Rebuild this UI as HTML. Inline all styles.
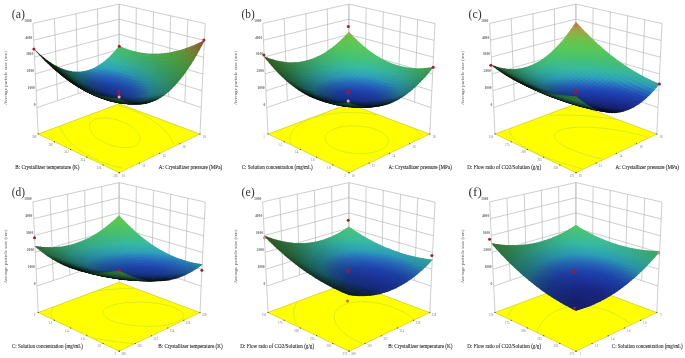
<!DOCTYPE html><html><head><meta charset="utf-8"><title>Response surface plots</title><style>
html,body{margin:0;padding:0;background:#fff;width:685px;height:358px;overflow:hidden}
svg{display:block;filter:blur(.6px)}
</style></head><body><svg width="685" height="358" viewBox="0 0 685 358" font-family="Liberation Serif"><path d="M36.9 107.6 32.9 23.4M57.5 100.6 54.4 18.6M78 93.7 76 13.7M98.6 86.7 97.5 8.9M119.1 79.8 119.1 4.1M119.1 79.8 119.1 4.1M135.6 85.4 136.3 8M152 90.9 153.5 11.9M168.4 96.5 170.7 15.8M184.8 102.1 187.9 19.7M201.2 107.6 205.2 23.6M36.9 107.6 119.1 79.8 201.2 107.6M36.1 90.7 119.1 64.6 202 90.8M35.3 73.9 119.1 49.5 202.8 74M34.5 57 119.1 34.4 203.6 57.2M33.7 40.2 119.1 19.2 204.4 40.4M32.9 23.4 119.1 4.1 205.2 23.6M36.9 107.6 38.2 134M201.2 107.6 200 134.1M119.1 79.8 119.2 103.8" fill="none" stroke="#b8b8b8" stroke-width=".7"/><path d="M119.2 172.7 200 134.1 119.2 103.8 38.2 134Z" fill="#ffff00" stroke="#b0a800" stroke-width=".45"/><path d="M129.7 125.6 129 125.2 128.3 124.8 127.6 124.3 126.9 123.9 126.1 123.5 125.2 123.1 124.3 122.6 123.3 122.2 122.3 121.8 121.2 121.3 120 120.9 118.8 120.4 117.4 120 116 119.6 114.4 119.2 112.8 118.8 111 118.5 109.2 118.2 107.3 118 105.4 117.9 103.5 117.9 101.5 118 99.7 118.2 98 118.5 96.4 118.9 94.9 119.5 93.7 120.1 92.6 120.8 91.7 121.5 91 122.2 90.4 123 90 123.8 89.8 124.5 89.6 125.3 89.5 126 89.5 126.7 89.5 127.4 89.6 128 89.8 128.6 90 129.3 90.2 129.8 90.4 130.4 90.7 130.9 91 131.5 91.3 132 91.6 132.5 92 132.9 92.3 133.4 92.7 133.9 93.1 134.3 93.5 134.8 93.9 135.2 94.3 135.6 94.8 136.1 95.2 136.5 95.7 136.9 96.3 137.4 96.8 137.8 97.4 138.2 98 138.7 98.6 139.1 99.3 139.6 100 140 100.7 140.5 101.5 141 102.4 141.5 103.3 142 104.3 142.5 105.4 143 106.6 143.5 107.8 144 109.2 144.5 110.7 145.1 112.2 145.6 113.9 146 115.8 146.5 117.7 146.9 119.7 147.2 121.8 147.5 124 147.6 126.1 147.6 128.2 147.5 130.3 147.3 132.1 146.9 133.8 146.4 135.3 145.7 136.6 145 137.6 144.2 138.5 143.3 139.1 142.4 139.5 141.6 139.8 140.7 140 139.8 140 139 140 138.2 139.9 137.5 139.7 136.7 139.4 136 139.2 135.4 138.9 134.7 138.5 134.1 138.2 133.6 137.8 133 137.5 132.5 137.1 132 136.7 131.5 136.2 131 135.8 130.6 135.4 130.1 134.9 129.7 134.5 129.2 134 128.8 133.5 128.4 133 128 132.5 127.6 132 127.2 131.4 126.8 130.9 126.4 130.3 126 129.7 125.6M173.7 144.7 173.1 143 172.4 141.3 171.6 139.8 170.7 138.3 169.8 136.9 168.9 135.6 167.9 134.3 166.9 133.1 165.9 132 164.9 130.9 163.8 129.8 162.8 128.8 161.7 127.8 160.6 126.8 159.5 125.9 158.4 124.9 157.2 124 156 123.1 154.8 122.2 153.6 121.4 152.3 120.5 151 119.6 149.6 118.8 148.2 117.9 146.7 117.1 145.1 116.2 143.5 115.3 141.8 114.4 140 113.5 138.1 112.7 136.1 111.7 134 110.8 131.8 109.9 129.3 109 126.8 108.1 124 107.2 121.1 106.3 118 105.5M60.1 125.9 60.4 127.2 60.8 128.4 61.3 129.6 61.8 130.8 62.4 132 63 133.1 63.7 134.2 64.4 135.2 65.1 136.3 65.9 137.3 66.7 138.4 67.6 139.4 68.5 140.4 69.5 141.4 70.5 142.4 71.5 143.5 72.6 144.5 73.8 145.5 75 146.6 76.3 147.6 77.7 148.7 79.2 149.8 80.8 150.9 82.5 152.1 84.4 153.2 86.3 154.4 88.5 155.6 90.8 156.9 93.3 158.2 96 159.5 99 160.8 102.2 162.1 105.7 163.4 109.5 164.7 113.6 166 118 167.1 122.7 168.2" fill="none" stroke="#d0ea24" stroke-width=".9"/><g transform="scale(.1)"><path d="M1191 510l30-39-30-14-29 38z" fill="#4abe69"/><path d="M1166 539l30-36-30-15-29 36z" fill="#45be73"/><path d="M1216 521l30-39-30-14-29 39z" fill="#48bd69"/><path d="M1141 567l30-34-30-16-30 34z" fill="#41bd81"/><path d="M1191 551l30-37-30-14-30 36z" fill="#43bc74"/><path d="M1242 531l29-40-30-12-29 39z" fill="#47bb6a"/><path d="M1116 593l30-32-30-17-30 31z" fill="#3dbc8f"/><path d="M1166 579l30-35-30-15-30 35z" fill="#3fbb83"/><path d="M1216 562l30-38-30-13-29 37z" fill="#42ba75"/><path d="M1090 617l31-30-30-18-31 29z" fill="#39bb9b"/><path d="M1267 540l29-41-30-11-29 40z" fill="#46b969"/><path d="M1141 606l30-33-30-16-30 32z" fill="#3bba91"/><path d="M1191 591l30-36-30-14-30 35z" fill="#3eb985"/><path d="M1242 572l30-39-31-12-29 38z" fill="#41b875"/><path d="M1064 638l31-27-30-19-30 27z" fill="#36b7a5"/><path d="M1115 630l31-31-30-16-31 30z" fill="#37b99e"/><path d="M1293 549l29-42-30-10-29 40z" fill="#45b769"/><path d="M1166 617l30-33-30-15-30 33z" fill="#3ab893"/><path d="M1217 601l30-36-31-13-29 35z" fill="#3db785"/><path d="M1039 658l31-25-30-19-31 24z" fill="#33b0ad"/><path d="M1268 581l29-40-30-11-30 39z" fill="#40b675"/><path d="M1089 652l31-28-30-17-30 27z" fill="#34b3a8"/><path d="M1140 642l31-31-30-15-31 30z" fill="#36b6a0"/><path d="M1319 556l29-42-30-10-30 42z" fill="#44b568"/><path d="M1191 629l30-35-30-13-30 33z" fill="#38b694"/><path d="M1242 611l30-37-30-12-30 36z" fill="#3bb585"/><path d="M1013 676l31-23-30-20-31 22z" fill="#31aab2"/><path d="M1064 673l31-26-30-19-31 26z" fill="#32acb0"/><path d="M1115 665l30-29-30-16-30 28z" fill="#33afaa"/><path d="M1293 589l30-40-30-10-30 39z" fill="#3fb474"/><path d="M1166 654l30-32-30-15-30 32z" fill="#35b3a1"/><path d="M1217 639l30-35-30-13-30 34z" fill="#37b494"/><path d="M1345 563l29-43-31-9-29 43z" fill="#44b366"/><path d="M1268 620l30-38-31-11-29 37z" fill="#3bb385"/><path d="M986 692l32-21-30-21-31 20z" fill="#2ea3b4"/><path d="M1038 691l31-24-30-19-31 23z" fill="#2fa6b6"/><path d="M1089 687l31-27-30-18-31 26z" fill="#30a9b3"/><path d="M1140 678l31-30-31-16-30 30z" fill="#32acac"/><path d="M1319 596l30-40-31-10-29 40z" fill="#3fb273"/><path d="M1191 665l31-33-31-13-30 32z" fill="#34b0a1"/><path d="M1243 648l30-35-31-12-30 35z" fill="#36b294"/><path d="M1371 569l29-44-31-7-29 42z" fill="#44b165"/><path d="M1011 708l32-22-30-20-31 21z" fill="#2d9fb9"/><path d="M1063 706l31-25-30-18-31 24z" fill="#2ea3b9"/><path d="M960 706l32-19-30-21-32 18z" fill="#2c9cb4"/><path d="M1294 628l30-39-31-10-30 38z" fill="#3ab183"/><path d="M1114 700l31-28-30-17-31 27z" fill="#2fa5b5"/><path d="M1166 689l30-30-30-15-31 30z" fill="#31a9ac"/><path d="M1346 603l29-42-31-8-29 41z" fill="#3eb071"/><path d="M1217 675l30-33-30-13-30 33z" fill="#33ada1"/><path d="M1269 657l30-36-31-11-30 35z" fill="#36b093"/><path d="M1397 574l30-44-31-7-30 43z" fill="#43b063"/><path d="M1037 723l31-23-30-19-31 22z" fill="#2c95bb"/><path d="M985 722l32-19-30-21-32 19z" fill="#2b91b7"/><path d="M1088 719l31-25-30-17-31 24z" fill="#2d9cbb"/><path d="M933 718l32-16-29-23-32 16z" fill="#2a91af"/><path d="M1320 635l30-39-31-10-30 39z" fill="#39af81"/><path d="M1140 712l30-29-30-15-31 27z" fill="#2ea2b6"/><path d="M1191 700l31-31-31-14-30 31z" fill="#30a6ac"/><path d="M1372 609l30-43-31-7-30 41z" fill="#3eaf6f"/><path d="M1243 685l30-35-31-12-30 34z" fill="#32aba0"/><path d="M1295 665l30-37-31-10-30 36z" fill="#35ae91"/><path d="M1010 738l32-20-30-20-32 19z" fill="#2a86b9"/><path d="M1062 737l31-23-30-18-31 22z" fill="#2b8bbc"/><path d="M958 735l32-17-30-22-31 16z" fill="#2985b2"/><path d="M1424 578l29-45-31-6-29 45z" fill="#43ae60"/><path d="M1114 732l31-26-31-16-31 25z" fill="#2c94bb"/><path d="M906 728l32-14-29-24-32 14z" fill="#2887a8"/><path d="M1165 723l31-29-30-15-31 29z" fill="#2d9fb6"/><path d="M1347 641l29-40-31-8-29 39z" fill="#39ad7f"/><path d="M1217 710l31-32-31-13-31 32z" fill="#2fa3ab"/><path d="M1269 693l30-35-31-11-30 34z" fill="#31a99e"/><path d="M1399 613l29-42-31-7-29 42z" fill="#3ead6c"/><path d="M1035 753l32-21-30-19-32 20z" fill="#297dbb"/><path d="M983 751l32-18-30-21-31 17z" fill="#287bb5"/><path d="M1087 750l32-24-31-17-31 23z" fill="#2a83bc"/><path d="M1321 672l30-38-31-9-30 37z" fill="#35ac8f"/><path d="M931 745l32-15-29-22-32 14z" fill="#277cab"/><path d="M1139 744l31-27-30-15-31 26z" fill="#2b8dba"/><path d="M1451 581l29-45-31-5-29 45z" fill="#44ad5e"/><path d="M879 735l33-11-30-25-32 12z" fill="#25809e"/><path d="M1191 734l31-30-31-14-30 29z" fill="#2c9db5"/><path d="M1373 647l30-41-31-7-30 40z" fill="#39ac7c"/><path d="M1243 719l31-33-31-11-31 32z" fill="#2ea1aa"/><path d="M1295 701l31-36-31-10-31 35z" fill="#31a79c"/><path d="M1426 617l29-43-31-6-30 43z" fill="#3eac69"/><path d="M1061 767l32-22-31-18-31 21z" fill="#2874bc"/><path d="M1009 766l32-18-30-20-32 18z" fill="#2771b7"/><path d="M1113 763l31-25-30-16-31 24z" fill="#297cbc"/><path d="M957 762l32-16-30-21-32 15z" fill="#2671af"/><path d="M1348 678l30-39-32-8-30 38z" fill="#34aa8c"/><path d="M1165 755l31-28-31-14-31 27z" fill="#2a88b9"/><path d="M904 754l33-13-30-23-32 12z" fill="#2574a2"/><path d="M1217 743l31-30-31-13-31 30z" fill="#2b99b4"/><path d="M1478 584l29-47-31-3-29 45z" fill="#44ab5b"/><path d="M852 741l32-9-29-25-33 8z" fill="#237a94"/><path d="M1400 651l30-41-32-7-29 41z" fill="#39aa79"/><path d="M1270 727l30-33-31-11-30 33z" fill="#2e9fa8"/><path d="M1322 707l30-36-31-9-30 36z" fill="#31a599"/><path d="M1034 781l32-19-30-19-32 18z" fill="#2669b8"/><path d="M1087 780l31-23-30-17-32 22z" fill="#286dbc"/><path d="M982 778l32-16-30-21-32 16z" fill="#2567b2"/><path d="M1453 620l29-44-31-5-30 44z" fill="#3eaa66"/><path d="M1139 775l31-26-31-15-31 25z" fill="#2976bc"/><path d="M929 771l33-13-30-23-32 13z" fill="#246aa6"/><path d="M1191 765l31-28-31-13-31 27z" fill="#2a84b8"/><path d="M1375 683l29-39-31-7-30 38z" fill="#34a888"/><path d="M877 760l32-10-29-24-33 9z" fill="#236f98"/><path d="M1244 752l30-31-31-12-30 31z" fill="#2b97b2"/><path d="M824 745l33-7-29-26-33 6z" fill="#217789"/><path d="M1506 585l29-47-32-3-29 47z" fill="#45aa58"/><path d="M1296 735l31-34-32-10-30 33z" fill="#2d9ea5"/><path d="M1427 655l30-42-32-6-29 42z" fill="#39a875"/><path d="M1060 795l32-20-31-18-31 19z" fill="#2562b7"/><path d="M1007 793l33-17-31-20-32 17z" fill="#2460b1"/><path d="M1113 792l31-23-31-16-31 22z" fill="#2768bb"/><path d="M1349 713l30-37-32-8-30 36z" fill="#30a496"/><path d="M955 787l32-13-30-22-32 13z" fill="#2360a9"/><path d="M1165 785l31-26-31-14-31 25z" fill="#2871bb"/><path d="M1480 623l30-45-32-4-30 44z" fill="#3fa963"/><path d="M902 778l33-11-30-23-33 10z" fill="#22659c"/><path d="M1218 775l30-29-31-13-31 29z" fill="#2981b6"/><path d="M1402 688l29-40-31-7-30 40z" fill="#35a784"/><path d="M849 764l33-8-29-25-33 7z" fill="#216c8d"/><path d="M1270 760l31-32-32-11-30 32z" fill="#2a95af"/><path d="M796 746l33-4-29-27-33 4z" fill="#20707c"/><path d="M1533 586l30-48-32-2-30 47z" fill="#45a955"/><path d="M1323 741l30-35-31-9-31 35z" fill="#2d9da2"/><path d="M1455 658l29-43-32-5-29 43z" fill="#3aa770"/><path d="M1086 807l32-20-31-17-32 20z" fill="#245db6"/><path d="M1033 807l32-17-30-19-32 17z" fill="#235ab1"/><path d="M1139 804l31-24-31-15-31 23z" fill="#2664b9"/><path d="M980 803l33-14-30-21-33 14z" fill="#2259a9"/><path d="M1376 718l30-37-32-8-30 37z" fill="#30a492"/><path d="M1191 796l31-27-31-14-31 26z" fill="#276eb9"/><path d="M927 795l33-12-30-22-32 11z" fill="#215b9f"/><path d="M1244 783l31-29-31-12-31 29z" fill="#2980b4"/><path d="M1508 624l29-46-32-3-29 46z" fill="#3fa75f"/><path d="M874 783l33-9-29-24-33 8z" fill="#206190"/><path d="M1429 691l30-40-32-6-30 40z" fill="#35a580"/><path d="M1297 767l31-32-32-10-31 32z" fill="#2a96ad"/><path d="M821 766l33-5-29-26-33 5z" fill="#1f6a81"/><path d="M1350 747l30-36-32-8-30 35z" fill="#2d9c9e"/><path d="M1561 586l29-49-32-1-29 48z" fill="#46a851"/><path d="M768 746l33-3-28-27-34 1z" fill="#1e6a70"/><path d="M1059 821l32-19-31-17-32 17z" fill="#2254b0"/><path d="M1112 820l32-22-31-16-32 21z" fill="#2359b5"/><path d="M1482 660l30-44-32-3-30 43z" fill="#3aa66b"/><path d="M1006 818l32-15-30-20-32 15z" fill="#2153a9"/><path d="M1165 814l31-24-31-15-31 24z" fill="#2560b7"/><path d="M953 811l33-12-30-22-33 12z" fill="#20549f"/><path d="M1218 805l31-28-31-12-32 27z" fill="#276cb7"/><path d="M1403 723l30-39-32-6-30 38z" fill="#31a38e"/><path d="M900 800l33-9-30-23-33 8z" fill="#1f5894"/><path d="M1271 791l31-30-32-11-31 30z" fill="#287fb1"/><path d="M846 785l34-6-30-25-33 6z" fill="#1e6085"/><path d="M1536 624l29-46-32-2-30 46z" fill="#40a65c"/><path d="M1324 774l30-34-31-9-31 33z" fill="#2a95a9"/><path d="M1456 694l30-42-32-4-30 41z" fill="#35a47b"/><path d="M793 766l33-3-29-27-33 3z" fill="#1d6875"/><path d="M1085 834l32-20-31-16-32 18z" fill="#2150af"/><path d="M1032 832l32-16-30-19-33 16z" fill="#204ea8"/><path d="M1377 752l30-37-32-7-30 36z" fill="#2d9b9a"/><path d="M1138 831l32-22-31-15-32 21z" fill="#2355b3"/><path d="M979 827l32-13-30-21-33 13z" fill="#1f4e9f"/><path d="M1191 824l32-25-32-13-31 24z" fill="#245eb5"/><path d="M1589 585l30-50-33 0-29 49z" fill="#47a74d"/><path d="M1510 661l30-44-33-3-29 44z" fill="#3ba466"/><path d="M739 743l34 0-29-29-34 0z" fill="#1d6564"/><path d="M925 817l33-10-30-22-33 9z" fill="#1e5195"/><path d="M1245 813l31-28-32-12-31 28z" fill="#266bb5"/><path d="M1431 726l30-40-33-5-30 39z" fill="#31a28a"/><path d="M872 804l33-7-30-24-33 6z" fill="#1e5788"/><path d="M1298 798l31-31-32-10-31 31z" fill="#2880ae"/><path d="M818 786l34-4-29-26-34 3z" fill="#1c6079"/><path d="M1564 624l29-47-32-1-30 46z" fill="#41a558"/><path d="M1351 779l31-34-32-8-31 33z" fill="#2a94a5"/><path d="M1484 696l30-43-32-3-30 41z" fill="#36a276"/><path d="M1111 846l32-20-31-16-32 19z" fill="#204cae"/><path d="M1058 846l32-17-31-18-32 16z" fill="#1f49a8"/><path d="M1165 841l31-23-31-14-32 23z" fill="#2253b1"/><path d="M1005 842l32-14-30-20-33 13z" fill="#1e499f"/><path d="M764 764l34-1-29-27-34 0z" fill="#1c6269"/><path d="M1405 756l30-37-32-6-31 36z" fill="#2d9b96"/><path d="M1218 833l31-26-31-12-32 25z" fill="#245db3"/><path d="M951 833l33-10-30-22-33 10z" fill="#1d4b95"/><path d="M1271 821l31-29-31-11-31 29z" fill="#266cb2"/><path d="M1618 583l29-51-33 1-29 50z" fill="#48a649"/><path d="M1538 661l30-45-33-2-29 45z" fill="#3ca362"/><path d="M897 821l34-8-30-23-33 7z" fill="#1d4e8a"/><path d="M710 738l34 2-28-29-34-3z" fill="#1c6058"/><path d="M1458 728l30-40-32-4-30 39z" fill="#31a184"/><path d="M1325 804l31-32-32-8-31 31z" fill="#2882ab"/><path d="M844 805l33-5-29-25-34 4z" fill="#1c577c"/><path d="M1379 784l30-35-32-7-31 34z" fill="#2a94a1"/><path d="M1592 622l30-48-33 1-29 47z" fill="#42a454"/><path d="M790 784l33-1-29-27-34 1z" fill="#1b606e"/><path d="M1084 858l32-17-31-17-32 17z" fill="#1e45a7"/><path d="M1138 857l32-21-32-15-32 20z" fill="#204aad"/><path d="M1512 696l30-43-33-2-29 42z" fill="#37a170"/><path d="M1031 855l32-14-31-19-32 14z" fill="#1d449f"/><path d="M1191 851l32-24-32-13-31 23z" fill="#2151af"/><path d="M977 849l33-12-31-20-32 11z" fill="#1c4595"/><path d="M1245 841l31-26-32-12-31 26z" fill="#245db1"/><path d="M1432 759l30-38-32-5-30 37z" fill="#2e9b91"/><path d="M923 838l33-9-30-22-33 8z" fill="#1c488b"/><path d="M735 759l35 2-29-28-34-2z" fill="#1b5e5d"/><path d="M1299 827l31-29-33-10-30 29z" fill="#266eaf"/><path d="M869 823l34-5-30-24-33 4z" fill="#1b4e7f"/><path d="M1566 660l30-45-33-1-29 45z" fill="#3da25e"/><path d="M1647 579l29-51-33 3-29 50z" fill="#4ba347"/><path d="M1352 809l31-32-32-8-31 32z" fill="#2885a8"/><path d="M1486 730l30-41-32-3-30 40z" fill="#329f7f"/><path d="M681 730l34 5-28-30-35-5z" fill="#1c5c4d"/><path d="M815 804l34-3-29-25-34 1z" fill="#1a5871"/><path d="M1111 870l32-19-31-15-33 17z" fill="#1e42a7"/><path d="M1057 869l32-16-31-17-32 14z" fill="#1d409f"/><path d="M1406 787l31-35-33-6-30 35z" fill="#2a949c"/><path d="M1164 867l32-22-31-14-32 21z" fill="#1f48ab"/><path d="M1003 863l33-12-31-19-33 11z" fill="#1c4096"/><path d="M1218 860l32-25-32-12-32 24z" fill="#2151ae"/><path d="M1621 620l29-49-33 2-29 48z" fill="#44a350"/><path d="M761 780l34 1-29-27-34-2z" fill="#1a5b61"/><path d="M1541 696l29-43-33-2-29 43z" fill="#38a06a"/><path d="M949 854l33-9-30-22-33 9z" fill="#1b438b"/><path d="M1272 849l31-28-32-10-31 27z" fill="#235eaf"/><path d="M1460 761l30-39-32-4-30 38z" fill="#2e9c8c"/><path d="M895 840l34-6-30-23-34 5z" fill="#1b4880"/><path d="M1326 833l31-30-32-9-31 30z" fill="#2670ac"/><path d="M706 753l35 4-29-29-35-5z" fill="#1b5a51"/><path d="M841 822l34-3-30-24-34 2z" fill="#1a5073"/><path d="M1595 659l30-47-34 1-29 45z" fill="#3ea15a"/><path d="M1676 575l29-51-33 3-29 51z" fill="#4da144"/><path d="M1380 814l31-34-33-6-31 32z" fill="#288aa5"/><path d="M1515 730l29-41-32-3-30 41z" fill="#339e79"/><path d="M1137 881l33-19-32-15-32 18z" fill="#1d40a6"/><path d="M1083 881l33-16-31-17-33 15z" fill="#1c3d9f"/><path d="M786 800l34 1-29-27-34-1z" fill="#195966"/><path d="M1191 876l32-22-32-13-31 21z" fill="#1f47aa"/><path d="M651 721l35 7-28-30-35-8z" fill="#1c5642"/><path d="M1029 877l33-13-31-19-33 13z" fill="#1b3c96"/><path d="M1434 790l30-36-32-5-31 35z" fill="#2b9497"/><path d="M1245 868l32-25-32-12-32 25z" fill="#2151ac"/><path d="M975 869l33-10-30-20-33 9z" fill="#1a3e8b"/><path d="M1650 617l29-50-33 2-29 49z" fill="#45a24b"/><path d="M1569 695l30-44-33-1-30 44z" fill="#399f64"/><path d="M1299 855l32-28-33-10-31 28z" fill="#245fad"/><path d="M921 857l33-7-30-22-33 6z" fill="#1a4281"/><path d="M731 774l35 4-28-28-35-5z" fill="#1a5855"/><path d="M1488 762l31-39-33-3-30 38z" fill="#2f9c86"/><path d="M1354 838l30-31-32-8-31 31z" fill="#2674a8"/><path d="M867 840l33-3-29-24-34 3z" fill="#194975"/><path d="M676 743l35 7-28-29-35-8z" fill="#1a5546"/><path d="M1408 817l30-34-32-6-31 34z" fill="#288da1"/><path d="M1624 656l29-47-33 1-29 47z" fill="#3fa055"/><path d="M812 820l34-1-29-25-35-1z" fill="#195368"/><path d="M1705 570l29-52-33 4-29 52z" fill="#509e41"/><path d="M1110 892l33-16-32-16-32 16z" fill="#1c3c9e"/><path d="M1543 730l30-42-33-2-30 42z" fill="#349d72"/><path d="M1164 891l32-20-31-14-32 19z" fill="#1d40a4"/><path d="M1056 890l33-14-32-17-32 13z" fill="#1b3a96"/><path d="M1218 885l32-23-32-12-32 22z" fill="#1f47a8"/><path d="M1002 883l33-10-31-20-33 10z" fill="#193a8c"/><path d="M1273 875l31-26-32-10-32 25z" fill="#2153aa"/><path d="M1462 792l31-37-33-4-31 36z" fill="#2b9591"/><path d="M757 795l35 3-29-28-35-3z" fill="#195559"/><path d="M947 872l34-7-31-21-33 7z" fill="#193d81"/><path d="M620 709l36 10-27-31-36-11z" fill="#1b5138"/><path d="M1327 861l31-29-32-9-32 29z" fill="#2462ab"/><path d="M893 857l33-4-30-23-34 4z" fill="#194377"/><path d="M1598 693l30-45-34 1-29 44z" fill="#3a9e5f"/><path d="M1679 612l30-50-34 3-29 50z" fill="#47a147"/><path d="M1517 762l30-40-33-2-30 40z" fill="#309b80"/><path d="M1381 842l31-32-33-6-30 31z" fill="#2679a5"/><path d="M702 766l35 6-28-29-36-7z" fill="#19544b"/><path d="M838 838l34-1-30-25-34 1z" fill="#184c6a"/><path d="M1137 903l32-18-31-14-33 16z" fill="#1c3b9d"/><path d="M1436 820l30-35-32-5-31 34z" fill="#288d9b"/><path d="M1083 902l32-15-31-16-33 14z" fill="#1b3995"/><path d="M1191 900l32-21-32-13-32 20z" fill="#1d3fa3"/><path d="M1028 897l33-12-31-18-33 11z" fill="#19378c"/><path d="M1653 652l30-48-34 3-29 47z" fill="#419f51"/><path d="M1246 892l31-23-32-11-31 23z" fill="#1f48a6"/><path d="M783 815l34 2-29-26-35-3z" fill="#18535d"/><path d="M1572 729l30-43-34-1-29 43z" fill="#359c6c"/><path d="M646 732l36 9-28-30-36-10z" fill="#1a4e3b"/><path d="M1735 564l29-53-34 5-29 53z" fill="#539b3f"/><path d="M973 887l34-8-31-20-33 7z" fill="#183981"/><path d="M1300 881l32-27-33-9-31 26z" fill="#2155a8"/><path d="M1491 793l30-38-33-3-30 37z" fill="#2c968b"/><path d="M919 874l33-5-30-22-34 4z" fill="#183e77"/><path d="M1355 865l31-29-33-8-31 29z" fill="#2466a8"/><path d="M727 787l35 5-28-28-35-6z" fill="#18504d"/><path d="M864 856l34-2-30-24-34 1z" fill="#17456c"/><path d="M1627 690l30-46-34 2-29 45z" fill="#3b9d5a"/><path d="M590 694l36 13-27-32-36-13z" fill="#1a472c"/><path d="M1709 607l29-51-34 4-29 51z" fill="#4a9e44"/><path d="M1409 845l31-32-33-6-30 32z" fill="#267fa1"/><path d="M1546 762l30-41-34-1-30 40z" fill="#319a79"/><path d="M1109 913l33-15-32-16-32 15z" fill="#1b3894"/><path d="M1164 913l32-19-32-13-32 17z" fill="#1c3b9c"/><path d="M671 755l36 8-28-29-36-9z" fill="#174a3c"/><path d="M809 834l34 1-29-25-35-2z" fill="#174e5f"/><path d="M1055 909l33-12-32-17-33 11z" fill="#19358c"/><path d="M1219 908l32-21-33-12-32 20z" fill="#1d3fa2"/><path d="M1464 821l31-35-33-4-31 35z" fill="#298e95"/><path d="M1000 901l33-9-31-19-33 8z" fill="#183682"/><path d="M1273 899l32-24-33-10-31 23z" fill="#1f4aa5"/><path d="M1683 648l29-49-34 3-29 49z" fill="#429e4c"/><path d="M1601 726l30-43-34 0-30 43z" fill="#369b65"/><path d="M945 889l34-6-31-21-34 5z" fill="#173a77"/><path d="M1328 886l31-27-32-8-32 26z" fill="#2258a6"/><path d="M753 807l35 5-29-27-35-5z" fill="#164b4d"/><path d="M1765 557l29-54-34 6-29 54z" fill="#56983c"/><path d="M615 718l37 12-27-31-37-12z" fill="#17432d"/><path d="M1519 793l31-39-34-2-30 38z" fill="#2d9785"/><path d="M890 873l34-3-30-23-34 2z" fill="#173f6e"/><path d="M1383 869l31-30-33-7-31 30z" fill="#246ca4"/><path d="M697 777l36 8-28-29-36-8z" fill="#15473c"/><path d="M1657 686l29-46-34 2-29 46z" fill="#3d9c55"/><path d="M835 852l34 1-29-25-35-1z" fill="#15455d"/><path d="M1438 848l31-34-34-4-30 32z" fill="#26869d"/><path d="M1739 601l29-52-34 5-29 51z" fill="#4d9b41"/><path d="M1575 760l30-41-34 0-30 40z" fill="#329972"/><path d="M1137 923l32-15-32-15-32 15z" fill="#1a3794"/><path d="M1191 921l33-18-33-13-32 18z" fill="#1c3b9b"/><path d="M1082 921l33-13-32-16-33 12z" fill="#19358b"/><path d="M559 677l37 16-26-32-38-17z" fill="#183d22"/><path d="M1246 915l32-22-32-11-32 22z" fill="#1d41a0"/><path d="M1027 914l33-9-31-18-34 9z" fill="#173382"/><path d="M1301 905l32-25-33-9-32 24z" fill="#1f4ca3"/><path d="M779 827l35 4-29-26-35-5z" fill="#14464c"/><path d="M1493 822l30-36-33-3-30 36z" fill="#2a8f8f"/><path d="M972 904l33-7-31-20-33 6z" fill="#173677"/><path d="M641 741l36 12-27-30-37-12z" fill="#153f2e"/><path d="M1356 891l31-28-33-8-31 28z" fill="#225ca5"/><path d="M1713 642l29-49-34 4-30 49z" fill="#449d47"/><path d="M1630 723l30-44-34 1-29 44z" fill="#389a5e"/><path d="M916 889l34-3-30-22-34 2z" fill="#163a6b"/><path d="M1795 549l29-55-34 8-29 54z" fill="#5a9539"/><path d="M723 798l36 7-29-28-36-8z" fill="#13423c"/><path d="M1548 792l31-39-34-1-30 38z" fill="#2e977e"/><path d="M1411 872l31-31-33-6-31 31z" fill="#2472a0"/><path d="M861 869l34 0-29-23-35-1z" fill="#143d5b"/><path d="M584 702l37 15-26-32-38-15z" fill="#153922"/><path d="M1164 933l32-17-32-13-32 15z" fill="#1a3793"/><path d="M1467 849l30-34-33-4-31 34z" fill="#278898"/><path d="M1109 932l33-13-32-16-33 13z" fill="#19348b"/><path d="M1219 930l32-20-32-12-33 19z" fill="#1c3b9a"/><path d="M1686 682l30-48-34 4-30 47z" fill="#3f9b50"/><path d="M1054 927l33-10-32-18-33 10z" fill="#173282"/><path d="M805 846l35 3-29-25-35-4z" fill="#13424c"/><path d="M667 764l36 11-28-29-36-12z" fill="#133c2e"/><path d="M1274 922l32-23-33-10-32 22z" fill="#1d439f"/><path d="M1604 758l30-43-34 1-30 42z" fill="#33986b"/><path d="M1769 593l29-52-34 6-29 52z" fill="#50983e"/><path d="M998 918l34-8-31-19-34 7z" fill="#163378"/><path d="M1329 910l32-26-33-8-32 25z" fill="#2050a1"/><path d="M1522 822l30-37-33-2-31 36z" fill="#2a9189"/><path d="M943 904l34-4-31-21-34 3z" fill="#153468"/><path d="M527 657l38 19-26-32-38-19z" fill="#16341a"/><path d="M749 818l36 6-29-26-36-7z" fill="#123d3c"/><path d="M1384 894l32-29-34-6-31 28z" fill="#2261a2"/><path d="M610 726l37 14-27-30-37-15z" fill="#133622"/><path d="M887 886l35-1-30-22-35 0z" fill="#133659"/><path d="M1660 719l30-45-34 2-30 45z" fill="#399959"/><path d="M1743 636l29-51-34 6-30 49z" fill="#479b43"/><path d="M1440 874l31-32-34-4-31 31z" fill="#247a9c"/><path d="M1578 790l30-40-34 0-30 40z" fill="#2f9677"/><path d="M1826 540l29-56-35 9-29 55z" fill="#628f37"/><path d="M692 786l37 10-28-29-37-10z" fill="#11382e"/><path d="M831 864l35 2-29-24-35-3z" fill="#113b4a"/><path d="M1136 942l33-14-32-15-33 14z" fill="#19348b"/><path d="M1191 941l33-17-33-13-32 17z" fill="#1a3793"/><path d="M1081 938l33-11-32-16-33 10z" fill="#173182"/><path d="M1247 937l32-21-33-11-32 20z" fill="#1b3c9a"/><path d="M1495 849l31-35-34-2-30 34z" fill="#278a91"/><path d="M1025 930l34-7-32-18-33 7z" fill="#153075"/><path d="M1302 928l32-24-33-9-32 23z" fill="#1e469d"/><path d="M552 683l39 18-26-32-39-18z" fill="#13311a"/><path d="M1717 676l29-49-34 5-30 48z" fill="#419a4b"/><path d="M1634 754l30-43-35 2-29 42z" fill="#359763"/><path d="M970 918l34-4-31-20-34 4z" fill="#133065"/><path d="M775 837l36 6-29-26-36-6z" fill="#10393b"/><path d="M1357 914l32-26-33-7-32 26z" fill="#2054a0"/><path d="M1800 585l29-53-35 7-29 53z" fill="#54963b"/><path d="M635 749l38 13-27-29-38-14z" fill="#113223"/><path d="M1551 820l31-37-34-1-31 37z" fill="#2b9382"/><path d="M914 902l34-1-30-22-35 1z" fill="#123156"/><path d="M1413 897l31-30-33-5-32 29z" fill="#23689e"/><path d="M718 807l37 9-28-28-37-9z" fill="#10352e"/><path d="M1690 714l30-46-35 4-29 45z" fill="#3b9854"/><path d="M858 881l35 2-30-23-35-3z" fill="#103448"/><path d="M494 635l40 22-25-32-40-23z" fill="#132c13"/><path d="M1469 875l31-33-34-3-31 32z" fill="#258298"/><path d="M1773 628l30-51-35 6-30 51z" fill="#4b9840"/><path d="M1607 787l30-41-34 2-30 40z" fill="#31956f"/><path d="M1164 951l32-15-32-13-33 14z" fill="#19348b"/><path d="M578 707l38 17-26-30-38-18z" fill="#112d1a"/><path d="M1219 949l33-18-33-11-33 17z" fill="#1a3893"/><path d="M1108 949l33-12-32-15-33 11z" fill="#173182"/><path d="M1275 943l32-21-33-10-32 20z" fill="#1c3e99"/><path d="M1857 530l29-57-35 10-29 56z" fill="#6b8836"/><path d="M1052 943l34-9-32-17-33 8z" fill="#142d72"/><path d="M801 856l36 5-29-25-36-5z" fill="#0f353a"/><path d="M1330 932l32-24-33-8-32 24z" fill="#1e4a9c"/><path d="M1525 849l30-36-34-1-30 35z" fill="#288b8b"/><path d="M661 771l38 13-28-29-37-13z" fill="#0f2f23"/><path d="M997 932l34-5-32-19-34 4z" fill="#122c62"/><path d="M1386 918l31-28-33-6-32 27z" fill="#21599e"/><path d="M1747 669l30-49-35 6-30 48z" fill="#439a46"/><path d="M1664 749l30-43-35 3-30 43z" fill="#36965c"/><path d="M941 917l34-2-31-21-34 2z" fill="#112d53"/><path d="M1831 575l29-54-35 9-30 53z" fill="#579338"/><path d="M745 827l36 8-28-26-37-9z" fill="#0e312d"/><path d="M520 661l39 21-25-31-39-22z" fill="#112913"/><path d="M1581 818l30-38-34 0-31 38z" fill="#2d937b"/><path d="M1442 898l31-30-34-4-31 30z" fill="#23709a"/><path d="M884 898l35 1-30-23-35-1z" fill="#0f2f46"/><path d="M604 731l38 16-26-29-39-17z" fill="#0f2a19"/><path d="M1191 960l33-16-33-13-32 15z" fill="#19358b"/><path d="M1498 875l31-33-34-3-31 33z" fill="#268592"/><path d="M1136 959l33-13-33-14-33 12z" fill="#173181"/><path d="M1721 707l29-46-35 5-29 46z" fill="#3d984e"/><path d="M1247 956l33-19-34-10-32 18z" fill="#1a3993"/><path d="M687 793l38 12-28-28-37-13z" fill="#0e2c22"/><path d="M828 874l35 4-29-24-36-5z" fill="#0e3239"/><path d="M1080 954l33-9-32-17-33 9z" fill="#142b6f"/><path d="M1804 619l30-52-36 8-29 51z" fill="#4e953d"/><path d="M1637 783l30-41-34 2-30 41z" fill="#329468"/><path d="M1303 948l32-22-33-8-32 21z" fill="#1c4297"/><path d="M1024 945l34-6-32-18-34 5z" fill="#12295f"/><path d="M1359 936l32-25-34-7-32 25z" fill="#1f4f9b"/><path d="M462 610l40 25-24-31-41-27z" fill="#132610"/><path d="M1888 518l29-57-35 11-29 56z" fill="#748135"/><path d="M1554 847l31-36-35-1-30 36z" fill="#298d84"/><path d="M546 686l39 21-25-31-40-21z" fill="#0f2513"/><path d="M968 931l34-3-31-20-34 3z" fill="#102950"/><path d="M771 846l36 8-28-26-37-8z" fill="#0d2d2c"/><path d="M1415 920l31-28-34-5-31 27z" fill="#21609b"/><path d="M630 754l38 16-26-29-39-17z" fill="#0e2719"/><path d="M911 913l35 1-30-22-35-1z" fill="#0f2a43"/><path d="M1694 744l30-45-35 5-30 43z" fill="#389556"/><path d="M1778 661l29-50-35 7-29 49z" fill="#459842"/><path d="M1471 899l31-31-34-3-31 30z" fill="#237996"/><path d="M1611 815l30-39-35 1-30 39z" fill="#2e9273"/><path d="M1862 565l29-55-35 10-30 54z" fill="#5f8d36"/><path d="M714 813l37 12-28-27-37-12z" fill="#0d2922"/><path d="M855 891l35 4-30-23-35-5z" fill="#0d2c37"/><path d="M1163 968l33-13-32-14-33 13z" fill="#16307e"/><path d="M1219 967l33-16-33-12-33 16z" fill="#19358b"/><path d="M487 636l41 25-25-30-40-26z" fill="#10230f"/><path d="M1107 964l34-10-33-15-33 9z" fill="#132a6c"/><path d="M1275 962l33-19-34-10-32 19z" fill="#1a3c92"/><path d="M1527 874l31-34-34-1-31 33z" fill="#27868b"/><path d="M572 710l39 20-25-29-40-21z" fill="#0d2213"/><path d="M1051 956l34-6-32-17-34 6z" fill="#11275c"/><path d="M1332 953l31-23-33-8-32 22z" fill="#1d4696"/><path d="M1751 700l30-48-35 7-30 47z" fill="#3f9749"/><path d="M1668 778l30-42-35 4-30 41z" fill="#349360"/><path d="M798 864l36 7-29-24-37-8z" fill="#0c2a2b"/><path d="M995 944l34-3-31-19-35 3z" fill="#0f264d"/><path d="M1835 609l30-52-36 9-29 52z" fill="#52923a"/><path d="M1388 939l31-26-34-5-31 25z" fill="#1f5499"/><path d="M656 776l38 15-27-28-38-16z" fill="#0c2419"/><path d="M1584 845l30-37-34 0-31 37z" fill="#2b8f7d"/><path d="M938 928l35 0-31-21-35 0z" fill="#0e2641"/><path d="M1920 506l29-58-36 12-29 57z" fill="#7c7934"/><path d="M1444 921l31-29-34-4-31 29z" fill="#226897"/><path d="M740 833l37 11-28-26-37-12z" fill="#0b2621"/><path d="M429 582l41 29-24-31-42-30z" fill="#12200c"/><path d="M513 662l41 24-25-29-41-26z" fill="#0e200e"/><path d="M1725 737l30-45-36 5-30 45z" fill="#3a9551"/><path d="M881 907l36 3-30-22-36-4z" fill="#0c2835"/><path d="M1809 652l29-51-35 8-30 50z" fill="#49953f"/><path d="M1500 899l31-32-34-2-31 31z" fill="#248091"/><path d="M598 734l39 19-26-28-39-21z" fill="#0c1f12"/><path d="M1641 811l30-40-35 2-30 40z" fill="#30916b"/><path d="M1191 976l33-14-33-12-33 13z" fill="#162f7b"/><path d="M1248 974l32-17-33-11-33 16z" fill="#19378b"/><path d="M1135 974l33-11-32-14-33 10z" fill="#132969"/><path d="M1893 553l30-55-36 11-29 55z" fill="#698635"/><path d="M1304 967l32-20-33-9-33 20z" fill="#1b3f91"/><path d="M1079 967l33-7-32-16-33 7z" fill="#102559"/><path d="M824 882l36 6-29-23-36-7z" fill="#0b272a"/><path d="M682 797l38 15-27-27-38-16z" fill="#0b2118"/><path d="M1360 956l32-23-34-7-32 23z" fill="#1d4b95"/><path d="M1557 872l31-35-35 0-31 34z" fill="#288884"/><path d="M1022 957l34-4-31-18-34 3z" fill="#0e244b"/><path d="M1782 692l30-49-36 8-29 47z" fill="#419644"/><path d="M1417 941l31-26-34-5-31 26z" fill="#205b97"/><path d="M1698 773l30-44-35 5-30 42z" fill="#359358"/><path d="M965 942l35-1-31-20-35 1z" fill="#0d233e"/><path d="M454 609l42 29-25-30-41-30z" fill="#0f1d0c"/><path d="M539 687l41 23-25-28-41-25z" fill="#0c1d0e"/><path d="M1867 598l29-53-36 10-29 53z" fill="#569037"/><path d="M767 852l37 10-28-25-38-11z" fill="#0a2320"/><path d="M1614 841l31-38-36 2-30 37z" fill="#2c8f75"/><path d="M1473 922l32-30-35-3-31 29z" fill="#227293"/><path d="M624 756l39 19-26-28-39-19z" fill="#0a1d11"/><path d="M908 922l36 3-30-21-36-3z" fill="#0b2433"/><path d="M1952 493l29-59-36 13-29 58z" fill="#816d33"/><path d="M1220 983l33-15-34-11-33 14z" fill="#152f78"/><path d="M1530 898l31-33-35-1-31 32z" fill="#25828a"/><path d="M1163 982l33-11-32-13-34 11z" fill="#122867"/><path d="M1756 730l29-46-35 6-30 45z" fill="#3c944b"/><path d="M709 818l38 13-27-26-39-14z" fill="#0a1e17"/><path d="M851 899l36 5-29-22-37-7z" fill="#0a2428"/><path d="M1276 979l33-18-34-9-32 17z" fill="#193a8a"/><path d="M1840 641l30-51-36 9-30 51z" fill="#4d923b"/><path d="M1107 978l33-9-32-15-34 8z" fill="#102456"/><path d="M1671 806l31-41-36 4-30 40z" fill="#319062"/><path d="M1333 971l32-21-34-7-32 20z" fill="#1c4490"/><path d="M480 635l42 28-25-28-41-30z" fill="#0d1a0b"/><path d="M1050 968l34-5-32-16-34 4z" fill="#0e2248"/><path d="M396 551l41 33-24-30-42-35z" fill="#12190a"/><path d="M1926 541l29-57-37 12-29 56z" fill="#737e34"/><path d="M1389 959l32-24-34-6-32 23z" fill="#1e5194"/><path d="M565 711l41 23-25-28-41-24z" fill="#0b1a0d"/><path d="M1587 869l31-35-35 1-31 35z" fill="#298a7d"/><path d="M993 955l35-2-32-18-35 1z" fill="#0c203c"/><path d="M793 870l37 10-28-25-37-10z" fill="#09201f"/><path d="M1446 942l32-27-35-4-31 27z" fill="#216393"/><path d="M650 778l40 18-27-26-39-19z" fill="#091a11"/><path d="M1814 682l29-49-36 9-29 48z" fill="#459440"/><path d="M936 937l35 2-31-21-35-2z" fill="#0b2031"/><path d="M1729 766l30-44-36 5-30 44z" fill="#389253"/><path d="M1899 586l29-54-36 11-29 54z" fill="#5f8935"/><path d="M1503 921l31-30-35-2-31 29z" fill="#237b8f"/><path d="M1645 837l30-39-35 3-31 38z" fill="#2e8e6c"/><path d="M735 837l38 13-27-25-39-14z" fill="#091c17"/><path d="M422 578l41 34-24-30-42-34z" fill="#0e1709"/><path d="M878 915l36 5-29-22-37-6z" fill="#092127"/><path d="M506 660l42 28-25-28-41-29z" fill="#0b180a"/><path d="M1191 990l34-12-34-12-33 11z" fill="#122964"/><path d="M1248 989l33-15-34-10-32 14z" fill="#153175"/><path d="M1135 987l33-9-33-14-33 8z" fill="#0f2354"/><path d="M1305 984l32-19-34-8-32 18z" fill="#193d87"/><path d="M591 734l41 23-25-27-41-24z" fill="#09170d"/><path d="M1985 478l29-60-37 15-29 58z" fill="#876132"/><path d="M1560 895l31-33-35 0-31 33z" fill="#268483"/><path d="M1078 979l34-6-33-15-34 5z" fill="#0d2045"/><path d="M1362 974l32-21-34-7-32 21z" fill="#1c498f"/><path d="M1787 721l30-47-36 8-30 46z" fill="#3e9446"/><path d="M1702 799l30-41-35 5-30 41z" fill="#33905a"/><path d="M820 888l37 8-28-23-38-9z" fill="#081d1d"/><path d="M1872 630l30-52-37 11-29 51z" fill="#518f38"/><path d="M1020 967l35-2-31-18-35 2z" fill="#0c1e39"/><path d="M676 799l40 18-26-26-40-18z" fill="#081710"/><path d="M1419 960l31-24-34-5-32 24z" fill="#1f5792"/><path d="M1618 865l30-36-35 2-31 36z" fill="#2a8b75"/><path d="M963 951l35 0-31-19-35-1z" fill="#0a1d2e"/><path d="M1958 527l29-58-36 14-30 56z" fill="#7b7533"/><path d="M1476 942l31-28-35-2-31 27z" fill="#216d8f"/><path d="M448 605l41 33-25-28-41-34z" fill="#0c1408"/><path d="M762 856l38 12-27-24-39-13z" fill="#081915"/><path d="M362 517l42 38-25-30-41-39z" fill="#111208"/><path d="M533 685l41 27-25-27-41-28z" fill="#091509"/><path d="M1760 758l30-45-36 7-30 44z" fill="#3a914d"/><path d="M905 930l37 4-31-21-36-5z" fill="#091d25"/><path d="M1845 672l30-50-36 10-30 49z" fill="#49913c"/><path d="M618 756l40 22-25-25-41-24z" fill="#08150c"/><path d="M1533 919l31-31-35 0-31 30z" fill="#247d88"/><path d="M1675 831l31-39-36 4-30 38z" fill="#2f8d64"/><path d="M1220 997l33-13-33-11-34 12z" fill="#122a61"/><path d="M1931 573l30-55-37 13-29 54z" fill="#698234"/><path d="M1277 995l33-16-34-10-33 16z" fill="#153372"/><path d="M1163 995l33-10-33-13-33 10z" fill="#0f2351"/><path d="M1334 988l32-19-34-8-32 19z" fill="#1a4083"/><path d="M1106 989l34-6-33-15-34 5z" fill="#0d1f43"/><path d="M847 904l37 8-29-22-37-9z" fill="#081b1c"/><path d="M703 819l40 17-27-25-40-17z" fill="#07150f"/><path d="M1591 892l30-34-35 1-31 34z" fill="#27867c"/><path d="M1391 977l32-23-34-5-32 22z" fill="#1d4f8e"/><path d="M1048 978l35-3-32-17-35 3z" fill="#0b1d37"/><path d="M2018 462l29-60-37 15-29 60z" fill="#8a5531"/><path d="M474 631l41 32-25-27-41-33z" fill="#091207"/><path d="M388 545l42 38-25-29-42-38z" fill="#0d1006"/><path d="M1819 711l29-47-36 8-30 47z" fill="#419340"/><path d="M1733 792l31-42-37 6-30 41z" fill="#358f54"/><path d="M1448 961l32-25-35-4-31 25z" fill="#20608e"/><path d="M991 963l35 0-31-18-36-1z" fill="#091b2c"/><path d="M559 708l41 27-25-25-41-29z" fill="#081209"/><path d="M1904 618l30-53-37 12-29 52z" fill="#568b35"/><path d="M789 874l38 12-28-24-38-12z" fill="#071714"/><path d="M1648 861l31-37-36 3-30 36z" fill="#2c8b6d"/><path d="M644 778l41 21-26-24-41-23z" fill="#07120b"/><path d="M1506 941l31-28-35-2-31 28z" fill="#22778b"/><path d="M933 944l36 3-30-20-37-4z" fill="#081b23"/><path d="M1991 512l29-59-37 15-29 57z" fill="#806932"/><path d="M730 839l39 16-26-24-40-17z" fill="#06130e"/><path d="M1792 749l30-46-37 8-29 45z" fill="#3c9147"/><path d="M1249 1003l33-14-34-10-33 13z" fill="#122b5e"/><path d="M1563 917l31-32-35 1-31 31z" fill="#258081"/><path d="M1191 1003l34-11-34-12-33 10z" fill="#0f244f"/><path d="M875 920l37 7-30-21-37-8z" fill="#07181a"/><path d="M1878 660l29-50-37 10-29 50z" fill="#4d8e39"/><path d="M1306 999l33-17-35-8-32 16z" fill="#15356f"/><path d="M1134 998l34-7-33-14-34 6z" fill="#0c1f41"/><path d="M414 573l42 37-25-28-42-38z" fill="#0b0f06"/><path d="M1707 824l30-40-36 6-31 39z" fill="#318c5b"/><path d="M500 656l41 32-25-26-41-33z" fill="#081007"/><path d="M1363 991l33-20-35-7-32 20z" fill="#1a4480"/><path d="M1076 989l35-4-32-16-35 3z" fill="#0b1b34"/><path d="M585 731l41 27-25-25-41-28z" fill="#071008"/><path d="M1964 559l29-56-37 14-29 55z" fill="#737a33"/><path d="M1421 978l32-23-35-5-32 23z" fill="#1e568c"/><path d="M1621 888l31-35-36 3-30 34z" fill="#298874"/><path d="M1019 975l35 0-32-18-35 0z" fill="#09192a"/><path d="M816 891l38 11-28-22-38-12z" fill="#061413"/><path d="M671 798l40 21-25-23-41-23z" fill="#06100a"/><path d="M1478 961l32-26-35-3-32 26z" fill="#206a8a"/><path d="M1851 700l30-48-37 10-30 48z" fill="#45903d"/><path d="M1765 784l30-43-36 7-30 42z" fill="#378e4e"/><path d="M961 957l36 3-31-19-36-4z" fill="#071820"/><path d="M1937 604l30-53-38 13-29 52z" fill="#608434"/><path d="M1680 855l30-38-36 4-31 37z" fill="#2e8a64"/><path d="M1536 939l31-29-35-1-31 29z" fill="#237a84"/><path d="M757 857l39 16-26-23-40-17z" fill="#05110d"/><path d="M441 600l41 36-25-27-42-37z" fill="#0a0f06"/><path d="M526 680l42 32-26-25-41-33z" fill="#081007"/><path d="M902 935l37 6-29-20-38-8z" fill="#061618"/><path d="M1220 1009l34-11-34-11-34 11z" fill="#0f244c"/><path d="M612 753l41 26-26-23-41-27z" fill="#061008"/><path d="M1278 1008l33-14-35-9-32 13z" fill="#122c5c"/><path d="M1163 1006l33-8-33-13-34 7z" fill="#0c1e3e"/><path d="M1335 1002l33-17-35-7-32 17z" fill="#16386c"/><path d="M1594 913l31-32-36 1-31 32z" fill="#268279"/><path d="M1105 998l34-4-33-15-34 4z" fill="#0a1a32"/><path d="M1824 738l30-46-37 9-30 46z" fill="#3e9042"/><path d="M1393 993l32-21-35-5-32 20z" fill="#1a487d"/><path d="M843 907l38 11-28-22-38-11z" fill="#051211"/><path d="M1910 647l30-51-37 12-30 51z" fill="#518b36"/><path d="M1738 817l30-41-36 6-30 40z" fill="#338c54"/><path d="M698 818l40 21-26-23-40-22z" fill="#050f0a"/><path d="M1047 986l35-1-32-17-35 1z" fill="#081828"/><path d="M1451 978l32-24-36-3-31 23z" fill="#1e5f88"/><path d="M1652 883l31-36-36 4-31 34z" fill="#2a876c"/><path d="M989 970l35 2-31-18-36-3z" fill="#07161e"/><path d="M467 625l41 36-25-26-42-37z" fill="#091006"/><path d="M1509 959l31-27-36-1-31 27z" fill="#217486"/><path d="M553 704l41 31-26-24-41-32z" fill="#071007"/><path d="M784 875l39 15-26-22-40-16z" fill="#050f0c"/><path d="M1797 774l30-44-37 9-30 43z" fill="#3a8e48"/><path d="M930 949l37 5-30-19-37-7z" fill="#061417"/><path d="M1883 688l30-49-37 11-30 49z" fill="#498d3a"/><path d="M639 774l41 26-26-22-41-27z" fill="#061009"/><path d="M1567 936l31-30-36 1-31 29z" fill="#247c7d"/><path d="M1711 848l30-39-36 6-31 37z" fill="#30895b"/><path d="M1249 1015l34-12-35-10-33 11z" fill="#0f254a"/><path d="M1191 1013l34-9-34-11-33 8z" fill="#0c1e3c"/><path d="M1307 1012l33-15-35-8-32 14z" fill="#122e59"/><path d="M725 837l40 20-26-21-41-22z" fill="#050f0a"/><path d="M871 922l38 10-29-20-38-11z" fill="#051010"/><path d="M1133 1007l35-5-33-14-35 5z" fill="#0a1a30"/><path d="M1365 1005l32-18-35-6-32 17z" fill="#163b69"/><path d="M1625 909l31-34-36 3-31 33z" fill="#288472"/><path d="M1075 996l35-2-32-15-35 1z" fill="#081626"/><path d="M1423 993l32-21-35-4-32 21z" fill="#1a4e77"/><path d="M494 650l41 35-26-24-41-37z" fill="#091006"/><path d="M1856 727l30-47-37 11-30 46z" fill="#428e3d"/><path d="M580 726l41 31-26-23-41-31z" fill="#071007"/><path d="M1770 808l30-42-37 8-30 41z" fill="#358b4e"/><path d="M1017 981l35 2-31-17-36-3z" fill="#06141c"/><path d="M1481 978l32-25-36-2-32 24z" fill="#1f6884"/><path d="M811 891l40 15-27-21-40-15z" fill="#040f0c"/><path d="M666 795l41 25-27-21-40-27z" fill="#060f09"/><path d="M1684 876l30-36-36 5-31 35z" fill="#2c8663"/><path d="M958 962l37 5-31-19-37-6z" fill="#051215"/><path d="M1539 957l32-28-36 0-32 27z" fill="#22767f"/><path d="M752 855l40 20-26-20-41-21z" fill="#050f0b"/><path d="M1829 764l30-45-37 10-30 43z" fill="#3c8d42"/><path d="M898 937l39 9-29-19-39-10z" fill="#040e0f"/><path d="M1598 932l31-30-37 1-31 30z" fill="#257e76"/><path d="M1279 1019l33-12-35-9-33 12z" fill="#0e2648"/><path d="M520 674l41 35-26-24-41-35z" fill="#081007"/><path d="M1221 1019l33-9-34-11-34 9z" fill="#0c1f3a"/><path d="M1337 1015l32-16-35-6-32 15z" fill="#123057"/><path d="M1162 1015l34-6-33-13-34 5z" fill="#09192e"/><path d="M1743 840l30-40-37 7-30 39z" fill="#318953"/><path d="M607 748l41 30-27-22-41-31z" fill="#071008"/><path d="M1395 1007l32-19-35-5-32 18z" fill="#163f65"/><path d="M1104 1006l35-3-33-15-35 2z" fill="#081523"/><path d="M1453 993l32-22-36-3-31 22z" fill="#1a5472"/><path d="M839 907l39 14-27-19-40-16z" fill="#040f0d"/><path d="M1657 903l30-34-36 4-31 33z" fill="#298469"/><path d="M1045 992l36 1-32-17-36-1z" fill="#06131a"/><path d="M693 814l41 25-27-20-41-26z" fill="#060f09"/><path d="M1512 976l31-25-36-1-31 24z" fill="#1f6e7d"/><path d="M1802 798l30-42-37 8-30 42z" fill="#388b48"/><path d="M986 974l37 4-31-18-37-5z" fill="#051013"/><path d="M779 872l41 19-27-18-41-21z" fill="#050f0b"/><path d="M547 698l41 34-27-23-40-35z" fill="#081007"/><path d="M1716 869l30-37-37 6-30 36z" fill="#2e865a"/><path d="M1570 954l31-29-36 1-31 28z" fill="#237878"/><path d="M926 951l39 8-29-18-39-10z" fill="#040e0f"/><path d="M634 769l41 30-27-21-41-31z" fill="#061008"/><path d="M1250 1024l33-10-34-9-34 9z" fill="#0c1f38"/><path d="M1308 1023l33-13-35-8-33 13z" fill="#0e2745"/><path d="M1191 1021l34-6-34-12-34 6z" fill="#09192c"/><path d="M1367 1017l32-16-35-6-33 16z" fill="#123353"/><path d="M1629 927l31-31-37 3-31 31z" fill="#26816e"/><path d="M1133 1014l34-4-33-13-35 3z" fill="#071521"/><path d="M1425 1007l32-20-35-3-33 19z" fill="#164460"/><path d="M866 922l40 13-27-18-40-14z" fill="#040e0d"/><path d="M720 832l41 25-27-19-41-25z" fill="#050f09"/><path d="M1775 830l30-40-37 8-30 40z" fill="#34884d"/><path d="M1074 1002l35 0-32-15-36-1z" fill="#051118"/><path d="M1484 992l32-23-37-1-31 22z" fill="#1a5b6d"/><path d="M1688 896l31-34-37 5-31 34z" fill="#2b8361"/><path d="M1014 985l37 4-31-17-37-4z" fill="#040e11"/><path d="M574 720l41 34-27-22-41-35z" fill="#0d1c0c"/><path d="M807 888l40 19-27-17-40-21z" fill="#050f0b"/><path d="M1543 973l31-26-36 0-32 26z" fill="#206f75"/><path d="M661 789l41 29-27-19-41-30z" fill="#061008"/><path d="M954 963l39 8-29-17-39-9z" fill="#040e0f"/><path d="M1602 949l31-29-37 3-31 28z" fill="#247b71"/><path d="M1748 861l30-38-37 7-31 37z" fill="#308552"/><path d="M1280 1029l33-11-35-9-33 11z" fill="#0b2035"/><path d="M1221 1027l34-7-35-11-34 7z" fill="#091929"/><path d="M1338 1026l33-14-35-7-33 14z" fill="#0e2a42"/><path d="M748 850l40 24-27-17-40-26z" fill="#050f0a"/><path d="M894 936l40 13-27-17-41-14z" fill="#040e0d"/><path d="M1162 1021l34-4-33-12-35 3z" fill="#07141f"/><path d="M1397 1018l32-17-35-4-33 16z" fill="#12374f"/><path d="M1661 921l31-32-38 4-30 32z" fill="#288066"/><path d="M1103 1011l35-1-33-14-35 0z" fill="#051016"/><path d="M1456 1007l32-21-36-2-32 19z" fill="#16495c"/><path d="M602 742l40 33-27-21-41-34z" fill="#0c1c0c"/><path d="M1043 995l37 3-32-15-37-4z" fill="#040e11"/><path d="M835 903l40 19-27-16-41-20z" fill="#050f0c"/><path d="M1515 990l31-23-36-1-32 23z" fill="#1a5d66"/><path d="M689 808l40 29-28-18-40-30z" fill="#0b1b0f"/><path d="M1720 888l31-35-38 6-30 35z" fill="#2d8258"/><path d="M983 975l38 7-29-16-39-8z" fill="#040e0f"/><path d="M1574 969l31-26-37 1-31 26z" fill="#20706d"/><path d="M776 867l40 24-28-16-40-26z" fill="#091b12"/><path d="M922 949l40 12-28-15-40-14z" fill="#040e0d"/><path d="M1633 944l31-30-37 4-31 29z" fill="#267c69"/><path d="M1310 1032l33-11-36-8-33 11z" fill="#0b2132"/><path d="M1251 1032l33-8-35-9-33 7z" fill="#091927"/><path d="M1369 1028l32-15-36-6-32 14z" fill="#0e2c3f"/><path d="M1191 1028l35-5-35-12-34 5z" fill="#06141d"/><path d="M629 762l40 33-27-20-41-33z" fill="#0c1c0d"/><path d="M1428 1019l32-18-36-4-33 18z" fill="#123b4b"/><path d="M1132 1019l35-2-33-13-35 1z" fill="#050f14"/><path d="M863 917l40 19-28-14-40-20z" fill="#050f0c"/><path d="M1487 1005l32-21-37-1-32 20z" fill="#164d57"/><path d="M716 827l41 28-28-17-40-30z" fill="#0a1b0f"/><path d="M1072 1005l36 2-31-15-37-2z" fill="#040f11"/><path d="M1693 914l31-33-38 5-31 33z" fill="#2a7f5d"/><path d="M1546 987l32-24-38 0-31 24z" fill="#1b5d5f"/><path d="M1011 986l39 6-30-15-39-7z" fill="#040e0f"/><path d="M804 883l40 23-28-15-40-24z" fill="#091a12"/><path d="M1605 965l32-28-38 3-31 27z" fill="#217165"/><path d="M950 961l41 12-28-13-41-15z" fill="#040e0d"/><path d="M656 782l41 32-28-18-41-33z" fill="#0c1c0d"/><path d="M1281 1036l33-9-35-8-34 8z" fill="#081a24"/><path d="M1340 1034l33-12-36-6-33 11z" fill="#0b2330"/><path d="M1221 1033l34-6-35-10-34 5z" fill="#06131b"/><path d="M1399 1028l33-15-37-4-32 14z" fill="#0e2f3b"/><path d="M1665 938l31-31-38 5-30 29z" fill="#277c61"/><path d="M1162 1026l34-3-33-12-35 2z" fill="#040f13"/><path d="M744 844l40 28-28-16-40-29z" fill="#0a1b10"/><path d="M891 931l40 18-28-13-40-20z" fill="#081a15"/><path d="M1458 1018l33-19-37-2-32 18z" fill="#123e47"/><path d="M1101 1014l36 1-32-14-36-2z" fill="#040f11"/><path d="M1518 1003l32-22-37 0-32 21z" fill="#164d51"/><path d="M1040 996l38 6-29-14-39-7z" fill="#040e0f"/><path d="M832 898l40 23-29-14-40-24z" fill="#091a13"/><path d="M1578 983l31-25-37 2-32 24z" fill="#1c5e58"/><path d="M684 801l40 32-28-18-40-32z" fill="#0b1c0e"/><path d="M979 971l40 13-28-12-40-14z" fill="#040e0d"/><path d="M1637 959l32-28-38 3-31 28z" fill="#22705c"/><path d="M772 861l40 27-29-15-39-28z" fill="#0a1b10"/><path d="M1311 1039l33-10-36-7-33 9z" fill="#081a22"/><path d="M1251 1038l34-7-35-9-34 6z" fill="#061319"/><path d="M1370 1036l33-13-36-5-33 12z" fill="#0b242d"/><path d="M920 943l40 19-29-12-40-20z" fill="#081a15"/><path d="M1191 1032l35-3-35-11-34 2z" fill="#051013"/><path d="M1430 1028l32-16-37-3-32 15z" fill="#0e3138"/><path d="M1131 1021l36 1-33-13-36-1z" fill="#040f11"/><path d="M1490 1016l32-19-38-2-31 19z" fill="#123e42"/><path d="M861 912l39 23-29-13-40-24z" fill="#091a13"/><path d="M1069 1005l38 5-29-13-39-6z" fill="#040e0f"/><path d="M1550 999l31-22-37 1-32 21z" fill="#164d4b"/><path d="M712 819l40 31-29-16-40-32z" fill="#0b1c0e"/><path d="M1008 981l40 13-29-10-40-15z" fill="#040e0d"/><path d="M1610 978l31-26-38 3-31 25z" fill="#1c5e51"/><path d="M801 876l39 27-29-14-40-27z" fill="#0a1b10"/><path d="M949 955l39 18-29-10-39-20z" fill="#081a15"/><path d="M1342 1041l32-10-36-6-33 9z" fill="#081b20"/><path d="M1282 1041l33-7-36-8-33 6z" fill="#051316"/><path d="M1401 1036l33-13-37-4-32 13z" fill="#0a252a"/><path d="M1222 1037l34-4-35-10-35 3z" fill="#051013"/><path d="M1461 1027l32-17-37-2-32 16z" fill="#0e3034"/><path d="M1161 1028l35 0-33-12-36-1z" fill="#040f11"/><path d="M889 925l40 23-30-12-39-23z" fill="#091a13"/><path d="M740 836l40 31-29-15-40-32z" fill="#0b1b0f"/><path d="M1521 1013l32-20-38 0-31 19z" fill="#123e3d"/><path d="M1098 1013l39 4-30-10-39-7z" fill="#040e0e"/><path d="M1582 995l31-24-38 2-31 23z" fill="#174d45"/><path d="M1037 990l40 13-30-8-39-15z" fill="#071917"/><path d="M829 891l39 27-29-13-39-27z" fill="#0a1b11"/><path d="M978 965l39 19-30-9-39-19z" fill="#081a15"/><path d="M1312 1044l34-8-37-7-33 7z" fill="#051214"/><path d="M1373 1042l32-11-37-5-32 10z" fill="#071a1d"/><path d="M1252 1041l34-4-36-9-34 3z" fill="#051112"/><path d="M1433 1035l32-14-38-2-32 13z" fill="#0a2426"/><path d="M769 853l39 30-30-14-39-31z" fill="#0b1c0f"/><path d="M1191 1034l35-1-35-11-34 0z" fill="#040f10"/><path d="M918 937l39 23-30-10-39-23z" fill="#091a13"/><path d="M1493 1025l32-18-38-1-32 17z" fill="#0e3030"/><path d="M1128 1020l38 4-29-8-40-8z" fill="#040e0e"/><path d="M1553 1009l32-21-38 2-32 20z" fill="#123d38"/><path d="M1067 997l40 14-31-6-39-15z" fill="#071917"/><path d="M858 905l39 26-30-11-39-27z" fill="#091b11"/><path d="M1008 975l39 18-32-7-38-19z" fill="#081a15"/><path d="M797 868l39 30-30-13-39-31z" fill="#0c1f11"/><path d="M1344 1045l32-8-37-6-33 8z" fill="#051314"/><path d="M948 949l38 22-31-9-38-23z" fill="#091a13"/><path d="M1283 1044l33-5-37-8-33 5z" fill="#051112"/><path d="M1404 1042l32-12-38-3-32 10z" fill="#07191a"/><path d="M1222 1038l34-1-36-10-34 1z" fill="#040f10"/><path d="M1464 1034l32-15-38-2-32 15z" fill="#0a2323"/><path d="M1157 1026l39 4-31-4-39-10z" fill="#040e0e"/><path d="M1525 1021l32-18-39 1-31 17z" fill="#0e2f2c"/><path d="M887 918l39 26-31-11-39-26z" fill="#091b11"/><path d="M1098 1004l38 14-32-4-38-15z" fill="#071917"/><path d="M1038 984l38 18-32-6-38-19z" fill="#081a15"/><path d="M826 883l39 29-31-12-39-30z" fill="#0d2313"/><path d="M977 959l38 22-31-8-38-22z" fill="#091a13"/><path d="M1375 1045l32-8-38-4-32 8z" fill="#051313"/><path d="M1315 1046l32-6-38-6-32 5z" fill="#051111"/><path d="M1436 1040l32-12-39-2-32 12z" fill="#071818"/><path d="M1254 1041l33-1-39-8-31 1z" fill="#051010"/><path d="M1496 1031l32-16-39 0-31 15z" fill="#0a2220"/><path d="M1191 1023l35 11-34 0-36-12z" fill="#071817"/><path d="M916 930l39 25-32-9-38-26z" fill="#0a1e13"/><path d="M1129 1010l37 14-33-3-37-14z" fill="#071916"/><path d="M1068 992l38 17-33-4-38-18z" fill="#081a15"/><path d="M855 896l39 29-31-11-39-29z" fill="#0e2616"/><path d="M1007 969l38 21-32-6-38-22z" fill="#091a13"/><path d="M1346 1046l32-5-39-4-31 4z" fill="#051211"/><path d="M1407 1045l32-10-40-2-31 8z" fill="#061312"/><path d="M1286 1043l32-1-41-5-30 0z" fill="#05100f"/><path d="M1468 1038l31-13-39 0-31 12z" fill="#071715"/><path d="M946 941l38 25-32-8-38-25z" fill="#0c2115"/><path d="M1224 1028l33 10-37 0-34-11z" fill="#071917"/><path d="M1160 1015l36 14-34-1-36-15z" fill="#081916"/><path d="M1099 999l37 17-34-3-37-18z" fill="#081a15"/><path d="M884 909l39 28-32-10-38-29z" fill="#102918"/><path d="M1037 978l38 20-33-5-38-21z" fill="#091c14"/><path d="M976 952l37 24-32-7-38-25z" fill="#0d2417"/><path d="M1379 1046l30-6-40-2-30 4z" fill="#051210"/><path d="M1319 1043l30 0-41-1-30-3z" fill="#05100f"/><path d="M1439 1043l31-10-40-1-30 9z" fill="#061412"/><path d="M1255 1031l33 9-38 2-33-10z" fill="#081916"/><path d="M1191 1020l36 13-36 0-35-14z" fill="#081a15"/><path d="M914 921l38 27-32-9-38-28z" fill="#112c19"/><path d="M1129 1005l37 17-35-2-36-18z" fill="#081a14"/><path d="M1067 986l38 19-34-4-37-20z" fill="#0a1f16"/><path d="M1006 961l37 23-33-6-37-24z" fill="#0e2719"/><path d="M1350 1042l30 0-41 2-30-3z" fill="#081a16"/><path d="M1411 1044l30-6-41 1-30 4z" fill="#061210"/><path d="M1286 1034l33 8-38 2-33-9z" fill="#081a15"/><path d="M1223 1024l35 12-37 1-35-13z" fill="#081a15"/><path d="M944 932l38 27-33-8-38-28z" fill="#122f1b"/><path d="M1160 1011l36 15-35-1-36-16z" fill="#081a14"/><path d="M1098 992l37 20-34-3-37-20z" fill="#0b2218"/><path d="M1036 969l37 23-33-5-38-23z" fill="#0f2a1b"/><path d="M1382 1040l30 1-41 4-31-3z" fill="#081a15"/><path d="M1318 1035l32 7-38 4-33-8z" fill="#081a15"/><path d="M974 942l37 26-33-7-38-27z" fill="#13331d"/><path d="M1254 1027l35 12-37 2-35-13z" fill="#081a14"/><path d="M1191 1015l36 15-36 0-35-16z" fill="#091c15"/><path d="M1129 998l36 19-34-2-37-19z" fill="#0c2519"/><path d="M1066 977l38 22-35-4-37-22z" fill="#102d1c"/><path d="M1004 951l37 25-33-5-38-27z" fill="#14361f"/><path d="M1350 1035l32 7-39 4-33-7z" fill="#081a14"/><path d="M1286 1029l34 11-37 3-35-12z" fill="#081a14"/><path d="M1223 1018l35 15-36 1-36-15z" fill="#0a1f16"/><path d="M1160 1003l36 18-35 0-36-19z" fill="#0e271a"/><path d="M1097 983l37 22-35-3-37-22z" fill="#11301d"/><path d="M1034 959l38 25-34-5-38-25z" fill="#163920"/><path d="M1318 1030l34 10-38 4-34-11z" fill="#091a13"/><path d="M1255 1021l35 14-37 2-35-14z" fill="#0c2217"/><path d="M1191 1007l36 18-36 0-36-18z" fill="#0f2a1b"/><path d="M1128 989l37 21-35-2-37-21z" fill="#13331f"/><path d="M1065 966l37 24-34-3-38-25z" fill="#173c21"/><path d="M1287 1022l34 13-37 4-35-14z" fill="#0d2518"/><path d="M1223 1010l36 17-37 1-36-17z" fill="#102d1c"/><path d="M1160 993l36 21-36-1-36-21z" fill="#143620"/><path d="M1096 972l37 24-35-3-37-24z" fill="#193f22"/><path d="M1255 1012l36 16-37 3-36-17z" fill="#12301d"/><path d="M1191 997l37 19-37 1-36-20z" fill="#163921"/><path d="M1128 977l37 23-36-1-37-24z" fill="#1a4223"/><path d="M1223 999l37 19-37 2-37-19z" fill="#173c21"/><path d="M1159 981l37 22-36 0-37-23z" fill="#1c4624"/><path d="M1191 984l37 21-37 2-36-23z" fill="#1e4925"/></g><text x="11.8" y="17.6" font-size="13.5" fill="#333" textLength="13.2" lengthAdjust="spacingAndGlyphs">(a)</text><text transform="translate(5.6 78) rotate(-90)" x="0" y="1.6" text-anchor="middle" font-size="4.7" fill="#555" textLength="54" lengthAdjust="spacingAndGlyphs">Average particle size (nm)</text><text x="35.6" y="106" text-anchor="end" font-size="3.6" font-weight="bold" fill="#666">0</text><text x="34.8" y="89.1" text-anchor="end" font-size="3.6" font-weight="bold" fill="#666">1000</text><text x="34" y="72.3" text-anchor="end" font-size="3.6" font-weight="bold" fill="#666">2000</text><text x="33.2" y="55.4" text-anchor="end" font-size="3.6" font-weight="bold" fill="#666">3000</text><text x="32.4" y="38.6" text-anchor="end" font-size="3.6" font-weight="bold" fill="#666">4000</text><text x="31.6" y="21.8" text-anchor="end" font-size="3.6" font-weight="bold" fill="#666">5000</text><text x="115.2" y="176.5" text-anchor="middle" font-size="3" fill="#777">318</text><text x="99" y="168.8" text-anchor="middle" font-size="3" fill="#777">316</text><text x="82.8" y="161" text-anchor="middle" font-size="3" fill="#777">314</text><text x="66.6" y="153.3" text-anchor="middle" font-size="3" fill="#777">312</text><text x="50.4" y="145.6" text-anchor="middle" font-size="3" fill="#777">310</text><text x="34.2" y="137.8" text-anchor="middle" font-size="3" fill="#777">308</text><text x="123.5" y="176.5" text-anchor="middle" font-size="3" fill="#777">10</text><text x="143.7" y="166.9" text-anchor="middle" font-size="3" fill="#777">12</text><text x="163.9" y="157.2" text-anchor="middle" font-size="3" fill="#777">14</text><text x="184.1" y="147.5" text-anchor="middle" font-size="3" fill="#777">16</text><text x="204.3" y="137.9" text-anchor="middle" font-size="3" fill="#777">18</text><path d="M118.6 172.7h1.2M102.4 165h1.2M86.2 157.2h1.2M70 149.5h1.2M53.8 141.8h1.2M37.6 134h1.2M118.6 172.7h1.2M138.8 163.1h1.2M159 153.4h1.2M179.2 143.7h1.2M199.4 134.1h1.2" stroke="#553" stroke-width="1"/><text x="47.4" y="169" text-anchor="middle" font-size="5.6" fill="#333" stroke="#333" stroke-width=".12" textLength="64.3" lengthAdjust="spacingAndGlyphs">B: Crystallizer temperature (K)</text><text x="190.5" y="169" text-anchor="middle" font-size="5.6" fill="#333" stroke="#333" stroke-width=".12" textLength="63.4" lengthAdjust="spacingAndGlyphs">A: Crystallizer pressure (MPa)</text><circle cx="33.9" cy="48.9" r="1.5" fill="#a01c2c"/><circle cx="119.3" cy="46.3" r="1.5" fill="#a01c2c"/><circle cx="203.9" cy="40" r="1.5" fill="#a01c2c"/><circle cx="118.9" cy="93.5" r="1.5" fill="#a01c2c"/><circle cx="118.9" cy="91" r="1.5" fill="#a01c2c"/><circle cx="119.1" cy="96.9" r="1.5" fill="#e8b0b8"/><path d="M266.7 107.6 262.7 23.4M287.3 100.6 284.2 18.6M307.8 93.7 305.8 13.7M328.4 86.7 327.3 8.9M348.9 79.8 348.9 4.1M348.9 79.8 348.9 4.1M365.4 85.4 366.1 8M381.8 90.9 383.3 11.9M398.2 96.5 400.5 15.8M414.6 102.1 417.7 19.7M431 107.6 435 23.6M266.7 107.6 348.9 79.8 431 107.6M265.9 90.7 348.9 64.6 431.8 90.8M265.1 73.9 348.9 49.5 432.6 74M264.3 57 348.9 34.4 433.4 57.2M263.5 40.2 348.9 19.2 434.2 40.4M262.7 23.4 348.9 4.1 435 23.6M266.7 107.6 268 134M431 107.6 429.8 134.1M348.9 79.8 349 103.8" fill="none" stroke="#b8b8b8" stroke-width=".7"/><path d="M349 172.7 429.8 134.1 349 103.8 268 134Z" fill="#ffff00" stroke="#b0a800" stroke-width=".45"/><path d="M377.4 130.1 376.2 129.6 375 129.2 373.8 128.8 372.5 128.4 371.2 128.1 369.9 127.7 368.5 127.4 367.1 127.1 365.6 126.8 364.1 126.6 362.6 126.4 361.1 126.2 359.5 126.1 357.9 126 356.3 125.9 354.7 125.9 353.1 125.8 351.5 125.9 349.8 125.9 348.2 126 346.6 126.2 345 126.4 343.4 126.6 341.9 126.9 340.3 127.2 338.9 127.5 337.5 127.9 336.1 128.3 334.8 128.8 333.6 129.3 332.4 129.8 331.3 130.3 330.3 130.9 329.4 131.5 328.5 132.1 327.8 132.8 327.1 133.4 326.6 134.1 326.1 134.8 325.7 135.5 325.4 136.2 325.2 136.9 325 137.6 325 138.3 325.1 139 325.2 139.7 325.4 140.4 325.7 141.1 326 141.8 326.5 142.5 327 143.2 327.6 143.8 328.2 144.5 328.9 145.1 329.7 145.7 330.6 146.3 331.5 146.9 332.5 147.5 333.5 148.1 334.6 148.6 335.8 149.1 337 149.6 338.2 150.1 339.6 150.5 340.9 151 342.4 151.4 343.8 151.7 345.4 152.1 346.9 152.4 348.5 152.7 350.2 152.9 351.9 153.1 353.6 153.3 355.3 153.4 357.1 153.5 358.9 153.6 360.7 153.6 362.5 153.5 364.3 153.5 366 153.3 367.8 153.2 369.5 152.9 371.2 152.7 372.9 152.3 374.5 152 376.1 151.6 377.5 151.1 378.9 150.6 380.3 150.1 381.5 149.5 382.7 148.9 383.7 148.3 384.7 147.7 385.5 147 386.3 146.3 386.9 145.6 387.4 144.9 387.9 144.1 388.2 143.4 388.5 142.7 388.6 141.9 388.7 141.2 388.6 140.5 388.5 139.8 388.3 139 388 138.3 387.7 137.7 387.2 137 386.7 136.3 386.2 135.7 385.5 135 384.8 134.4 384.1 133.8 383.3 133.2 382.4 132.7 381.5 132.1 380.5 131.6 379.5 131.1 378.5 130.6 377.4 130.1M377.6 115 374.7 114.5 371.7 114 368.6 113.6 365.5 113.3 362.4 113 359.2 112.8 356 112.6 352.7 112.6 349.4 112.5 346.2 112.6 342.9 112.7 339.6 112.9 336.4 113.2 333.1 113.6 329.9 114 326.8 114.5 323.7 115.1 320.7 115.8 317.8 116.5 314.9 117.3 312.2 118.2 309.6 119.1 307.2 120.2 304.9 121.3 302.7 122.4 300.7 123.6 298.8 124.8 297.1 126.1 295.6 127.5 294.2 128.8 293.1 130.2 292.1 131.7 291.3 133.1 290.7 134.6 290.2 136 290 137.5 289.9 139 290 140.5 290.2 142 290.7 143.5 291.3 145M345.9 170.5 349.7 170.9M421.7 136.1 420.6 134.7 419.4 133.3 418.1 132 416.6 130.7 415 129.4 413.3 128.2" fill="none" stroke="#d0ea24" stroke-width=".9"/><g transform="scale(.1)"><path d="M3489 382l30-33-30-32-30 32z" fill="#7bbb48"/><path d="M3514 408l30-33-30-31-30 33z" fill="#70c14b"/><path d="M3464 408l30-31-30-33-30 31z" fill="#6fc04a"/><path d="M3489 435l30-32-30-31-30 31z" fill="#69c34f"/><path d="M3540 434l30-34-31-30-30 33z" fill="#6ac34f"/><path d="M3438 433l31-30-30-33-31 30z" fill="#68c14e"/><path d="M3515 460l30-31-31-31-30 32z" fill="#62c553"/><path d="M3464 460l30-30-30-32-30 30z" fill="#61c452"/><path d="M3565 458l30-33-30-29-30 33z" fill="#63c652"/><path d="M3413 457l30-28-30-34-30 29z" fill="#61c251"/><path d="M3489 486l31-31-31-30-30 30z" fill="#5bc756"/><path d="M3540 485l30-32-30-29-30 32z" fill="#5cc856"/><path d="M3438 484l31-29-30-32-31 29z" fill="#5bc555"/><path d="M3591 482l30-34-31-28-30 34z" fill="#5dc856"/><path d="M3387 480l31-27-30-34-31 27z" fill="#5bc353"/><path d="M3515 511l30-31-31-30-30 31z" fill="#56c85c"/><path d="M3566 509l30-33-31-28-30 32z" fill="#57c95b"/><path d="M3464 510l30-29-30-31-31 29z" fill="#55c65b"/><path d="M3617 504l30-34-31-27-30 34z" fill="#58ca5a"/><path d="M3413 507l30-27-30-33-31 27z" fill="#55c559"/><path d="M3361 501l31-26-30-33-31 25z" fill="#55c356"/><path d="M3540 535l31-32-31-28-30 31z" fill="#52c763"/><path d="M3489 535l31-29-31-30-30 29z" fill="#51c563"/><path d="M3592 531l30-32-31-27-30 32z" fill="#53c862"/><path d="M3438 533l31-28-31-31-30 28z" fill="#51c461"/><path d="M3643 525l30-34-31-25-30 34z" fill="#55c860"/><path d="M3387 529l31-26-31-33-30 26z" fill="#51c25e"/><path d="M3335 521l31-24-30-34-31 24z" fill="#52c05a"/><path d="M3515 559l30-30-30-28-31 29z" fill="#4dc46a"/><path d="M3566 557l31-31-31-27-31 31z" fill="#4ec569"/><path d="M3464 558l30-28-30-30-31 28z" fill="#4dc368"/><path d="M3618 553l30-33-31-26-30 33z" fill="#50c668"/><path d="M3412 555l31-26-30-32-31 26z" fill="#4dc166"/><path d="M3669 546l30-35-31-24-30 34z" fill="#51c765"/><path d="M3361 549l31-25-30-33-31 25z" fill="#4dbf63"/><path d="M3309 540l31-23-30-34-31 22z" fill="#4ebd5e"/><path d="M3541 582l30-30-31-27-30 29z" fill="#4ac370"/><path d="M3489 582l31-28-31-29-30 28z" fill="#49c270"/><path d="M3592 579l31-32-32-26-30 32z" fill="#4bc46f"/><path d="M3438 580l31-26-31-31-31 26z" fill="#49c06e"/><path d="M3644 573l30-33-31-25-30 33z" fill="#4cc56d"/><path d="M3386 575l31-25-30-31-31 24z" fill="#49be6b"/><path d="M3695 565l30-35-31-23-30 35z" fill="#4ec669"/><path d="M3334 568l32-23-30-34-32 23z" fill="#4abc66"/><path d="M3283 558l31-22-30-35-31 22z" fill="#4bba61"/><path d="M3515 605l31-28-31-28-31 28z" fill="#46c176"/><path d="M3567 604l30-30-31-27-30 30z" fill="#46c276"/><path d="M3463 604l31-26-30-30-31 27z" fill="#45c075"/><path d="M3618 600l31-32-32-25-30 31z" fill="#48c375"/><path d="M3412 601l31-25-31-31-31 25z" fill="#45be72"/><path d="M3670 593l30-34-31-23-30 33z" fill="#49c472"/><path d="M3360 594l31-23-30-32-31 23z" fill="#46bc6e"/><path d="M3722 583l30-35-32-22-30 35z" fill="#4cc46e"/><path d="M3308 585l31-21-30-34-31 22z" fill="#47b969"/><path d="M3256 574l32-20-30-35-32 20z" fill="#48b763"/><path d="M3541 627l31-28-31-27-31 29z" fill="#43c080"/><path d="M3489 628l31-27-31-29-31 27z" fill="#42bf7f"/><path d="M3593 625l30-31-31-25-30 30z" fill="#43c17e"/><path d="M3437 625l31-25-30-30-31 25z" fill="#42bd7c"/><path d="M3645 619l30-32-31-24-31 32z" fill="#45c27b"/><path d="M3385 620l32-24-31-31-31 24z" fill="#42bb78"/><path d="M3697 611l30-34-32-22-30 34z" fill="#47c376"/><path d="M3334 612l31-22-30-32-32 22z" fill="#43b971"/><path d="M3749 600l30-35-32-21-30 35z" fill="#49c371"/><path d="M3282 602l31-20-30-34-32 20z" fill="#44b66b"/><path d="M3229 589l32-19-30-35-31 18z" fill="#45b364"/><path d="M3515 650l31-28-31-27-31 28z" fill="#3fbd89"/><path d="M3567 648l31-29-31-25-31 29z" fill="#40bf89"/><path d="M3463 649l31-26-31-29-31 26z" fill="#3fbc87"/><path d="M3619 644l31-30-32-24-30 30z" fill="#41c087"/><path d="M3411 645l31-24-30-30-31 24z" fill="#3fba83"/><path d="M3671 638l31-33-32-22-30 32z" fill="#42c182"/><path d="M3359 638l32-22-31-32-31 23z" fill="#3fb87d"/><path d="M3723 628l30-34-31-21-30 34z" fill="#44c17b"/><path d="M3307 629l32-21-31-33-31 21z" fill="#40b575"/><path d="M3776 616l29-35-31-20-30 36z" fill="#47c274"/><path d="M3255 617l32-19-31-34-31 18z" fill="#41b36c"/><path d="M3202 602l32-17-29-36-32 17z" fill="#42b065"/><path d="M3541 671l31-28-31-26-31 28z" fill="#3cbc93"/><path d="M3489 671l31-26-31-27-31 25z" fill="#3cbb92"/><path d="M3594 668l30-29-31-24-31 29z" fill="#3dbe91"/><path d="M3437 668l31-24-31-29-31 24z" fill="#3bb98e"/><path d="M3646 663l30-31-31-23-31 31z" fill="#3ebe8e"/><path d="M3385 663l31-23-30-30-32 22z" fill="#3cb789"/><path d="M3698 655l30-32-32-22-30 33z" fill="#40bf88"/><path d="M3333 655l31-21-30-32-32 21z" fill="#3cb481"/><path d="M3750 645l30-35-32-20-30 35z" fill="#42c081"/><path d="M3280 644l32-19-30-33-32 19z" fill="#3db278"/><path d="M3803 631l30-36-33-18-29 36z" fill="#45c077"/><path d="M3228 631l32-18-30-34-32 17z" fill="#3eaf6d"/><path d="M3515 692l31-26-31-26-31 26z" fill="#39ba9b"/><path d="M3568 691l31-28-32-25-31 28z" fill="#39bb9b"/><path d="M3463 691l31-25-31-27-31 24z" fill="#38b899"/><path d="M3620 687l31-29-32-24-30 30z" fill="#3abc99"/><path d="M3175 615l32-16-29-36-33 15z" fill="#40ac64"/><path d="M3411 687l31-23-31-29-31 22z" fill="#38b694"/><path d="M3673 681l30-32-32-21-30 31z" fill="#3cbd94"/><path d="M3358 680l32-21-31-31-31 21z" fill="#39b48d"/><path d="M3725 672l30-33-32-21-30 33z" fill="#3ebd8e"/><path d="M3306 670l32-19-31-32-32 19z" fill="#3ab184"/><path d="M3778 660l29-35-32-19-30 35z" fill="#40be85"/><path d="M3253 658l32-18-30-33-32 17z" fill="#3bae7a"/><path d="M3830 645l30-36-32-17-30 36z" fill="#43be7a"/><path d="M3200 643l33-16-30-35-32 16z" fill="#3cab6e"/><path d="M3542 712l31-26-32-25-31 26z" fill="#36b7a3"/><path d="M3489 712l31-25-31-26-31 25z" fill="#36b5a2"/><path d="M3594 710l31-28-32-24-30 28z" fill="#37b9a3"/><path d="M3437 709l31-23-31-28-31 23z" fill="#36b49e"/><path d="M3647 705l30-30-31-22-31 30z" fill="#38bba0"/><path d="M3384 704l32-22-31-29-32 21z" fill="#36b398"/><path d="M3699 697l31-31-32-21-31 32z" fill="#3abb9a"/><path d="M3148 625l32-14-30-36-32 14z" fill="#3ea863"/><path d="M3332 695l31-19-30-31-32 19z" fill="#36b090"/><path d="M3752 687l30-33-32-19-30 33z" fill="#3cbc92"/><path d="M3279 684l32-18-30-32-32 18z" fill="#37ad86"/><path d="M3805 674l30-35-33-18-29 35z" fill="#3ebc88"/><path d="M3226 671l32-17-30-33-32 16z" fill="#39aa7a"/><path d="M3858 658l29-36-32-17-30 37z" fill="#41bc7d"/><path d="M3516 733l31-26-32-25-31 25z" fill="#33b0a9"/><path d="M3568 732l31-27-31-24-31 27z" fill="#34b2aa"/><path d="M3463 731l31-24-31-26-31 23z" fill="#33afa6"/><path d="M3621 728l31-28-32-23-31 29z" fill="#35b4a8"/><path d="M3173 654l32-14-29-35-33 14z" fill="#3aa76e"/><path d="M3410 726l32-21-31-28-32 21z" fill="#33aea1"/><path d="M3674 722l30-30-32-21-30 30z" fill="#36b7a5"/><path d="M3357 719l32-20-30-29-32 19z" fill="#33ae9a"/><path d="M3727 713l30-32-32-19-31 31z" fill="#38ba9e"/><path d="M3120 635l33-13-30-36-33 12z" fill="#3ca462"/><path d="M3305 709l32-18-31-31-32 18z" fill="#34ac91"/><path d="M3779 701l31-33-33-18-30 33z" fill="#3aba95"/><path d="M3252 697l32-17-30-32-33 16z" fill="#35a986"/><path d="M3832 687l30-35-32-17-30 35z" fill="#3dba8b"/><path d="M3199 682l32-15-30-34-32 15z" fill="#37a67a"/><path d="M3886 670l29-37-33-15-29 37z" fill="#40ba7e"/><path d="M3542 752l31-25-31-25-31 26z" fill="#31abb0"/><path d="M3595 750l31-27-32-23-31 27z" fill="#32adb0"/><path d="M3489 751l32-23-32-26-31 24z" fill="#31a9ae"/><path d="M3648 745l31-29-32-21-31 29z" fill="#33b0ad"/><path d="M3436 748l32-22-31-27-32 22z" fill="#31a8aa"/><path d="M3701 737l30-30-32-20-30 31z" fill="#34b3a8"/><path d="M3384 742l31-20-31-28-31 20z" fill="#31a8a4"/><path d="M3145 664l33-13-30-36-33 13z" fill="#38a36c"/><path d="M3754 727l30-32-32-18-31 32z" fill="#36b7a1"/><path d="M3331 734l31-19-30-30-32 19z" fill="#31a89b"/><path d="M3807 714l30-33-33-17-30 34z" fill="#39b898"/><path d="M3277 722l33-16-31-32-32 17z" fill="#32a892"/><path d="M3092 643l33-11-30-37-33 11z" fill="#3a9f5f"/><path d="M3860 699l30-36-33-15-30 35z" fill="#3bb88c"/><path d="M3224 708l33-15-31-32-32 14z" fill="#33a585"/><path d="M3569 770l31-25-32-23-31 25z" fill="#2fa6b6"/><path d="M3516 771l31-24-31-24-32 23z" fill="#2fa4b5"/><path d="M3622 767l31-28-32-21-31 27z" fill="#30a8b5"/><path d="M3463 769l31-22-31-26-32 22z" fill="#2ea3b2"/><path d="M3914 680l29-37-33-13-29 37z" fill="#3fb87f"/><path d="M3171 692l33-14-30-34-33 13z" fill="#35a178"/><path d="M3675 761l31-29-33-20-30 29z" fill="#31abb1"/><path d="M3410 764l31-20-31-28-31 21z" fill="#2fa2ac"/><path d="M3728 752l31-31-33-18-30 30z" fill="#33afab"/><path d="M3357 757l32-19-31-29-32 19z" fill="#2fa2a4"/><path d="M3781 741l31-33-33-17-30 32z" fill="#35b3a3"/><path d="M3117 672l33-11-29-36-33 11z" fill="#379e6a"/><path d="M3303 747l33-17-31-31-32 17z" fill="#2fa29b"/><path d="M3835 726l30-34-33-15-30 34z" fill="#37b699"/><path d="M3250 734l32-15-30-32-32 15z" fill="#30a390"/><path d="M3064 650l33-10-30-37-33 10z" fill="#399b5c"/><path d="M3888 710l30-36-33-14-30 35z" fill="#3ab68d"/><path d="M3197 718l32-13-30-33-33 13z" fill="#32a083"/><path d="M3543 789l31-24-32-23-31 24z" fill="#2d9dba"/><path d="M3596 787l31-26-32-21-31 25z" fill="#2da2bb"/><path d="M3489 788l32-22-32-25-31 23z" fill="#2c9db8"/><path d="M3649 783l31-28-32-20-31 27z" fill="#2fa4b9"/><path d="M3436 785l32-21-31-26-32 21z" fill="#2c9db4"/><path d="M3702 775l31-29-33-19-30 30z" fill="#30a7b4"/><path d="M3383 779l32-19-31-28-32 19z" fill="#2c9dad"/><path d="M3942 690l30-37-34-13-29 37z" fill="#3eb67e"/><path d="M3143 700l33-12-30-34-33 12z" fill="#339d75"/><path d="M3756 765l30-31-33-17-30 31z" fill="#32abad"/><path d="M3329 770l33-17-31-29-32 17z" fill="#2d9ca4"/><path d="M3809 753l30-33-33-16-30 33z" fill="#34b0a4"/><path d="M3276 758l32-15-30-31-33 16z" fill="#2e9d99"/><path d="M3089 679l33-10-29-36-34 10z" fill="#359a66"/><path d="M3863 737l30-34-33-14-30 34z" fill="#36b499"/><path d="M3222 744l33-14-30-32-33 14z" fill="#2f9e8d"/><path d="M3569 807l32-25-32-22-31 24z" fill="#2c90bc"/><path d="M3516 807l31-23-31-23-32 22z" fill="#2b8dbb"/><path d="M3623 803l31-26-32-20-31 26z" fill="#2c95bc"/><path d="M3035 655l34-8-30-37-33 8z" fill="#389659"/><path d="M3463 805l31-21-31-25-32 21z" fill="#2b8eb7"/><path d="M3917 719l29-36-33-13-30 36z" fill="#39b48c"/><path d="M3676 798l31-28-32-19-31 27z" fill="#2d9fbb"/><path d="M3169 727l33-12-31-33-32 12z" fill="#309c80"/><path d="M3409 800l32-19-31-27-32 19z" fill="#2b93b3"/><path d="M3730 789l30-29-32-18-31 29z" fill="#2fa4b6"/><path d="M3356 792l32-17-31-28-32 17z" fill="#2b97ac"/><path d="M3971 698l29-37-34-12-29 38z" fill="#3db47d"/><path d="M3783 778l31-31-33-16-30 31z" fill="#30a8ae"/><path d="M3115 707l33-10-30-35-33 10z" fill="#329871"/><path d="M3302 782l32-16-30-29-33 15z" fill="#2b97a2"/><path d="M3837 764l30-33-33-15-30 33z" fill="#33ada4"/><path d="M3248 769l33-14-31-31-32 14z" fill="#2c9896"/><path d="M3061 685l33-9-30-36-33 8z" fill="#349562"/><path d="M3891 747l30-34-33-13-30 34z" fill="#35b299"/><path d="M3195 753l32-12-30-33-33 13z" fill="#2d998a"/><path d="M3543 825l31-23-32-23-31 23z" fill="#2a80bd"/><path d="M3597 823l31-25-32-21-32 25z" fill="#2a83be"/><path d="M3489 824l32-22-32-24-31 22z" fill="#297fba"/><path d="M3650 818l31-26-32-19-31 26z" fill="#2b8bbd"/><path d="M3436 820l32-20-32-25-32 19z" fill="#2982b6"/><path d="M3704 811l31-28-33-18-31 28z" fill="#2c95bb"/><path d="M3945 728l30-37-34-11-29 36z" fill="#39b28a"/><path d="M3382 813l32-17-31-27-32 18z" fill="#2988b0"/><path d="M3006 659l34-6-29-38-34 7z" fill="#369255"/><path d="M3140 734l34-10-30-34-34 11z" fill="#2f977b"/><path d="M3758 802l30-30-33-17-30 30z" fill="#2da1b6"/><path d="M3328 804l33-16-31-28-33 16z" fill="#2991a9"/><path d="M3811 789l31-31-33-15-31 31z" fill="#2fa5ae"/><path d="M3999 705l30-37-34-10-29 37z" fill="#3cb27b"/><path d="M3274 792l33-14-31-30-32 15z" fill="#2a929f"/><path d="M3086 713l34-9-30-35-34 9z" fill="#31946c"/><path d="M3865 774l31-33-34-14-30 33z" fill="#32aaa3"/><path d="M3220 778l33-13-30-31-33 13z" fill="#2b9392"/><path d="M3570 841l31-23-32-21-31 23z" fill="#2974be"/><path d="M3516 841l32-21-32-23-32 21z" fill="#2872bc"/><path d="M3920 756l29-35-33-12-30 35z" fill="#34b097"/><path d="M3624 838l31-25-32-20-32 25z" fill="#2979be"/><path d="M3032 689l34-7-30-37-34 7z" fill="#33905d"/><path d="M3462 839l32-20-31-24-32 19z" fill="#2873b8"/><path d="M3678 832l31-26-33-18-31 26z" fill="#2a82bd"/><path d="M3166 760l34-10-31-33-33 11z" fill="#2c9485"/><path d="M3409 833l32-18-32-25-32 18z" fill="#2878b3"/><path d="M3732 824l30-28-33-17-30 28z" fill="#2b8eba"/><path d="M3355 826l32-17-31-27-32 16z" fill="#2880ad"/><path d="M3974 735l30-36-34-11-30 37z" fill="#38af88"/><path d="M3786 813l30-30-33-15-30 30z" fill="#2c9eb6"/><path d="M3112 740l34-9-30-34-34 9z" fill="#2e9276"/><path d="M2977 662l34-5-29-38-34 5z" fill="#358d51"/><path d="M3301 815l32-15-31-28-32 14z" fill="#288aa5"/><path d="M3840 799l30-32-33-13-31 31z" fill="#2ea2ac"/><path d="M4028 711l30-38-34-8-30 38z" fill="#3caf78"/><path d="M3247 801l32-12-30-30-33 12z" fill="#288d9a"/><path d="M3058 717l33-7-29-35-34 7z" fill="#308f67"/><path d="M3894 783l30-34-34-12-30 33z" fill="#31a8a1"/><path d="M3192 785l34-11-31-31-33 11z" fill="#298e8d"/><path d="M3543 858l32-22-32-21-32 21z" fill="#2767bb"/><path d="M3597 856l32-23-33-20-31 23z" fill="#276abd"/><path d="M3489 856l32-20-32-22-32 19z" fill="#2667b9"/><path d="M3651 852l31-25-32-18-31 25z" fill="#2870be"/><path d="M3435 853l32-19-31-24-32 18z" fill="#2669b6"/><path d="M3948 763l30-35-34-10-29 35z" fill="#34ad94"/><path d="M3705 845l31-27-33-17-30 27z" fill="#297abc"/><path d="M3381 846l33-17-32-26-32 17z" fill="#2670b0"/><path d="M3003 692l34-6-30-37-34 6z" fill="#328c57"/><path d="M3138 766l33-9-30-33-33 10z" fill="#2b907f"/><path d="M3760 836l30-29-33-15-31 28z" fill="#2a88b9"/><path d="M3327 836l33-14-31-28-33 15z" fill="#2679a8"/><path d="M4003 741l30-37-35-9-29 37z" fill="#38ad85"/><path d="M3814 823l30-30-33-14-31 30z" fill="#2c99b4"/><path d="M3273 824l33-13-31-29-33 13z" fill="#2685a0"/><path d="M3083 745l34-8-30-34-34 7z" fill="#2d8d70"/><path d="M3868 808l30-32-33-12-30 32z" fill="#2ea0aa"/><path d="M2948 663l34-4-29-38-34 4z" fill="#35884c"/><path d="M3218 809l34-11-31-30-33 11z" fill="#278995"/><path d="M4058 716l29-38-34-8-30 39z" fill="#3cad74"/><path d="M3923 790l30-33-34-11-30 33z" fill="#30a69e"/><path d="M3571 873l31-22-32-20-32 22z" fill="#255fb9"/><path d="M3516 873l32-20-32-22-32 20z" fill="#245eb7"/><path d="M3625 871l31-24-32-19-32 24z" fill="#2663bb"/><path d="M3029 720l34-6-30-35-34 6z" fill="#2f8a60"/><path d="M3462 870l32-18-31-23-33 18z" fill="#245fb4"/><path d="M3679 865l31-25-33-18-31 26z" fill="#276abc"/><path d="M3164 792l33-10-30-32-33 10z" fill="#288a87"/><path d="M3408 865l32-17-31-25-33 17z" fill="#2563b1"/><path d="M3733 857l31-27-33-16-31 27z" fill="#2875bb"/><path d="M3977 770l30-36-34-9-30 35z" fill="#34ab91"/><path d="M3354 857l32-15-31-26-33 14z" fill="#2569ab"/><path d="M3788 846l30-29-33-14-31 29z" fill="#2a84b7"/><path d="M3109 771l34-8-30-33-34 8z" fill="#2a8c79"/><path d="M2973 693l35-4-30-37-34 4z" fill="#318752"/><path d="M3299 846l33-14-31-27-33 13z" fill="#2574a3"/><path d="M3842 832l31-30-34-13-30 31z" fill="#2b97b2"/><path d="M4032 746l30-37-35-8-29 37z" fill="#37ab81"/><path d="M3245 832l33-12-31-28-33 11z" fill="#25819b"/><path d="M3897 816l30-32-34-11-30 32z" fill="#2d9ea7"/><path d="M3054 748l34-6-29-35-35 6z" fill="#2c8869"/><path d="M2918 663l35-2-29-39-35 2z" fill="#348447"/><path d="M3190 816l34-10-31-31-33 10z" fill="#26858e"/><path d="M3544 889l32-21-33-20-32 20z" fill="#2355b5"/><path d="M3598 888l32-23-33-19-31 22z" fill="#2358b7"/><path d="M4088 720l29-39-35-6-29 39z" fill="#3cab70"/><path d="M3489 887l32-19-32-22-32 19z" fill="#2256b2"/><path d="M3653 884l31-24-33-18-31 24z" fill="#255db8"/><path d="M3952 797l30-34-35-10-29 34z" fill="#30a49b"/><path d="M3435 883l32-17-32-23-32 16z" fill="#2358af"/><path d="M3707 877l31-26-33-16-31 26z" fill="#2665ba"/><path d="M3380 876l33-15-31-25-33 15z" fill="#235dab"/><path d="M2999 722l35-5-30-35-34 4z" fill="#2e855a"/><path d="M3762 867l30-27-33-14-31 27z" fill="#2871b9"/><path d="M3135 796l34-8-30-32-34 8z" fill="#278680"/><path d="M3326 866l33-13-32-27-32 14z" fill="#2365a6"/><path d="M4007 775l29-36-34-8-30 36z" fill="#33a88c"/><path d="M3816 855l31-29-34-13-30 29z" fill="#2982b4"/><path d="M3271 854l33-12-31-28-33 12z" fill="#24719d"/><path d="M3080 774l34-6-30-33-34 6z" fill="#298772"/><path d="M3871 840l30-30-34-12-30 31z" fill="#2a95af"/><path d="M2944 693l34-3-29-37-35 2z" fill="#30824c"/><path d="M4062 750l29-37-34-7-30 37z" fill="#37a87c"/><path d="M3216 839l34-10-31-30-33 10z" fill="#247e94"/><path d="M3926 823l30-33-34-10-30 33z" fill="#2d9ca3"/><path d="M3571 903l32-21-33-19-31 21z" fill="#214fb2"/><path d="M3517 903l32-19-33-21-32 19z" fill="#214eb0"/><path d="M3626 901l31-23-32-17-32 22z" fill="#2252b4"/><path d="M3025 749l34-4-29-35-35 5z" fill="#2b8462"/><path d="M3462 900l32-17-32-23-32 18z" fill="#214fad"/><path d="M3681 896l31-25-33-16-32 24z" fill="#2359b6"/><path d="M3161 820l34-8-30-30-34 8z" fill="#258187"/><path d="M3407 894l33-15-32-24-32 15z" fill="#2153a9"/><path d="M4118 722l29-39-35-4-29 38z" fill="#3ca86b"/><path d="M2888 661l35-1-29-38-35 0z" fill="#337f42"/><path d="M3735 888l31-26-33-15-31 26z" fill="#2562b7"/><path d="M3981 802l30-34-35-8-29 34z" fill="#30a296"/><path d="M3353 886l33-14-32-25-33 13z" fill="#2259a5"/><path d="M3790 877l31-28-34-13-31 28z" fill="#276eb6"/><path d="M2970 722l34-3-29-36-35 2z" fill="#2d8153"/><path d="M3106 800l34-7-30-32-34 6z" fill="#268279"/><path d="M3298 874l33-12-31-26-33 12z" fill="#2262a0"/><path d="M3845 863l30-29-33-12-31 30z" fill="#2881b1"/><path d="M4036 779l30-36-35-7-29 36z" fill="#33a687"/><path d="M3243 860l33-10-31-28-33 10z" fill="#226f97"/><path d="M3900 847l30-31-34-10-30 31z" fill="#2a95ab"/><path d="M3051 776l34-5-30-33-34 4z" fill="#28826a"/><path d="M2914 691l35-1-29-37-36 0z" fill="#307e47"/><path d="M4092 753l29-38-35-5-29 37z" fill="#37a676"/><path d="M3188 844l34-9-31-29-34 8z" fill="#237c8d"/><path d="M3544 918l32-20-32-19-32 19z" fill="#1f47ae"/><path d="M3599 917l32-21-33-18-32 20z" fill="#2049b0"/><path d="M3955 828l30-33-34-8-30 32z" fill="#2d9b9f"/><path d="M3489 916l33-18-33-21-32 18z" fill="#1f47ab"/><path d="M3654 913l31-23-33-16-31 22z" fill="#214eb2"/><path d="M3435 911l32-15-32-23-32 16z" fill="#1f4aa7"/><path d="M3709 906l31-24-33-15-32 24z" fill="#2355b3"/><path d="M2995 749l35-2-30-35-34 2z" fill="#2a7f5b"/><path d="M3380 904l32-14-31-24-33 14z" fill="#204fa3"/><path d="M3764 897l31-26-34-14-31 27z" fill="#2460b4"/><path d="M3133 824l34-7-31-31-34 7z" fill="#247d7f"/><path d="M4148 724l29-40-35-3-30 39z" fill="#3ca665"/><path d="M4011 806l29-34-34-7-30 34z" fill="#30a191"/><path d="M3325 894l33-12-32-26-33 12z" fill="#20569f"/><path d="M3819 885l30-28-33-12-31 28z" fill="#266eb3"/><path d="M2858 657l35 2-29-39-35-2z" fill="#337b3d"/><path d="M3270 881l33-10-31-27-34 10z" fill="#216099"/><path d="M3874 870l30-29-34-11-30 30z" fill="#2881ae"/><path d="M3077 802l34-5-30-33-34 5z" fill="#267f71"/><path d="M2940 720l35-1-30-36-35 1z" fill="#2d7c4c"/><path d="M4066 782l30-37-35-5-30 36z" fill="#33a381"/><path d="M3214 866l34-9-31-28-34 8z" fill="#216e90"/><path d="M3929 853l31-32-35-8-30 31z" fill="#2a93a6"/><path d="M3572 931l32-19-33-19-32 20z" fill="#1e42ab"/><path d="M3517 931l32-18-32-20-33 18z" fill="#1e41a8"/><path d="M3627 929l32-21-33-17-32 21z" fill="#1f45ad"/><path d="M3021 776l35-3-30-34-34 3z" fill="#287d62"/><path d="M3462 927l32-16-32-21-32 16z" fill="#1e42a5"/><path d="M3682 924l31-23-33-15-31 22z" fill="#204baf"/><path d="M4122 754l30-38-36-4-29 38z" fill="#38a370"/><path d="M3159 847l34-7-31-29-34 6z" fill="#227885"/><path d="M3985 832l30-33-35-7-30 33z" fill="#2c9999"/><path d="M2883 688l36 1-29-38-36-1z" fill="#307941"/><path d="M3407 921l33-14-32-23-33 14z" fill="#1e46a1"/><path d="M3737 916l31-25-33-13-31 24z" fill="#2253b0"/><path d="M3352 913l33-13-32-24-33 12z" fill="#1f4d9d"/><path d="M3792 906l31-27-34-12-30 26z" fill="#245fb1"/><path d="M2965 748l35-1-29-35-35 1z" fill="#2a7a53"/><path d="M3103 826l35-5-31-31-34 5z" fill="#237a77"/><path d="M4041 809l29-34-35-6-29 34z" fill="#30a08c"/><path d="M3296 901l34-11-32-26-33 11z" fill="#1f5599"/><path d="M3848 892l30-28-34-11-30 28z" fill="#266eaf"/><path d="M4178 724l30-40-36-2-29 39z" fill="#3ca361"/><path d="M2827 653l36 2-29-39-36-3z" fill="#337737"/><path d="M3241 887l34-9-31-28-34 9z" fill="#206091"/><path d="M3903 876l31-30-35-9-30 30z" fill="#2783a9"/><path d="M3047 802l35-3-30-33-35 3z" fill="#257b69"/><path d="M4097 783l29-36-35-4-30 36z" fill="#34a17b"/><path d="M2909 717l36 1-30-37-35-1z" fill="#2c7746"/><path d="M3185 869l34-7-30-28-34 7z" fill="#206f88"/><path d="M3959 857l30-31-35-8-30 32z" fill="#2a92a0"/><path d="M3600 944l32-20-33-17-32 19z" fill="#1e40a7"/><path d="M3545 944l32-18-33-18-32 18z" fill="#1d3ea4"/><path d="M3655 940l32-22-34-15-31 21z" fill="#1e42aa"/><path d="M3489 942l33-16-33-20-32 16z" fill="#1d3ea2"/><path d="M3711 934l31-24-34-14-31 24z" fill="#2049ac"/><path d="M3434 937l33-14-32-22-33 15z" fill="#1c3f9f"/><path d="M2991 775l35-1-29-34-35 1z" fill="#27785a"/><path d="M3766 925l31-25-34-13-31 25z" fill="#2153ad"/><path d="M3379 930l33-13-32-23-33 13z" fill="#1d449b"/><path d="M4153 754l29-38-36-2-29 37z" fill="#38a16a"/><path d="M3130 849l34-5-30-30-35 5z" fill="#21747c"/><path d="M4015 835l30-33-36-6-29 33z" fill="#2c9993"/><path d="M3821 913l31-27-34-11-31 27z" fill="#245fae"/><path d="M3323 920l34-11-32-25-33 11z" fill="#1e4b96"/><path d="M2853 683l35 2-29-37-35-3z" fill="#2f753c"/><path d="M3877 898l31-28-35-10-30 29z" fill="#2570ab"/><path d="M3268 906l33-9-31-26-34 9z" fill="#1f5492"/><path d="M3074 827l34-4-30-31-34 3z" fill="#23766e"/><path d="M4071 811l29-35-35-4-30 34z" fill="#309e85"/><path d="M2935 745l36 1-30-36-35 0z" fill="#29754b"/><path d="M4209 722l29-39-36-1-29 39z" fill="#3da15c"/><path d="M3933 881l30-30-35-8-30 30z" fill="#2786a5"/><path d="M3212 890l34-7-31-27-34 7z" fill="#1f618a"/><path d="M2796 646l36 4-29-39-36-4z" fill="#327232"/><path d="M3573 957l32-19-33-17-32 18z" fill="#1d3ca1"/><path d="M3628 955l32-20-33-16-32 20z" fill="#1d3ea4"/><path d="M3517 956l33-17-33-18-33 16z" fill="#1c3b9e"/><path d="M3018 801l35-2-30-33-35 2z" fill="#257660"/><path d="M4127 783l30-36-36-3-30 36z" fill="#349e74"/><path d="M3684 950l31-22-33-14-32 22z" fill="#1e40a7"/><path d="M3462 952l32-14-32-21-33 15z" fill="#1c3b9b"/><path d="M3989 860l30-31-35-7-30 32z" fill="#2a919a"/><path d="M3156 872l35-6-31-29-35 6z" fill="#1f7080"/><path d="M2878 712l36 3-29-37-36-2z" fill="#2c7340"/><path d="M3739 942l32-23-34-13-32 24z" fill="#1f48a9"/><path d="M3406 946l33-13-32-22-33 13z" fill="#1b3d98"/><path d="M3795 932l31-25-34-11-31 25z" fill="#2153a9"/><path d="M3350 937l34-11-32-23-33 11z" fill="#1c4394"/><path d="M4045 837l30-33-36-5-29 33z" fill="#2d988d"/><path d="M2961 772l36 0-30-34-35 0z" fill="#277351"/><path d="M4184 753l29-38-36-1-29 38z" fill="#399e63"/><path d="M3100 850l35-4-31-30-34 4z" fill="#217173"/><path d="M3851 919l30-27-34-10-31 27z" fill="#2360aa"/><path d="M3295 925l33-9-31-25-34 9z" fill="#1d4b90"/><path d="M2822 677l36 4-29-38-36-5z" fill="#2f7036"/><path d="M3907 903l30-29-35-8-30 29z" fill="#2573a6"/><path d="M3239 910l34-7-31-26-34 7z" fill="#1e558a"/><path d="M4101 811l30-35-36-3-29 35z" fill="#309b7d"/><path d="M3044 826l35-2-30-32-35 2z" fill="#227366"/><path d="M2904 741l36 2-29-36-36-2z" fill="#297144"/><path d="M4241 720l29-40-37 0-29 40z" fill="#3e9f57"/><path d="M3963 884l30-30-35-7-30 30z" fill="#278aa0"/><path d="M3601 968l32-18-33-16-32 18z" fill="#1c3a9e"/><path d="M3183 893l34-6-31-28-34 6z" fill="#1e6382"/><path d="M3545 969l33-17-34-18-32 17z" fill="#1c389b"/><path d="M3657 965l31-20-33-15-32 20z" fill="#1d3ca1"/><path d="M3489 966l33-15-33-19-32 15z" fill="#1b3898"/><path d="M3712 959l32-22-34-13-32 22z" fill="#1d40a4"/><path d="M3434 961l33-13-33-21-33 14z" fill="#1b3995"/><path d="M4158 782l29-36-36-2-29 37z" fill="#359c6d"/><path d="M3768 950l31-24-34-11-31 23z" fill="#1f49a5"/><path d="M2764 638l37 6-29-39-36-7z" fill="#336d2e"/><path d="M2987 798l36 0-30-33-35 0z" fill="#247157"/><path d="M4019 862l30-32-36-4-29 31z" fill="#2a9093"/><path d="M3378 953l33-11-32-22-33 11z" fill="#1a3c92"/><path d="M3127 872l34-3-30-30-35 4z" fill="#1f6c77"/><path d="M3824 938l31-25-35-10-30 25z" fill="#2154a6"/><path d="M2847 706l37 4-29-37-37-4z" fill="#2c6e3a"/><path d="M3322 943l34-10-32-23-34 9z" fill="#1b438d"/><path d="M3880 924l31-27-35-9-31 27z" fill="#2363a6"/><path d="M4076 838l29-34-36-3-29 33z" fill="#2d9886"/><path d="M4215 751l29-39-36 0-29 39z" fill="#399c5d"/><path d="M3266 929l34-8-32-25-34 8z" fill="#1c4b89"/><path d="M3070 849l35-2-30-30-35 2z" fill="#206e6a"/><path d="M2930 768l36 2-29-35-36-2z" fill="#276f49"/><path d="M3937 906l30-28-35-7-31 28z" fill="#2578a1"/><path d="M3210 913l34-6-31-27-34 6z" fill="#1d5782"/><path d="M2790 669l37 6-29-39-37-6z" fill="#2f6c31"/><path d="M4132 810l30-35-36-1-30 35z" fill="#319976"/><path d="M3573 980l33-17-34-16-32 17z" fill="#1b3797"/><path d="M3629 978l32-18-33-15-32 18z" fill="#1c389a"/><path d="M3014 823l35 0-30-32-35 0z" fill="#226f5d"/><path d="M3517 979l33-15-33-18-33 15z" fill="#1b3694"/><path d="M3685 974l32-21-34-13-32 20z" fill="#1c3b9d"/><path d="M3993 886l30-30-36-5-30 30z" fill="#278999"/><path d="M3461 975l33-13-32-20-33 14z" fill="#1a3691"/><path d="M4272 716l29-40-37 2-28 39z" fill="#3f9c51"/><path d="M2873 735l37 3-29-35-37-4z" fill="#296c3e"/><path d="M3153 894l35-4-31-28-34 4z" fill="#1d667a"/><path d="M3741 966l32-22-35-12-31 23z" fill="#1d40a1"/><path d="M3405 969l34-12-33-21-33 12z" fill="#19378f"/><path d="M3798 956l31-24-35-10-31 24z" fill="#1f4aa2"/><path d="M3349 959l34-10-32-22-34 10z" fill="#1a3c8b"/><path d="M4189 780l30-37-37 0-29 37z" fill="#359965"/><path d="M4050 863l29-32-36-4-29 32z" fill="#2a908c"/><path d="M2957 794l36 2-30-34-36-1z" fill="#246c4e"/><path d="M3854 943l31-26-35-8-31 25z" fill="#2157a3"/><path d="M3097 872l35-3-31-29-35 2z" fill="#1e696d"/><path d="M2732 628l37 8-28-40-37-8z" fill="#34672b"/><path d="M3293 947l34-8-32-24-34 8z" fill="#1b4487"/><path d="M2816 698l37 6-29-37-37-6z" fill="#2c6a34"/><path d="M3910 927l31-27-36-7-30 27z" fill="#2368a1"/><path d="M4107 837l29-34-36-2-30 34z" fill="#2d967e"/><path d="M3237 932l34-6-31-26-35 7z" fill="#1c4d82"/><path d="M4247 747l29-39-37 2-29 38z" fill="#3a9957"/><path d="M3040 847l36-1-31-30-35 0z" fill="#206c61"/><path d="M2899 762l37 4-30-35-36-4z" fill="#266a41"/><path d="M3967 909l30-29-36-6-30 29z" fill="#257d9b"/><path d="M3602 990l32-17-34-15-32 17z" fill="#1b3594"/><path d="M3180 914l35-4-31-27-35 4z" fill="#1c5a7a"/><path d="M3546 991l32-16-33-16-33 15z" fill="#1a3491"/><path d="M3658 987l32-19-34-13-32 19z" fill="#1b3797"/><path d="M3489 988l33-14-33-18-33 14z" fill="#19348e"/><path d="M3714 981l32-20-34-12-32 20z" fill="#1c3b9a"/><path d="M4164 808l29-35-37 0-29 35z" fill="#32966d"/><path d="M3433 983l33-12-32-20-33 12z" fill="#19348b"/><path d="M4023 887l30-31-36-3-29 30z" fill="#278991"/><path d="M2758 659l37 8-28-39-38-7z" fill="#30672c"/><path d="M3771 973l31-23-35-10-31 22z" fill="#1d419d"/><path d="M2983 819l36 1-30-32-36-1z" fill="#226a53"/><path d="M3377 975l33-10-32-22-33 10z" fill="#183688"/><path d="M4305 711l28-41-37 4-29 40z" fill="#409a4c"/><path d="M3124 893l35-2-31-28-35 2z" fill="#1d6570"/><path d="M3827 961l31-24-35-9-31 24z" fill="#1f4c9e"/><path d="M2842 727l37 5-29-36-37-5z" fill="#296838"/><path d="M3320 964l34-9-31-22-34 8z" fill="#193d84"/><path d="M4080 863l30-33-36-2-30 32z" fill="#2a9084"/><path d="M4221 777l29-37-37 1-29 37z" fill="#36975d"/><path d="M3884 947l30-26-35-7-31 26z" fill="#215a9f"/><path d="M3264 950l34-7-31-24-35 7z" fill="#1a4580"/><path d="M3067 870l35-1-30-30-36 1z" fill="#1e6764"/><path d="M2926 788l36 4-29-34-37-3z" fill="#246846"/><path d="M3940 930l31-28-36-6-30 28z" fill="#236d9b"/><path d="M2700 617l38 9-29-39-37-10z" fill="#356227"/><path d="M3207 933l35-5-31-25-35 5z" fill="#1b507a"/><path d="M4138 835l29-34-37 0-29 34z" fill="#2e9375"/><path d="M2784 689l37 7-28-37-38-7z" fill="#2c662f"/><path d="M4279 742l29-39-38 3-28 39z" fill="#3b9751"/><path d="M3574 1001l33-16-34-15-32 16z" fill="#19328d"/><path d="M3631 1000l32-18-34-14-32 18z" fill="#1a3491"/><path d="M3009 843l36 1-30-31-35-1z" fill="#206858"/><path d="M3997 910l30-30-36-4-30 29z" fill="#258295"/><path d="M3518 1000l33-14-34-17-33 14z" fill="#19328a"/><path d="M3687 995l32-19-34-12-32 19z" fill="#1b3794"/><path d="M3461 996l33-12-32-19-34 12z" fill="#183287"/><path d="M2868 755l37 5-29-35-37-5z" fill="#26663b"/><path d="M3744 988l31-21-35-11-31 21z" fill="#1b3b98"/><path d="M3150 914l36-3-31-27-35 3z" fill="#1b5e72"/><path d="M3405 989l33-10-32-20-34 10z" fill="#183385"/><path d="M3800 978l31-23-35-9-31 23z" fill="#1d4499"/><path d="M4195 805l29-36-37 1-29 36z" fill="#329365"/><path d="M4054 887l30-31-36-3-30 31z" fill="#288989"/><path d="M3348 979l34-8-32-22-34 9z" fill="#183781"/><path d="M2952 813l36 4-29-33-37-3z" fill="#22664a"/><path d="M3857 965l31-24-36-8-30 25z" fill="#1f509b"/><path d="M2726 648l37 9-28-38-38-10z" fill="#316229"/><path d="M3093 891l36-1-31-28-35 1z" fill="#1c6267"/><path d="M3291 967l35-7-32-23-34 7z" fill="#193f7d"/><path d="M2810 718l37 7-28-36-38-7z" fill="#296432"/><path d="M3914 949l30-26-35-6-31 26z" fill="#215f9a"/><path d="M4112 861l29-33-36-1-30 33z" fill="#2b907c"/><path d="M4253 772l29-38-37 3-29 37z" fill="#379457"/><path d="M3235 951l34-5-31-24-35 5z" fill="#1a477a"/><path d="M3036 866l36 1-30-30-36-1z" fill="#1e655b"/><path d="M3971 931l30-28-36-4-30 27z" fill="#237495"/><path d="M2894 781l37 5-29-34-37-5z" fill="#24643d"/><path d="M3603 1010l32-16-34-14-32 16z" fill="#19328a"/><path d="M3546 1010l33-14-34-15-32 14z" fill="#183087"/><path d="M3178 933l35-3-31-26-36 3z" fill="#1a5472"/><path d="M3660 1008l32-18-35-13-32 18z" fill="#19348e"/><path d="M4169 832l30-34-37 1-30 34z" fill="#2f906c"/><path d="M3489 1008l34-13-34-17-33 12z" fill="#183084"/><path d="M2667 604l38 11-28-40-38-11z" fill="#365d24"/><path d="M3716 1002l32-20-35-10-31 19z" fill="#1a3791"/><path d="M4028 909l30-29-36-3-30 30z" fill="#25828d"/><path d="M3433 1002l33-11-33-18-33 10z" fill="#173181"/><path d="M2752 678l37 9-28-37-38-10z" fill="#2d612a"/><path d="M3773 993l31-21-34-9-32 21z" fill="#1b3c94"/><path d="M2979 838l36 2-30-31-36-3z" fill="#20634e"/><path d="M3376 994l34-9-33-20-34 8z" fill="#17337e"/><path d="M3120 912l36-2-31-27-35 1z" fill="#1b5e69"/><path d="M3830 982l31-23-35-8-31 23z" fill="#1d4796"/><path d="M2836 745l38 7-29-35-38-7z" fill="#276235"/><path d="M3319 982l34-7-32-21-34 7z" fill="#17397a"/><path d="M4227 800l29-36-37 3-29 36z" fill="#33915c"/><path d="M4086 885l29-31-37-1-29 31z" fill="#288981"/><path d="M3887 968l31-25-36-6-31 25z" fill="#1f5497"/><path d="M3262 968l35-5-32-23-35 5z" fill="#184177"/><path d="M3063 888l36 0-31-28-35-1z" fill="#1c605d"/><path d="M2921 806l37 5-30-32-37-5z" fill="#226141"/><path d="M3944 951l31-27-36-4-31 26z" fill="#216694"/><path d="M2693 635l38 11-28-39-38-11z" fill="#325c25"/><path d="M4143 858l30-33-37 1-30 32z" fill="#2c8d73"/><path d="M3205 951l35-3-31-25-36 3z" fill="#194b71"/><path d="M2778 707l38 9-29-36-38-10z" fill="#29602c"/><path d="M4002 931l30-28-37-3-30 28z" fill="#237b8f"/><path d="M3575 1020l33-15-34-14-33 14z" fill="#182f84"/><path d="M3632 1018l32-16-34-12-32 16z" fill="#183187"/><path d="M3005 860l37 3-30-30-37-3z" fill="#1e6151"/><path d="M3518 1018l33-12-33-16-34 12z" fill="#172f81"/><path d="M3689 1014l32-18-35-11-32 18z" fill="#19348b"/><path d="M3461 1014l33-11-33-17-33 10z" fill="#172f7e"/><path d="M2863 772l37 7-29-34-38-7z" fill="#246037"/><path d="M3746 1007l31-19-35-10-31 20z" fill="#19378e"/><path d="M3147 931l36-1-31-26-36 1z" fill="#19586a"/><path d="M4201 828l29-35-37 2-29 35z" fill="#308e63"/><path d="M3404 1007l34-9-33-19-34 9z" fill="#16307b"/><path d="M3803 997l31-21-35-8-31 21z" fill="#1b4090"/><path d="M4059 908l30-30-37-1-30 29z" fill="#268284"/><path d="M3347 997l34-8-32-20-35 7z" fill="#163478"/><path d="M3860 985l31-23-36-7-31 23z" fill="#1d4b92"/><path d="M2947 830l37 5-29-31-37-5z" fill="#205f45"/><path d="M2719 665l38 11-28-37-38-11z" fill="#2e5c26"/><path d="M3090 908l36 1-31-28-36 0z" fill="#1a5c5f"/><path d="M3290 984l34-6-32-21-34 5z" fill="#173b74"/><path d="M3918 969l30-25-36-4-31 24z" fill="#1f5a92"/><path d="M4117 882l30-31-38 0-29 31z" fill="#298978"/><path d="M2804 735l38 8-29-35-38-9z" fill="#275e2f"/><path d="M3232 968l35-4-31-23-35 4z" fill="#184470"/><path d="M3032 882l36 3-30-29-36-3z" fill="#1c5e54"/><path d="M3975 951l30-27-36-3-30 26z" fill="#216d8e"/><path d="M2889 797l37 7-29-33-37-6z" fill="#225d39"/><path d="M4175 853l29-33-37 2-29 33z" fill="#2d8a6a"/><path d="M3604 1028l32-15-34-13-32 15z" fill="#172e7f"/><path d="M3547 1028l33-13-34-15-33 13z" fill="#162c79"/><path d="M3175 949l35-1-31-25-35 1z" fill="#185069"/><path d="M3661 1025l32-16-34-11-33 16z" fill="#183184"/><path d="M3489 1025l34-11-34-16-33 11z" fill="#152b75"/><path d="M3718 1020l32-18-35-10-32 18z" fill="#183488"/><path d="M4033 929l30-28-37-1-30 28z" fill="#237c87"/><path d="M2745 694l38 11-28-36-38-11z" fill="#2a5c28"/><path d="M3432 1019l34-9-33-18-34 9z" fill="#142b71"/><path d="M3776 1012l31-20-35-9-32 20z" fill="#193a8b"/><path d="M2974 854l37 4-30-30-37-5z" fill="#1e5d48"/><path d="M3375 1010l34-7-33-19-34 7z" fill="#142e6d"/><path d="M3117 928l36 0-31-26-36-1z" fill="#195860"/><path d="M3833 1000l31-21-35-7-32 22z" fill="#1b448d"/><path d="M2830 761l38 9-29-34-38-9z" fill="#245c31"/><path d="M4091 905l29-30-37 0-29 30z" fill="#26827b"/><path d="M3317 998l35-5-32-21-35 6z" fill="#143369"/><path d="M3891 986l30-23-36-5-30 23z" fill="#1e508f"/><path d="M2915 822l38 6-29-31-38-7z" fill="#205b3c"/><path d="M3059 903l36 2-30-27-36-3z" fill="#1a5a55"/><path d="M3260 984l35-4-32-22-35 4z" fill="#153966"/><path d="M3948 969l31-25-37-3-30 25z" fill="#1f618c"/><path d="M4149 878l29-32-37 2-30 31z" fill="#2a876f"/><path d="M2771 722l39 11-29-35-38-11z" fill="#275a29"/><path d="M3202 966l36-2-32-23-35 2z" fill="#164360"/><path d="M4006 949l30-26-37-2-30 27z" fill="#217588"/><path d="M3576 1036l33-13-35-13-32 13z" fill="#14286e"/><path d="M3633 1035l33-15-35-11-32 14z" fill="#152b73"/><path d="M3001 875l37 5-30-29-37-5z" fill="#1c5a4b"/><path d="M3518 1034l34-11-34-15-34 11z" fill="#13276a"/><path d="M3691 1031l32-17-35-10-32 17z" fill="#162e79"/><path d="M2857 787l38 8-29-32-38-9z" fill="#225933"/><path d="M3461 1030l33-10-33-16-34 9z" fill="#122766"/><path d="M3748 1024l32-18-35-9-32 19z" fill="#173380"/><path d="M3144 946l36 0-31-25-36 0z" fill="#164e5a"/><path d="M3403 1022l34-7-33-18-34 7z" fill="#122862"/><path d="M4064 927l30-29-37 0-30 28z" fill="#247c7e"/><path d="M3806 1015l31-21-36-6-31 20z" fill="#193d85"/><path d="M3345 1012l35-6-32-19-35 5z" fill="#122c5e"/><path d="M3864 1002l31-22-37-5-31 22z" fill="#1c4889"/><path d="M2942 845l38 6-30-30-37-6z" fill="#1e593f"/><path d="M3086 923l37 2-31-27-36-2z" fill="#175051"/><path d="M4123 901l29-30-37 1-30 30z" fill="#278373"/><path d="M3288 998l35-3-32-21-35 4z" fill="#12315b"/><path d="M3921 987l31-24-36-4-31 24z" fill="#1e5689"/><path d="M2798 749l38 10-28-34-39-10z" fill="#24582b"/><path d="M3230 982l35-2-31-22-36 2z" fill="#133857"/><path d="M3980 968l30-25-37-2-30 25z" fill="#1f6986"/><path d="M3028 896l37 4-30-27-37-5z" fill="#195348"/><path d="M2883 811l38 9-29-32-38-8z" fill="#205734"/><path d="M3605 1043l33-13-35-12-33 13z" fill="#122564"/><path d="M3547 1043l33-12-34-13-33 11z" fill="#11245f"/><path d="M3663 1041l32-15-35-11-32 15z" fill="#132869"/><path d="M3172 963l36 0-32-24-36 0z" fill="#134251"/><path d="M4038 947l30-27-38 0-30 26z" fill="#22757f"/><path d="M3489 1039l34-9-34-15-33 9z" fill="#10235b"/><path d="M3720 1035l32-16-35-9-32 17z" fill="#142b6f"/><path d="M3432 1033l34-8-33-16-35 7z" fill="#102358"/><path d="M3778 1027l32-18-36-7-31 18z" fill="#163374"/><path d="M2969 867l37 6-29-29-38-6z" fill="#1b523e"/><path d="M3374 1024l34-6-32-18-35 6z" fill="#102654"/><path d="M3836 1016l32-20-37-5-31 20z" fill="#183d7a"/><path d="M3113 941l37 2-31-25-36-2z" fill="#14464a"/><path d="M2824 775l39 10-29-33-39-10z" fill="#22562d"/><path d="M4096 923l30-29-38 1-29 29z" fill="#247c75"/><path d="M3316 1012l35-4-33-20-35 4z" fill="#102a51"/><path d="M3894 1002l31-22-36-3-31 21z" fill="#1b4a80"/><path d="M2910 835l38 8-29-31-38-8z" fill="#1d5235"/><path d="M3055 916l37 4-30-27-38-4z" fill="#154842"/><path d="M3258 997l35-2-32-21-35 2z" fill="#112f4d"/><path d="M3953 985l30-23-37-2-30 23z" fill="#1d5d81"/><path d="M3199 979l36 0-31-23-36 1z" fill="#113749"/><path d="M4011 966l30-26-37 0-30 25z" fill="#20707f"/><path d="M3635 1049l32-13-35-11-32 13z" fill="#10225a"/><path d="M3576 1050l34-12-35-12-33 12z" fill="#0f2055"/><path d="M2996 888l38 6-30-28-38-6z" fill="#17493a"/><path d="M3693 1045l32-15-36-9-32 15z" fill="#11255f"/><path d="M3518 1048l34-10-34-14-34 10z" fill="#0e1f51"/><path d="M2851 799l38 10-28-31-39-10z" fill="#20522e"/><path d="M3751 1039l32-17-36-8-32 17z" fill="#132b64"/><path d="M3460 1043l34-8-33-15-34 7z" fill="#0e1f4e"/><path d="M3141 958l36 2-31-24-36-2z" fill="#113d43"/><path d="M4070 943l29-27-37 1-30 27z" fill="#227676"/><path d="M3809 1029l31-19-36-5-31 18z" fill="#143369"/><path d="M3402 1035l35-6-33-17-35 6z" fill="#0e214a"/><path d="M3867 1017l31-21-36-4-31 21z" fill="#173e6f"/><path d="M3344 1024l35-4-33-18-35 4z" fill="#0e2447"/><path d="M2937 857l38 8-29-29-39-8z" fill="#194932"/><path d="M3082 934l37 4-30-25-37-4z" fill="#123e3c"/><path d="M3926 1001l30-22-37-2-30 22z" fill="#194c72"/><path d="M3286 1011l35-3-32-20-35 3z" fill="#0e2845"/><path d="M3984 983l30-24-37 0-30 23z" fill="#1c6074"/><path d="M3227 994l36-1-31-21-36 1z" fill="#0f2e40"/><path d="M3023 908l38 5-30-26-38-6z" fill="#134036"/><path d="M2877 823l39 10-29-31-39-10z" fill="#1b492b"/><path d="M3606 1056l33-12-35-11-33 12z" fill="#0e1e4c"/><path d="M3664 1054l33-14-35-9-33 13z" fill="#0e2050"/><path d="M4043 962l30-26-38 1-30 26z" fill="#1f6c72"/><path d="M3548 1055l33-10-34-12-34 10z" fill="#0d1c48"/><path d="M3168 974l37 2-31-23-37-1z" fill="#0f343c"/><path d="M3723 1048l32-15-36-7-32 15z" fill="#102555"/><path d="M3489 1051l34-8-34-14-33 8z" fill="#0c1c44"/><path d="M3781 1041l32-18-36-6-32 17z" fill="#112b5a"/><path d="M3431 1045l34-7-33-15-34 6z" fill="#0c1d41"/><path d="M2964 878l38 7-29-27-39-8z" fill="#15402e"/><path d="M3840 1030l31-19-37-5-31 19z" fill="#13335f"/><path d="M3373 1035l34-4-32-17-35 4z" fill="#0c1f3e"/><path d="M3110 952l37 3-31-24-37-3z" fill="#103636"/><path d="M3898 1016l31-21-37-2-31 20z" fill="#153f63"/><path d="M3314 1023l35-3-32-18-35 2z" fill="#0c223c"/><path d="M2904 845l39 10-29-29-39-10z" fill="#174027"/><path d="M3957 999l31-22-38-1-30 22z" fill="#184e65"/><path d="M3050 926l38 6-30-26-38-5z" fill="#103730"/><path d="M3255 1008l36-1-32-20-36 1z" fill="#0c2738"/><path d="M4016 979l30-24-38 1-30 24z" fill="#1a5c66"/><path d="M3196 989l37 2-31-22-37-1z" fill="#0d2c35"/><path d="M3636 1060l33-12-36-9-32 12z" fill="#0c1c43"/><path d="M3577 1061l34-10-35-11-33 10z" fill="#0c1a3f"/><path d="M2991 898l38 7-29-26-39-8z" fill="#12372a"/><path d="M3695 1057l32-14-36-8-32 14z" fill="#0d1f47"/><path d="M3519 1059l34-9-35-12-34 8z" fill="#0b1a3b"/><path d="M3753 1050l32-15-36-6-32 15z" fill="#0f244b"/><path d="M3460 1053l34-6-33-14-35 6z" fill="#0b1a38"/><path d="M3137 968l37 3-30-22-38-4z" fill="#0d2e30"/><path d="M3812 1041l31-17-36-5-32 18z" fill="#102b50"/><path d="M3401 1045l35-4-33-16-35 5z" fill="#0b1b36"/><path d="M3871 1029l31-19-37-3-31 19z" fill="#123354"/><path d="M3343 1034l35-3-33-17-35 3z" fill="#0b1d33"/><path d="M2931 866l39 10-29-28-39-10z" fill="#133724"/><path d="M3078 944l38 5-31-24-37-5z" fill="#0e2f2b"/><path d="M3930 1014l30-21-37-1-31 20z" fill="#144057"/><path d="M3284 1020l36-1-33-18-36 0z" fill="#0b2030"/><path d="M3989 995l30-22-38 1-30 22z" fill="#164e59"/><path d="M3224 1003l37 1-32-20-36-1z" fill="#0b242d"/><path d="M3018 916l39 8-30-26-38-7z" fill="#0f2f26"/><path d="M3607 1066l33-11-35-9-33 10z" fill="#0a1936"/><path d="M3666 1064l33-12-36-8-33 12z" fill="#0b1b3a"/><path d="M3548 1065l34-9-35-11-33 8z" fill="#0a1733"/><path d="M3165 983l37 3-31-21-37-4z" fill="#0b2629"/><path d="M3725 1059l32-14-36-6-32 13z" fill="#0c1e3e"/><path d="M3489 1061l35-7-35-13-34 7z" fill="#091730"/><path d="M3784 1051l32-16-37-4-32 15z" fill="#0d2342"/><path d="M3430 1054l35-5-33-14-35 5z" fill="#09172e"/><path d="M2958 886l39 9-29-26-39-10z" fill="#102f21"/><path d="M3843 1040l31-17-37-3-31 17z" fill="#0f2a47"/><path d="M3371 1044l36-3-33-16-36 3z" fill="#09192b"/><path d="M3105 960l38 5-30-23-38-5z" fill="#0c2725"/><path d="M3903 1027l30-19-38-2-30 19z" fill="#113449"/><path d="M3312 1031l36-1-32-17-36 1z" fill="#091b29"/><path d="M3962 1010l30-21-38 1-30 20z" fill="#12414c"/><path d="M3046 934l38 7-29-24-39-7z" fill="#0c2821"/><path d="M3253 1016l36 1-31-19-37-1z" fill="#091e26"/><path d="M3193 997l37 3-31-20-37-3z" fill="#092023"/><path d="M3638 1069l32-10-35-9-33 11z" fill="#09172e"/><path d="M3578 1070l34-9-35-10-34 9z" fill="#08152b"/><path d="M2986 904l39 10-29-25-40-10z" fill="#0d281d"/><path d="M3697 1066l32-12-36-7-33 12z" fill="#0a1932"/><path d="M3519 1067l34-7-35-11-34 6z" fill="#081429"/><path d="M3756 1060l32-14-37-5-32 14z" fill="#0b1d36"/><path d="M3460 1061l34-5-34-13-34 5z" fill="#081426"/><path d="M3133 975l38 5-30-21-38-6z" fill="#09201f"/><path d="M3815 1050l32-15-38-4-31 16z" fill="#0c223a"/><path d="M3400 1053l36-3-34-15-35 3z" fill="#081524"/><path d="M3875 1038l31-17-38-2-31 18z" fill="#0e2a3c"/><path d="M3341 1041l36-1-33-16-36 1z" fill="#071622"/><path d="M3073 950l39 7-30-22-39-8z" fill="#0a211c"/><path d="M3935 1023l30-19-39 0-30 19z" fill="#0f343f"/><path d="M3281 1027l37 1-32-18-37-1z" fill="#07181f"/><path d="M3221 1009l38 3-31-18-38-3z" fill="#071a1d"/><path d="M3013 922l39 9-29-23-39-10z" fill="#0b2119"/><path d="M3609 1073l33-9-36-8-33 9z" fill="#071324"/><path d="M3668 1071l33-10-37-7-32 11z" fill="#081527"/><path d="M3549 1072l34-7-35-10-34 7z" fill="#071221"/><path d="M3161 989l38 5-30-20-38-5z" fill="#081a1a"/><path d="M3728 1067l32-13-37-5-32 13z" fill="#09182a"/><path d="M3489 1068l35-6-35-11-34 5z" fill="#06111f"/><path d="M3787 1059l32-14-38-3-31 14z" fill="#0a1c2e"/><path d="M3430 1060l35-3-34-13-35 3z" fill="#06111d"/><path d="M3847 1048l31-15-38-2-31 16z" fill="#0b2230"/><path d="M3370 1050l36-1-33-15-36 2z" fill="#06121b"/><path d="M3101 965l39 7-30-21-39-7z" fill="#081b17"/><path d="M3907 1035l30-18-38 0-31 18z" fill="#0c2a33"/><path d="M3310 1037l37 1-33-16-36-1z" fill="#061319"/><path d="M3040 938l40 10-29-22-40-10z" fill="#081a14"/><path d="M3250 1021l37 2-31-17-38-3z" fill="#061417"/><path d="M3189 1001l39 5-31-18-38-5z" fill="#061414"/><path d="M3639 1075l33-9-36-7-33 9z" fill="#06111d"/><path d="M3579 1075l34-7-36-8-33 7z" fill="#060f1b"/><path d="M3699 1072l32-11-37-5-32 11z" fill="#071320"/><path d="M3519 1073l35-6-35-10-35 5z" fill="#050e19"/><path d="M3759 1066l32-12-38-4-32 13z" fill="#081623"/><path d="M3459 1067l35-4-34-12-35 4z" fill="#050e16"/><path d="M3819 1057l31-14-38-2-31 14z" fill="#081b25"/><path d="M3129 979l39 7-30-20-39-7z" fill="#061512"/><path d="M3399 1058l36-2-33-13-36 1z" fill="#050e15"/><path d="M3879 1045l31-16-39 0-31 16z" fill="#092028"/><path d="M3339 1046l37 0-33-14-37-1z" fill="#040f13"/><path d="M3068 953l40 10-29-21-40-10z" fill="#061410"/><path d="M3278 1031l38 2-31-15-38-3z" fill="#040f11"/><path d="M3218 1012l38 6-30-17-39-6z" fill="#040f0f"/><path d="M3610 1078l33-8-36-7-33 7z" fill="#040d15"/><path d="M3671 1076l32-9-38-5-32 9z" fill="#050e16"/><path d="M3550 1076l34-5-36-9-34 5z" fill="#040d14"/><path d="M3731 1072l31-11-38-4-31 11z" fill="#051119"/><path d="M3157 991l40 8-30-18-40-8z" fill="#05100e"/><path d="M3489 1072l35-4-35-10-34 3z" fill="#040d13"/><path d="M3791 1064l31-12-39-2-31 12z" fill="#06141b"/><path d="M3429 1064l36-2-34-11-36 1z" fill="#040d12"/><path d="M3852 1053l30-13-39 0-31 13z" fill="#07191e"/><path d="M3368 1053l37 1-33-13-37-1z" fill="#040e11"/><path d="M3096 967l40 10-28-19-41-10z" fill="#050f0c"/><path d="M3307 1039l38 3-31-14-38-3z" fill="#040f10"/><path d="M3246 1022l39 6-30-16-39-5z" fill="#040f0f"/><path d="M3185 1002l40 8-29-16-41-8z" fill="#040f0e"/><path d="M3642 1078l32-7-38-5-32 7z" fill="#040e14"/><path d="M3581 1078l33-5-37-7-33 5z" fill="#040e13"/><path d="M3702 1075l32-8-39-4-31 9z" fill="#050f14"/><path d="M3520 1075l34-3-35-9-35 3z" fill="#040d12"/><path d="M3763 1069l31-10-39-2-31 11z" fill="#051015"/><path d="M3459 1069l35-2-34-10-35 2z" fill="#040e11"/><path d="M3824 1060l30-12-40 1-30 11z" fill="#051215"/><path d="M3124 978l41 11-29-16-41-11z" fill="#050f0c"/><path d="M3397 1060l37 0-32-12-37 0z" fill="#040e11"/><path d="M3336 1047l38 3-30-13-39-3z" fill="#040e10"/><path d="M3274 1030l40 6-29-12-41-7z" fill="#040e0e"/><path d="M3213 1011l41 9-29-13-41-10z" fill="#040e0d"/><path d="M3613 1079l32-5-39-5-31 5z" fill="#040e12"/><path d="M3674 1077l31-6-39-3-31 6z" fill="#040f13"/><path d="M3552 1078l33-4-38-7-32 3z" fill="#040e11"/><path d="M3735 1073l30-8-40-1-30 8z" fill="#051013"/><path d="M3152 989l42 12-29-14-41-12z" fill="#050f0c"/><path d="M3489 1073l35-2-35-9-35 2z" fill="#040e11"/><path d="M3796 1065l29-9-40 0-30 10z" fill="#051114"/><path d="M3426 1064l38 1-32-10-38-1z" fill="#040e10"/><path d="M3364 1051l40 5-30-9-40-5z" fill="#040e0f"/><path d="M3303 1036l41 8-30-9-41-9z" fill="#040e0e"/><path d="M3242 1018l41 11-29-10-41-11z" fill="#040e0d"/><path d="M3181 997l41 14-28-11-42-14z" fill="#050f0c"/><path d="M3646 1076l30-3-41-1-30 3z" fill="#040f11"/><path d="M3585 1076l30-1-40-3-30 1z" fill="#040e11"/><path d="M3707 1074l29-5-41 0-29 5z" fill="#041012"/><path d="M3525 1071l30 2-40-2-31-3z" fill="#061619"/><path d="M3768 1068l29-6-42 2-29 6z" fill="#051012"/><path d="M3456 1060l38 9-31-1-39-9z" fill="#061719"/><path d="M3394 1051l40 10-31-3-40-10z" fill="#071718"/><path d="M3333 1039l40 11-30-4-40-12z" fill="#071817"/><path d="M3272 1023l40 14-30-7-40-13z" fill="#071916"/><path d="M3211 1004l40 16-29-8-41-15z" fill="#081a15"/><path d="M3677 1071l30 1-41 3-30 0z" fill="#071719"/><path d="M3616 1071l30 3-40 4-30-4z" fill="#071719"/><path d="M3739 1068l29-2-42 4-29 2z" fill="#071718"/><path d="M3553 1067l33 7-38 3-33-7z" fill="#071718"/><path d="M3489 1061l36 10-36 2-35-10z" fill="#071718"/><path d="M3427 1053l37 12-34 0-37-11z" fill="#071818"/><path d="M3365 1042l38 13-32-1-39-13z" fill="#071917"/><path d="M3303 1028l39 15-32-4-39-14z" fill="#081916"/><path d="M3241 1011l40 17-31-6-40-16z" fill="#081a15"/><path d="M3646 1068l32 5-39 6-32-5z" fill="#071818"/><path d="M3708 1066l31 3-41 6-30-2z" fill="#071818"/><path d="M3583 1067l34 7-38 5-33-8z" fill="#071818"/><path d="M3521 1063l35 9-37 3-35-9z" fill="#071818"/><path d="M3458 1056l36 11-34 2-37-12z" fill="#071817"/><path d="M3396 1046l37 13-34 0-37-13z" fill="#071916"/><path d="M3334 1033l38 15-33-2-38-15z" fill="#081a16"/><path d="M3271 1017l39 17-32-4-39-16z" fill="#081a14"/><path d="M3677 1065l32 5-39 7-32-5z" fill="#071917"/><path d="M3614 1065l34 7-38 6-33-7z" fill="#071817"/><path d="M3552 1062l35 10-37 4-35-9z" fill="#071917"/><path d="M3489 1057l36 11-36 3-35-11z" fill="#071916"/><path d="M3427 1048l37 13-35 2-37-13z" fill="#081916"/><path d="M3364 1037l38 15-34 0-37-15z" fill="#081b16"/><path d="M3302 1022l38 17-33-2-38-17z" fill="#091c16"/><path d="M3646 1062l34 7-39 8-33-7z" fill="#081b18"/><path d="M3583 1061l35 9-37 6-35-9z" fill="#091d19"/><path d="M3521 1057l35 11-36 4-36-11z" fill="#091f1a"/><path d="M3458 1049l36 13-35 4-36-14z" fill="#0a211b"/><path d="M3395 1039l37 15-34 2-37-15z" fill="#0b221b"/><path d="M3333 1026l38 17-34 0-38-17z" fill="#0c241b"/><path d="M3615 1058l35 9-38 8-34-9z" fill="#0b241e"/><path d="M3552 1055l36 11-37 6-36-11z" fill="#0c261f"/><path d="M3489 1049l36 13-36 5-36-13z" fill="#0d281f"/><path d="M3426 1040l37 15-35 3-37-15z" fill="#0e2a20"/><path d="M3363 1028l38 17-35 1-37-17z" fill="#0f2c1f"/><path d="M3584 1052l35 11-37 8-35-11z" fill="#0f2e23"/><path d="M3521 1047l36 13-37 6-36-12z" fill="#103023"/><path d="M3458 1040l36 15-35 4-37-15z" fill="#113224"/><path d="M3395 1029l37 17-35 3-38-17z" fill="#123323"/><path d="M3553 1044l36 13-37 8-36-13z" fill="#133827"/><path d="M3489 1038l37 15-37 6-36-15z" fill="#143a27"/><path d="M3426 1029l37 17-36 4-37-17z" fill="#153c26"/><path d="M3521 1035l37 15-37 7-37-14z" fill="#174229"/><path d="M3457 1027l37 17-36 6-37-17z" fill="#194429"/><path d="M3489 1024l37 17-37 7-36-17z" fill="#1d4c2c"/></g><text x="241.6" y="17.6" font-size="13.5" fill="#333" textLength="13.2" lengthAdjust="spacingAndGlyphs">(b)</text><text transform="translate(235.4 78) rotate(-90)" x="0" y="1.6" text-anchor="middle" font-size="4.7" fill="#555" textLength="54" lengthAdjust="spacingAndGlyphs">Average particle size (nm)</text><text x="265.4" y="106" text-anchor="end" font-size="3.6" font-weight="bold" fill="#666">0</text><text x="264.6" y="89.1" text-anchor="end" font-size="3.6" font-weight="bold" fill="#666">1000</text><text x="263.8" y="72.3" text-anchor="end" font-size="3.6" font-weight="bold" fill="#666">2000</text><text x="263" y="55.4" text-anchor="end" font-size="3.6" font-weight="bold" fill="#666">3000</text><text x="262.2" y="38.6" text-anchor="end" font-size="3.6" font-weight="bold" fill="#666">4000</text><text x="261.4" y="21.8" text-anchor="end" font-size="3.6" font-weight="bold" fill="#666">5000</text><text x="345" y="176.5" text-anchor="middle" font-size="3" fill="#777">2</text><text x="328.8" y="168.8" text-anchor="middle" font-size="3" fill="#777">1.8</text><text x="312.6" y="161" text-anchor="middle" font-size="3" fill="#777">1.6</text><text x="296.4" y="153.3" text-anchor="middle" font-size="3" fill="#777">1.4</text><text x="280.2" y="145.6" text-anchor="middle" font-size="3" fill="#777">1.2</text><text x="264" y="137.8" text-anchor="middle" font-size="3" fill="#777">1</text><text x="353.3" y="176.5" text-anchor="middle" font-size="3" fill="#777">10</text><text x="373.5" y="166.9" text-anchor="middle" font-size="3" fill="#777">12</text><text x="393.7" y="157.2" text-anchor="middle" font-size="3" fill="#777">14</text><text x="413.9" y="147.5" text-anchor="middle" font-size="3" fill="#777">16</text><text x="434.1" y="137.9" text-anchor="middle" font-size="3" fill="#777">18</text><path d="M348.4 172.7h1.2M332.2 165h1.2M316 157.2h1.2M299.8 149.5h1.2M283.6 141.8h1.2M267.4 134h1.2M348.4 172.7h1.2M368.6 163.1h1.2M388.8 153.4h1.2M409 143.7h1.2M429.2 134.1h1.2" stroke="#553" stroke-width="1"/><text x="277.2" y="169" text-anchor="middle" font-size="5.6" fill="#333" stroke="#333" stroke-width=".12" textLength="71" lengthAdjust="spacingAndGlyphs">C: Solution concentration (mg/mL)</text><text x="420.3" y="169" text-anchor="middle" font-size="5.6" fill="#333" stroke="#333" stroke-width=".12" textLength="63.4" lengthAdjust="spacingAndGlyphs">A: Crystallizer pressure (MPa)</text><circle cx="263.9" cy="55.1" r="1.5" fill="#a01c2c"/><circle cx="348.3" cy="26.5" r="1.5" fill="#a01c2c"/><circle cx="433.2" cy="67.3" r="1.5" fill="#a01c2c"/><circle cx="348.2" cy="92.8" r="1.5" fill="#a01c2c"/><circle cx="348.2" cy="90.6" r="1.5" fill="#a01c2c"/><circle cx="348.2" cy="101" r="1.5" fill="#e8b0b8"/><path d="M493.7 107.6 489.7 23.4M514.3 100.6 511.2 18.6M534.8 93.7 532.8 13.7M555.4 86.7 554.3 8.9M575.9 79.8 575.9 4.1M575.9 79.8 575.9 4.1M592.4 85.4 593.1 8M608.8 90.9 610.3 11.9M625.2 96.5 627.5 15.8M641.6 102.1 644.7 19.7M658 107.6 662 23.6M493.7 107.6 575.9 79.8 658 107.6M492.9 90.7 575.9 64.6 658.8 90.8M492.1 73.9 575.9 49.5 659.6 74M491.3 57 575.9 34.4 660.4 57.2M490.5 40.2 575.9 19.2 661.2 40.4M489.7 23.4 575.9 4.1 662 23.6M493.7 107.6 495 134M658 107.6 656.8 134.1M575.9 79.8 576 103.8" fill="none" stroke="#b8b8b8" stroke-width=".7"/><path d="M576 172.7 656.8 134.1 576 103.8 495 134Z" fill="#ffff00" stroke="#b0a800" stroke-width=".45"/><path d="M648 137.2 646.2 136.7 644.4 136.2 642.6 135.7 640.9 135.2 639.2 134.8 637.5 134.3 635.9 133.9 634.3 133.6 632.7 133.2 631.1 132.8 629.6 132.5 628 132.2 626.4 131.8 624.8 131.5 623.2 131.2 621.6 130.9 619.9 130.6 618.2 130.3 616.5 130.1 614.7 129.8 612.9 129.5 611 129.2 609 129 606.9 128.7 604.8 128.5 602.5 128.2 600.1 128 597.7 127.8 595 127.6 592.3 127.4 589.4 127.3 586.4 127.2 583.2 127.2 579.9 127.2 576.6 127.4 573.2 127.6 569.8 128 566.5 128.5 563.4 129.2 560.7 130 558.3 131 556.5 132.2 555.2 133.5 554.5 134.9 554.4 136.4 554.9 137.9 555.8 139.4 557 140.8 558.5 142.2 560.3 143.6 562.2 144.8 564.1 146 566.2 147.1 568.2 148.1 570.2 149 572.2 149.9 574.2 150.7 576.2 151.5 578.1 152.2 579.9 152.8 581.8 153.5 583.6 154 585.4 154.6 587.1 155.1 588.8 155.6 590.5 156.1 592.2 156.6 593.9 157 595.5 157.5 597.2 157.9 598.9 158.3 600.6 158.7 602.3 159.1M617.6 119.6 614.6 119.1 611.4 118.7 608.2 118.2 604.8 117.8 601.3 117.4 597.6 117 593.8 116.6 589.8 116.2 585.6 115.9 581.2 115.6 576.5 115.3 571.6 115.1 566.5 115 561.1 114.9 555.6 115 549.8 115.2M509.8 130.2 510.1 132.7 511.3 135.3 513.1 137.8 515.4 140.3 518.1 142.6 521.2 144.8 524.4 146.9 527.7 148.8 531.2 150.7 534.6 152.4 538 153.9 541.4 155.4 544.8 156.8 548.1 158.1 551.4 159.4 554.7 160.5 557.8 161.6 561 162.7 564.1 163.7 567.2 164.6 570.2 165.5 573.3 166.4 576.3 167.3 579.3 168.1 582.3 168.9" fill="none" stroke="#d0ea24" stroke-width=".9"/><g transform="scale(.1)"><path d="M5759 294l30-44-30-32-30 44z" fill="#b38643"/><path d="M5734 331l30-43-30-32-30 43z" fill="#a69d44"/><path d="M5784 321l31-44-31-31-30 44z" fill="#aa9544"/><path d="M5708 366l31-41-31-32-30 41z" fill="#94ad46"/><path d="M5759 357l30-42-30-31-30 42z" fill="#9aa945"/><path d="M5810 348l30-44-30-31-30 44z" fill="#a2a445"/><path d="M5683 399l30-39-30-32-30 40z" fill="#7fb847"/><path d="M5734 392l30-40-30-31-31 40z" fill="#85b547"/><path d="M5785 384l30-42-31-31-30 42z" fill="#8bb146"/><path d="M5836 374l30-44-31-30-30 44z" fill="#93ac46"/><path d="M5657 431l31-38-30-31-31 38z" fill="#70c04a"/><path d="M5708 425l31-39-31-30-30 39z" fill="#72bf49"/><path d="M5759 418l31-40-31-31-30 41z" fill="#76bd48"/><path d="M5810 410l30-42-30-30-30 42z" fill="#7db947"/><path d="M5861 399l31-43-31-30-30 44z" fill="#85b447"/><path d="M5631 461l31-36-30-31-31 36z" fill="#67c34f"/><path d="M5682 457l31-37-30-31-31 37z" fill="#69c24e"/><path d="M5734 451l30-38-30-31-31 39z" fill="#6bc14d"/><path d="M5785 444l30-40-30-30-31 40z" fill="#6ec04b"/><path d="M5836 435l30-42-30-29-31 42z" fill="#71bf49"/><path d="M5887 425l30-44-30-29-31 44z" fill="#77bc48"/><path d="M5605 489l31-33-30-31-31 34z" fill="#5fc654"/><path d="M5656 487l31-36-30-30-31 35z" fill="#61c553"/><path d="M5708 482l30-36-30-31-31 37z" fill="#62c452"/><path d="M5759 476l31-38-31-30-30 39z" fill="#65c451"/><path d="M5811 469l30-40-31-29-30 40z" fill="#67c24f"/><path d="M5862 460l30-41-31-30-30 42z" fill="#6bc14d"/><path d="M5913 449l31-43-31-28-31 43z" fill="#6fbf4a"/><path d="M5579 516l31-32-30-31-31 33z" fill="#58c858"/><path d="M5630 515l31-34-30-30-31 34z" fill="#59c857"/><path d="M5682 512l31-35-31-30-30 35z" fill="#5ac757"/><path d="M5733 507l31-36-30-30-31 37z" fill="#5cc756"/><path d="M5785 501l30-38-30-29-31 38z" fill="#5ec654"/><path d="M5836 494l31-40-31-29-30 40z" fill="#61c452"/><path d="M5888 484l30-41-31-28-30 41z" fill="#64c350"/><path d="M5940 473l30-42-31-29-30 43z" fill="#68c14e"/><path d="M5604 542l31-32-30-31-31 33z" fill="#54c65f"/><path d="M5553 542l31-31-30-30-31 30z" fill="#53c65f"/><path d="M5656 540l31-33-30-30-32 33z" fill="#54c75e"/><path d="M5708 537l30-35-30-30-31 36z" fill="#55c75c"/><path d="M5759 532l31-36-31-30-31 37z" fill="#56c75a"/><path d="M5811 526l30-38-31-29-30 38z" fill="#58c858"/><path d="M5863 518l30-40-31-28-30 40z" fill="#5bc656"/><path d="M5914 508l31-41-32-28-30 41z" fill="#5ec553"/><path d="M5966 497l30-42-31-28-30 43z" fill="#62c351"/><path d="M5630 567l31-32-30-30-32 32z" fill="#4fc566"/><path d="M5578 567l31-30-30-31-31 31z" fill="#4fc466"/><path d="M5682 565l31-33-31-30-31 33z" fill="#50c565"/><path d="M5526 565l32-28-30-31-32 29z" fill="#4fc465"/><path d="M5733 561l31-34-31-30-30 35z" fill="#51c563"/><path d="M5785 556l31-36-31-29-31 37z" fill="#52c661"/><path d="M5837 550l30-38-31-28-30 38z" fill="#54c65e"/><path d="M5889 541l30-39-31-28-30 40z" fill="#56c75a"/><path d="M5941 532l30-41-31-28-31 41z" fill="#59c757"/><path d="M5993 520l30-42-32-27-30 42z" fill="#5dc554"/><path d="M5603 591l32-29-31-30-31 30z" fill="#4bc36d"/><path d="M5655 591l32-31-31-30-31 32z" fill="#4bc36c"/><path d="M5551 590l32-28-30-30-32 28z" fill="#4bc26c"/><path d="M5707 589l31-33-30-29-31 33z" fill="#4cc36b"/><path d="M5499 587l32-26-30-31-32 27z" fill="#4bc26b"/><path d="M5759 585l31-34-31-29-31 35z" fill="#4dc46a"/><path d="M5811 580l31-36-31-28-31 36z" fill="#4ec467"/><path d="M5863 573l31-37-32-28-30 37z" fill="#50c564"/><path d="M5915 565l31-39-32-28-30 39z" fill="#52c560"/><path d="M5967 555l31-41-32-27-30 41z" fill="#54c65c"/><path d="M6019 543l31-42-32-27-30 42z" fill="#57c657"/><path d="M5629 615l31-29-30-29-32 29z" fill="#47c173"/><path d="M5681 615l31-31-30-29-32 31z" fill="#47c273"/><path d="M5577 614l31-28-30-29-31 28z" fill="#47c173"/><path d="M5733 612l31-32-31-29-31 33z" fill="#48c272"/><path d="M5525 612l31-27-30-30-31 27z" fill="#47c072"/><path d="M5785 609l31-35-31-28-31 35z" fill="#49c270"/><path d="M5472 608l33-25-30-31-32 26z" fill="#48c070"/><path d="M5837 603l31-36-31-27-31 36z" fill="#4bc36d"/><path d="M5890 596l30-37-31-28-31 38z" fill="#4cc36a"/><path d="M5942 587l30-38-31-27-31 39z" fill="#4ec466"/><path d="M5994 577l30-40-31-27-31 41z" fill="#51c462"/><path d="M6046 565l30-42-31-26-30 42z" fill="#54c55d"/><path d="M5655 639l31-29-31-29-31 29z" fill="#43c07b"/><path d="M5707 638l31-31-31-28-31 31z" fill="#44c07b"/><path d="M5602 638l32-28-30-29-32 28z" fill="#43bf7b"/><path d="M5759 636l31-33-31-28-31 33z" fill="#45c079"/><path d="M5550 636l32-26-30-30-32 27z" fill="#43bf7a"/><path d="M5812 631l30-33-31-28-31 34z" fill="#46c176"/><path d="M5498 632l32-25-30-30-32 26z" fill="#44be77"/><path d="M5864 626l30-36-31-27-31 36z" fill="#47c173"/><path d="M5445 627l33-24-30-30-33 24z" fill="#44bd74"/><path d="M5916 618l31-37-32-26-30 37z" fill="#49c270"/><path d="M5969 609l30-38-32-26-30 38z" fill="#4bc26c"/><path d="M6021 599l30-40-32-26-30 40z" fill="#4dc367"/><path d="M6074 587l30-42-33-25-30 41z" fill="#50c362"/><path d="M5681 662l31-29-31-28-31 29z" fill="#40be85"/><path d="M5733 661l31-31-31-28-31 31z" fill="#40be84"/><path d="M5628 662l32-28-31-29-31 28z" fill="#40bd85"/><path d="M5785 658l31-32-31-27-31 32z" fill="#41bf82"/><path d="M5576 660l32-26-31-30-32 27z" fill="#40bd84"/><path d="M5838 654l31-34-32-27-30 34z" fill="#42bf7f"/><path d="M5523 656l32-25-30-29-32 25z" fill="#40bc81"/><path d="M5890 648l31-35-32-27-30 35z" fill="#44c07b"/><path d="M5471 651l32-23-30-30-32 23z" fill="#41bb7d"/><path d="M5943 640l30-36-31-27-31 37z" fill="#45c075"/><path d="M5418 644l33-22-30-30-33 22z" fill="#42ba78"/><path d="M5995 631l31-38-32-26-30 38z" fill="#48c171"/><path d="M6048 620l30-39-32-26-30 40z" fill="#4ac16d"/><path d="M6101 608l30-41-32-25-30 41z" fill="#4dc267"/><path d="M5707 685l31-29-31-28-31 29z" fill="#3dbc8f"/><path d="M5654 684l32-27-31-28-32 28z" fill="#3cbb8f"/><path d="M5759 683l31-30-31-27-31 30z" fill="#3dbc8e"/><path d="M5601 683l32-26-30-29-32 26z" fill="#3cbb8e"/><path d="M5812 680l31-32-32-27-31 33z" fill="#3ebd8c"/><path d="M5549 679l32-24-31-29-32 25z" fill="#3dba8b"/><path d="M5864 676l31-34-31-26-31 33z" fill="#3fbd88"/><path d="M5496 674l32-23-30-29-32 23z" fill="#3db987"/><path d="M5917 670l31-35-32-27-31 36z" fill="#41be84"/><path d="M5443 667l33-21-30-29-33 21z" fill="#3eb882"/><path d="M5970 662l30-37-32-26-30 37z" fill="#42bf7e"/><path d="M5390 659l33-19-30-30-32 19z" fill="#3fb77c"/><path d="M6023 652l30-38-32-25-31 38z" fill="#44bf77"/><path d="M6075 641l31-39-33-25-30 40z" fill="#47c072"/><path d="M6128 629l30-41-32-25-30 41z" fill="#4ac16c"/><path d="M5733 707l31-29-31-27-31 29z" fill="#39ba98"/><path d="M5680 707l32-27-31-28-32 27z" fill="#39ba99"/><path d="M5786 705l31-30-32-27-31 31z" fill="#3abb97"/><path d="M5627 705l32-25-31-28-31 25z" fill="#39b997"/><path d="M5838 702l31-32-31-26-31 32z" fill="#3bbb95"/><path d="M5575 702l32-24-31-28-32 24z" fill="#39b895"/><path d="M5891 697l31-33-32-26-31 33z" fill="#3cbc91"/><path d="M5522 697l32-22-30-29-33 23z" fill="#3ab791"/><path d="M5944 691l31-35-32-26-31 35z" fill="#3ebc8c"/><path d="M5469 691l32-21-30-29-32 21z" fill="#3bb68c"/><path d="M5997 683l30-37-32-25-30 37z" fill="#3fbd86"/><path d="M5416 683l32-20-29-29-33 19z" fill="#3bb585"/><path d="M6050 673l30-38-32-25-30 38z" fill="#42be7f"/><path d="M5363 673l33-18-30-30-33 18z" fill="#3cb37e"/><path d="M6103 662l30-39-33-25-30 40z" fill="#44bf77"/><path d="M6156 649l30-41-33-24-30 41z" fill="#47c071"/><path d="M5759 728l32-28-32-27-31 29z" fill="#36b8a1"/><path d="M5706 729l32-27-31-27-32 27z" fill="#36b7a1"/><path d="M5812 727l31-30-31-27-31 30z" fill="#37b9a0"/><path d="M5653 727l32-25-31-28-32 26z" fill="#36b6a0"/><path d="M5865 723l31-31-32-26-31 31z" fill="#38ba9d"/><path d="M5600 724l32-24-30-27-32 24z" fill="#36b69e"/><path d="M5918 718l31-33-32-25-31 33z" fill="#39ba99"/><path d="M5547 720l33-23-31-28-32 23z" fill="#37b59a"/><path d="M5971 711l31-34-32-25-31 34z" fill="#3bbb94"/><path d="M5494 713l33-20-31-29-32 21z" fill="#37b495"/><path d="M6024 703l31-36-33-25-30 37z" fill="#3dbb8e"/><path d="M5441 705l33-19-30-29-33 20z" fill="#38b38e"/><path d="M6077 693l31-37-33-25-30 38z" fill="#3fbc87"/><path d="M5388 696l33-18-30-29-33 18z" fill="#39b186"/><path d="M6131 682l30-39-33-24-30 39z" fill="#41bd7f"/><path d="M5335 685l33-16-30-30-33 17z" fill="#3aaf7e"/><path d="M5733 750l31-27-31-26-32 27z" fill="#34b0a9"/><path d="M5786 749l31-28-31-26-32 29z" fill="#34b1a8"/><path d="M6184 669l30-41-33-24-30 41z" fill="#44be76"/><path d="M5680 749l31-25-31-27-32 25z" fill="#33b0a7"/><path d="M5839 747l31-29-32-26-31 30z" fill="#34b3a7"/><path d="M5626 746l32-24-30-27-32 24z" fill="#34b0a5"/><path d="M5892 744l31-31-32-26-31 32z" fill="#35b5a5"/><path d="M5573 742l33-22-31-28-32 22z" fill="#34b0a2"/><path d="M5945 738l31-32-32-25-31 33z" fill="#36b8a1"/><path d="M5520 736l33-21-31-28-32 21z" fill="#34b19d"/><path d="M5998 732l31-35-32-24-31 34z" fill="#38b99c"/><path d="M5467 728l32-19-30-28-33 19z" fill="#35b197"/><path d="M6052 723l30-36-33-24-30 36z" fill="#3aba96"/><path d="M5413 719l33-18-30-28-33 17z" fill="#36af8f"/><path d="M6105 713l30-37-33-24-30 37z" fill="#3cbb8e"/><path d="M5360 708l33-16-30-29-33 16z" fill="#37ac86"/><path d="M6158 701l30-39-32-23-31 39z" fill="#3fbc86"/><path d="M5759 771l32-27-32-26-31 27z" fill="#31aaaf"/><path d="M5813 770l31-28-32-25-31 28z" fill="#31abaf"/><path d="M5306 695l34-14-30-29-33 14z" fill="#38a97c"/><path d="M5706 770l32-25-32-26-31 25z" fill="#31aaae"/><path d="M6212 688l30-41-33-23-30 41z" fill="#42bd7d"/><path d="M5866 768l31-30-32-25-31 30z" fill="#32adae"/><path d="M5653 767l32-23-31-27-32 24z" fill="#31a9ac"/><path d="M5919 764l31-31-32-25-31 31z" fill="#33afab"/><path d="M5599 763l33-22-31-27-33 22z" fill="#31aaa9"/><path d="M5972 758l31-32-32-25-31 33z" fill="#34b2a8"/><path d="M5546 757l32-20-30-27-33 20z" fill="#32aaa4"/><path d="M6026 751l30-34-32-24-31 34z" fill="#36b5a3"/><path d="M5492 750l33-19-30-28-33 19z" fill="#32ab9e"/><path d="M6079 742l31-35-33-24-30 36z" fill="#37b89d"/><path d="M5439 741l33-17-30-29-33 18z" fill="#33ab97"/><path d="M6133 732l30-37-33-23-30 37z" fill="#3ab995"/><path d="M5385 730l34-15-30-29-34 16z" fill="#34aa8e"/><path d="M6186 720l31-39-34-22-30 38z" fill="#3cba8d"/><path d="M5331 718l34-14-30-29-33 14z" fill="#35a783"/><path d="M5786 791l32-26-32-26-32 27z" fill="#2fa4b6"/><path d="M5840 790l31-27-32-26-31 28z" fill="#2fa5b6"/><path d="M5733 790l31-24-31-26-32 25z" fill="#2ea3b5"/><path d="M5893 788l31-29-32-25-31 29z" fill="#30a7b4"/><path d="M6240 706l30-40-33-22-30 40z" fill="#3fbb83"/><path d="M5679 788l32-23-31-26-32 23z" fill="#2ea3b3"/><path d="M5946 784l31-31-32-25-31 31z" fill="#31aab1"/><path d="M5626 784l32-21-31-27-32 22z" fill="#2fa3af"/><path d="M6000 778l31-32-33-24-31 32z" fill="#32acae"/><path d="M5278 704l33-13-29-29-34 13z" fill="#36a478"/><path d="M5572 778l32-19-30-27-33 20z" fill="#2fa4aa"/><path d="M6054 770l30-33-33-24-30 34z" fill="#33b0a9"/><path d="M5518 771l33-18-31-27-32 18z" fill="#30a4a4"/><path d="M6107 761l31-35-33-23-31 35z" fill="#35b4a3"/><path d="M5465 762l33-16-31-28-33 17z" fill="#30a59d"/><path d="M6161 751l30-37-33-23-30 37z" fill="#37b89c"/><path d="M5411 752l33-15-30-28-33 15z" fill="#31a594"/><path d="M6215 738l30-38-34-22-30 38z" fill="#3ab993"/><path d="M5357 740l34-14-30-28-34 14z" fill="#32a48a"/><path d="M5813 811l31-26-32-25-31 26z" fill="#2d9abb"/><path d="M5867 810l31-28-32-24-32 27z" fill="#2d9dbb"/><path d="M5759 810l32-24-32-25-31 24z" fill="#2c99ba"/><path d="M5920 807l31-29-32-24-31 29z" fill="#2ea2ba"/><path d="M5706 808l32-22-32-26-32 23z" fill="#2c9ab8"/><path d="M6269 724l30-39-34-22-30 40z" fill="#3dba89"/><path d="M5974 803l31-31-33-24-31 31z" fill="#2fa4b7"/><path d="M5652 805l32-22-31-26-32 22z" fill="#2c9db6"/><path d="M5303 726l34-12-30-29-34 12z" fill="#33a17f"/><path d="M6028 797l30-32-32-24-31 32z" fill="#30a7b3"/><path d="M5598 799l33-19-31-27-33 20z" fill="#2d9db1"/><path d="M6081 789l31-33-33-24-31 34z" fill="#31abae"/><path d="M5544 792l33-18-31-27-32 19z" fill="#2d9eaa"/><path d="M5249 710l34-10-29-29-35 11z" fill="#349d73"/><path d="M6135 780l31-35-34-23-30 35z" fill="#33afa8"/><path d="M5491 783l33-16-31-27-33 17z" fill="#2e9ea3"/><path d="M6189 769l30-37-33-22-30 37z" fill="#35b4a2"/><path d="M5437 773l33-15-30-27-34 15z" fill="#2e9f9a"/><path d="M6243 756l30-38-33-22-30 39z" fill="#38b799"/><path d="M5382 761l34-13-30-28-34 14z" fill="#2f9f90"/><path d="M5840 830l32-25-33-25-31 26z" fill="#2b89bd"/><path d="M5786 830l32-24-32-25-32 24z" fill="#2b88bc"/><path d="M5894 829l31-27-32-24-31 27z" fill="#2b8dbd"/><path d="M5732 828l32-22-31-26-32 23z" fill="#2a89ba"/><path d="M5948 826l31-29-33-23-31 28z" fill="#2c93bc"/><path d="M6297 742l30-40-34-21-29 40z" fill="#3bb98f"/><path d="M5679 824l32-20-32-26-32 21z" fill="#2a8cb7"/><path d="M5328 748l34-12-30-28-33 12z" fill="#309e85"/><path d="M6002 821l30-30-32-23-31 30z" fill="#2d9bbb"/><path d="M5625 819l32-19-31-26-33 20z" fill="#2a91b4"/><path d="M6056 815l30-32-33-23-31 32z" fill="#2ea2b9"/><path d="M5571 813l32-18-31-27-32 18z" fill="#2b97b0"/><path d="M6109 807l31-33-33-23-31 34z" fill="#2fa6b4"/><path d="M5274 732l34-10-29-28-35 10z" fill="#319a79"/><path d="M5517 804l33-16-31-27-33 17z" fill="#2b98a8"/><path d="M6164 798l30-35-34-22-30 35z" fill="#31abad"/><path d="M5462 794l34-15-31-27-33 15z" fill="#2c989f"/><path d="M5219 715l35-8-29-29-35 9z" fill="#32966c"/><path d="M6218 786l30-36-34-22-30 37z" fill="#33b0a6"/><path d="M5408 782l34-13-30-27-34 13z" fill="#2c9895"/><path d="M6272 774l30-38-34-22-30 39z" fill="#36b69f"/><path d="M5867 849l32-25-33-24-31 25z" fill="#297abe"/><path d="M5813 849l32-24-32-24-32 24z" fill="#2978bd"/><path d="M5921 847l32-26-33-24-31 27z" fill="#2a7ebf"/><path d="M5759 847l32-22-32-25-32 23z" fill="#2979bc"/><path d="M5975 844l31-28-32-23-31 28z" fill="#2a84be"/><path d="M5354 769l34-11-30-28-34 11z" fill="#2d998a"/><path d="M5705 844l32-21-31-25-32 21z" fill="#297bb9"/><path d="M6326 759l30-39-34-21-30 39z" fill="#39b795"/><path d="M6029 839l31-30-33-22-31 30z" fill="#2b8cbd"/><path d="M5651 839l33-19-32-25-32 19z" fill="#2980b5"/><path d="M6084 833l30-32-33-22-31 32z" fill="#2c97bb"/><path d="M5597 832l33-17-31-26-33 18z" fill="#2986b1"/><path d="M5299 754l35-10-30-28-34 10z" fill="#2e977e"/><path d="M6138 825l30-33-33-22-31 33z" fill="#2ea2b8"/><path d="M5543 824l33-16-31-26-33 16z" fill="#298eab"/><path d="M6192 815l30-35-33-21-31 35z" fill="#30a6b2"/><path d="M5245 737l34-8-29-28-35 8z" fill="#2f9371"/><path d="M5489 814l33-14-31-27-33 15z" fill="#2992a4"/><path d="M6246 803l30-36-33-21-30 37z" fill="#32acab"/><path d="M5434 803l34-13-31-27-33 13z" fill="#2a9299"/><path d="M6301 790l30-37-34-21-30 38z" fill="#34b2a3"/><path d="M5190 719l35-7-29-29-35 7z" fill="#308e64"/><path d="M5895 867l31-25-32-23-32 25z" fill="#286cbf"/><path d="M5841 867l31-23-32-24-32 24z" fill="#276abd"/><path d="M5949 865l31-26-33-23-31 27z" fill="#286fc0"/><path d="M5380 790l34-11-31-28-33 12z" fill="#2b928e"/><path d="M5786 866l32-22-32-24-32 22z" fill="#276abc"/><path d="M6003 862l31-28-33-23-31 29z" fill="#2976c0"/><path d="M5732 863l32-20-32-25-32 21z" fill="#276cba"/><path d="M6355 776l30-39-34-21-30 40z" fill="#37b699"/><path d="M6058 857l30-30-33-22-31 30z" fill="#2a7fbe"/><path d="M5678 858l32-19-31-25-33 20z" fill="#2770b6"/><path d="M6112 850l30-31-33-22-31 32z" fill="#2b8abd"/><path d="M5325 775l34-10-30-27-34 10z" fill="#2b9283"/><path d="M5624 852l32-17-31-26-33 18z" fill="#2776b2"/><path d="M6166 842l31-33-34-21-30 33z" fill="#2c97bb"/><path d="M5569 844l33-16-31-25-33 15z" fill="#277eac"/><path d="M6221 832l30-35-34-21-30 35z" fill="#2ea2b6"/><path d="M5270 758l35-8-30-28-34 9z" fill="#2c8f76"/><path d="M5515 834l33-14-31-26-33 14z" fill="#2786a6"/><path d="M6275 820l30-36-34-20-30 36z" fill="#30a8af"/><path d="M5460 823l34-13-31-26-33 13z" fill="#288c9d"/><path d="M5215 740l35-6-29-28-35 6z" fill="#2d8b69"/><path d="M6330 807l30-38-34-20-30 38z" fill="#33aea7"/><path d="M5406 810l33-11-30-27-34 11z" fill="#288c92"/><path d="M5868 885l32-23-33-23-31 23z" fill="#255fba"/><path d="M5923 885l31-25-33-23-31 25z" fill="#2561bc"/><path d="M5814 884l32-21-33-24-32 22z" fill="#255fb9"/><path d="M5977 883l31-26-33-23-31 27z" fill="#2664bd"/><path d="M5759 881l32-20-32-24-32 21z" fill="#2560b7"/><path d="M6031 879l31-28-33-22-31 28z" fill="#276abf"/><path d="M5705 877l32-19-32-24-32 19z" fill="#2563b5"/><path d="M6086 874l31-29-34-22-31 30z" fill="#2972c0"/><path d="M6385 792l30-39-35-20-30 39z" fill="#36b49e"/><path d="M5160 720l35-5-29-28-35 5z" fill="#2e865b"/><path d="M5351 795l34-9-30-27-34 9z" fill="#298c86"/><path d="M5650 871l33-17-32-25-32 17z" fill="#2667b2"/><path d="M6140 867l31-31-34-21-30 31z" fill="#2a7dbe"/><path d="M5596 863l33-15-32-26-32 16z" fill="#266ead"/><path d="M6195 858l30-32-34-21-30 33z" fill="#2b8bbc"/><path d="M5296 779l34-8-29-27-35 8z" fill="#298b7a"/><path d="M5541 853l33-13-31-26-33 14z" fill="#2677a6"/><path d="M6250 848l30-34-34-20-30 34z" fill="#2d9bb9"/><path d="M5486 842l34-12-31-26-33 13z" fill="#26819f"/><path d="M6305 836l30-35-35-21-30 36z" fill="#2fa4b3"/><path d="M5241 761l35-6-30-28-35 6z" fill="#2a876d"/><path d="M5432 830l33-11-30-26-34 11z" fill="#268695"/><path d="M6359 822l30-37-34-19-30 37z" fill="#31aaaa"/><path d="M5896 903l31-23-32-23-32 23z" fill="#2354b8"/><path d="M5950 902l32-24-33-23-32 25z" fill="#2356b9"/><path d="M5841 902l32-21-32-24-32 22z" fill="#2354b6"/><path d="M6005 900l31-26-33-22-31 26z" fill="#245abb"/><path d="M5787 899l32-20-33-23-32 20z" fill="#2355b4"/><path d="M6060 896l31-28-34-21-31 28z" fill="#2560bc"/><path d="M5185 741l36-4-29-28-36 4z" fill="#2b825f"/><path d="M5732 895l32-18-32-24-32 18z" fill="#2358b1"/><path d="M6114 890l31-29-34-21-30 30z" fill="#2768be"/><path d="M5377 815l34-9-30-26-35 9z" fill="#268589"/><path d="M6414 807l30-38-35-20-29 39z" fill="#34b1a1"/><path d="M5677 889l33-17-32-24-32 17z" fill="#235caf"/><path d="M6169 883l31-30-34-21-31 31z" fill="#2972bf"/><path d="M5623 881l32-15-31-24-33 15z" fill="#2461ac"/><path d="M6224 874l30-32-34-20-30 32z" fill="#2a80bd"/><path d="M5321 799l35-7-30-27-34 7z" fill="#27857c"/><path d="M5130 720l36-3-29-28-36 3z" fill="#2c7e52"/><path d="M5568 872l33-13-31-25-33 14z" fill="#2469a6"/><path d="M6279 864l30-34-34-20-31 34z" fill="#2b91ba"/><path d="M5513 861l33-12-31-25-33 12z" fill="#24729e"/><path d="M5266 781l35-6-29-27-35 6z" fill="#288470"/><path d="M6334 852l30-36-35-19-30 35z" fill="#2da0b6"/><path d="M5458 849l34-11-31-25-34 10z" fill="#247c96"/><path d="M6389 838l30-37-35-19-30 37z" fill="#30a7ad"/><path d="M5924 920l31-23-33-22-31 23z" fill="#214bb5"/><path d="M5979 919l31-24-33-22-32 24z" fill="#214db7"/><path d="M5869 919l32-21-33-23-32 22z" fill="#214ab3"/><path d="M5211 761l35-3-29-28-36 4z" fill="#297f62"/><path d="M6033 916l31-25-33-22-31 26z" fill="#2251b8"/><path d="M5814 917l32-20-32-23-32 20z" fill="#204bb1"/><path d="M6088 912l31-27-34-21-31 28z" fill="#2457ba"/><path d="M5759 913l33-18-33-24-32 19z" fill="#214dae"/><path d="M5403 834l34-8-30-26-35 9z" fill="#247f8b"/><path d="M6143 906l31-28-34-21-31 29z" fill="#255fbc"/><path d="M6444 822l30-38-35-19-30 39z" fill="#33aea4"/><path d="M5705 907l32-16-32-24-32 17z" fill="#2151ab"/><path d="M6198 899l31-30-35-21-30 31z" fill="#2769be"/><path d="M5650 899l32-14-31-24-33 15z" fill="#2156a8"/><path d="M5155 740l36-2-29-28-36 3z" fill="#297a55"/><path d="M5347 818l35-7-30-26-35 8z" fill="#257f7f"/><path d="M6253 890l30-32-34-20-30 32z" fill="#2976be"/><path d="M5595 890l33-13-32-24-33 13z" fill="#225ca4"/><path d="M6308 879l30-34-34-19-30 34z" fill="#2a87bb"/><path d="M5539 880l34-12-31-25-34 12z" fill="#22659e"/><path d="M5292 801l35-6-30-26-35 6z" fill="#257e72"/><path d="M5099 717l36 0-28-28-36 1z" fill="#2a7648"/><path d="M6364 866l29-35-34-19-30 36z" fill="#2c9ab8"/><path d="M5484 867l34-10-31-25-34 11z" fill="#226f95"/><path d="M5236 781l36-3-30-27-35 4z" fill="#267b65"/><path d="M5952 936l31-22-33-22-31 23z" fill="#2044b1"/><path d="M6419 852l30-36-35-19-30 37z" fill="#2fa4b0"/><path d="M6007 935l31-24-33-21-32 24z" fill="#2045b4"/><path d="M5897 936l32-21-33-22-32 21z" fill="#1f43af"/><path d="M6062 932l31-25-34-21-31 26z" fill="#2149b6"/><path d="M5842 934l32-20-33-22-32 19z" fill="#1f43ad"/><path d="M5429 853l34-8-30-25-35 8z" fill="#22798d"/><path d="M6117 928l31-27-34-21-31 28z" fill="#224fb8"/><path d="M5787 930l32-18-32-23-33 18z" fill="#1f44ab"/><path d="M6172 922l31-29-35-20-30 29z" fill="#2457ba"/><path d="M5732 924l32-16-32-23-32 16z" fill="#1f47a7"/><path d="M6475 836l29-38-35-18-30 39z" fill="#32aba7"/><path d="M5180 760l36-2-29-27-36 3z" fill="#277758"/><path d="M6227 914l31-30-35-20-30 31z" fill="#2662bc"/><path d="M5677 917l33-14-32-24-33 15z" fill="#1f4ca4"/><path d="M5373 838l35-7-30-26-35 7z" fill="#237980"/><path d="M6283 905l30-32-35-19-30 32z" fill="#286ebe"/><path d="M5622 908l33-13-32-24-33 14z" fill="#2052a0"/><path d="M5318 820l35-5-30-26-35 5z" fill="#237873"/><path d="M6338 894l30-34-35-18-30 33z" fill="#2a7fbc"/><path d="M5566 898l34-12-32-24-33 12z" fill="#21599c"/><path d="M5124 737l37 0-29-27-36 0z" fill="#28724b"/><path d="M6393 881l30-35-35-18-30 35z" fill="#2b92b8"/><path d="M5511 885l34-9-31-25-34 10z" fill="#216294"/><path d="M5262 801l35-3-29-27-36 4z" fill="#247867"/><path d="M5980 952l32-22-34-21-31 22z" fill="#1f3fac"/><path d="M5925 952l32-21-34-21-31 21z" fill="#1e3eaa"/><path d="M6035 951l32-24-34-21-31 24z" fill="#1f41af"/><path d="M6449 866l30-36-36-18-29 37z" fill="#2ea1b2"/><path d="M5068 713l37 1-28-27-37-1z" fill="#296e40"/><path d="M5870 950l32-19-33-22-32 19z" fill="#1e3ea8"/><path d="M5455 872l35-8-31-25-34 8z" fill="#206c8b"/><path d="M6091 948l31-25-34-21-31 26z" fill="#2044b2"/><path d="M5815 946l32-17-33-22-32 17z" fill="#1e3ea6"/><path d="M6146 943l31-27-35-20-30 27z" fill="#2048b6"/><path d="M5759 941l33-16-33-22-32 16z" fill="#1d3fa4"/><path d="M6201 937l31-29-35-19-30 29z" fill="#2250b8"/><path d="M5206 780l36-2-29-26-36 2z" fill="#25735a"/><path d="M6505 850l29-38-35-17-30 38z" fill="#31a8a9"/><path d="M5400 856l34-6-30-26-35 7z" fill="#217381"/><path d="M5704 934l33-14-32-23-33 14z" fill="#1d43a0"/><path d="M6257 929l30-30-35-19-30 30z" fill="#245bba"/><path d="M5649 925l33-12-32-24-33 13z" fill="#1e499c"/><path d="M6312 919l30-31-35-19-30 32z" fill="#2767bc"/><path d="M5344 839l35-5-30-25-35 5z" fill="#217374"/><path d="M5150 757l36 0-29-26-36 0z" fill="#256e4d"/><path d="M5593 915l34-11-32-24-33 12z" fill="#1e4f98"/><path d="M6368 908l30-33-35-18-30 33z" fill="#2977bc"/><path d="M5538 903l33-9-31-24-34 9z" fill="#1f5793"/><path d="M6424 895l29-35-35-18-30 35z" fill="#2b8bb9"/><path d="M5288 820l35-3-29-26-36 3z" fill="#227268"/><path d="M5093 733l37 2-28-27-37-2z" fill="#266a41"/><path d="M6009 967l31-21-34-21-31 22z" fill="#1e3ca8"/><path d="M5953 967l32-20-34-21-31 21z" fill="#1e3aa5"/><path d="M5482 889l34-7-31-25-34 8z" fill="#1f618a"/><path d="M6064 966l31-24-34-20-31 24z" fill="#1f3dab"/><path d="M5898 966l32-19-33-21-32 19z" fill="#1d3aa3"/><path d="M6480 880l29-36-36-17-29 36z" fill="#2d9eb4"/><path d="M6120 963l31-25-35-20-31 25z" fill="#1f40ae"/><path d="M5843 962l32-17-33-21-32 17z" fill="#1d3aa0"/><path d="M6175 958l31-27-35-19-30 27z" fill="#2044b2"/><path d="M5232 799l36-1-30-26-36 1z" fill="#226f5b"/><path d="M5787 957l33-15-33-22-33 15z" fill="#1c3b9e"/><path d="M6231 951l30-28-35-19-30 28z" fill="#214ab6"/><path d="M5426 874l35-6-31-25-34 7z" fill="#1f6b81"/><path d="M6536 864l29-38-36-17-29 38z" fill="#30a6ab"/><path d="M5732 950l32-13-32-23-33 14z" fill="#1c3c9c"/><path d="M6286 943l31-30-35-18-31 30z" fill="#2355b8"/><path d="M5036 707l38 3-28-27-37-3z" fill="#276639"/><path d="M5676 942l33-12-32-23-33 13z" fill="#1c4098"/><path d="M6342 933l30-31-35-18-30 31z" fill="#2561ba"/><path d="M5370 857l35-4-30-25-35 4z" fill="#1f6d75"/><path d="M5175 777l37 0-29-26-37 0z" fill="#236b4f"/><path d="M5620 932l34-11-32-23-33 11z" fill="#1c4793"/><path d="M6398 921l30-32-36-18-29 33z" fill="#2870bc"/><path d="M5565 920l33-9-31-23-34 9z" fill="#1d4d8e"/><path d="M5314 838l35-3-29-25-36 3z" fill="#206c69"/><path d="M6454 908l30-34-36-17-30 34z" fill="#2a85b9"/><path d="M5118 752l38 2-29-26-37-2z" fill="#246743"/><path d="M5509 907l34-8-31-23-34 7z" fill="#1d5688"/><path d="M6038 982l31-21-34-20-31 22z" fill="#1e38a4"/><path d="M5982 982l32-20-34-20-32 20z" fill="#1d37a1"/><path d="M6093 980l31-23-34-19-31 23z" fill="#1e3aa7"/><path d="M5926 981l32-18-33-21-32 18z" fill="#1d369e"/><path d="M6510 893l30-36-36-17-30 36z" fill="#2c9bb5"/><path d="M6149 977l31-25-35-19-31 25z" fill="#1f3dab"/><path d="M5871 978l32-17-33-21-32 17z" fill="#1c369b"/><path d="M5257 818l37-1-30-26-36 1z" fill="#206c5d"/><path d="M6205 972l30-26-35-19-30 26z" fill="#1f41af"/><path d="M5815 973l32-15-32-22-33 16z" fill="#1b3799"/><path d="M5453 891l34-5-31-24-34 6z" fill="#1d607f"/><path d="M6261 965l30-28-35-18-31 28z" fill="#2045b3"/><path d="M5061 726l38 4-28-26-37-4z" fill="#256239"/><path d="M5759 966l33-13-33-22-32 14z" fill="#1b3896"/><path d="M6567 876l29-37-36-16-30 37z" fill="#2fa3ac"/><path d="M6316 956l31-29-36-18-30 30z" fill="#2250b6"/><path d="M5704 958l33-12-33-22-33 12z" fill="#1a3993"/><path d="M5201 795l36 1-28-26-37 0z" fill="#216750"/><path d="M5397 875l35-4-31-25-35 5z" fill="#1d6875"/><path d="M6372 946l30-31-35-17-30 31z" fill="#245cb9"/><path d="M5648 948l33-10-32-23-33 11z" fill="#1b3f8f"/><path d="M6429 934l29-32-36-17-29 33z" fill="#276bbb"/><path d="M5004 698l39 6-28-27-38-5z" fill="#265e31"/><path d="M5592 937l34-9-32-23-34 9z" fill="#1b458a"/><path d="M5340 856l36-2-30-25-36 3z" fill="#1e6769"/><path d="M5144 771l37 3-28-26-37-2z" fill="#226344"/><path d="M6485 921l29-34-36-17-29 34z" fill="#297fb9"/><path d="M5536 923l34-7-32-23-34 8z" fill="#1c4c85"/><path d="M6067 996l31-21-34-19-32 21z" fill="#1d359f"/><path d="M6011 997l31-20-34-20-31 20z" fill="#1d339c"/><path d="M6123 994l31-22-35-19-31 23z" fill="#1e37a3"/><path d="M5955 996l32-18-34-21-32 19z" fill="#1c3399"/><path d="M5284 836l36-1-30-25-36 1z" fill="#1e675d"/><path d="M6178 991l31-25-35-18-30 24z" fill="#1e3aa7"/><path d="M5899 993l32-17-33-20-32 16z" fill="#1b3397"/><path d="M6541 905l30-35-37-16-29 35z" fill="#2b96b5"/><path d="M6234 985l31-26-35-18-31 26z" fill="#1f3eac"/><path d="M5843 988l33-15-34-21-32 15z" fill="#1b3394"/><path d="M5480 908l34-5-31-24-34 6z" fill="#1c567c"/><path d="M5087 745l38 5-28-26-38-4z" fill="#225f39"/><path d="M6290 978l31-27-36-18-30 28z" fill="#1f43b0"/><path d="M5787 982l33-14-33-21-33 14z" fill="#1a3491"/><path d="M5227 813l36 2-29-26-36 0z" fill="#1f6451"/><path d="M6347 969l30-29-36-17-30 29z" fill="#214bb4"/><path d="M5731 974l33-12-32-22-33 12z" fill="#19358e"/><path d="M5423 892l35-4-30-24-35 4z" fill="#1c6074"/><path d="M6403 959l30-31-36-17-30 31z" fill="#2358b7"/><path d="M5675 964l34-10-33-22-33 10z" fill="#19388b"/><path d="M5029 717l39 7-27-26-39-6z" fill="#22562f"/><path d="M5367 873l35-2-30-24-36 2z" fill="#1c6268"/><path d="M6459 947l30-32-36-17-30 33z" fill="#2667ba"/><path d="M5619 953l34-9-32-22-34 9z" fill="#1a3e86"/><path d="M5170 789l37 3-29-25-37-2z" fill="#1f5d43"/><path d="M6516 933l29-34-36-16-30 34z" fill="#297bb9"/><path d="M5563 940l34-7-32-23-34 7z" fill="#1a4581"/><path d="M5310 853l36 0-30-25-36 1z" fill="#1c615d"/><path d="M6040 1011l31-20-34-19-31 20z" fill="#1c3096"/><path d="M6096 1010l31-21-35-19-31 22z" fill="#1d329a"/><path d="M4972 688l39 8-27-26-39-8z" fill="#214e26"/><path d="M5984 1010l32-18-35-20-31 18z" fill="#1b3093"/><path d="M6152 1008l31-23-35-18-31 23z" fill="#1d359f"/><path d="M5928 1007l32-16-34-20-32 16z" fill="#1b2f91"/><path d="M6208 1004l31-24-35-18-31 24z" fill="#1e38a4"/><path d="M5112 764l38 5-28-26-38-4z" fill="#1e5435"/><path d="M5507 925l34-5-31-23-35 5z" fill="#1a4d7a"/><path d="M5872 1003l32-15-34-20-32 15z" fill="#1a308f"/><path d="M6264 998l31-25-36-18-30 26z" fill="#1e3ca9"/><path d="M5816 997l32-13-33-21-33 13z" fill="#19308c"/><path d="M6321 991l30-27-36-18-30 28z" fill="#1f41ae"/><path d="M5253 831l36 2-29-25-36-1z" fill="#1c5c4d"/><path d="M5759 989l33-12-33-21-32 12z" fill="#193288"/><path d="M5450 908l35-3-31-23-35 3z" fill="#1a5771"/><path d="M6377 982l30-29-36-17-30 29z" fill="#2047b3"/><path d="M5055 736l38 7-27-26-39-6z" fill="#1d4c2b"/><path d="M5703 979l33-9-32-22-33 10z" fill="#183385"/><path d="M6434 971l29-30-36-17-30 31z" fill="#2355b5"/><path d="M5393 890l36-2-31-23-35 2z" fill="#1a5d67"/><path d="M5196 807l37 4-29-25-37-3z" fill="#1b533e"/><path d="M5647 968l33-8-32-22-33 9z" fill="#183881"/><path d="M6490 959l30-32-37-16-29 32z" fill="#2664b8"/><path d="M5590 955l34-6-31-22-35 6z" fill="#183e7c"/><path d="M4997 707l39 8-26-25-40-8z" fill="#1c4423"/><path d="M5336 870l36 0-30-24-36 1z" fill="#195756"/><path d="M6069 1024l32-19-35-18-31 19z" fill="#1b2e91"/><path d="M6126 1023l31-20-35-19-31 21z" fill="#1c3095"/><path d="M5138 782l38 5-28-25-38-5z" fill="#1a4a31"/><path d="M6013 1023l32-17-35-19-31 18z" fill="#1b2d8e"/><path d="M6182 1021l31-22-36-18-30 22z" fill="#1d329b"/><path d="M5957 1021l32-16-35-19-31 16z" fill="#1a2c8b"/><path d="M5534 941l34-5-31-23-35 6z" fill="#194577"/><path d="M6238 1016l31-23-36-18-30 24z" fill="#1d36a1"/><path d="M5900 1017l33-15-34-19-32 14z" fill="#192d89"/><path d="M6295 1011l30-26-36-17-30 26z" fill="#1e3aa6"/><path d="M5844 1011l33-13-34-20-32 13z" fill="#182d87"/><path d="M5279 848l37 2-30-24-36-1z" fill="#185147"/><path d="M6351 1003l30-27-36-17-30 28z" fill="#1f3fab"/><path d="M5477 924l35-3-31-23-35 4z" fill="#194e6d"/><path d="M5788 1003l32-11-33-20-33 11z" fill="#182e83"/><path d="M4939 675l40 11-26-25-40-11z" fill="#1b3d1b"/><path d="M6408 994l30-29-36-16-30 29z" fill="#1f45b1"/><path d="M5080 754l39 7-27-25-39-6z" fill="#194327"/><path d="M5731 994l33-9-32-21-34 9z" fill="#173080"/><path d="M6465 983l29-30-36-16-30 30z" fill="#2252b4"/><path d="M5420 906l35-1-30-23-36 2z" fill="#17525f"/><path d="M5222 825l37 3-29-24-37-3z" fill="#17493a"/><path d="M5675 983l33-8-32-21-34 8z" fill="#16327d"/><path d="M5618 970l34-6-32-21-34 6z" fill="#173878"/><path d="M5022 725l40 9-27-25-40-9z" fill="#183c1f"/><path d="M5363 886l36 1-30-24-36 0z" fill="#164c4f"/><path d="M5164 799l38 6-28-25-38-5z" fill="#16412d"/><path d="M6099 1037l31-19-35-18-31 19z" fill="#1b2c8c"/><path d="M6155 1036l31-20-35-18-31 21z" fill="#1b2e91"/><path d="M6042 1036l32-17-35-18-31 17z" fill="#1a2a89"/><path d="M5561 956l35-5-32-21-35 4z" fill="#173e70"/><path d="M6212 1033l31-22-36-17-31 22z" fill="#1c3097"/><path d="M5986 1034l32-15-35-19-32 16z" fill="#192a85"/><path d="M6269 1029l30-24-36-17-30 24z" fill="#1d349d"/><path d="M5929 1030l32-14-34-19-32 14z" fill="#182a83"/><path d="M5305 865l37 2-29-24-37-1z" fill="#154741"/><path d="M6325 1022l30-25-36-16-30 25z" fill="#1e38a3"/><path d="M5873 1025l32-13-34-19-32 12z" fill="#182a81"/><path d="M4964 693l40 12-26-25-40-11z" fill="#173519"/><path d="M5504 940l35-3-31-22-35 3z" fill="#164163"/><path d="M6382 1015l30-27-36-16-30 27z" fill="#1e3da9"/><path d="M5816 1017l33-11-34-19-32 11z" fill="#172b7e"/><path d="M5106 772l39 7-28-24-39-7z" fill="#153a23"/><path d="M6439 1005l30-28-37-16-30 29z" fill="#1f43af"/><path d="M5759 1008l34-9-34-20-33 9z" fill="#162d7b"/><path d="M5248 841l37 4-29-23-37-4z" fill="#144034"/><path d="M5447 922l35-1-30-23-36 2z" fill="#144555"/><path d="M5703 997l33-7-33-21-33 8z" fill="#152e78"/><path d="M5047 742l40 10-26-24-40-9z" fill="#14331c"/><path d="M5646 985l34-6-33-21-34 6z" fill="#153270"/><path d="M5390 902l36 1-31-23-36 0z" fill="#134347"/><path d="M5190 816l38 6-28-24-38-5z" fill="#133929"/><path d="M5589 971l34-4-32-22-34 5z" fill="#143464"/><path d="M6129 1049l31-18-36-18-31 19z" fill="#1a2a88"/><path d="M6072 1049l31-17-35-18-31 17z" fill="#192884"/><path d="M6185 1048l31-20-35-17-31 20z" fill="#1b2c8d"/><path d="M6015 1047l32-15-35-19-32 16z" fill="#192880"/><path d="M6242 1045l31-22-36-16-31 21z" fill="#1c2f93"/><path d="M5958 1043l32-14-34-18-32 14z" fill="#18287e"/><path d="M5332 881l37 2-30-23-37-2z" fill="#123d3b"/><path d="M6299 1040l30-23-36-16-30 23z" fill="#1c329a"/><path d="M4989 711l41 12-26-23-41-12z" fill="#132d16"/><path d="M5902 1038l32-12-34-19-32 12z" fill="#17287b"/><path d="M6356 1034l30-25-36-16-30 25z" fill="#1d37a1"/><path d="M5532 955l34-3-31-21-35 2z" fill="#133759"/><path d="M5132 789l39 8-28-24-39-8z" fill="#123220"/><path d="M5845 1031l32-11-33-19-33 11z" fill="#162979"/><path d="M6413 1025l30-26-37-15-30 26z" fill="#1e3ca7"/><path d="M5788 1022l33-9-33-20-34 9z" fill="#152a76"/><path d="M5274 857l38 5-29-23-38-4z" fill="#11382f"/><path d="M5474 937l36-1-31-22-36 1z" fill="#123a4c"/><path d="M5731 1011l33-7-33-20-33 7z" fill="#142a6f"/><path d="M5073 759l40 11-27-24-40-9z" fill="#112c19"/><path d="M5417 917l36 2-31-23-36 0z" fill="#103a40"/><path d="M5674 999l34-6-33-20-34 6z" fill="#122a65"/><path d="M5216 832l38 7-28-23-38-6z" fill="#103125"/><path d="M5617 985l34-4-32-21-35 4z" fill="#122d5a"/><path d="M6159 1061l31-18-36-17-31 18z" fill="#1a2884"/><path d="M6102 1061l31-17-35-17-32 17z" fill="#192780"/><path d="M6216 1059l31-19-36-17-31 20z" fill="#1a2a8a"/><path d="M6045 1059l31-15-35-18-31 16z" fill="#18267c"/><path d="M5359 896l37 3-30-22-37-3z" fill="#0f3534"/><path d="M6273 1056l30-21-36-16-30 21z" fill="#1b2e90"/><path d="M5014 728l41 13-26-23-41-12z" fill="#102613"/><path d="M5988 1055l32-13-35-18-32 14z" fill="#172679"/><path d="M6330 1051l30-23-36-16-31 24z" fill="#1c3197"/><path d="M5157 805l40 9-28-23-39-8z" fill="#0f2b1c"/><path d="M5931 1050l32-11-34-19-33 12z" fill="#162676"/><path d="M5559 969l35-2-32-21-35 2z" fill="#112e50"/><path d="M6387 1044l30-24-37-15-30 24z" fill="#1d369f"/><path d="M5874 1043l32-10-34-18-32 10z" fill="#152674"/><path d="M5301 873l37 5-29-23-37-4z" fill="#0e302a"/><path d="M5817 1035l33-9-34-19-33 9z" fill="#14266e"/><path d="M5502 951l35 0-31-21-36 1z" fill="#0f3144"/><path d="M5759 1024l34-6-34-20-33 7z" fill="#122564"/><path d="M5099 776l40 11-27-23-40-10z" fill="#0e2515"/><path d="M5444 932l36 2-31-22-36-1z" fill="#0e3239"/><path d="M5242 848l39 7-28-23-39-6z" fill="#0d2a20"/><path d="M5702 1012l34-5-33-20-34 6z" fill="#10245a"/><path d="M5645 998l34-3-33-20-34 4z" fill="#0f2650"/><path d="M5040 744l41 14-26-22-41-13z" fill="#0d1f10"/><path d="M5386 911l37 3-30-21-37-3z" fill="#0d2d2e"/><path d="M6189 1072l31-18-36-16-31 18z" fill="#192781"/><path d="M6132 1072l31-16-36-17-31 17z" fill="#18257c"/><path d="M6246 1070l31-19-36-16-31 20z" fill="#1a2987"/><path d="M6075 1071l31-15-35-17-32 15z" fill="#172478"/><path d="M6304 1067l30-21-36-16-31 21z" fill="#1b2d8d"/><path d="M5184 821l39 9-27-22-40-9z" fill="#0c2418"/><path d="M6017 1067l32-13-35-17-32 13z" fill="#162474"/><path d="M6361 1061l30-22-37-15-30 23z" fill="#1c3195"/><path d="M5587 983l35-2-32-20-35 2z" fill="#0f2746"/><path d="M5960 1062l32-11-34-18-33 12z" fill="#152472"/><path d="M5903 1056l32-10-34-18-32 10z" fill="#14236d"/><path d="M5327 888l38 5-29-21-38-5z" fill="#0c2924"/><path d="M5529 965l36 1-32-21-35 0z" fill="#0d293c"/><path d="M5846 1047l32-8-34-18-32 8z" fill="#122263"/><path d="M5125 792l40 11-26-21-41-12z" fill="#0b1e12"/><path d="M5788 1037l33-6-33-19-33 6z" fill="#102059"/><path d="M5269 863l38 7-28-21-39-7z" fill="#0b231c"/><path d="M5471 946l36 2-30-21-37-1z" fill="#0c2a32"/><path d="M5731 1025l33-5-33-19-34 5z" fill="#0e1f50"/><path d="M5065 760l42 15-26-21-41-14z" fill="#0a190d"/><path d="M5673 1011l34-3-33-19-34 3z" fill="#0d2046"/><path d="M5413 925l37 4-30-21-37-3z" fill="#0b2628"/><path d="M5210 836l40 10-28-22-40-9z" fill="#0a1d15"/><path d="M6220 1082l31-17-37-16-31 18z" fill="#18267e"/><path d="M6162 1083l31-16-36-16-31 16z" fill="#172479"/><path d="M6277 1080l31-19-37-15-30 19z" fill="#192984"/><path d="M6105 1081l31-14-36-16-31 14z" fill="#172374"/><path d="M6335 1077l30-21-37-15-30 21z" fill="#1a2c8b"/><path d="M6047 1078l32-12-35-17-32 13z" fill="#162271"/><path d="M5615 996l35-1-32-20-35 2z" fill="#0d213d"/><path d="M5990 1074l32-11-35-18-32 12z" fill="#14226b"/><path d="M5354 902l38 6-29-21-38-5z" fill="#0a221f"/><path d="M5932 1067l33-9-35-18-32 10z" fill="#122062"/><path d="M5557 979l35 0-31-20-36 0z" fill="#0b2234"/><path d="M5875 1059l33-8-35-18-33 8z" fill="#101e59"/><path d="M5151 807l41 12-27-20-41-12z" fill="#09180f"/><path d="M5817 1049l33-6-34-18-33 6z" fill="#0e1c4f"/><path d="M5295 877l39 8-28-20-39-8z" fill="#091d18"/><path d="M5499 960l36 2-31-20-36-2z" fill="#0a232b"/><path d="M5759 1037l34-4-34-19-33 5z" fill="#0d1b46"/><path d="M5091 775l42 16-26-20-41-15z" fill="#08130b"/><path d="M5702 1024l34-3-33-19-35 3z" fill="#0c1b3d"/><path d="M5440 939l37 4-30-20-37-4z" fill="#092022"/><path d="M5236 850l40 11-27-20-40-11z" fill="#081811"/><path d="M6193 1093l31-16-37-15-31 16z" fill="#172376"/><path d="M6251 1092l30-17-36-15-31 18z" fill="#18257b"/><path d="M6135 1092l31-14-36-16-31 14z" fill="#162271"/><path d="M6308 1090l31-19-37-14-31 19z" fill="#192882"/><path d="M5643 1009l35-1-32-20-35 2z" fill="#0b1c35"/><path d="M6078 1089l31-12-36-16-31 12z" fill="#15216c"/><path d="M6020 1085l32-11-36-17-32 11z" fill="#121e61"/><path d="M5381 916l38 6-29-20-38-6z" fill="#081c1a"/><path d="M5962 1078l32-9-35-17-32 10z" fill="#101c58"/><path d="M5585 992l36 1-32-20-36 0z" fill="#0a1c2d"/><path d="M5177 821l41 14-26-20-42-13z" fill="#07130c"/><path d="M5904 1070l33-7-35-17-32 7z" fill="#0e1b4f"/><path d="M5846 1061l33-6-34-18-33 6z" fill="#0d1946"/><path d="M5322 891l39 9-28-20-39-8z" fill="#071713"/><path d="M5527 973l36 3-31-20-37-2z" fill="#091d24"/><path d="M5788 1049l34-4-34-18-33 4z" fill="#0b173e"/><path d="M5118 790l41 17-25-19-42-16z" fill="#061009"/><path d="M5730 1036l34-3-33-18-34 3z" fill="#0a1735"/><path d="M5468 952l37 5-30-20-38-4z" fill="#071a1c"/><path d="M5263 864l40 12-27-20-40-11z" fill="#06120d"/><path d="M6224 1103l31-16-37-14-31 15z" fill="#162373"/><path d="M6282 1102l30-17-37-14-30 17z" fill="#172579"/><path d="M5672 1021l35-1-33-19-35 1z" fill="#09182d"/><path d="M6166 1102l31-14-36-15-32 14z" fill="#15216e"/><path d="M6108 1099l31-12-36-15-31 12z" fill="#131e63"/><path d="M5408 929l39 7-29-19-39-7z" fill="#061615"/><path d="M6050 1095l32-10-36-16-32 10z" fill="#111c58"/><path d="M5992 1089l32-9-35-16-32 9z" fill="#0f194f"/><path d="M5203 835l42 15-27-19-41-14z" fill="#050f0a"/><path d="M5614 1004l35 1-32-19-36-1z" fill="#081726"/><path d="M5934 1081l33-7-36-17-32 8z" fill="#0d1846"/><path d="M5349 904l40 10-28-19-40-9z" fill="#05120f"/><path d="M5876 1071l33-5-35-17-33 6z" fill="#0b163e"/><path d="M5555 985l36 3-32-19-36-2z" fill="#07171e"/><path d="M5818 1060l33-3-34-18-34 4z" fill="#0a1436"/><path d="M5144 803l42 19-26-18-42-17z" fill="#060f09"/><path d="M5495 965l38 5-31-19-37-5z" fill="#061517"/><path d="M5289 877l41 13-27-18-41-12z" fill="#050f0c"/><path d="M5759 1047l34-2-34-18-33 3z" fill="#08142e"/><path d="M5701 1032l34 0-33-18-34 1z" fill="#081426"/><path d="M6255 1111l31-14-37-14-31 15z" fill="#162371"/><path d="M6197 1111l31-13-37-15-31 14z" fill="#141f66"/><path d="M5436 942l39 7-30-18-38-7z" fill="#051111"/><path d="M6139 1108l31-11-37-15-31 12z" fill="#111c5a"/><path d="M6081 1104l31-9-36-16-32 10z" fill="#0f1950"/><path d="M5230 847l42 17-27-17-41-15z" fill="#050f0a"/><path d="M6022 1099l32-9-36-15-32 8z" fill="#0d1747"/><path d="M5642 1016l35 1-32-18-35-1z" fill="#07131f"/><path d="M5964 1091l32-7-35-16-32 7z" fill="#0b153e"/><path d="M5376 916l40 11-28-18-40-10z" fill="#050f0d"/><path d="M5906 1082l32-5-35-17-32 6z" fill="#0a1336"/><path d="M5583 997l36 4-32-19-36-3z" fill="#061218"/><path d="M5171 817l42 19-27-16-41-18z" fill="#060f09"/><path d="M5847 1071l33-4-34-16-33 3z" fill="#08122e"/><path d="M5316 889l41 14-26-16-42-14z" fill="#050f0b"/><path d="M5523 977l38 5-31-18-37-5z" fill="#051012"/><path d="M5789 1058l33-2-34-17-33 2z" fill="#071127"/><path d="M5730 1043l34 0-33-17-35 0z" fill="#061020"/><path d="M5463 954l39 8-29-18-39-8z" fill="#040f0f"/><path d="M6228 1119l31-12-37-14-31 13z" fill="#121d5d"/><path d="M6170 1117l31-11-37-14-31 11z" fill="#101a52"/><path d="M5257 860l42 17-27-15-42-17z" fill="#050f0a"/><path d="M6112 1113l31-9-37-15-31 10z" fill="#0d1748"/><path d="M5671 1027l35 2-33-18-35-2z" fill="#050f1a"/><path d="M6053 1108l32-8-37-15-31 8z" fill="#0c153f"/><path d="M5995 1100l32-6-36-15-33 6z" fill="#0a1337"/><path d="M5403 928l41 12-28-17-40-11z" fill="#040f0d"/><path d="M5611 1008l37 4-32-18-36-3z" fill="#040e13"/><path d="M5936 1091l32-4-35-16-33 5z" fill="#08112f"/><path d="M5198 829l41 21-26-14-42-20z" fill="#060f09"/><path d="M5877 1080l33-2-35-17-33 4z" fill="#070f28"/><path d="M5344 900l41 16-27-15-41-15z" fill="#050f0b"/><path d="M5551 988l38 6-30-18-38-5z" fill="#040e10"/><path d="M5818 1068l34-1-35-17-33 2z" fill="#060e21"/><path d="M5759 1053l34 1-34-17-34 0z" fill="#050d1a"/><path d="M5491 964l39 10-28-17-40-8z" fill="#040e0e"/><path d="M5285 871l41 19-27-13-41-18z" fill="#050f0a"/><path d="M6201 1125l31-10-37-14-31 11z" fill="#0e184a"/><path d="M6143 1122l31-9-37-14-32 9z" fill="#0c1541"/><path d="M5700 1037l35 3-33-18-35-2z" fill="#040c14"/><path d="M6084 1116l31-7-36-14-32 7z" fill="#0a1238"/><path d="M5431 938l41 14-28-14-41-13z" fill="#040e0d"/><path d="M6025 1109l32-5-36-15-32 6z" fill="#091030"/><path d="M5640 1019l36 4-32-17-36-4z" fill="#040c11"/><path d="M5226 841l41 22-28-13-41-21z" fill="#0a1b10"/><path d="M5966 1100l33-4-37-15-32 5z" fill="#070f28"/><path d="M5908 1090l32-3-36-15-32 3z" fill="#060d21"/><path d="M5372 911l41 17-28-12-41-17z" fill="#050f0c"/><path d="M5579 998l39 7-31-17-38-6z" fill="#040d0f"/><path d="M5848 1077l34 0-36-16-33 1z" fill="#050c1b"/><path d="M5789 1063l34 1-35-16-33-1z" fill="#040b15"/><path d="M5519 974l40 11-28-14-41-11z" fill="#040e0e"/><path d="M5313 883l40 20-27-12-41-20z" fill="#091a12"/><path d="M5730 1047l34 3-33-17-35-2z" fill="#040a11"/><path d="M6174 1130l31-9-38-13-31 9z" fill="#0b133a"/><path d="M6115 1124l31-7-37-13-31 7z" fill="#091131"/><path d="M5459 948l41 16-28-13-41-15z" fill="#040e0d"/><path d="M6056 1117l32-5-37-14-32 6z" fill="#070e29"/><path d="M5253 853l41 23-28-12-41-22z" fill="#0a1b10"/><path d="M5669 1029l36 5-32-17-36-4z" fill="#040c10"/><path d="M5997 1109l32-4-37-14-32 4z" fill="#060c22"/><path d="M5400 921l40 19-28-11-40-18z" fill="#081a14"/><path d="M5938 1098l32-2-36-14-32 2z" fill="#050b1b"/><path d="M5607 1007l39 9-29-16-39-7z" fill="#040d0f"/><path d="M5879 1086l33 0-36-15-33 0z" fill="#040915"/><path d="M5547 982l40 14-28-12-40-13z" fill="#040e0e"/><path d="M5341 893l40 22-28-11-41-21z" fill="#091a12"/><path d="M5819 1072l34 2-36-16-33-1z" fill="#040912"/><path d="M5759 1056l35 3-35-16-34-2z" fill="#040a11"/><path d="M5488 957l40 18-29-11-40-16z" fill="#071916"/><path d="M6147 1132l31-7-38-13-31 7z" fill="#080f2b"/><path d="M5281 864l40 24-28-11-41-23z" fill="#0a1b10"/><path d="M6088 1125l31-5-38-13-31 5z" fill="#060d23"/><path d="M5698 1038l37 6-33-16-36-5z" fill="#040b0f"/><path d="M6028 1117l32-4-38-13-31 3z" fill="#050b1c"/><path d="M5429 931l40 20-30-9-39-20z" fill="#081a14"/><path d="M5969 1106l32-1-37-14-32 2z" fill="#040916"/><path d="M5636 1013l40 13-29-13-40-10z" fill="#040d0e"/><path d="M5910 1094l32 1-37-15-32 0z" fill="#030812"/><path d="M5369 904l40 22-29-9-40-22z" fill="#091a12"/><path d="M5577 990l39 16-29-9-40-15z" fill="#071818"/><path d="M5850 1080l33 2-36-14-33-2z" fill="#030911"/><path d="M5790 1065l34 4-36-16-33-3z" fill="#030a10"/><path d="M5518 966l39 19-30-8-39-19z" fill="#071916"/><path d="M5309 875l40 24-29-10-40-23z" fill="#0a1b10"/><path d="M6119 1132l31-4-38-13-31 5z" fill="#050b1e"/><path d="M5725 1045l39 8-32-15-37-6z" fill="#030b0f"/><path d="M6060 1124l31-3-38-13-31 3z" fill="#040917"/><path d="M5458 941l39 21-30-9-39-20z" fill="#081a14"/><path d="M6000 1113l32 0-38-14-31 2z" fill="#030812"/><path d="M5667 1019l38 16-30-7-39-15z" fill="#061619"/><path d="M5941 1102l31 1-37-14-32 0z" fill="#030811"/><path d="M5398 914l39 23-30-9-39-22z" fill="#091a12"/><path d="M5608 998l37 18-31-7-38-18z" fill="#071818"/><path d="M5882 1088l31 3-37-14-32-2z" fill="#030910"/><path d="M5823 1071l31 6-38-14-32-4z" fill="#030a0f"/><path d="M5548 975l38 20-32-7-38-20z" fill="#071916"/><path d="M5338 885l39 25-30-9-39-24z" fill="#0c2215"/><path d="M5759 1046l35 15-34-5-35-15z" fill="#06141a"/><path d="M5487 950l39 22-31-8-39-21z" fill="#081a14"/><path d="M6092 1130l30-2-39-12-30 2z" fill="#030712"/><path d="M5698 1027l36 17-32-6-37-16z" fill="#061719"/><path d="M6032 1120l31 0-39-12-31 0z" fill="#030811"/><path d="M5973 1108l30 2-39-12-30-2z" fill="#030810"/><path d="M5427 923l38 24-30-8-39-23z" fill="#0b2117"/><path d="M5638 1006l37 19-33-6-37-19z" fill="#071818"/><path d="M5914 1093l30 5-40-12-30-4z" fill="#030910"/><path d="M5854 1073l30 12-40-9-30-9z" fill="#06121a"/><path d="M5577 983l38 21-32-6-38-21z" fill="#081916"/><path d="M5366 894l39 26-30-8-39-25z" fill="#0f2919"/><path d="M5790 1053l34 16-36-4-33-16z" fill="#06151a"/><path d="M5517 958l37 23-31-7-38-22z" fill="#0a2019"/><path d="M5729 1034l35 18-34-4-35-18z" fill="#061719"/><path d="M6065 1125l29 1-40-11-30 0z" fill="#030811"/><path d="M6005 1113l29 4-40-11-29-3z" fill="#030810"/><path d="M5456 932l38 24-31-7-39-23z" fill="#0e281c"/><path d="M5668 1014l36 19-33-5-36-19z" fill="#071817"/><path d="M5946 1097l28 8-40-9-29-6z" fill="#06101a"/><path d="M5607 991l37 21-33-5-37-21z" fill="#091f1a"/><path d="M5883 1078l31 14-39-5-30-13z" fill="#06121a"/><path d="M5395 903l39 27-31-7-39-26z" fill="#12301d"/><path d="M5821 1060l33 17-36-4-33-16z" fill="#061619"/><path d="M5546 966l38 24-33-6-37-23z" fill="#0c271e"/><path d="M5759 1041l35 19-35-4-34-18z" fill="#071718"/><path d="M5485 940l38 25-32-6-38-24z" fill="#102f20"/><path d="M6037 1116l29 7-42-8-28-5z" fill="#050e1a"/><path d="M5698 1021l36 20-34-4-36-20z" fill="#081d1b"/><path d="M5976 1101l30 11-41-6-29-10z" fill="#06111a"/><path d="M5424 912l38 27-31-7-39-26z" fill="#143721"/><path d="M5637 998l37 22-34-4-36-22z" fill="#0b2520"/><path d="M5914 1084l31 14-38-3-32-14z" fill="#06131a"/><path d="M5852 1067l33 16-37-3-33-16z" fill="#061619"/><path d="M5576 974l37 24-33-5-37-24z" fill="#0f2d23"/><path d="M5790 1048l35 19-36-4-34-18z" fill="#081b1c"/><path d="M5515 948l37 25-32-5-38-25z" fill="#123624"/><path d="M5729 1027l35 21-34-4-36-20z" fill="#0a2321"/><path d="M6007 1105l30 12-40-3-30-12z" fill="#06121a"/><path d="M5453 920l38 27-32-6-38-27z" fill="#173f25"/><path d="M5667 1005l36 22-34-4-36-21z" fill="#0d2c25"/><path d="M5945 1089l32 15-39-2-32-15z" fill="#06141a"/><path d="M5883 1072l33 18-37-3-33-17z" fill="#07191c"/><path d="M5606 981l37 24-34-4-37-24z" fill="#113427"/><path d="M5821 1054l34 19-36-3-34-19z" fill="#0a2121"/><path d="M5544 955l38 26-33-5-38-25z" fill="#153d28"/><path d="M5759 1033l36 21-36-3-35-20z" fill="#0c2a26"/><path d="M5482 927l38 28-32-5-38-28z" fill="#1a4629"/><path d="M5698 1011l36 23-35-3-36-23z" fill="#103229"/><path d="M5976 1094l32 16-38-2-32-16z" fill="#07171b"/><path d="M5914 1077l33 18-37-2-33-17z" fill="#091f21"/><path d="M5636 987l37 25-34-4-37-24z" fill="#133b2b"/><path d="M5852 1059l34 19-36-2-34-19z" fill="#0b2726"/><path d="M5574 961l37 27-33-4-37-26z" fill="#18442c"/><path d="M5790 1039l35 21-35-2-35-21z" fill="#0e312b"/><path d="M5512 933l38 29-33-5-38-28z" fill="#1d4d2d"/><path d="M5728 1016l36 24-35-3-36-23z" fill="#12392e"/><path d="M5946 1081l33 19-38-2-33-17z" fill="#0b2526"/><path d="M5666 993l37 25-35-3-36-25z" fill="#16422f"/><path d="M5884 1063l34 20-37-1-34-20z" fill="#0d2e2b"/><path d="M5604 967l37 27-34-3-37-27z" fill="#1b4b30"/><path d="M5822 1043l34 22-36-1-35-22z" fill="#11372f"/><path d="M5542 939l37 29-33-3-38-29z" fill="#205430"/><path d="M5759 1021l36 24-36-2-35-23z" fill="#144032"/><path d="M5697 997l36 26-35-2-36-25z" fill="#194933"/><path d="M5915 1067l34 21-37-1-34-20z" fill="#103530"/><path d="M5635 972l36 27-34-2-37-27z" fill="#1e5233"/><path d="M5853 1047l35 23-37-1-35-22z" fill="#133e33"/><path d="M5572 944l37 30-33-3-38-29z" fill="#235c34"/><path d="M5791 1025l35 25-36-2-35-23z" fill="#174735"/><path d="M5728 1002l36 26-35-2-36-25z" fill="#1c5036"/><path d="M5665 976l37 28-35-2-36-27z" fill="#215a36"/><path d="M5885 1050l34 23-37 0-34-23z" fill="#164537"/><path d="M5603 948l37 31-35-2-37-30z" fill="#276437"/><path d="M5822 1029l35 25-36-1-35-24z" fill="#1a4e39"/><path d="M5759 1005l36 27-36-1-35-26z" fill="#1f5739"/><path d="M5696 980l37 28-35-1-37-28z" fill="#246139"/><path d="M5633 952l37 31-34-1-38-31z" fill="#2a6b39"/><path d="M5854 1031l35 26-37 0-35-25z" fill="#1d553b"/><path d="M5791 1008l36 27-37 0-35-27z" fill="#225f3b"/><path d="M5728 982l36 30-36 0-36-29z" fill="#28693c"/><path d="M5664 955l37 32-35-1-37-31z" fill="#2c6e39"/><path d="M5823 1010l35 28-36 1-36-28z" fill="#25663e"/><path d="M5759 985l36 30-36 0-36-29z" fill="#2a6d3d"/><path d="M5696 957l36 32-35 1-37-32z" fill="#2d6f38"/><path d="M5791 986l36 31-36 1-36-30z" fill="#2b6e3b"/><path d="M5727 959l37 33-36 0-37-31z" fill="#2e6f36"/><path d="M5759 960l37 33-37 2-36-33z" fill="#307034"/></g><text x="468.6" y="17.6" font-size="13.5" fill="#333" textLength="13.2" lengthAdjust="spacingAndGlyphs">(c)</text><text transform="translate(462.4 78) rotate(-90)" x="0" y="1.6" text-anchor="middle" font-size="4.7" fill="#555" textLength="54" lengthAdjust="spacingAndGlyphs">Average particle size (nm)</text><text x="492.4" y="106" text-anchor="end" font-size="3.6" font-weight="bold" fill="#666">0</text><text x="491.6" y="89.1" text-anchor="end" font-size="3.6" font-weight="bold" fill="#666">1000</text><text x="490.8" y="72.3" text-anchor="end" font-size="3.6" font-weight="bold" fill="#666">2000</text><text x="490" y="55.4" text-anchor="end" font-size="3.6" font-weight="bold" fill="#666">3000</text><text x="489.2" y="38.6" text-anchor="end" font-size="3.6" font-weight="bold" fill="#666">4000</text><text x="488.4" y="21.8" text-anchor="end" font-size="3.6" font-weight="bold" fill="#666">5000</text><text x="572" y="176.5" text-anchor="middle" font-size="3" fill="#777">275</text><text x="555.8" y="168.8" text-anchor="middle" font-size="3" fill="#777">250</text><text x="539.6" y="161" text-anchor="middle" font-size="3" fill="#777">225</text><text x="523.4" y="153.3" text-anchor="middle" font-size="3" fill="#777">200</text><text x="507.2" y="145.6" text-anchor="middle" font-size="3" fill="#777">175</text><text x="491" y="137.8" text-anchor="middle" font-size="3" fill="#777">150</text><text x="580.3" y="176.5" text-anchor="middle" font-size="3" fill="#777">10</text><text x="600.5" y="166.9" text-anchor="middle" font-size="3" fill="#777">12</text><text x="620.7" y="157.2" text-anchor="middle" font-size="3" fill="#777">14</text><text x="640.9" y="147.5" text-anchor="middle" font-size="3" fill="#777">16</text><text x="661.1" y="137.9" text-anchor="middle" font-size="3" fill="#777">18</text><path d="M575.4 172.7h1.2M559.2 165h1.2M543 157.2h1.2M526.8 149.5h1.2M510.6 141.8h1.2M494.4 134h1.2M575.4 172.7h1.2M595.6 163.1h1.2M615.8 153.4h1.2M636 143.7h1.2M656.2 134.1h1.2" stroke="#553" stroke-width="1"/><text x="504.2" y="169" text-anchor="middle" font-size="5.6" fill="#333" stroke="#333" stroke-width=".12" textLength="73.8" lengthAdjust="spacingAndGlyphs">D: Flow ratio of CO2/Solution (g/g)</text><text x="647.3" y="169" text-anchor="middle" font-size="5.6" fill="#333" stroke="#333" stroke-width=".12" textLength="63.4" lengthAdjust="spacingAndGlyphs">A: Crystallizer pressure (MPa)</text><circle cx="490.8" cy="65.2" r="1.5" fill="#a01c2c"/><circle cx="659.4" cy="84.1" r="1.5" fill="#a01c2c"/><circle cx="575.9" cy="92.4" r="1.5" fill="#a01c2c"/><circle cx="575.9" cy="90.4" r="1.5" fill="#a01c2c"/><path d="M36.9 286.1 32.9 201.9M53.4 280.5 50.1 198M69.8 274.9 67.4 194.2M86.3 269.4 84.6 190.3M102.7 263.8 101.8 186.5M119.1 258.3 119.1 182.6M119.1 258.3 119.1 182.6M135.6 263.9 136.3 186.5M152 269.4 153.5 190.4M168.4 275 170.7 194.3M184.8 280.6 187.9 198.2M201.2 286.1 205.2 202.1M36.9 286.1 119.1 258.3 201.2 286.1M36.1 269.2 119.1 243.1 202 269.3M35.3 252.4 119.1 228 202.8 252.5M34.5 235.5 119.1 212.9 203.6 235.7M33.7 218.7 119.1 197.7 204.4 218.9M32.9 201.9 119.1 182.6 205.2 202.1M36.9 286.1 38.2 312.5M201.2 286.1 200 312.6M119.1 258.3 119.2 282.3" fill="none" stroke="#b8b8b8" stroke-width=".7"/><path d="M119.2 351.2 200 312.6 119.2 282.3 38.2 312.5Z" fill="#ffff00" stroke="#b0a800" stroke-width=".45"/><path d="M163.9 304.6 162.3 304.3 160.8 304 159.3 303.7 157.8 303.5 156.4 303.3 154.9 303.1 153.5 302.9 152 302.8 150.6 302.6 149.2 302.5 147.7 302.4 146.3 302.3 144.9 302.3 143.5 302.2 142 302.1 140.6 302.1 139.2 302.1 137.7 302.1 136.2 302.1 134.7 302.2 133.2 302.2 131.7 302.3 130.1 302.4 128.6 302.5 127 302.6 125.4 302.8 123.7 303 122.1 303.2 120.4 303.5 118.8 303.8 117.1 304.1 115.4 304.5 113.8 304.9 112.2 305.4 110.6 305.9 109.2 306.5 107.8 307.2 106.5 307.8 105.4 308.6 104.5 309.3 103.7 310.2 103.2 311 102.8 311.9 102.7 312.8 102.8 313.7 103.1 314.5 103.7 315.4 104.4 316.3 105.2 317.1 106.3 317.9 107.4 318.6 108.7 319.3 110.1 320 111.5 320.6 113 321.1 114.5 321.7 116 322.2 117.6 322.6 119.2 323 120.7 323.4 122.3 323.8 123.9 324.1 125.5 324.4 127.1 324.7 128.6 324.9 130.2 325.1 131.7 325.3 133.3 325.5 134.8 325.7 136.4 325.8 137.9 325.9 139.4 326 141 326.1 142.5 326.2 144.1 326.2 145.7 326.3 147.2 326.3 148.8 326.3 150.4 326.3 152.1 326.2 153.7 326.1 155.4 326.1 157 326 158.7 325.8 160.4 325.6 162.2 325.5 163.9 325.2 165.6 325 167.4 324.7 169.1 324.3 170.8 323.9 172.5 323.5 174.2 323 175.8 322.4 177.3 321.9 178.7 321.2 179.9 320.5 181.1 319.8 182 319 182.7 318.1 183.3 317.3 183.6 316.4 183.7 315.5 183.6 314.6 183.2 313.7 182.6 312.8 181.9 312 181 311.1 179.9 310.4 178.7 309.6 177.4 308.9 176 308.3 174.6 307.7 173.1 307.1 171.6 306.6 170 306.1 168.5 305.7 166.9 305.3 165.4 304.9 163.9 304.6M134.6 288.6 131.5 288.6 128.3 288.6 125 288.7 121.7 288.8 118.4 288.9 115 289.1 111.6 289.4 108.1 289.7 104.6 290 101 290.4 97.4 290.9M53 307.7 51.9 309.6 51.2 311.6 51.1 313.6 51.5 315.7 52.3 317.7 53.6 319.7M89.7 337 93.4 337.9 97.1 338.7 100.9 339.4 104.6 340.1 108.3 340.7 112 341.3 115.8 341.8 119.5 342.2 123.2 342.6 126.9 343 130.6 343.3 134.4 343.6" fill="none" stroke="#d0ea24" stroke-width=".9"/><g transform="scale(.1)"><path d="M1191 2213l30-29-30-32-30 28z" fill="#65c250"/><path d="M1216 2240l30-29-30-32-30 29z" fill="#5ec554"/><path d="M1166 2236l30-28-30-32-30 28z" fill="#5ec353"/><path d="M1242 2265l30-28-31-31-30 28z" fill="#57c758"/><path d="M1191 2262l30-27-30-32-30 28z" fill="#57c657"/><path d="M1141 2258l30-26-30-33-30 27z" fill="#58c556"/><path d="M1267 2290l30-28-30-30-30 28z" fill="#53c55f"/><path d="M1217 2288l30-27-31-31-30 27z" fill="#53c55e"/><path d="M1166 2284l30-26-30-32-30 27z" fill="#53c45c"/><path d="M1115 2279l31-25-30-33-31 26z" fill="#54c45a"/><path d="M1293 2315l30-29-31-29-30 28z" fill="#4fc466"/><path d="M1242 2313l30-27-30-31-31 28z" fill="#4fc465"/><path d="M1191 2310l30-27-30-31-30 27z" fill="#4fc364"/><path d="M1140 2305l31-25-30-32-31 26z" fill="#50c262"/><path d="M1089 2300l31-25-30-32-31 25z" fill="#51c25f"/><path d="M1319 2338l29-28-30-29-30 29z" fill="#4bc36d"/><path d="M1268 2337l30-27-31-30-30 28z" fill="#4bc26c"/><path d="M1217 2334l30-26-31-30-30 26z" fill="#4bc26b"/><path d="M1166 2331l30-26-30-31-31 26z" fill="#4cc169"/><path d="M1115 2325l30-24-30-32-30 25z" fill="#4cc066"/><path d="M1064 2319l30-24-29-32-31 24z" fill="#4dc063"/><path d="M1344 2361l30-28-31-28-30 28z" fill="#47c274"/><path d="M1293 2360l30-27-30-28-30 27z" fill="#47c173"/><path d="M1242 2358l31-26-31-29-30 26z" fill="#47c072"/><path d="M1191 2355l31-25-31-30-30 25z" fill="#48c070"/><path d="M1140 2350l31-24-31-31-30 25z" fill="#48bf6e"/><path d="M1089 2345l31-24-30-31-31 23z" fill="#49be6b"/><path d="M1038 2337l31-22-30-32-31 23z" fill="#4abe67"/><path d="M1371 2383l29-28-31-27-30 28z" fill="#44c07c"/><path d="M1319 2383l30-27-31-28-30 27z" fill="#43c07b"/><path d="M1268 2381l30-26-30-28-31 26z" fill="#43bf7a"/><path d="M1217 2379l30-25-30-30-31 26z" fill="#44be78"/><path d="M1166 2375l30-25-30-29-31 24z" fill="#44be75"/><path d="M1114 2369l31-23-30-31-31 24z" fill="#45bd72"/><path d="M1063 2363l31-23-30-31-31 23z" fill="#46bc6f"/><path d="M1011 2355l32-22-30-32-31 22z" fill="#47bc6b"/><path d="M1397 2404l30-27-32-27-30 28z" fill="#41bf85"/><path d="M1345 2405l30-27-31-27-30 27z" fill="#40be85"/><path d="M1294 2404l30-26-31-28-30 26z" fill="#40be84"/><path d="M1243 2402l30-25-31-29-30 25z" fill="#40bd82"/><path d="M1191 2398l31-24-31-29-30 24z" fill="#41bc7f"/><path d="M1140 2394l31-24-31-30-31 24z" fill="#41bc7c"/><path d="M1088 2388l31-23-30-30-31 22z" fill="#42bb77"/><path d="M1037 2380l31-21-30-32-31 22z" fill="#43ba72"/><path d="M985 2372l32-21-30-32-32 21z" fill="#45b96e"/><path d="M1372 2426l30-27-32-26-30 27z" fill="#3dbd8f"/><path d="M1423 2425l30-28-31-25-30 27z" fill="#3ebe8e"/><path d="M1320 2425l30-25-31-27-30 26z" fill="#3dbc8e"/><path d="M1269 2424l30-25-31-28-30 25z" fill="#3dbb8c"/><path d="M1217 2421l31-24-31-28-31 24z" fill="#3dbb8a"/><path d="M1165 2417l31-23-30-29-31 23z" fill="#3eba86"/><path d="M1114 2411l31-22-31-30-31 23z" fill="#3fb982"/><path d="M1062 2405l31-22-30-30-31 21z" fill="#40b97d"/><path d="M1010 2397l32-21-30-31-32 21z" fill="#41b876"/><path d="M959 2387l31-19-30-32-31 20z" fill="#42b770"/><path d="M1398 2446l30-26-31-26-30 27z" fill="#3abb97"/><path d="M1346 2446l31-25-32-26-30 25z" fill="#3abb97"/><path d="M1450 2444l30-27-32-25-30 28z" fill="#3bbc97"/><path d="M1295 2445l30-24-31-27-30 25z" fill="#3aba96"/><path d="M1243 2443l31-24-31-27-31 24z" fill="#3ab994"/><path d="M1191 2439l31-23-31-28-31 23z" fill="#3bb890"/><path d="M1139 2435l31-23-30-28-31 22z" fill="#3bb88c"/><path d="M1088 2428l31-21-31-29-31 21z" fill="#3cb787"/><path d="M1036 2421l31-21-30-30-31 21z" fill="#3db681"/><path d="M984 2412l31-20-30-30-31 19z" fill="#3eb67b"/><path d="M932 2402l32-19-30-31-32 19z" fill="#40b573"/><path d="M1373 2467l30-26-32-25-30 25z" fill="#37b9a0"/><path d="M1425 2466l30-27-32-24-30 26z" fill="#38baa0"/><path d="M1321 2466l30-25-31-26-30 25z" fill="#37b99f"/><path d="M1477 2463l29-27-32-24-29 28z" fill="#38bb9e"/><path d="M1269 2464l31-23-32-27-30 24z" fill="#37b89d"/><path d="M1217 2461l31-23-31-27-31 23z" fill="#37b79a"/><path d="M1165 2457l31-22-31-28-30 22z" fill="#38b696"/><path d="M1113 2451l31-21-30-29-31 22z" fill="#39b591"/><path d="M1061 2444l32-20-31-29-31 20z" fill="#3ab58c"/><path d="M1009 2436l32-19-30-30-32 19z" fill="#3bb485"/><path d="M957 2427l32-19-30-31-32 19z" fill="#3cb37e"/><path d="M1400 2486l30-25-32-25-30 26z" fill="#35b4a7"/><path d="M1452 2484l30-26-32-24-30 27z" fill="#35b5a6"/><path d="M1348 2486l30-24-32-26-30 25z" fill="#35b3a6"/><path d="M905 2416l32-18-30-31-32 17z" fill="#3eb276"/><path d="M1504 2482l29-27-32-23-29 27z" fill="#36b7a5"/><path d="M1295 2485l31-24-31-26-31 24z" fill="#35b3a5"/><path d="M1243 2482l31-22-31-27-31 23z" fill="#35b3a2"/><path d="M1191 2479l31-22-31-28-31 23z" fill="#35b39f"/><path d="M1139 2474l31-21-30-28-32 21z" fill="#36b49b"/><path d="M1087 2467l31-20-30-29-32 21z" fill="#37b396"/><path d="M1035 2459l31-19-30-29-32 19z" fill="#38b28f"/><path d="M982 2450l32-18-30-30-32 19z" fill="#39b188"/><path d="M930 2440l32-17-30-31-32 18z" fill="#3ab080"/><path d="M1426 2504l30-25-32-23-30 25z" fill="#33afad"/><path d="M1374 2505l30-24-31-24-31 24z" fill="#32aead"/><path d="M1479 2502l30-26-33-23-30 27z" fill="#33b0ac"/><path d="M1322 2505l30-24-31-25-31 24z" fill="#32adab"/><path d="M1531 2499l30-27-33-22-29 27z" fill="#34b2aa"/><path d="M1270 2503l30-23-31-26-31 23z" fill="#32ada9"/><path d="M878 2428l32-16-30-32-32 17z" fill="#3cb078"/><path d="M1217 2500l31-22-31-27-31 22z" fill="#33ada7"/><path d="M1165 2495l31-21-31-27-31 21z" fill="#33aea3"/><path d="M1113 2489l31-20-31-28-31 21z" fill="#34af9e"/><path d="M1060 2482l32-19-30-29-32 20z" fill="#34b199"/><path d="M1008 2474l32-19-30-29-32 19z" fill="#36b092"/><path d="M955 2464l33-18-31-29-32 17z" fill="#37af8a"/><path d="M1401 2524l30-25-32-23-30 24z" fill="#30a8b3"/><path d="M1453 2522l30-25-32-23-30 26z" fill="#31aab2"/><path d="M1349 2524l30-24-32-24-30 24z" fill="#30a8b2"/><path d="M903 2453l32-17-30-30-32 16z" fill="#39ae82"/><path d="M1506 2520l30-26-33-22-30 26z" fill="#31acb1"/><path d="M1296 2522l31-22-32-25-30 23z" fill="#30a7b0"/><path d="M1558 2516l30-27-33-21-29 27z" fill="#32aeaf"/><path d="M1244 2520l31-22-32-26-31 22z" fill="#30a7ad"/><path d="M1191 2516l31-21-31-26-31 21z" fill="#30a8aa"/><path d="M850 2440l33-15-30-32-33 16z" fill="#3aad79"/><path d="M1139 2510l31-19-31-27-31 20z" fill="#31a9a6"/><path d="M1086 2504l32-19-31-28-31 19z" fill="#32aaa0"/><path d="M1034 2496l31-18-30-29-32 19z" fill="#33ac9a"/><path d="M981 2487l32-18-30-29-32 18z" fill="#34ad94"/><path d="M928 2476l33-16-30-30-33 17z" fill="#35ac8b"/><path d="M1428 2541l30-24-32-22-30 24z" fill="#2ea4b8"/><path d="M1375 2542l31-23-32-24-31 24z" fill="#2ea2b8"/><path d="M1481 2539l30-25-33-22-30 26z" fill="#2fa5b7"/><path d="M1323 2541l30-22-31-24-31 22z" fill="#2ea2b6"/><path d="M1533 2536l30-26-33-21-29 26z" fill="#30a7b6"/><path d="M1270 2539l31-21-31-25-31 21z" fill="#2ea2b4"/><path d="M1586 2532l30-27-33-20-30 26z" fill="#31aab3"/><path d="M875 2464l33-15-30-31-32 16z" fill="#37ab82"/><path d="M1218 2536l31-21-32-25-31 20z" fill="#2ea2b1"/><path d="M1165 2531l31-20-31-26-31 20z" fill="#2fa3ac"/><path d="M1112 2525l32-19-31-27-32 19z" fill="#2fa4a7"/><path d="M823 2451l32-15-29-31-33 15z" fill="#39aa79"/><path d="M1060 2518l31-18-30-28-32 18z" fill="#30a5a2"/><path d="M1007 2509l32-17-31-28-32 17z" fill="#31a79b"/><path d="M954 2499l32-16-30-29-32 16z" fill="#32aa94"/><path d="M1402 2559l31-23-32-22-31 23z" fill="#2c98bb"/><path d="M1455 2558l30-24-32-22-30 24z" fill="#2d9abb"/><path d="M1350 2559l30-22-32-23-30 22z" fill="#2c97ba"/><path d="M1508 2556l30-25-33-21-30 25z" fill="#2d9fbb"/><path d="M901 2488l32-16-30-29-32 15z" fill="#34a98b"/><path d="M1297 2558l31-22-32-24-31 22z" fill="#2c98b8"/><path d="M1561 2552l30-26-33-20-30 26z" fill="#2ea3ba"/><path d="M1244 2555l31-21-31-24-31 20z" fill="#2c9bb6"/><path d="M1614 2547l29-27-33-19-29 26z" fill="#2fa6b7"/><path d="M1191 2551l32-20-32-25-31 19z" fill="#2c9db3"/><path d="M848 2475l33-15-30-30-33 15z" fill="#36a882"/><path d="M1138 2545l32-19-31-26-32 19z" fill="#2d9eae"/><path d="M1086 2538l31-17-31-27-31 18z" fill="#2e9fa8"/><path d="M795 2461l33-14-30-31-33 14z" fill="#38a778"/><path d="M1033 2530l32-17-31-27-32 17z" fill="#2fa1a2"/><path d="M980 2521l32-16-31-28-32 16z" fill="#30a39b"/><path d="M926 2510l33-15-30-29-33 16z" fill="#31a593"/><path d="M1430 2576l30-23-32-22-31 23z" fill="#2b8abc"/><path d="M1377 2576l30-22-32-22-30 22z" fill="#2b89bb"/><path d="M1483 2574l30-24-33-21-30 24z" fill="#2b8ebc"/><path d="M1324 2575l31-21-32-23-31 21z" fill="#2b89ba"/><path d="M1536 2571l30-24-33-21-30 25z" fill="#2c93bc"/><path d="M1271 2573l31-20-32-24-31 20z" fill="#2a8bb8"/><path d="M1589 2567l29-26-33-19-29 25z" fill="#2d9abc"/><path d="M873 2498l33-14-30-30-33 15z" fill="#33a68b"/><path d="M1218 2570l31-20-31-24-32 19z" fill="#2b8fb6"/><path d="M1642 2561l29-26-33-19-30 26z" fill="#2ea2ba"/><path d="M1165 2565l31-19-31-25-31 19z" fill="#2b95b3"/><path d="M1112 2558l31-17-31-26-31 18z" fill="#2b9aaf"/><path d="M820 2484l33-13-30-30-33 14z" fill="#34a581"/><path d="M1059 2551l32-17-31-26-32 17z" fill="#2c9ba8"/><path d="M766 2470l34-13-30-31-33 13z" fill="#36a376"/><path d="M1005 2542l33-16-31-27-32 16z" fill="#2d9da2"/><path d="M952 2532l33-15-31-28-32 15z" fill="#2e9f9a"/><path d="M1404 2593l30-22-32-22-30 22z" fill="#297cbc"/><path d="M1457 2592l30-23-32-21-31 23z" fill="#2a7ebd"/><path d="M1351 2592l31-21-33-22-30 21z" fill="#297cbb"/><path d="M1510 2589l30-23-33-20-30 23z" fill="#2a83bd"/><path d="M899 2520l33-14-31-28-32 14z" fill="#30a292"/><path d="M1298 2591l31-20-32-23-31 20z" fill="#297db9"/><path d="M1564 2586l29-25-33-19-30 25z" fill="#2b89bd"/><path d="M1245 2588l31-20-32-23-31 19z" fill="#2980b7"/><path d="M1617 2581l29-25-33-19-30 25z" fill="#2c91bc"/><path d="M1191 2583l32-18-32-24-31 18z" fill="#2985b4"/><path d="M1670 2575l30-27-34-18-30 27z" fill="#2d9bbb"/><path d="M845 2507l33-13-29-29-34 13z" fill="#31a389"/><path d="M1138 2578l32-18-31-25-32 18z" fill="#2a8cb1"/><path d="M1085 2571l32-17-31-26-32 17z" fill="#2a94ae"/><path d="M792 2493l33-12-30-30-33 12z" fill="#33a17f"/><path d="M1031 2562l33-15-31-27-32 16z" fill="#2b97a7"/><path d="M978 2553l33-15-31-27-32 15z" fill="#2c99a0"/><path d="M738 2478l34-12-30-30-33 11z" fill="#35a074"/><path d="M925 2542l32-14-30-28-33 14z" fill="#2d9b98"/><path d="M1431 2608l31-21-33-21-30 22z" fill="#2871bd"/><path d="M1378 2609l31-21-33-22-30 21z" fill="#286fbc"/><path d="M1485 2607l30-23-33-20-30 23z" fill="#2974be"/><path d="M1325 2608l31-20-32-23-31 21z" fill="#2870ba"/><path d="M1538 2604l30-24-33-19-30 24z" fill="#2979be"/><path d="M1271 2605l32-19-32-23-32 19z" fill="#2872b8"/><path d="M1592 2600l29-25-33-18-30 24z" fill="#2a80bd"/><path d="M871 2529l33-13-30-28-33 13z" fill="#2f9e90"/><path d="M1218 2601l31-18-31-23-32 18z" fill="#2877b6"/><path d="M1645 2594l30-25-34-18-30 25z" fill="#2b89bc"/><path d="M1165 2596l31-17-31-24-32 17z" fill="#287db3"/><path d="M1699 2587l29-26-34-17-29 26z" fill="#2c93ba"/><path d="M1111 2590l32-17-31-25-32 17z" fill="#2884af"/><path d="M817 2516l34-12-30-29-34 12z" fill="#309f86"/><path d="M1058 2582l32-15-31-26-32 16z" fill="#298dab"/><path d="M763 2501l34-11-30-30-33 11z" fill="#329e7c"/><path d="M1004 2573l33-15-31-26-33 15z" fill="#2a93a5"/><path d="M950 2563l33-14-30-27-33 14z" fill="#2b959e"/><path d="M709 2484l34-10-29-30-34 10z" fill="#349c71"/><path d="M1459 2623l31-21-33-20-31 22z" fill="#2768bb"/><path d="M1406 2624l30-21-32-20-31 21z" fill="#2666ba"/><path d="M1513 2621l30-22-33-20-30 23z" fill="#276bbd"/><path d="M1352 2624l31-20-33-22-30 20z" fill="#2666b9"/><path d="M897 2551l33-13-31-28-33 13z" fill="#2c9795"/><path d="M1566 2618l30-24-33-18-30 23z" fill="#2870bd"/><path d="M1299 2622l31-19-33-22-31 19z" fill="#2667b8"/><path d="M1620 2613l30-24-34-18-30 24z" fill="#2978bd"/><path d="M1245 2619l31-19-32-22-31 18z" fill="#2669b7"/><path d="M1674 2607l29-25-34-17-29 25z" fill="#2a81bb"/><path d="M1191 2614l32-17-32-24-31 18z" fill="#276fb4"/><path d="M843 2538l33-12-30-29-33 13z" fill="#2d9a8c"/><path d="M1727 2599l30-26-35-16-29 26z" fill="#2b8dba"/><path d="M1138 2608l32-16-32-24-32 16z" fill="#2775b0"/><path d="M1084 2601l32-15-31-25-32 15z" fill="#277eac"/><path d="M789 2523l33-11-29-29-34 11z" fill="#2f9b83"/><path d="M1030 2592l33-14-31-26-33 15z" fill="#2887a8"/><path d="M976 2583l33-14-30-26-33 14z" fill="#288fa3"/><path d="M735 2507l34-10-30-29-34 10z" fill="#319a78"/><path d="M923 2571l33-12-31-27-33 13z" fill="#2a919a"/><path d="M1433 2639l31-21-33-20-31 21z" fill="#255eb7"/><path d="M1487 2637l30-21-33-19-30 21z" fill="#2560b9"/><path d="M1380 2639l30-20-32-20-31 19z" fill="#245db6"/><path d="M1541 2635l30-23-34-18-30 22z" fill="#2664ba"/><path d="M1326 2637l31-18-33-21-31 19z" fill="#245eb5"/><path d="M680 2490l35-9-30-30-34 9z" fill="#33996d"/><path d="M1595 2630l29-23-33-17-30 23z" fill="#276abc"/><path d="M1272 2635l31-18-32-22-31 18z" fill="#2460b4"/><path d="M1649 2625l29-24-34-17-29 24z" fill="#2871bc"/><path d="M869 2559l33-12-30-27-34 12z" fill="#2b9491"/><path d="M1218 2631l32-17-32-23-32 18z" fill="#2563b2"/><path d="M1703 2618l29-25-34-16-30 25z" fill="#297cba"/><path d="M1164 2626l32-16-31-24-32 17z" fill="#2568b1"/><path d="M1757 2610l29-25-35-16-29 26z" fill="#2a88b8"/><path d="M1111 2619l32-15-32-24-32 15z" fill="#2670ad"/><path d="M814 2545l34-11-30-28-34 11z" fill="#2c9788"/><path d="M1057 2611l32-14-31-25-32 15z" fill="#2679a9"/><path d="M760 2530l34-10-30-29-34 10z" fill="#2e977e"/><path d="M1003 2602l32-14-30-25-33 14z" fill="#2783a4"/><path d="M949 2591l33-12-31-26-33 12z" fill="#278c9f"/><path d="M706 2513l34-9-29-30-35 10z" fill="#309673"/><path d="M1461 2652l31-20-34-19-30 21z" fill="#2357b5"/><path d="M1407 2653l31-19-33-20-31 20z" fill="#2356b3"/><path d="M1515 2650l30-21-33-18-30 22z" fill="#245ab6"/><path d="M1353 2652l31-18-32-20-31 18z" fill="#2256b2"/><path d="M894 2579l34-11-31-27-33 12z" fill="#298e96"/><path d="M1569 2647l30-22-34-17-30 22z" fill="#255fb7"/><path d="M1299 2650l32-17-33-21-31 18z" fill="#2357b1"/><path d="M1623 2642l30-22-34-17-30 23z" fill="#2665b9"/><path d="M1245 2647l32-17-32-21-32 17z" fill="#235aaf"/><path d="M651 2495l35-8-29-30-35 8z" fill="#329568"/><path d="M1677 2636l30-23-34-16-30 24z" fill="#276cbb"/><path d="M1191 2642l32-16-32-22-32 16z" fill="#235eae"/><path d="M840 2566l34-11-30-27-34 11z" fill="#2a908d"/><path d="M1732 2629l29-25-35-15-29 25z" fill="#2877b9"/><path d="M1137 2636l32-15-31-23-32 15z" fill="#2463ad"/><path d="M1786 2620l29-25-35-15-29 26z" fill="#2984b7"/><path d="M1083 2629l33-14-32-24-32 14z" fill="#256ba9"/><path d="M786 2551l34-10-30-28-34 10z" fill="#2c9384"/><path d="M1029 2620l33-13-31-25-33 14z" fill="#2575a5"/><path d="M731 2535l34-9-29-29-34 9z" fill="#2d9379"/><path d="M975 2610l33-12-31-25-33 12z" fill="#2680a0"/><path d="M920 2599l34-12-31-26-33 12z" fill="#27889a"/><path d="M1435 2667l31-20-33-18-31 19z" fill="#214fb0"/><path d="M1489 2665l31-20-34-18-30 21z" fill="#2251b2"/><path d="M1381 2667l31-19-33-19-31 18z" fill="#214faf"/><path d="M1544 2663l30-21-34-17-30 21z" fill="#2255b3"/><path d="M677 2517l34-8-29-29-35 8z" fill="#2f926e"/><path d="M1327 2665l31-17-33-21-31 18z" fill="#214fad"/><path d="M1598 2659l30-22-34-17-30 23z" fill="#245ab5"/><path d="M1273 2662l31-16-32-21-32 17z" fill="#2152ac"/><path d="M1652 2654l30-23-35-16-29 23z" fill="#2561b6"/><path d="M866 2586l34-11-31-26-33 11z" fill="#288a91"/><path d="M1218 2658l32-15-32-22-32 16z" fill="#2255ab"/><path d="M1706 2647l30-24-35-15-29 24z" fill="#2669b8"/><path d="M1164 2653l32-15-31-22-33 15z" fill="#225aa9"/><path d="M1761 2639l29-24-35-15-29 25z" fill="#2874b7"/><path d="M622 2498l35-6-29-30-35 7z" fill="#319063"/><path d="M812 2572l33-10-30-27-34 10z" fill="#298d88"/><path d="M1110 2646l32-14-31-23-33 14z" fill="#235fa8"/><path d="M1815 2630l29-26-35-13-29 25z" fill="#2981b5"/><path d="M1056 2638l32-13-31-24-33 13z" fill="#2468a5"/><path d="M757 2556l34-9-30-27-34 8z" fill="#2b907e"/><path d="M1001 2628l33-12-31-24-33 12z" fill="#2472a0"/><path d="M947 2617l33-11-31-25-33 12z" fill="#257d9b"/><path d="M702 2539l35-8-30-28-35 8z" fill="#2d8f73"/><path d="M1463 2680l31-20-34-17-30 19z" fill="#204aad"/><path d="M1409 2680l31-18-33-19-31 19z" fill="#2049ac"/><path d="M1518 2678l30-20-34-17-30 20z" fill="#214daf"/><path d="M1355 2679l31-17-33-20-31 18z" fill="#1f49aa"/><path d="M1572 2674l30-20-34-17-30 21z" fill="#2151b0"/><path d="M892 2605l34-10-31-26-33 11z" fill="#268594"/><path d="M1300 2677l32-17-33-20-31 17z" fill="#1f4aa9"/><path d="M1627 2670l29-22-34-15-30 21z" fill="#2356b2"/><path d="M1246 2673l32-15-33-21-32 16z" fill="#204da7"/><path d="M1681 2664l30-23-35-14-29 22z" fill="#245eb3"/><path d="M647 2521l35-7-29-29-35 7z" fill="#2f8e68"/><path d="M1191 2669l32-15-32-22-32 15z" fill="#2051a6"/><path d="M1736 2657l29-24-35-14-29 24z" fill="#2666b5"/><path d="M837 2592l34-10-30-26-34 9z" fill="#27878b"/><path d="M1137 2662l32-14-32-22-32 14z" fill="#2156a5"/><path d="M1790 2648l30-24-36-14-29 25z" fill="#2772b4"/><path d="M1082 2655l33-13-31-23-33 13z" fill="#225da3"/><path d="M592 2501l35-6-29-30-35 6z" fill="#318c5d"/><path d="M783 2577l34-9-30-27-34 9z" fill="#288a82"/><path d="M1845 2638l29-25-35-13-29 26z" fill="#2880b2"/><path d="M1028 2646l33-12-31-24-33 12z" fill="#2366a0"/><path d="M728 2560l34-7-29-28-35 8z" fill="#2a8c78"/><path d="M973 2635l33-11-31-24-33 11z" fill="#23709b"/><path d="M918 2624l34-10-31-25-33 10z" fill="#247c96"/><path d="M1437 2693l31-19-34-17-30 18z" fill="#1e44a8"/><path d="M1492 2691l30-18-34-17-30 19z" fill="#1f45aa"/><path d="M1383 2692l31-17-34-18-31 17z" fill="#1e43a7"/><path d="M1546 2689l31-20-34-16-31 20z" fill="#2049ac"/><path d="M672 2542l35-6-29-29-35 7z" fill="#2c8b6d"/><path d="M1328 2691l31-17-33-19-31 17z" fill="#1e44a5"/><path d="M1601 2685l30-20-34-16-30 21z" fill="#214ead"/><path d="M1273 2688l32-16-33-20-31 16z" fill="#1e46a4"/><path d="M1656 2680l29-21-34-15-30 21z" fill="#2254af"/><path d="M863 2611l34-10-30-25-34 9z" fill="#25818e"/><path d="M1219 2683l32-14-33-21-32 15z" fill="#1f4aa2"/><path d="M1711 2674l29-23-35-14-29 23z" fill="#235bb1"/><path d="M1164 2678l32-14-32-21-32 14z" fill="#1f4ea1"/><path d="M1765 2666l30-24-36-13-29 24z" fill="#2564b2"/><path d="M617 2523l35-5-29-29-35 5z" fill="#2e8962"/><path d="M808 2596l35-8-30-26-35 8z" fill="#268485"/><path d="M1109 2671l33-13-32-22-32 13z" fill="#2054a0"/><path d="M1820 2656l29-24-35-12-29 24z" fill="#2671b1"/><path d="M1055 2662l32-11-31-23-33 12z" fill="#215b9e"/><path d="M1875 2646l29-25-36-12-29 25z" fill="#2880af"/><path d="M753 2580l35-7-30-27-35 8z" fill="#28877b"/><path d="M562 2502l35-4-28-30-36 5z" fill="#308857"/><path d="M1000 2653l33-11-31-24-33 11z" fill="#22659a"/><path d="M945 2641l33-10-31-24-33 11z" fill="#227095"/><path d="M698 2563l35-6-30-28-35 7z" fill="#298871"/><path d="M1466 2704l30-18-33-16-31 18z" fill="#1d40a5"/><path d="M1411 2705l31-17-34-18-31 17z" fill="#1d3fa3"/><path d="M1520 2703l31-19-34-16-31 19z" fill="#1e42a7"/><path d="M1356 2704l31-17-33-18-31 17z" fill="#1d3fa2"/><path d="M1575 2700l30-20-34-15-30 19z" fill="#1f46a8"/><path d="M890 2629l34-9-31-25-34 10z" fill="#237c90"/><path d="M1301 2701l32-15-33-19-32 15z" fill="#1d40a0"/><path d="M1630 2695l30-20-35-15-30 21z" fill="#204baa"/><path d="M1246 2697l32-14-32-20-32 15z" fill="#1d439f"/><path d="M1685 2689l30-21-35-14-30 22z" fill="#2152ac"/><path d="M643 2544l35-5-29-28-36 6z" fill="#2b8666"/><path d="M1191 2692l33-13-33-20-32 13z" fill="#1e479d"/><path d="M1740 2682l29-22-35-13-29 22z" fill="#235aad"/><path d="M835 2615l34-8-30-25-35 8z" fill="#247e87"/><path d="M1136 2686l33-13-32-21-33 13z" fill="#1e4c9c"/><path d="M1795 2674l29-23-35-13-29 24z" fill="#2564af"/><path d="M1082 2678l32-12-31-21-33 12z" fill="#1f539a"/><path d="M587 2524l36-4-29-29-36 5z" fill="#2d855b"/><path d="M1850 2664l29-24-36-12-28 24z" fill="#2671ae"/><path d="M779 2600l35-7-30-26-35 7z" fill="#25817e"/><path d="M1026 2669l34-11-32-22-33 11z" fill="#205a99"/><path d="M1906 2653l28-25-36-11-28 25z" fill="#2780ab"/><path d="M724 2583l35-6-30-27-35 7z" fill="#278374"/><path d="M971 2658l34-9-31-24-34 10z" fill="#216494"/><path d="M531 2503l36-4-28-29-37 4z" fill="#2f8350"/><path d="M916 2646l34-8-31-24-34 9z" fill="#21708f"/><path d="M1439 2716l31-17-34-16-31 17z" fill="#1c3d9f"/><path d="M1494 2715l31-18-34-16-31 18z" fill="#1d3ea1"/><path d="M1384 2716l31-16-33-18-31 17z" fill="#1c3c9d"/><path d="M1549 2713l31-19-35-15-30 19z" fill="#1d40a3"/><path d="M668 2565l36-5-30-28-35 6z" fill="#29836a"/><path d="M1329 2714l32-15-34-18-31 15z" fill="#1c3c9c"/><path d="M1604 2709l30-19-34-15-30 20z" fill="#1e44a5"/><path d="M1274 2711l32-14-33-19-32 14z" fill="#1c3e9b"/><path d="M1660 2704l29-20-35-14-30 21z" fill="#1f4aa7"/><path d="M861 2633l34-8-30-24-35 8z" fill="#227988"/><path d="M1219 2706l32-13-32-20-33 14z" fill="#1c4199"/><path d="M1715 2698l29-21-35-13-30 21z" fill="#2151a8"/><path d="M1164 2700l32-12-32-20-32 12z" fill="#1d4698"/><path d="M1770 2690l29-22-35-12-30 22z" fill="#225aaa"/><path d="M612 2545l36-4-29-28-36 5z" fill="#2b815f"/><path d="M805 2618l35-7-30-25-35 7z" fill="#237b7f"/><path d="M1109 2693l33-11-32-21-33 11z" fill="#1e4b96"/><path d="M1825 2681l29-23-36-11-29 23z" fill="#2464ac"/><path d="M1053 2684l34-10-32-22-33 11z" fill="#1f5295"/><path d="M1881 2670l29-23-37-11-28 24z" fill="#2672aa"/><path d="M557 2525l36-4-29-28-36 3z" fill="#2d8054"/><path d="M750 2602l35-6-30-26-35 7z" fill="#257e76"/><path d="M998 2674l34-9-32-22-33 9z" fill="#1f5a92"/><path d="M1937 2658l28-24-37-10-28 25z" fill="#2782a7"/><path d="M943 2663l34-9-31-23-34 9z" fill="#20658d"/><path d="M694 2585l35-5-29-27-36 6z" fill="#26806d"/><path d="M500 2502l37-2-29-29-36 2z" fill="#2f7f4b"/><path d="M1468 2727l31-17-34-16-31 17z" fill="#1c3b9b"/><path d="M1523 2725l31-17-35-15-30 17z" fill="#1c3c9d"/><path d="M1413 2727l31-16-34-16-31 16z" fill="#1b3a99"/><path d="M1578 2722l31-18-35-14-30 18z" fill="#1c3ea0"/><path d="M1357 2726l32-15-34-17-31 15z" fill="#1b3a98"/><path d="M887 2650l34-7-30-24-35 8z" fill="#207188"/><path d="M1634 2718l30-19-35-14-30 20z" fill="#1d43a1"/><path d="M1302 2723l32-14-33-18-32 14z" fill="#1b3a97"/><path d="M1689 2712l30-20-36-13-29 21z" fill="#1f49a3"/><path d="M1247 2719l32-13-33-19-32 14z" fill="#1b3c95"/><path d="M638 2566l36-4-29-27-36 4z" fill="#287e62"/><path d="M1745 2705l29-21-36-12-29 22z" fill="#2051a5"/><path d="M1191 2714l33-12-33-20-32 13z" fill="#1b4094"/><path d="M832 2636l34-7-30-24-35 7z" fill="#227680"/><path d="M1800 2697l29-22-36-11-29 22z" fill="#225aa7"/><path d="M1136 2707l33-11-32-20-33 11z" fill="#1c4592"/><path d="M1856 2687l29-22-37-11-28 23z" fill="#2465a8"/><path d="M582 2545l36-3-29-27-36 3z" fill="#2a7d58"/><path d="M1081 2699l33-10-32-21-33 11z" fill="#1d4b91"/><path d="M776 2621l35-6-30-25-35 6z" fill="#237878"/><path d="M1912 2676l28-23-36-10-29 24z" fill="#2574a5"/><path d="M1025 2690l34-10-32-21-33 10z" fill="#1e528f"/><path d="M720 2604l35-5-29-26-36 5z" fill="#247b6f"/><path d="M1968 2663l28-24-37-9-28 25z" fill="#2784a3"/><path d="M526 2524l36-2-28-29-37 2z" fill="#2c7c4d"/><path d="M969 2679l34-9-31-22-34 9z" fill="#1f5b8b"/><path d="M914 2667l34-8-31-23-34 8z" fill="#1f6686"/><path d="M1497 2736l31-16-35-15-31 17z" fill="#1b3997"/><path d="M1441 2737l31-15-34-16-31 16z" fill="#1b3895"/><path d="M1552 2734l31-17-35-14-30 17z" fill="#1b3b99"/><path d="M1386 2737l31-15-34-16-31 15z" fill="#1a3793"/><path d="M664 2585l36-4-30-26-36 4z" fill="#267b65"/><path d="M1608 2731l30-18-35-14-30 19z" fill="#1c3d9c"/><path d="M1330 2735l32-14-33-17-32 14z" fill="#1a3892"/><path d="M1663 2726l30-19-35-13-30 20z" fill="#1d439e"/><path d="M469 2500l37-1-28-29-37 2z" fill="#2e7a46"/><path d="M1275 2731l32-13-33-17-32 13z" fill="#1a3891"/><path d="M858 2653l35-6-31-24-35 7z" fill="#207181"/><path d="M1719 2720l30-20-36-12-30 20z" fill="#1e4a9f"/><path d="M1219 2727l33-12-33-19-33 12z" fill="#1a3b90"/><path d="M1775 2712l29-21-36-11-29 21z" fill="#2052a1"/><path d="M1164 2721l32-11-32-20-33 12z" fill="#1b408e"/><path d="M608 2565l36-2-29-27-37 3z" fill="#28795a"/><path d="M1831 2703l29-22-37-10-29 22z" fill="#225ba3"/><path d="M802 2638l35-5-30-25-35 6z" fill="#217378"/><path d="M1108 2713l33-10-32-20-33 10z" fill="#1b458c"/><path d="M1887 2693l28-23-36-9-29 22z" fill="#2368a3"/><path d="M1052 2704l34-9-32-21-34 10z" fill="#1c4b8b"/><path d="M551 2544l37-2-29-27-37 2z" fill="#2a7850"/><path d="M746 2622l35-5-30-25-35 5z" fill="#22756f"/><path d="M1943 2681l28-23-37-9-28 23z" fill="#2576a0"/><path d="M996 2694l34-8-31-22-34 9z" fill="#1d5389"/><path d="M1999 2668l28-24-37-8-29 24z" fill="#26879e"/><path d="M941 2682l34-7-31-22-35 8z" fill="#1e5d84"/><path d="M690 2604l36-4-30-25-36 4z" fill="#247767"/><path d="M494 2521l38 0-29-29-37 2z" fill="#2c7747"/><path d="M1470 2747l31-16-34-14-31 15z" fill="#1a3691"/><path d="M1526 2745l31-16-35-14-31 17z" fill="#1a3893"/><path d="M1414 2747l32-15-34-15-32 15z" fill="#1a368f"/><path d="M1582 2743l30-17-35-14-30 18z" fill="#1b3a96"/><path d="M1359 2745l31-13-33-16-32 14z" fill="#19358d"/><path d="M885 2669l34-6-31-23-34 7z" fill="#1e687f"/><path d="M1638 2738l30-17-36-13-30 18z" fill="#1b3d98"/><path d="M1303 2743l32-13-33-17-32 13z" fill="#19368c"/><path d="M1693 2733l30-19-36-12-29 20z" fill="#1d439a"/><path d="M1247 2739l33-12-34-18-32 12z" fill="#19378b"/><path d="M633 2585l37-3-30-26-36 3z" fill="#25765d"/><path d="M1749 2726l30-20-36-10-30 19z" fill="#1e4a9c"/><path d="M1191 2733l33-11-33-18-32 11z" fill="#193b8a"/><path d="M828 2655l35-6-30-23-35 6z" fill="#1f6d78"/><path d="M438 2497l37 0-28-28-38 0z" fill="#2e7640"/><path d="M1805 2718l30-21-37-10-29 21z" fill="#20539e"/><path d="M1136 2726l33-10-33-19-33 10z" fill="#1a4088"/><path d="M1862 2708l28-21-36-10-29 22z" fill="#225da0"/><path d="M577 2564l36-2-29-26-36 2z" fill="#277553"/><path d="M1080 2718l33-9-32-20-33 9z" fill="#1b4687"/><path d="M772 2639l36-4-30-24-36 4z" fill="#207070"/><path d="M1918 2697l28-22-37-9-28 23z" fill="#236b9e"/><path d="M1024 2708l33-8-31-20-34 8z" fill="#1c4c85"/><path d="M1974 2685l28-23-37-8-28 23z" fill="#247a9b"/><path d="M716 2622l36-4-30-24-36 3z" fill="#227267"/><path d="M520 2542l37-1-29-27-37 1z" fill="#297449"/><path d="M968 2697l34-7-32-21-34 7z" fill="#1c5581"/><path d="M911 2685l35-6-31-22-35 6z" fill="#1d5f7c"/><path d="M1499 2755l31-15-35-13-30 15z" fill="#19358d"/><path d="M1443 2756l32-14-35-15-31 15z" fill="#19348b"/><path d="M1555 2753l31-16-35-13-31 17z" fill="#1a378f"/><path d="M659 2603l36-2-29-26-36 3z" fill="#23725e"/><path d="M1387 2755l32-13-34-15-32 13z" fill="#183489"/><path d="M1611 2750l31-17-36-12-30 17z" fill="#1a3992"/><path d="M1331 2753l32-12-33-16-32 12z" fill="#183488"/><path d="M1668 2745l29-17-35-12-30 18z" fill="#1b3e94"/><path d="M463 2518l38 1-29-28-37 0z" fill="#2b7241"/><path d="M1275 2750l33-12-34-17-32 12z" fill="#183487"/><path d="M1724 2739l29-18-36-11-29 19z" fill="#1c4496"/><path d="M855 2671l35-5-31-23-35 6z" fill="#1e6977"/><path d="M1219 2745l33-11-33-17-33 11z" fill="#183885"/><path d="M1780 2732l29-20-36-10-30 20z" fill="#1e4c98"/><path d="M602 2583l37-2-29-25-37 1z" fill="#257154"/><path d="M1163 2738l33-9-32-18-33 10z" fill="#193c84"/><path d="M1836 2723l29-21-37-9-29 21z" fill="#20559a"/><path d="M799 2655l35-4-30-23-36 5z" fill="#1f6b6f"/><path d="M1107 2731l34-9-33-19-33 9z" fill="#1a4182"/><path d="M406 2493l38 2-28-29-38-1z" fill="#2e713b"/><path d="M1893 2712l28-21-37-8-29 21z" fill="#21609a"/><path d="M1051 2722l34-8-32-20-34 8z" fill="#1a4781"/><path d="M545 2561l38 0-29-26-37 0z" fill="#27704b"/><path d="M742 2639l36-3-30-24-36 3z" fill="#206d67"/><path d="M1949 2701l29-22-38-8-28 22z" fill="#236e98"/><path d="M995 2711l34-7-32-20-34 7z" fill="#1b4e7e"/><path d="M938 2699l35-6-31-21-35 7z" fill="#1c587a"/><path d="M685 2621l37-3-30-24-36 3z" fill="#216f5f"/><path d="M488 2538l38 1-28-27-38-1z" fill="#296f42"/><path d="M1473 2764l31-14-35-13-31 14z" fill="#183387"/><path d="M1529 2763l31-15-36-13-30 16z" fill="#183489"/><path d="M1416 2764l32-13-35-14-31 13z" fill="#183285"/><path d="M1585 2761l31-16-36-12-30 16z" fill="#19368c"/><path d="M1360 2763l32-13-34-15-32 13z" fill="#173283"/><path d="M1642 2757l30-17-36-11-30 17z" fill="#1a3a8e"/><path d="M882 2686l35-5-31-22-35 6z" fill="#1c6275"/><path d="M1304 2760l32-12-34-15-32 11z" fill="#173281"/><path d="M1698 2751l30-17-37-11-29 18z" fill="#1b3f90"/><path d="M628 2601l37-1-29-25-37 1z" fill="#236d55"/><path d="M1248 2755l32-10-33-16-33 10z" fill="#17347e"/><path d="M1754 2744l30-18-37-10-29 19z" fill="#1c4692"/><path d="M1191 2750l33-10-33-17-33 10z" fill="#17377b"/><path d="M431 2514l38 1-28-27-38-2z" fill="#2b6e3c"/><path d="M825 2671l36-4-31-22-35 4z" fill="#1d666e"/><path d="M1811 2736l29-19-37-9-29 20z" fill="#1e4e94"/><path d="M1135 2743l33-9-32-18-34 9z" fill="#183b79"/><path d="M1867 2727l29-20-37-9-29 21z" fill="#205796"/><path d="M571 2580l37 0-28-26-38 1z" fill="#256c4c"/><path d="M1079 2734l33-8-32-18-34 8z" fill="#183f77"/><path d="M768 2655l36-3-30-23-36 3z" fill="#1e6866"/><path d="M1924 2716l29-21-38-8-29 22z" fill="#216494"/><path d="M373 2488l39 2-28-28-38-2z" fill="#2d6c35"/><path d="M1022 2724l34-7-32-19-34 7z" fill="#194575"/><path d="M711 2637l37-2-30-23-36 2z" fill="#1f6a5f"/><path d="M514 2557l38 1-29-26-38 0z" fill="#266b43"/><path d="M965 2713l35-6-31-20-35 6z" fill="#194d71"/><path d="M909 2700l35-5-31-20-35 5z" fill="#1a566d"/><path d="M1502 2772l31-14-35-13-31 15z" fill="#16307d"/><path d="M1446 2772l31-13-35-13-31 13z" fill="#162e79"/><path d="M1559 2770l30-15-35-11-31 14z" fill="#173281"/><path d="M654 2618l37-1-29-24-37 2z" fill="#216a56"/><path d="M1389 2771l32-12-35-14-31 13z" fill="#152d76"/><path d="M1615 2767l30-16-35-11-31 16z" fill="#183685"/><path d="M1333 2769l32-11-34-15-32 12z" fill="#142d73"/><path d="M456 2533l39 2-29-26-38-2z" fill="#286a3c"/><path d="M1672 2762l30-16-37-11-29 17z" fill="#193b8a"/><path d="M1276 2765l33-10-34-15-32 10z" fill="#142e70"/><path d="M1729 2756l29-17-37-10-29 18z" fill="#1b418c"/><path d="M852 2686l35-4-30-21-36 4z" fill="#1a5c67"/><path d="M1220 2760l33-9-34-16-33 9z" fill="#14306e"/><path d="M1785 2749l29-18-37-9-29 18z" fill="#1c488e"/><path d="M597 2598l37 0-29-25-37 0z" fill="#22694d"/><path d="M1163 2754l33-9-32-17-34 9z" fill="#15336c"/><path d="M1842 2740l29-19-38-8-28 19z" fill="#1e5190"/><path d="M795 2670l36-2-30-22-36 3z" fill="#1b5e61"/><path d="M399 2508l38 3-28-27-38-3z" fill="#2b6936"/><path d="M1106 2746l34-8-32-17-34 7z" fill="#15376a"/><path d="M1899 2730l29-20-38-7-29 20z" fill="#1f5c90"/><path d="M1050 2736l34-6-32-18-34 6z" fill="#163b68"/><path d="M540 2576l37 1-28-25-38-1z" fill="#246844"/><path d="M738 2653l36-1-30-23-36 2z" fill="#1c615a"/><path d="M993 2726l34-6-31-19-35 6z" fill="#164264"/><path d="M681 2635l36-1-29-23-37 1z" fill="#1e6253"/><path d="M936 2713l35-4-31-20-35 5z" fill="#164961"/><path d="M482 2552l38 3-28-26-38-2z" fill="#26673d"/><path d="M1475 2780l31-13-35-13-31 13z" fill="#132a6c"/><path d="M1532 2778l31-13-36-12-31 14z" fill="#142c70"/><path d="M1419 2779l31-12-35-13-31 12z" fill="#132969"/><path d="M1589 2776l30-14-36-11-30 14z" fill="#152f74"/><path d="M1362 2777l32-10-35-14-32 11z" fill="#122866"/><path d="M1646 2772l30-15-37-10-30 15z" fill="#163478"/><path d="M879 2700l35-4-30-20-36 4z" fill="#17515d"/><path d="M1305 2774l32-10-34-14-32 10z" fill="#122964"/><path d="M1703 2767l29-16-37-10-29 17z" fill="#18397c"/><path d="M623 2615l38 0-30-24-37 0z" fill="#20624b"/><path d="M1248 2770l33-9-34-16-32 10z" fill="#122b61"/><path d="M1760 2760l29-17-37-8-30 17z" fill="#194081"/><path d="M424 2527l39 4-28-27-39-3z" fill="#286637"/><path d="M1191 2764l34-8-34-16-33 8z" fill="#122d5f"/><path d="M1817 2752l28-18-37-7-29 18z" fill="#1b4986"/><path d="M822 2685l36-3-31-21-36 3z" fill="#185257"/><path d="M1135 2757l33-8-33-16-33 7z" fill="#13305d"/><path d="M1874 2743l28-19-38-7-28 19z" fill="#1e548b"/><path d="M565 2593l38 2-28-24-38-2z" fill="#216243"/><path d="M1078 2748l34-6-33-18-34 7z" fill="#13335b"/><path d="M764 2668l37-1-30-22-37 2z" fill="#195451"/><path d="M1020 2738l35-6-32-18-34 6z" fill="#133858"/><path d="M508 2571l38 2-28-25-39-2z" fill="#23623c"/><path d="M707 2650l37 0-30-22-37 0z" fill="#1a564b"/><path d="M963 2726l35-4-31-19-35 5z" fill="#133e55"/><path d="M906 2713l36-3-31-20-36 4z" fill="#144552"/><path d="M1505 2786l31-13-36-11-31 13z" fill="#112760"/><path d="M1448 2786l31-11-35-13-31 12z" fill="#11255d"/><path d="M1562 2784l31-13-36-11-31 14z" fill="#122964"/><path d="M649 2631l38 1-29-23-38-1z" fill="#1b5644"/><path d="M1391 2785l32-11-35-13-32 11z" fill="#10255a"/><path d="M1619 2781l30-14-36-10-30 14z" fill="#132d67"/><path d="M449 2546l39 4-28-26-38-3z" fill="#266237"/><path d="M1334 2783l32-10-34-14-32 10z" fill="#102558"/><path d="M1676 2777l30-15-37-10-30 16z" fill="#14316b"/><path d="M1277 2779l33-9-34-15-33 9z" fill="#102655"/><path d="M1734 2771l29-16-37-8-30 16z" fill="#163770"/><path d="M849 2699l36-3-31-20-36 3z" fill="#14474d"/><path d="M1220 2773l33-8-33-15-34 8z" fill="#102753"/><path d="M1791 2763l29-16-38-8-29 17z" fill="#183e74"/><path d="M591 2610l38 2-28-24-38-1z" fill="#1d563d"/><path d="M1163 2766l33-6-33-16-33 7z" fill="#102951"/><path d="M1848 2755l29-18-38-7-29 18z" fill="#1a4779"/><path d="M791 2683l37-2-31-20-36 1z" fill="#154948"/><path d="M1106 2758l34-6-33-16-34 6z" fill="#102c4f"/><path d="M1048 2749l35-5-32-18-35 6z" fill="#11304d"/><path d="M533 2588l39 3-28-24-39-3z" fill="#1e5637"/><path d="M733 2665l38 0-30-21-37 0z" fill="#164a43"/><path d="M991 2738l35-4-32-18-35 4z" fill="#11354a"/><path d="M676 2646l37 1-29-22-38 0z" fill="#174b3d"/><path d="M933 2725l36-3-31-18-36 3z" fill="#113a47"/><path d="M475 2564l39 4-28-25-39-3z" fill="#205632"/><path d="M1535 2791l31-12-36-10-31 12z" fill="#102455"/><path d="M1478 2792l31-11-35-11-32 11z" fill="#0f2352"/><path d="M1593 2789l30-13-37-10-30 14z" fill="#102758"/><path d="M1421 2792l31-11-35-12-32 11z" fill="#0f224f"/><path d="M1650 2785l30-14-37-9-30 15z" fill="#122b5c"/><path d="M1363 2790l32-10-34-12-32 9z" fill="#0e214c"/><path d="M876 2711l36-2-31-19-36 2z" fill="#113d43"/><path d="M1707 2780l30-15-37-8-30 15z" fill="#132f5f"/><path d="M1306 2786l33-8-35-14-32 9z" fill="#0e224a"/><path d="M618 2626l38 2-29-22-38-2z" fill="#184b37"/><path d="M1765 2773l29-15-38-7-29 16z" fill="#143564"/><path d="M1249 2782l33-8-34-14-33 8z" fill="#0e2348"/><path d="M1822 2765l29-16-38-6-29 16z" fill="#163c68"/><path d="M1191 2776l34-7-34-15-33 7z" fill="#0e2446"/><path d="M818 2696l37-1-31-20-36 1z" fill="#123e3f"/><path d="M1134 2768l34-6-33-15-34 6z" fill="#0e2644"/><path d="M559 2604l39 3-28-23-39-3z" fill="#1a4a31"/><path d="M1076 2759l35-5-33-16-34 5z" fill="#0e2942"/><path d="M760 2679l37 0-30-20-37 0z" fill="#13403a"/><path d="M1019 2749l35-4-32-17-35 4z" fill="#0e2d40"/><path d="M501 2581l39 4-28-23-39-4z" fill="#1b4b2c"/><path d="M702 2661l38 1-30-21-37-1z" fill="#144036"/><path d="M961 2737l36-3-32-18-35 3z" fill="#0e313d"/><path d="M903 2723l36-1-31-19-36 2z" fill="#0f343a"/><path d="M1508 2797l31-11-36-10-31 11z" fill="#0d2047"/><path d="M1566 2796l30-12-36-10-31 13z" fill="#0e224a"/><path d="M1451 2797l31-10-36-11-31 11z" fill="#0d1f44"/><path d="M644 2641l38 2-29-21-38-2z" fill="#154031"/><path d="M1623 2793l31-13-38-9-30 13z" fill="#0f254d"/><path d="M1393 2796l32-9-35-12-32 10z" fill="#0c1e42"/><path d="M1681 2788l30-13-38-8-29 14z" fill="#102950"/><path d="M1336 2793l32-8-35-12-32 8z" fill="#0c1e40"/><path d="M1739 2782l29-14-38-7-29 15z" fill="#112d54"/><path d="M1278 2789l33-7-35-13-32 7z" fill="#0c1e3e"/><path d="M845 2708l37 0-31-19-36 1z" fill="#0f3536"/><path d="M1797 2775l28-15-38-6-29 15z" fill="#133358"/><path d="M1220 2784l34-7-34-14-34 7z" fill="#0c1f3c"/><path d="M585 2620l39 3-28-22-39-3z" fill="#16402c"/><path d="M1163 2777l33-6-33-15-34 6z" fill="#0c213a"/><path d="M787 2692l37 1-30-20-37 0z" fill="#103632"/><path d="M1105 2768l34-4-33-16-34 5z" fill="#0c2338"/><path d="M1047 2758l35-3-32-16-35 4z" fill="#0c2636"/><path d="M527 2597l39 5-28-23-39-4z" fill="#174027"/><path d="M729 2674l38 2-30-20-38-1z" fill="#10372f"/><path d="M989 2747l35-2-31-17-36 3z" fill="#0c2934"/><path d="M670 2655l39 3-29-21-39-2z" fill="#11362a"/><path d="M931 2734l36-1-31-18-36 2z" fill="#0c2c31"/><path d="M1539 2801l30-10-36-9-31 11z" fill="#0c1e3d"/><path d="M1481 2802l31-10-36-10-31 11z" fill="#0b1c3a"/><path d="M1597 2799l30-11-37-9-31 12z" fill="#0d2040"/><path d="M1423 2801l32-8-36-11-32 9z" fill="#0b1b38"/><path d="M1655 2796l29-13-37-7-30 12z" fill="#0d2343"/><path d="M1365 2799l32-8-35-11-32 8z" fill="#0b1b36"/><path d="M873 2720l36 0-30-18-37 0z" fill="#0d2c2e"/><path d="M1713 2790l29-13-38-6-30 13z" fill="#0e2646"/><path d="M1307 2796l33-7-35-13-32 8z" fill="#0a1b34"/><path d="M612 2634l39 4-29-21-39-3z" fill="#123626"/><path d="M1771 2784l29-14-39-6-29 15z" fill="#102b4a"/><path d="M1249 2791l34-6-35-13-33 6z" fill="#0a1b32"/><path d="M1191 2785l34-6-34-13-33 5z" fill="#0a1c31"/><path d="M814 2704l38 1-31-18-37-1z" fill="#0d2d2b"/><path d="M1133 2777l35-5-34-14-34 5z" fill="#0a1e2f"/><path d="M553 2612l40 5-28-21-40-5z" fill="#133622"/><path d="M1075 2767l35-3-33-15-34 4z" fill="#0a202d"/><path d="M756 2687l38 2-30-19-38-2z" fill="#0e2e28"/><path d="M1017 2757l35-3-32-15-35 2z" fill="#0a222b"/><path d="M697 2668l39 3-29-19-39-3z" fill="#0e2d24"/><path d="M959 2744l36-1-32-16-36 1z" fill="#0a2429"/><path d="M900 2731l37 0-31-17-37 0z" fill="#0a2426"/><path d="M1512 2806l30-9-37-9-30 9z" fill="#0a1931"/><path d="M1570 2805l30-11-37-8-31 11z" fill="#0a1b34"/><path d="M1454 2806l31-9-37-9-31 9z" fill="#09182f"/><path d="M638 2648l39 4-28-20-39-3z" fill="#0f2d21"/><path d="M1628 2802l30-11-38-8-30 12z" fill="#0b1d36"/><path d="M1395 2804l32-7-36-11-32 8z" fill="#09172d"/><path d="M1686 2797l30-11-39-7-29 12z" fill="#0c2039"/><path d="M1337 2802l32-7-35-12-32 8z" fill="#09172b"/><path d="M1744 2792l29-13-38-6-29 13z" fill="#0d243c"/><path d="M1279 2797l33-6-35-12-33 7z" fill="#091729"/><path d="M841 2716l38 1-30-18-38-1z" fill="#0b2523"/><path d="M1221 2792l33-5-34-13-34 5z" fill="#081828"/><path d="M579 2626l40 6-28-21-40-5z" fill="#102d1d"/><path d="M1162 2784l34-4-33-13-34 4z" fill="#081926"/><path d="M783 2699l38 2-30-18-38-2z" fill="#0b2521"/><path d="M1104 2776l35-3-33-15-35 4z" fill="#081a24"/><path d="M1045 2765l36-2-33-14-35 2z" fill="#081c22"/><path d="M724 2681l39 3-29-18-39-3z" fill="#0c251e"/><path d="M987 2754l36-1-32-16-36 2z" fill="#081d21"/><path d="M665 2661l39 5-28-19-40-5z" fill="#0c251b"/><path d="M928 2741l37 0-31-16-37 0z" fill="#081d1e"/><path d="M1543 2809l30-9-38-8-30 9z" fill="#081629"/><path d="M1484 2809l31-8-37-8-31 8z" fill="#081526"/><path d="M1601 2807l30-10-38-7-30 10z" fill="#09182b"/><path d="M1426 2809l31-8-36-9-32 8z" fill="#081425"/><path d="M1660 2803l29-10-39-6-29 10z" fill="#0a1b2d"/><path d="M1367 2806l32-6-36-10-32 6z" fill="#071423"/><path d="M1718 2798l29-11-39-5-29 11z" fill="#0a1e30"/><path d="M869 2726l38 1-31-16-37-1z" fill="#091d1c"/><path d="M1309 2803l32-6-35-11-33 6z" fill="#071421"/><path d="M605 2640l41 6-28-20-40-5z" fill="#0d2518"/><path d="M1250 2798l33-5-34-12-34 5z" fill="#07141f"/><path d="M1191 2791l34-4-34-12-34 4z" fill="#07141e"/><path d="M810 2710l38 2-29-17-39-2z" fill="#091e1a"/><path d="M1133 2783l34-3-33-13-35 3z" fill="#07151c"/><path d="M751 2692l39 4-29-17-39-4z" fill="#091d18"/><path d="M1074 2773l35-1-32-14-36 2z" fill="#06161b"/><path d="M1015 2762l36 0-32-15-36 1z" fill="#061719"/><path d="M691 2673l40 5-28-18-40-4z" fill="#0a1d16"/><path d="M956 2750l37 0-31-15-37 0z" fill="#061717"/><path d="M1515 2812l31-8-38-7-31 8z" fill="#06121f"/><path d="M1574 2810l30-8-38-6-30 8z" fill="#071420"/><path d="M896 2735l38 2-30-15-38-2z" fill="#071716"/><path d="M632 2652l40 7-27-18-41-7z" fill="#0a1d13"/><path d="M1457 2812l30-7-37-8-31 7z" fill="#06111d"/><path d="M1633 2808l29-9-39-6-29 9z" fill="#071622"/><path d="M1398 2810l31-6-36-9-32 6z" fill="#06101b"/><path d="M1692 2804l28-10-39-5-29 10z" fill="#081824"/><path d="M1339 2807l32-5-36-10-32 5z" fill="#061019"/><path d="M1280 2803l33-5-35-11-33 5z" fill="#051018"/><path d="M837 2720l39 3-30-16-38-3z" fill="#071714"/><path d="M1221 2797l34-4-35-11-34 3z" fill="#051016"/><path d="M1162 2789l34-2-33-13-35 3z" fill="#051115"/><path d="M778 2702l39 5-29-16-39-4z" fill="#071612"/><path d="M1103 2780l35-1-33-13-35 2z" fill="#051114"/><path d="M1043 2770l37-1-32-13-37 0z" fill="#051112"/><path d="M718 2684l40 6-28-17-40-5z" fill="#071611"/><path d="M984 2757l37 1-31-14-37 0z" fill="#051111"/><path d="M658 2663l41 8-27-17-41-7z" fill="#08160f"/><path d="M924 2744l38 2-30-14-38-2z" fill="#051110"/><path d="M1547 2813l30-7-39-6-30 7z" fill="#050f17"/><path d="M1488 2814l30-7-38-7-30 7z" fill="#050e15"/><path d="M1606 2811l29-8-39-5-29 8z" fill="#051119"/><path d="M1429 2813l31-6-38-8-31 6z" fill="#050e15"/><path d="M1665 2808l29-9-40-4-29 9z" fill="#06131a"/><path d="M1370 2810l31-4-37-9-31 5z" fill="#050e14"/><path d="M864 2728l40 4-30-14-39-4z" fill="#05110f"/><path d="M1310 2807l33-4-36-10-33 4z" fill="#040e14"/><path d="M1251 2801l33-3-35-10-33 3z" fill="#040f13"/><path d="M1191 2795l35-3-35-11-34 3z" fill="#040f13"/><path d="M805 2712l40 5-29-15-40-5z" fill="#05110e"/><path d="M1132 2786l35-1-33-12-35 1z" fill="#041012"/><path d="M745 2693l41 7-28-15-41-6z" fill="#06110d"/><path d="M1072 2776l36 0-32-12-36 0z" fill="#051011"/><path d="M1012 2764l38 2-31-13-38-1z" fill="#051010"/><path d="M685 2674l42 8-28-15-41-8z" fill="#06110c"/><path d="M952 2751l39 3-30-13-39-2z" fill="#05100f"/><path d="M1520 2814l29-5-39-5-30 5z" fill="#050f14"/><path d="M1579 2813l29-6-40-4-29 6z" fill="#050f14"/><path d="M892 2736l40 5-29-13-40-4z" fill="#05110e"/><path d="M1461 2814l29-5-38-6-30 5z" fill="#040e14"/><path d="M1638 2810l29-6-41-4-28 7z" fill="#051015"/><path d="M1401 2812l31-3-39-8-30 5z" fill="#040e13"/><path d="M1342 2809l31-3-37-8-32 3z" fill="#040f13"/><path d="M1282 2805l32-3-36-9-33 3z" fill="#040f12"/><path d="M832 2720l41 6-29-13-40-6z" fill="#05100d"/><path d="M1222 2799l33-2-35-10-34 2z" fill="#040f12"/><path d="M1161 2791l35-1-33-11-35 1z" fill="#040f11"/><path d="M772 2702l42 8-28-13-41-8z" fill="#05100c"/><path d="M1100 2781l37 1-31-11-37 0z" fill="#040f10"/><path d="M1040 2770l38 2-30-11-38-2z" fill="#05100f"/><path d="M712 2683l42 9-27-13-42-9z" fill="#06100b"/><path d="M979 2756l40 5-29-11-40-4z" fill="#05100e"/><path d="M919 2742l41 7-28-11-41-6z" fill="#05100e"/><path d="M1552 2813l28-3-40-4-29 5z" fill="#040f13"/><path d="M1611 2812l28-5-40-2-29 5z" fill="#051013"/><path d="M1493 2814l28-3-40-4-29 3z" fill="#040f12"/><path d="M1433 2813l29-3-39-5-30 3z" fill="#040f12"/><path d="M1374 2810l29-1-39-7-30 3z" fill="#040f12"/><path d="M860 2726l41 8-28-10-41-8z" fill="#05100d"/><path d="M1314 2806l30-1-38-7-31 2z" fill="#040f11"/><path d="M1254 2801l31 0-37-9-32 1z" fill="#040f11"/><path d="M1191 2795l35 0-35-10-34 1z" fill="#040f10"/><path d="M800 2709l41 10-27-11-42-9z" fill="#05100c"/><path d="M1127 2784l40 3-31-9-38-2z" fill="#040f0f"/><path d="M740 2690l42 12-28-11-42-11z" fill="#050f0a"/><path d="M1067 2772l40 6-29-8-40-5z" fill="#040f0e"/><path d="M1008 2759l40 8-29-7-40-7z" fill="#040f0e"/><path d="M948 2746l41 9-29-7-41-9z" fill="#050f0d"/><path d="M1584 2811l28-2-42 0-27 2z" fill="#041012"/><path d="M1525 2812l28-1-42-1-28 1z" fill="#040f11"/><path d="M888 2731l41 11-28-8-41-10z" fill="#050f0c"/><path d="M1465 2811l28 0-41-2-28 1z" fill="#040f11"/><path d="M1405 2808l29 2-41-2-28-1z" fill="#040f10"/><path d="M1346 2804l29 4-41-3-29-2z" fill="#061719"/><path d="M1285 2797l30 7-40-3-29-4z" fill="#071718"/><path d="M828 2715l41 12-28-8-41-12z" fill="#091a13"/><path d="M1223 2789l33 9-38 0-32-8z" fill="#071718"/><path d="M1160 2781l36 10-32 0-37-10z" fill="#071817"/><path d="M768 2697l42 13-28-8-42-13z" fill="#091a12"/><path d="M1099 2772l38 10-31-1-39-10z" fill="#071917"/><path d="M1038 2761l39 12-30-4-39-10z" fill="#071916"/><path d="M978 2749l40 12-30-4-40-11z" fill="#081a15"/><path d="M918 2735l40 13-30-5-40-12z" fill="#081a14"/><path d="M1556 2809l28 1-41 2-28-1z" fill="#071718"/><path d="M1496 2808l29 3-42 2-28-2z" fill="#071718"/><path d="M1436 2806l29 5-41 1-29-4z" fill="#071718"/><path d="M1375 2802l30 7-40 1-29-5z" fill="#071718"/><path d="M857 2720l41 14-29-6-41-13z" fill="#091a13"/><path d="M1314 2797l32 8-39 2-31-8z" fill="#071818"/><path d="M1253 2791l33 9-37 2-33-9z" fill="#071817"/><path d="M1191 2783l35 11-35 1-34-10z" fill="#071817"/><path d="M797 2703l41 15-29-6-41-15z" fill="#091b12"/><path d="M1130 2774l36 12-33 0-36-11z" fill="#071916"/><path d="M1069 2764l38 13-32-1-38-12z" fill="#081a16"/><path d="M1008 2753l39 13-32-2-38-13z" fill="#081a15"/><path d="M947 2740l40 14-31-3-39-14z" fill="#081a14"/><path d="M1527 2806l29 4-41 4-29-4z" fill="#071818"/><path d="M887 2725l39 15-30-4-40-14z" fill="#091a13"/><path d="M1466 2804l30 6-40 4-30-5z" fill="#071818"/><path d="M1405 2802l31 7-39 3-31-6z" fill="#071817"/><path d="M1344 2797l32 9-38 3-32-8z" fill="#071817"/><path d="M1283 2792l33 10-36 3-34-10z" fill="#071917"/><path d="M826 2709l40 15-30-4-40-15z" fill="#091b11"/><path d="M1222 2785l34 11-35 2-35-11z" fill="#071916"/><path d="M1161 2777l35 12-34 1-36-12z" fill="#081916"/><path d="M1100 2767l36 13-33 1-37-13z" fill="#081a15"/><path d="M1038 2756l38 14-33 0-37-14z" fill="#081a14"/><path d="M977 2743l39 15-32-1-39-14z" fill="#091a13"/><path d="M916 2729l39 16-31-2-39-15z" fill="#091a12"/><path d="M1498 2802l30 7-40 5-30-6z" fill="#071917"/><path d="M1436 2800l32 8-39 5-31-8z" fill="#071917"/><path d="M1375 2797l32 9-38 4-32-8z" fill="#071916"/><path d="M855 2713l40 17-31-3-40-16z" fill="#091b11"/><path d="M1314 2792l33 10-37 4-33-10z" fill="#081916"/><path d="M1253 2786l34 11-36 3-34-11z" fill="#081b17"/><path d="M1191 2778l36 12-36 3-35-12z" fill="#091c17"/><path d="M1130 2769l36 13-34 2-36-13z" fill="#091d17"/><path d="M1069 2758l37 15-34 1-37-14z" fill="#0a1f17"/><path d="M1007 2746l38 16-33 0-37-15z" fill="#0b2017"/><path d="M946 2732l38 17-32-1-38-16z" fill="#0c2116"/><path d="M1468 2798l32 8-40 6-31-8z" fill="#091f1a"/><path d="M884 2717l39 18-31-2-39-17z" fill="#0c2315"/><path d="M1407 2795l32 10-38 5-33-9z" fill="#0a201b"/><path d="M1345 2791l33 11-37 5-33-11z" fill="#0a211c"/><path d="M1284 2785l34 12-37 4-34-11z" fill="#0b231c"/><path d="M1222 2778l35 13-36 4-35-13z" fill="#0b241d"/><path d="M1161 2770l35 14-35 3-35-14z" fill="#0c261c"/><path d="M1099 2760l37 15-35 2-36-15z" fill="#0d271c"/><path d="M1037 2748l38 16-34 1-37-15z" fill="#0e281c"/><path d="M976 2735l38 17-33 0-38-16z" fill="#0f2a1b"/><path d="M914 2721l39 17-33 0-38-17z" fill="#102b1a"/><path d="M1438 2792l33 10-39 7-32-9z" fill="#0c2820"/><path d="M1377 2789l33 11-38 6-33-11z" fill="#0d2921"/><path d="M1315 2784l34 12-37 6-34-12z" fill="#0e2b21"/><path d="M1253 2777l35 14-36 4-35-12z" fill="#0e2c21"/><path d="M1191 2770l36 14-36 4-35-14z" fill="#0f2e21"/><path d="M1130 2760l36 15-35 4-36-15z" fill="#102f21"/><path d="M1068 2749l37 17-34 2-37-16z" fill="#113120"/><path d="M1006 2737l37 17-33 2-38-17z" fill="#12321f"/><path d="M944 2723l38 18-33 1-38-18z" fill="#13341e"/><path d="M1408 2786l34 11-39 8-33-12z" fill="#103225"/><path d="M1346 2782l34 12-37 7-34-13z" fill="#113325"/><path d="M1284 2776l35 13-37 6-34-13z" fill="#123525"/><path d="M1222 2768l36 15-36 5-36-14z" fill="#133625"/><path d="M1160 2760l36 15-35 5-36-16z" fill="#133824"/><path d="M1098 2749l37 17-35 4-37-17z" fill="#153924"/><path d="M1036 2737l37 18-34 3-37-17z" fill="#163b23"/><path d="M974 2724l38 19-34 2-38-19z" fill="#173d22"/><path d="M1378 2778l34 13-38 8-33-13z" fill="#143c28"/><path d="M1316 2773l35 14-38 7-34-14z" fill="#153d28"/><path d="M1254 2766l35 15-37 6-35-14z" fill="#163f28"/><path d="M1191 2758l36 16-36 6-35-16z" fill="#174028"/><path d="M1129 2748l36 17-35 5-36-17z" fill="#184227"/><path d="M1066 2737l38 18-35 4-37-18z" fill="#1a4427"/><path d="M1004 2724l38 19-34 4-38-19z" fill="#1b4626"/><path d="M1348 2769l34 14-37 8-35-14z" fill="#19462b"/><path d="M1285 2763l35 15-37 8-35-15z" fill="#1a482b"/><path d="M1223 2755l35 17-36 6-36-16z" fill="#1b492b"/><path d="M1160 2746l36 18-35 6-37-18z" fill="#1d4b2b"/><path d="M1097 2735l37 19-35 5-37-18z" fill="#1e4d2a"/><path d="M1034 2723l38 20-35 4-37-19z" fill="#1f4f29"/><path d="M1317 2759l35 15-37 9-35-16z" fill="#1f512e"/><path d="M1254 2752l36 17-37 7-35-16z" fill="#20532e"/><path d="M1191 2743l37 18-37 7-36-18z" fill="#21542e"/><path d="M1128 2733l37 19-36 6-36-18z" fill="#23562d"/><path d="M1065 2721l37 20-35 6-37-20z" fill="#24582c"/><path d="M1286 2747l36 17-37 9-36-17z" fill="#255c31"/><path d="M1223 2739l36 18-37 8-36-18z" fill="#265e30"/><path d="M1160 2729l36 20-36 7-36-19z" fill="#286030"/><path d="M1096 2718l37 21-35 6-37-20z" fill="#29622f"/><path d="M1255 2733l36 19-37 10-36-19z" fill="#2b6832"/><path d="M1191 2725l37 20-37 8-36-19z" fill="#2d6a32"/><path d="M1128 2714l37 21-36 8-37-20z" fill="#2f6c31"/><path d="M1223 2719l37 20-37 10-37-20z" fill="#327131"/><path d="M1159 2709l37 21-36 9-37-21z" fill="#337031"/><path d="M1191 2703l37 22-37 10-37-22z" fill="#36702f"/></g><text x="11.8" y="196.1" font-size="13.5" fill="#333" textLength="13.2" lengthAdjust="spacingAndGlyphs">(d)</text><text transform="translate(5.6 256.5) rotate(-90)" x="0" y="1.6" text-anchor="middle" font-size="4.7" fill="#555" textLength="54" lengthAdjust="spacingAndGlyphs">Average particle size (nm)</text><text x="35.6" y="284.5" text-anchor="end" font-size="3.6" font-weight="bold" fill="#666">0</text><text x="34.8" y="267.6" text-anchor="end" font-size="3.6" font-weight="bold" fill="#666">1000</text><text x="34" y="250.8" text-anchor="end" font-size="3.6" font-weight="bold" fill="#666">2000</text><text x="33.2" y="233.9" text-anchor="end" font-size="3.6" font-weight="bold" fill="#666">3000</text><text x="32.4" y="217.1" text-anchor="end" font-size="3.6" font-weight="bold" fill="#666">4000</text><text x="31.6" y="200.3" text-anchor="end" font-size="3.6" font-weight="bold" fill="#666">5000</text><text x="115.2" y="355" text-anchor="middle" font-size="3" fill="#777">2</text><text x="99" y="347.3" text-anchor="middle" font-size="3" fill="#777">1.8</text><text x="82.8" y="339.5" text-anchor="middle" font-size="3" fill="#777">1.6</text><text x="66.6" y="331.8" text-anchor="middle" font-size="3" fill="#777">1.4</text><text x="50.4" y="324.1" text-anchor="middle" font-size="3" fill="#777">1.2</text><text x="34.2" y="316.3" text-anchor="middle" font-size="3" fill="#777">1</text><text x="123.5" y="355" text-anchor="middle" font-size="3" fill="#777">308</text><text x="139.6" y="347.3" text-anchor="middle" font-size="3" fill="#777">310</text><text x="155.8" y="339.6" text-anchor="middle" font-size="3" fill="#777">312</text><text x="172" y="331.8" text-anchor="middle" font-size="3" fill="#777">314</text><text x="188.1" y="324.1" text-anchor="middle" font-size="3" fill="#777">316</text><text x="204.3" y="316.4" text-anchor="middle" font-size="3" fill="#777">318</text><path d="M118.6 351.2h1.2M102.4 343.5h1.2M86.2 335.7h1.2M70 328h1.2M53.8 320.3h1.2M37.6 312.5h1.2M118.6 351.2h1.2M134.7 343.5h1.2M150.9 335.8h1.2M167.1 328h1.2M183.2 320.3h1.2M199.4 312.6h1.2" stroke="#553" stroke-width="1"/><text x="47.4" y="347.5" text-anchor="middle" font-size="5.6" fill="#333" stroke="#333" stroke-width=".12" textLength="71" lengthAdjust="spacingAndGlyphs">C: Solution concentration (mg/mL)</text><text x="190.5" y="347.5" text-anchor="middle" font-size="5.6" fill="#333" stroke="#333" stroke-width=".12" textLength="64.3" lengthAdjust="spacingAndGlyphs">B: Crystallizer temperature (K)</text><circle cx="34.5" cy="237.8" r="1.5" fill="#a01c2c"/><circle cx="201.9" cy="270.2" r="1.5" fill="#a01c2c"/><circle cx="119.1" cy="269.9" r="1.5" fill="#a01c2c"/><path d="M266.7 286.1 262.7 201.9M283.2 280.5 279.9 198M299.6 274.9 297.2 194.2M316.1 269.4 314.4 190.3M332.5 263.8 331.6 186.5M348.9 258.3 348.9 182.6M348.9 258.3 348.9 182.6M365.4 263.9 366.1 186.5M381.8 269.4 383.3 190.4M398.2 275 400.5 194.3M414.6 280.6 417.7 198.2M431 286.1 435 202.1M266.7 286.1 348.9 258.3 431 286.1M265.9 269.2 348.9 243.1 431.8 269.3M265.1 252.4 348.9 228 432.6 252.5M264.3 235.5 348.9 212.9 433.4 235.7M263.5 218.7 348.9 197.7 434.2 218.9M262.7 201.9 348.9 182.6 435 202.1M266.7 286.1 268 312.5M431 286.1 429.8 312.6M348.9 258.3 349 282.3" fill="none" stroke="#b8b8b8" stroke-width=".7"/><path d="M349 351.2 429.8 312.6 349 282.3 268 312.5Z" fill="#ffff00" stroke="#b0a800" stroke-width=".45"/><path d="M414.4 319.6 413.5 318.8 412.5 318 411.5 317.2 410.4 316.4 409.4 315.7 408.2 315 407.1 314.2 405.9 313.5 404.7 312.8 403.4 312.1 402.1 311.4 400.7 310.7 399.2 310 397.7 309.4 396.1 308.7 394.5 308 392.7 307.4 390.9 306.7 389 306.1 387 305.4 384.9 304.8 382.7 304.3 380.4 303.7 377.9 303.2 375.4 302.8 372.8 302.4 370.1 302.1 367.3 301.8 364.5 301.7 361.7 301.7 358.8 301.8 356 302 353.3 302.3 350.7 302.8 348.3 303.3 346 304 343.9 304.8 342 305.7 340.4 306.7 338.9 307.8 337.7 308.9 336.7 310 335.9 311.1 335.3 312.3 334.8 313.4 334.5 314.5 334.3 315.7 334.2 316.8 334.3 317.9 334.4 318.9 334.6 320 334.9 321 335.3 322 335.7 323 336.2 323.9 336.7 324.9 337.3 325.8 338 326.7 338.6 327.6 339.4 328.4 340.1 329.3 341 330.2 341.8 331 342.7 331.8 343.7 332.7 344.7 333.5 345.7 334.3 346.9 335.2 348 336 349.3 336.8 350.6 337.6 352 338.5 353.4 339.3 355 340.1 356.6 341 358.4 341.8 360.3 342.6 362.2 343.5M297.2 301.7 296 303.9 295.1 306 294.4 308.1 294 310.1 293.8 312.2 293.8 314.2 293.9 316.2 294.2 318.2 294.6 320.1 295.2 322 295.9 323.9 296.7 325.8" fill="none" stroke="#d0ea24" stroke-width=".9"/><g transform="scale(.1)"><path d="M3489 2309l30-22-30-23-30 22z" fill="#48c575"/><path d="M3514 2327l30-23-30-22-30 22z" fill="#46c47a"/><path d="M3464 2326l30-22-30-22-30 21z" fill="#45c278"/><path d="M3540 2343l29-23-30-21-30 23z" fill="#44c380"/><path d="M3489 2343l30-21-30-23-30 22z" fill="#43c17f"/><path d="M3439 2341l30-20-30-23-30 20z" fill="#43bf7d"/><path d="M3565 2360l30-24-31-21-30 24z" fill="#42c186"/><path d="M3514 2361l30-23-30-21-30 21z" fill="#41c086"/><path d="M3464 2359l30-20-30-23-30 20z" fill="#41be84"/><path d="M3413 2356l31-19-30-24-30 19z" fill="#40bc81"/><path d="M3540 2377l30-22-31-22-30 23z" fill="#3fbf8d"/><path d="M3591 2376l29-24-30-20-30 23z" fill="#40c08c"/><path d="M3489 2377l30-21-30-23-30 21z" fill="#3ebd8b"/><path d="M3439 2374l30-19-30-24-30 20z" fill="#3ebc88"/><path d="M3388 2370l31-18-30-24-31 18z" fill="#3eb984"/><path d="M3565 2394l30-23-30-21-30 22z" fill="#3dbe93"/><path d="M3515 2394l30-22-31-21-30 21z" fill="#3cbc92"/><path d="M3616 2392l30-25-31-20-30 24z" fill="#3ebf92"/><path d="M3464 2392l30-20-30-23-30 20z" fill="#3cbb8f"/><path d="M3413 2388l31-18-30-24-31 19z" fill="#3cb88b"/><path d="M3362 2383l31-17-30-25-31 17z" fill="#3cb685"/><path d="M3540 2410l30-21-30-22-30 22z" fill="#3abb98"/><path d="M3591 2410l30-24-31-20-30 23z" fill="#3bbd98"/><path d="M3489 2409l31-20-31-22-30 20z" fill="#3aba96"/><path d="M3642 2407l30-25-31-19-30 24z" fill="#3cbe97"/><path d="M3438 2406l31-19-30-23-31 19z" fill="#3ab892"/><path d="M3387 2402l31-18-30-24-31 17z" fill="#3ab58d"/><path d="M3336 2395l31-16-30-25-31 16z" fill="#3ab286"/><path d="M3566 2427l30-22-31-21-30 22z" fill="#38ba9e"/><path d="M3617 2425l30-23-31-20-30 23z" fill="#39bc9d"/><path d="M3515 2426l30-20-30-22-31 20z" fill="#38b99c"/><path d="M3668 2422l30-25-31-19-30 24z" fill="#3abd9b"/><path d="M3464 2424l30-19-30-23-31 19z" fill="#38b799"/><path d="M3412 2420l31-18-30-24-31 18z" fill="#38b594"/><path d="M3361 2414l31-17-30-24-31 16z" fill="#38b28e"/><path d="M3310 2406l31-15-29-26-32 15z" fill="#38af86"/><path d="M3592 2442l30-22-31-20-30 22z" fill="#37b8a3"/><path d="M3541 2443l30-21-31-22-30 21z" fill="#36b6a2"/><path d="M3643 2440l30-24-31-19-30 23z" fill="#37baa2"/><path d="M3489 2441l31-19-31-23-30 20z" fill="#36b59f"/><path d="M3695 2436l29-25-31-19-30 25z" fill="#38bc9f"/><path d="M3438 2438l31-19-31-23-30 19z" fill="#35b49b"/><path d="M3387 2432l31-16-31-24-31 16z" fill="#36b195"/><path d="M3335 2425l31-15-30-25-31 15z" fill="#36ae8e"/><path d="M3284 2416l31-14-30-26-31 14z" fill="#37ab85"/><path d="M3567 2459l30-22-31-20-30 21z" fill="#34b2a7"/><path d="M3618 2458l30-23-31-20-30 23z" fill="#35b4a7"/><path d="M3515 2458l31-20-31-22-31 20z" fill="#34b1a5"/><path d="M3670 2455l29-24-31-19-30 24z" fill="#36b7a6"/><path d="M3464 2455l30-18-30-23-31 19z" fill="#34b0a1"/><path d="M3721 2450l30-26-32-18-30 26z" fill="#37b9a3"/><path d="M3412 2451l31-18-30-23-31 17z" fill="#34af9c"/><path d="M3360 2444l32-16-30-24-32 15z" fill="#34ae95"/><path d="M3309 2436l31-15-30-25-31 14z" fill="#34aa8c"/><path d="M3257 2425l32-13-30-26-32 13z" fill="#35a783"/><path d="M3593 2475l30-22-31-21-31 22z" fill="#33afab"/><path d="M3541 2474l30-20-31-21-30 20z" fill="#32adaa"/><path d="M3644 2473l30-23-31-20-30 23z" fill="#34b1ab"/><path d="M3489 2472l31-19-31-22-30 19z" fill="#32aca6"/><path d="M3696 2469l30-25-32-18-30 24z" fill="#34b3a9"/><path d="M3438 2468l31-17-31-23-31 17z" fill="#32aba2"/><path d="M3748 2463l29-26-32-17-29 26z" fill="#36b6a5"/><path d="M3386 2463l31-17-30-24-31 16z" fill="#32aa9b"/><path d="M3334 2455l31-15-30-25-31 15z" fill="#32a994"/><path d="M3282 2445l32-13-30-26-32 13z" fill="#33a68a"/><path d="M3230 2433l32-12-29-26-32 12z" fill="#34a380"/><path d="M3619 2490l30-22-31-20-30 22z" fill="#31abaf"/><path d="M3567 2490l31-20-32-21-30 20z" fill="#31a9ae"/><path d="M3671 2487l30-23-32-19-30 23z" fill="#32adae"/><path d="M3515 2489l31-19-31-22-31 19z" fill="#30a8ab"/><path d="M3723 2483l29-25-31-18-30 25z" fill="#33b0ac"/><path d="M3463 2486l31-18-30-23-31 18z" fill="#30a7a7"/><path d="M3775 2476l29-26-32-17-29 26z" fill="#35b3a8"/><path d="M3411 2481l32-17-31-23-31 16z" fill="#30a6a1"/><path d="M3359 2474l32-16-30-24-32 15z" fill="#30a59a"/><path d="M3307 2464l32-13-30-25-32 13z" fill="#31a591"/><path d="M3255 2453l32-12-29-26-32 12z" fill="#31a287"/><path d="M3203 2440l32-10-29-27-32 10z" fill="#329e7c"/><path d="M3593 2506l31-21-32-20-30 20z" fill="#2fa6b2"/><path d="M3645 2505l31-23-32-19-30 22z" fill="#30a8b3"/><path d="M3541 2505l31-19-31-22-31 20z" fill="#2fa4b0"/><path d="M3697 2501l30-24-31-18-30 24z" fill="#31aab1"/><path d="M3489 2503l31-19-31-22-31 18z" fill="#2fa3ac"/><path d="M3750 2496l29-25-32-18-30 25z" fill="#32adae"/><path d="M3437 2498l31-17-30-23-31 17z" fill="#2fa2a7"/><path d="M3802 2489l29-27-32-16-30 26z" fill="#33b0aa"/><path d="M3385 2492l31-16-30-23-31 15z" fill="#2fa1a0"/><path d="M3333 2484l32-15-31-24-31 14z" fill="#2fa098"/><path d="M3281 2473l32-13-30-25-32 12z" fill="#2fa08e"/><path d="M3228 2461l32-11-29-27-32 11z" fill="#309e83"/><path d="M3620 2521l30-22-31-19-31 21z" fill="#2ea2b6"/><path d="M3568 2521l30-20-31-21-31 20z" fill="#2da0b5"/><path d="M3672 2519l30-23-32-19-30 23z" fill="#2fa4b6"/><path d="M3515 2519l31-18-31-22-31 19z" fill="#2d9fb1"/><path d="M3176 2447l32-10-29-27-33 9z" fill="#319a78"/><path d="M3724 2515l30-24-32-18-30 24z" fill="#30a7b4"/><path d="M3463 2516l31-18-31-22-31 17z" fill="#2d9eac"/><path d="M3777 2509l29-26-32-16-30 25z" fill="#31aab0"/><path d="M3411 2510l31-16-30-23-32 15z" fill="#2d9da6"/><path d="M3829 2501l29-27-32-16-30 27z" fill="#32aeab"/><path d="M3359 2502l31-14-30-24-32 14z" fill="#2d9c9e"/><path d="M3306 2493l32-14-30-25-32 13z" fill="#2e9c95"/><path d="M3254 2481l32-12-30-26-32 12z" fill="#2e9c8a"/><path d="M3201 2467l32-10-29-26-33 9z" fill="#2f9a7f"/><path d="M3594 2536l31-20-32-20-30 20z" fill="#2c9ab8"/><path d="M3647 2536l30-22-32-19-30 21z" fill="#2d9db9"/><path d="M3542 2535l31-19-32-21-31 19z" fill="#2c9ab5"/><path d="M3699 2533l30-23-32-19-30 23z" fill="#2da1b9"/><path d="M3489 2532l31-17-31-22-31 17z" fill="#2b9ab1"/><path d="M3751 2528l30-24-32-18-30 25z" fill="#2fa4b6"/><path d="M3437 2527l31-16-31-23-31 16z" fill="#2b99ab"/><path d="M3804 2522l30-26-33-17-30 26z" fill="#30a7b2"/><path d="M3148 2452l33-9-29-27-33 8z" fill="#309673"/><path d="M3384 2520l32-14-31-24-31 14z" fill="#2c99a3"/><path d="M3856 2513l30-27-33-16-29 27z" fill="#32abac"/><path d="M3332 2511l32-13-31-24-32 13z" fill="#2c989a"/><path d="M3279 2501l32-12-30-26-32 12z" fill="#2c9891"/><path d="M3226 2488l33-11-30-26-32 10z" fill="#2d9886"/><path d="M3621 2551l30-20-31-20-31 21z" fill="#2b90b9"/><path d="M3673 2550l31-22-32-19-31 22z" fill="#2c94ba"/><path d="M3568 2551l31-19-32-21-30 19z" fill="#2b8fb7"/><path d="M3726 2546l30-23-32-18-30 23z" fill="#2d9bba"/><path d="M3516 2549l31-18-32-22-31 18z" fill="#2a90b3"/><path d="M3173 2473l33-9-29-27-33 9z" fill="#2e957a"/><path d="M3779 2541l30-25-33-17-30 25z" fill="#2ea1b8"/><path d="M3463 2544l31-16-31-22-31 16z" fill="#2a93af"/><path d="M3831 2534l30-27-33-16-29 26z" fill="#2fa5b3"/><path d="M3410 2538l32-15-31-23-31 15z" fill="#2a95a9"/><path d="M3884 2524l30-28-33-15-30 28z" fill="#31a9ad"/><path d="M3120 2456l33-7-29-28-33 7z" fill="#2f916d"/><path d="M3358 2530l31-14-30-24-32 14z" fill="#2a94a0"/><path d="M3305 2520l32-13-30-24-32 12z" fill="#2b9497"/><path d="M3252 2508l32-11-30-26-32 11z" fill="#2b948c"/><path d="M3648 2566l30-21-32-19-30 21z" fill="#2a87ba"/><path d="M3595 2566l31-20-32-19-31 19z" fill="#2a85b8"/><path d="M3199 2494l33-10-30-27-33 10z" fill="#2c9481"/><path d="M3700 2564l31-23-33-18-30 22z" fill="#2b8cba"/><path d="M3542 2565l31-19-31-21-31 18z" fill="#2985b5"/><path d="M3753 2559l30-24-32-17-30 24z" fill="#2c94ba"/><path d="M3489 2561l32-17-32-22-31 17z" fill="#2987b1"/><path d="M3806 2553l30-25-33-16-30 25z" fill="#2d9eb9"/><path d="M3436 2556l32-16-31-23-32 16z" fill="#298cac"/><path d="M3146 2477l33-8-30-27-33 8z" fill="#2d9174"/><path d="M3859 2545l30-27-33-15-30 26z" fill="#2ea3b4"/><path d="M3384 2548l31-14-30-24-32 14z" fill="#2991a6"/><path d="M3912 2535l30-28-34-15-29 28z" fill="#30a7ad"/><path d="M3331 2539l32-13-31-25-32 13z" fill="#29909c"/><path d="M3092 2459l34-6-30-28-33 6z" fill="#2f8d67"/><path d="M3278 2527l32-11-30-25-33 11z" fill="#2a9092"/><path d="M3224 2514l33-10-30-26-33 9z" fill="#2a9087"/><path d="M3622 2581l30-20-32-20-30 20z" fill="#297cb9"/><path d="M3675 2580l30-22-32-18-31 21z" fill="#297fbb"/><path d="M3569 2580l31-19-32-20-31 18z" fill="#287bb7"/><path d="M3728 2577l30-23-33-18-30 23z" fill="#2a85bb"/><path d="M3516 2577l31-17-31-21-32 17z" fill="#287cb3"/><path d="M3781 2572l30-24-33-17-30 24z" fill="#2b8dba"/><path d="M3171 2498l33-8-30-27-33 8z" fill="#2b907b"/><path d="M3463 2572l31-15-31-23-31 16z" fill="#2880ae"/><path d="M3834 2565l30-26-33-15-30 25z" fill="#2c98b8"/><path d="M3410 2566l32-15-31-23-32 14z" fill="#2886a8"/><path d="M3887 2556l30-27-34-15-29 27z" fill="#2da1b4"/><path d="M3357 2557l32-13-31-24-32 13z" fill="#288da2"/><path d="M3118 2481l33-7-29-28-34 7z" fill="#2d8c6e"/><path d="M3940 2545l30-28-34-14-29 28z" fill="#2fa5ad"/><path d="M3303 2546l33-11-31-25-32 11z" fill="#288c97"/><path d="M3064 2462l34-6-29-29-34 6z" fill="#2e8961"/><path d="M3250 2534l33-11-30-25-33 10z" fill="#298d8d"/><path d="M3649 2595l31-20-33-19-30 20z" fill="#2873ba"/><path d="M3596 2595l31-19-32-20-31 19z" fill="#2771b8"/><path d="M3702 2594l30-22-32-18-30 21z" fill="#2977bb"/><path d="M3543 2593l31-18-32-20-31 17z" fill="#2772b4"/><path d="M3197 2519l33-9-30-26-33 8z" fill="#2a8d81"/><path d="M3755 2590l30-23-32-18-31 23z" fill="#297ebb"/><path d="M3489 2589l32-16-32-22-31 16z" fill="#2775b0"/><path d="M3808 2584l30-25-33-16-30 25z" fill="#2a87ba"/><path d="M3436 2583l32-15-31-22-32 14z" fill="#277baa"/><path d="M3862 2576l30-26-34-15-29 26z" fill="#2b93b8"/><path d="M3143 2502l33-7-29-27-34 6z" fill="#2b8c75"/><path d="M3383 2575l32-13-31-24-32 13z" fill="#2782a4"/><path d="M3915 2567l30-28-34-14-29 27z" fill="#2d9fb4"/><path d="M3329 2565l33-12-31-24-32 11z" fill="#27899d"/><path d="M3969 2555l29-29-34-13-29 28z" fill="#2fa3ad"/><path d="M3089 2483l34-5-29-29-34 6z" fill="#2c8868"/><path d="M3276 2553l33-11-31-25-32 10z" fill="#278992"/><path d="M3035 2463l34-5-29-29-34 4z" fill="#2d855b"/><path d="M3222 2539l33-9-30-26-33 9z" fill="#288987"/><path d="M3676 2609l31-21-33-18-30 21z" fill="#276bbb"/><path d="M3623 2610l31-20-33-19-30 19z" fill="#2769b8"/><path d="M3730 2607l30-22-33-18-30 22z" fill="#2870bc"/><path d="M3569 2608l32-18-32-20-32 18z" fill="#2669b6"/><path d="M3783 2602l30-23-33-17-30 23z" fill="#2978bb"/><path d="M3516 2605l31-17-31-21-32 17z" fill="#266bb2"/><path d="M3836 2596l30-25-33-16-30 25z" fill="#2a82ba"/><path d="M3463 2600l31-15-31-23-32 15z" fill="#2670ac"/><path d="M3169 2523l33-8-30-27-33 8z" fill="#298a7b"/><path d="M3890 2587l30-26-34-15-30 26z" fill="#2b8fb7"/><path d="M3409 2592l32-13-31-23-32 13z" fill="#2676a6"/><path d="M3944 2577l29-28-34-14-29 28z" fill="#2c9db4"/><path d="M3356 2583l32-12-31-24-32 12z" fill="#257ea0"/><path d="M3115 2505l33-6-29-28-34 6z" fill="#2a886e"/><path d="M3997 2565l30-30-34-12-30 28z" fill="#2ea2ac"/><path d="M3302 2572l33-11-31-25-33 11z" fill="#268597"/><path d="M3061 2485l34-5-30-28-33 4z" fill="#2b8461"/><path d="M3248 2559l33-10-30-25-33 9z" fill="#26868c"/><path d="M3650 2624l31-20-33-19-30 20z" fill="#2563b7"/><path d="M3704 2623l30-21-33-18-30 21z" fill="#2666b9"/><path d="M3597 2623l31-18-33-20-31 18z" fill="#2562b4"/><path d="M3757 2620l31-23-33-17-31 22z" fill="#276bbb"/><path d="M3543 2621l31-17-32-21-31 17z" fill="#2563b1"/><path d="M3811 2614l30-24-33-16-30 24z" fill="#2873bb"/><path d="M3194 2543l34-8-30-26-34 7z" fill="#278680"/><path d="M3489 2616l32-15-32-22-31 15z" fill="#2565ae"/><path d="M3007 2463l34-3-29-30-34 3z" fill="#2d8154"/><path d="M3865 2607l29-25-33-16-30 26z" fill="#297eb9"/><path d="M3436 2610l32-15-32-22-32 14z" fill="#256ba8"/><path d="M3918 2598l30-27-34-14-29 26z" fill="#2a8cb7"/><path d="M3140 2526l34-7-30-27-33 6z" fill="#288775"/><path d="M3382 2601l32-13-31-23-32 12z" fill="#2473a2"/><path d="M3972 2587l30-29-34-13-30 28z" fill="#2c9cb3"/><path d="M3328 2590l33-11-31-24-33 11z" fill="#257c9a"/><path d="M4026 2573l29-29-34-12-29 29z" fill="#2ea1ab"/><path d="M3086 2507l34-5-29-29-34 5z" fill="#2a8367"/><path d="M3274 2578l33-10-30-25-33 9z" fill="#258291"/><path d="M3678 2638l30-20-32-19-31 20z" fill="#245db5"/><path d="M3624 2638l31-19-33-19-31 18z" fill="#245bb3"/><path d="M3731 2636l31-22-33-17-31 21z" fill="#2561b7"/><path d="M3220 2563l33-8-30-26-33 8z" fill="#268286"/><path d="M3032 2485l34-3-29-29-34 3z" fill="#2b805a"/><path d="M3570 2636l31-17-32-21-31 18z" fill="#235cb0"/><path d="M3785 2632l30-23-33-17-30 23z" fill="#2666b9"/><path d="M3516 2632l32-16-32-21-32 16z" fill="#235ead"/><path d="M3839 2626l30-25-33-15-30 24z" fill="#286fbb"/><path d="M3462 2626l32-14-31-22-32 14z" fill="#2461aa"/><path d="M3893 2618l30-26-34-15-30 26z" fill="#297bb9"/><path d="M3166 2547l34-7-30-27-34 6z" fill="#27837a"/><path d="M3409 2618l32-13-32-23-32 13z" fill="#2468a4"/><path d="M2977 2462l35-2-29-30-35 2z" fill="#2d7d4d"/><path d="M3947 2608l30-27-34-14-30 27z" fill="#2a8ab6"/><path d="M3355 2608l32-11-31-24-32 11z" fill="#24719d"/><path d="M4001 2596l30-29-35-12-29 28z" fill="#2b9ab2"/><path d="M3112 2528l34-5-30-28-34 5z" fill="#28836e"/><path d="M3301 2597l32-11-30-24-33 10z" fill="#247b95"/><path d="M4055 2582l30-30-35-12-29 30z" fill="#2ea0a9"/><path d="M3057 2507l35-4-30-28-34 3z" fill="#297f60"/><path d="M3246 2583l34-9-31-25-33 8z" fill="#247f8b"/><path d="M3651 2652l31-19-32-19-31 19z" fill="#2256b1"/><path d="M3705 2651l31-20-33-18-31 20z" fill="#2358b4"/><path d="M3597 2651l32-18-33-20-31 18z" fill="#2255af"/><path d="M3759 2648l31-22-33-16-31 21z" fill="#245cb6"/><path d="M3543 2648l32-17-32-20-32 16z" fill="#2257ac"/><path d="M3813 2644l31-24-34-16-30 23z" fill="#2563b8"/><path d="M3192 2567l34-7-31-27-33 7z" fill="#25807f"/><path d="M3489 2642l32-14-32-22-31 15z" fill="#225aa8"/><path d="M3867 2637l30-25-33-15-30 25z" fill="#276bba"/><path d="M3003 2484l34-2-29-29-34 2z" fill="#2b7c53"/><path d="M3435 2635l32-13-31-22-32 13z" fill="#235ea5"/><path d="M3922 2628l29-26-34-14-29 26z" fill="#2878b8"/><path d="M3381 2626l33-12-32-23-32 12z" fill="#23669f"/><path d="M3138 2549l33-6-29-27-34 5z" fill="#268173"/><path d="M3976 2617l29-27-34-13-29 27z" fill="#2a88b5"/><path d="M3327 2615l33-10-31-25-33 10z" fill="#237097"/><path d="M2948 2460l35-1-29-30-35 0z" fill="#2d7948"/><path d="M4030 2605l30-29-35-12-29 28z" fill="#2b99b1"/><path d="M3083 2529l34-4-29-28-35 3z" fill="#277e66"/><path d="M3273 2602l33-9-31-25-33 8z" fill="#237b8f"/><path d="M4085 2590l29-31-35-11-29 30z" fill="#2e9fa7"/><path d="M3679 2666l31-20-33-18-31 19z" fill="#2150b0"/><path d="M3733 2664l31-21-33-17-31 20z" fill="#2253b2"/><path d="M3625 2665l31-18-33-19-31 18z" fill="#214fad"/><path d="M3787 2660l31-22-34-16-30 22z" fill="#2359b4"/><path d="M3571 2663l31-17-32-20-32 16z" fill="#2150aa"/><path d="M3218 2587l34-8-31-26-33 7z" fill="#247c84"/><path d="M3028 2507l35-3-29-29-35 3z" fill="#297b59"/><path d="M3842 2655l30-24-34-15-30 23z" fill="#2560b6"/><path d="M3516 2658l32-15-32-21-32 15z" fill="#2153a7"/><path d="M3896 2647l30-25-34-14-30 25z" fill="#2669b8"/><path d="M3462 2652l32-14-31-22-33 14z" fill="#2157a4"/><path d="M3164 2569l33-6-30-26-33 5z" fill="#257d78"/><path d="M3950 2638l30-27-34-13-30 26z" fill="#2877b6"/><path d="M3408 2643l32-12-31-23-33 12z" fill="#225da0"/><path d="M2973 2483l35-1-29-30-35 1z" fill="#2b784c"/><path d="M4005 2626l29-28-34-12-30 27z" fill="#2987b3"/><path d="M3354 2633l32-11-31-24-33 11z" fill="#226699"/><path d="M3109 2550l34-4-30-28-34 4z" fill="#267e6c"/><path d="M4060 2613l29-29-35-12-29 29z" fill="#2b99af"/><path d="M3299 2620l33-9-31-24-33 9z" fill="#227091"/><path d="M2918 2456l35 1-28-31-36 0z" fill="#2d7543"/><path d="M4114 2597l30-30-36-11-29 30z" fill="#2e9fa5"/><path d="M3054 2529l34-3-29-29-35 3z" fill="#277a5f"/><path d="M3245 2606l33-8-31-25-33 7z" fill="#227989"/><path d="M3707 2679l31-20-33-18-31 20z" fill="#204caf"/><path d="M3653 2679l31-18-33-19-31 18z" fill="#204aac"/><path d="M3761 2676l31-21-33-17-31 21z" fill="#2150b1"/><path d="M3598 2677l32-17-33-19-31 16z" fill="#204aa9"/><path d="M3816 2672l30-23-34-15-30 22z" fill="#2355b3"/><path d="M3544 2674l32-16-33-20-32 15z" fill="#204ca6"/><path d="M3870 2666l30-24-34-15-30 24z" fill="#245db5"/><path d="M3489 2668l32-14-32-22-32 14z" fill="#2050a3"/><path d="M3190 2589l33-6-30-26-34 6z" fill="#237a7d"/><path d="M3925 2658l30-26-35-14-29 25z" fill="#2667b7"/><path d="M2999 2505l35-1-29-29-35 1z" fill="#297752"/><path d="M3435 2660l32-12-32-23-32 13z" fill="#20559f"/><path d="M3980 2647l29-27-34-13-30 27z" fill="#2876b5"/><path d="M3380 2650l33-11-31-23-33 11z" fill="#215c9b"/><path d="M3135 2571l34-5-30-27-34 4z" fill="#247b71"/><path d="M4034 2635l30-28-35-12-29 28z" fill="#2987b2"/><path d="M3326 2639l33-10-31-24-33 9z" fill="#216693"/><path d="M2943 2480l36 0-29-30-35-1z" fill="#2b7546"/><path d="M4089 2621l30-30-36-11-29 29z" fill="#2b98ad"/><path d="M3080 2550l34-3-29-28-35 3z" fill="#257a64"/><path d="M3271 2625l33-8-31-25-33 8z" fill="#21718c"/><path d="M3681 2692l31-18-34-18-31 18z" fill="#1f45ab"/><path d="M3735 2691l31-20-33-17-31 20z" fill="#2048ad"/><path d="M4144 2604l29-31-35-10-29 31z" fill="#2e9ea3"/><path d="M3626 2691l31-17-33-19-31 17z" fill="#1e45a8"/><path d="M3790 2688l30-21-33-17-31 22z" fill="#214cb0"/><path d="M3571 2688l32-15-33-20-31 15z" fill="#1e46a5"/><path d="M3844 2683l31-23-34-15-31 23z" fill="#2253b2"/><path d="M3216 2609l34-7-31-25-34 6z" fill="#227681"/><path d="M2888 2452l36 2-29-31-36-2z" fill="#2d723d"/><path d="M3517 2683l32-14-33-21-32 14z" fill="#1f49a1"/><path d="M3025 2527l34-1-29-29-35 1z" fill="#277757"/><path d="M3899 2676l30-24-34-15-30 25z" fill="#245cb4"/><path d="M3462 2677l32-13-32-22-32 12z" fill="#1f4e9e"/><path d="M3954 2667l30-26-35-13-30 25z" fill="#2666b6"/><path d="M3161 2591l34-5-30-27-34 5z" fill="#237775"/><path d="M3407 2668l33-12-32-23-32 12z" fill="#20549a"/><path d="M4009 2656l30-27-35-13-30 27z" fill="#2775b4"/><path d="M2969 2503l35-1-29-29-35 0z" fill="#29744b"/><path d="M3352 2656l33-10-31-23-33 10z" fill="#205c95"/><path d="M4064 2643l29-29-35-11-29 28z" fill="#2988b0"/><path d="M3106 2571l34-3-30-28-34 3z" fill="#24796a"/><path d="M3298 2643l33-8-31-25-34 9z" fill="#20678d"/><path d="M4119 2628l29-30-35-11-29 30z" fill="#2b98aa"/><path d="M2913 2476l36 1-29-30-35-2z" fill="#2b7141"/><path d="M3709 2705l31-19-34-17-31 18z" fill="#1e42a9"/><path d="M3654 2705l31-18-33-18-31 17z" fill="#1e40a7"/><path d="M3763 2704l31-21-33-17-31 21z" fill="#1f44ac"/><path d="M3243 2628l33-7-31-25-33 7z" fill="#207386"/><path d="M3050 2549l35-2-29-28-35 2z" fill="#25765d"/><path d="M3599 2703l32-16-33-20-32 16z" fill="#1d41a4"/><path d="M3818 2700l31-22-34-16-31 22z" fill="#204aae"/><path d="M4175 2611l29-32-36-9-29 31z" fill="#2e9ea0"/><path d="M3544 2699l32-15-32-20-32 14z" fill="#1d43a0"/><path d="M3873 2694l31-23-35-15-30 23z" fill="#2151b0"/><path d="M3489 2692l33-13-33-21-32 13z" fill="#1e489d"/><path d="M3928 2686l30-25-34-13-30 24z" fill="#235ab2"/><path d="M3187 2611l34-5-30-27-34 6z" fill="#21747a"/><path d="M3434 2684l33-12-32-22-32 12z" fill="#1e4d99"/><path d="M3983 2676l30-26-35-13-30 26z" fill="#2666b4"/><path d="M2857 2447l36 3-28-32-36-3z" fill="#2d6e38"/><path d="M2995 2525l35 0-29-30-36 1z" fill="#277350"/><path d="M3379 2674l33-11-31-23-33 10z" fill="#1f5496"/><path d="M4039 2664l29-27-35-12-30 27z" fill="#2776b2"/><path d="M3132 2592l34-4-30-27-34 4z" fill="#22756e"/><path d="M3324 2662l34-9-32-24-33 8z" fill="#1f5d8f"/><path d="M4094 2650l29-29-35-10-30 28z" fill="#2989ae"/><path d="M2939 2499l36 1-29-30-36-1z" fill="#297044"/><path d="M3076 2571l35-3-30-28-34 2z" fill="#247562"/><path d="M3269 2647l34-7-31-25-34 7z" fill="#206987"/><path d="M4149 2635l30-31-36-10-29 30z" fill="#2b98a8"/><path d="M3737 2718l31-20-34-17-31 20z" fill="#1e40a7"/><path d="M3682 2718l31-18-33-18-31 18z" fill="#1d3ea4"/><path d="M3792 2715l31-21-34-16-31 21z" fill="#1e42ab"/><path d="M3627 2717l32-17-33-19-32 17z" fill="#1d3ea2"/><path d="M3847 2711l31-23-35-15-30 22z" fill="#2048ad"/><path d="M3572 2713l32-15-33-20-32 15z" fill="#1c3e9f"/><path d="M3902 2704l31-24-35-14-30 24z" fill="#2150af"/><path d="M3517 2708l32-14-32-21-33 14z" fill="#1d429c"/><path d="M3214 2631l34-6-31-26-34 6z" fill="#20717e"/><path d="M4205 2616l29-31-36-9-29 31z" fill="#2e9e9d"/><path d="M2883 2471l36 2-29-31-36-2z" fill="#2b6d3c"/><path d="M3021 2547l35-1-30-28-35 0z" fill="#257255"/><path d="M3958 2696l30-26-35-13-30 25z" fill="#235ab1"/><path d="M3462 2700l32-12-32-21-32 11z" fill="#1d4798"/><path d="M4013 2685l30-27-35-12-30 26z" fill="#2566b3"/><path d="M3407 2691l32-11-31-22-33 10z" fill="#1e4d94"/><path d="M3158 2612l35-4-31-27-34 4z" fill="#217272"/><path d="M4068 2672l30-28-35-11-30 28z" fill="#2777b0"/><path d="M2965 2522l35 0-29-29-35-1z" fill="#276f49"/><path d="M3351 2679l34-9-32-24-33 9z" fill="#1f5491"/><path d="M2826 2440l37 4-28-31-37-5z" fill="#2d6b33"/><path d="M3103 2592l34-3-30-28-34 3z" fill="#227466"/><path d="M4124 2658l29-30-35-10-30 29z" fill="#298bac"/><path d="M3296 2665l34-7-32-25-33 8z" fill="#1f6089"/><path d="M3710 2731l32-18-34-18-31 18z" fill="#1d3da2"/><path d="M3766 2730l31-20-34-16-31 19z" fill="#1e3ea5"/><path d="M3655 2730l32-16-34-19-31 17z" fill="#1d3c9f"/><path d="M4180 2641l29-31-36-9-29 30z" fill="#2b98a4"/><path d="M3821 2727l31-22-35-15-30 21z" fill="#1e41a9"/><path d="M2909 2494l36 2-29-30-36-3z" fill="#296d3f"/><path d="M3600 2728l32-16-33-19-32 15z" fill="#1c3b9d"/><path d="M3241 2650l33-6-31-26-33 6z" fill="#1f6c81"/><path d="M3876 2721l31-22-35-15-30 22z" fill="#1f46ac"/><path d="M3047 2569l35-1-30-29-35 1z" fill="#24715a"/><path d="M3545 2723l32-14-33-20-32 13z" fill="#1b3c9b"/><path d="M3932 2714l30-24-35-14-30 24z" fill="#214fae"/><path d="M3489 2716l33-12-33-22-32 13z" fill="#1c4197"/><path d="M4236 2622l29-32-37-9-29 32z" fill="#2e9f9a"/><path d="M3987 2705l30-26-35-13-30 26z" fill="#235ab0"/><path d="M3185 2632l34-5-31-26-34 5z" fill="#206f76"/><path d="M3434 2707l33-11-32-22-33 11z" fill="#1c4693"/><path d="M2852 2464l37 4-29-31-36-4z" fill="#2b6a37"/><path d="M2991 2544l35 0-29-29-36 0z" fill="#256f4d"/><path d="M4043 2693l30-27-36-11-30 26z" fill="#2567b2"/><path d="M3379 2696l33-9-32-23-33 9z" fill="#1d4d90"/><path d="M3129 2612l35-3-31-27-34 3z" fill="#21706b"/><path d="M4099 2680l29-29-36-10-29 28z" fill="#2779ae"/><path d="M3323 2683l33-8-31-23-33 7z" fill="#1e578a"/><path d="M2934 2517l36 2-29-30-36-2z" fill="#276c42"/><path d="M4155 2664l29-30-36-9-30 29z" fill="#298eaa"/><path d="M2795 2432l37 6-28-32-37-6z" fill="#2d682f"/><path d="M3073 2590l35-2-30-27-35 1z" fill="#22715f"/><path d="M3267 2668l34-6-31-25-34 6z" fill="#1e6283"/><path d="M3739 2744l31-19-34-17-31 18z" fill="#1d3ba0"/><path d="M3684 2744l31-18-34-18-31 17z" fill="#1c3a9d"/><path d="M3795 2742l30-21-34-16-31 20z" fill="#1d3da4"/><path d="M3628 2742l32-16-33-19-32 15z" fill="#1c399b"/><path d="M3850 2737l31-21-35-15-30 21z" fill="#1e40a7"/><path d="M3573 2738l32-15-33-20-32 15z" fill="#1b3a98"/><path d="M4211 2646l29-31-37-8-29 30z" fill="#2b98a1"/><path d="M3906 2731l30-23-35-14-30 23z" fill="#1f45ab"/><path d="M3517 2731l33-12-33-21-33 13z" fill="#1b3b96"/><path d="M3212 2651l34-5-31-25-34 4z" fill="#1f6c7a"/><path d="M3961 2723l30-24-35-13-30 24z" fill="#214fad"/><path d="M2878 2488l36 4-28-31-37-4z" fill="#296939"/><path d="M3017 2566l35 0-29-29-36 0z" fill="#246e52"/><path d="M3462 2723l32-11-32-22-33 11z" fill="#1b4192"/><path d="M4017 2713l30-26-35-12-30 26z" fill="#235baf"/><path d="M4267 2627l29-33-37-7-29 32z" fill="#2f9f96"/><path d="M3406 2713l33-10-32-22-33 9z" fill="#1c478f"/><path d="M3156 2632l34-3-30-27-35 3z" fill="#206d6e"/><path d="M4073 2701l30-28-36-11-30 27z" fill="#2569b0"/><path d="M3350 2701l34-8-32-24-34 8z" fill="#1d4f8b"/><path d="M2960 2540l36 1-29-29-36-2z" fill="#256b46"/><path d="M4129 2686l29-28-36-10-29 28z" fill="#277cac"/><path d="M2821 2457l37 5-28-31-38-6z" fill="#2b6732"/><path d="M3099 2611l35-2-30-27-35 1z" fill="#216f63"/><path d="M3294 2687l34-7-31-24-34 6z" fill="#1d5a84"/><path d="M4185 2670l29-30-36-9-29 30z" fill="#2992a8"/><path d="M3712 2756l32-17-34-18-32 18z" fill="#1c389c"/><path d="M3768 2755l31-19-34-16-31 19z" fill="#1d3a9f"/><path d="M3657 2755l31-16-33-18-32 15z" fill="#1b3799"/><path d="M3824 2753l31-21-35-15-31 20z" fill="#1d3ca2"/><path d="M3601 2752l32-15-33-19-32 14z" fill="#1b3796"/><path d="M3879 2748l31-22-35-15-30 22z" fill="#1e3fa6"/><path d="M2904 2511l36 4-29-31-36-3z" fill="#27693c"/><path d="M3238 2670l35-5-32-25-34 5z" fill="#1e667c"/><path d="M3545 2746l33-13-33-20-33 13z" fill="#1a3894"/><path d="M3935 2741l31-24-36-13-30 23z" fill="#1f45a9"/><path d="M3043 2588l35-1-29-28-36 0z" fill="#226d57"/><path d="M4242 2652l29-32-37-8-29 31z" fill="#2c989e"/><path d="M2764 2423l37 7-28-32-37-7z" fill="#2e642b"/><path d="M3489 2739l33-12-33-21-32 12z" fill="#1a3b91"/><path d="M3991 2732l30-25-35-12-30 24z" fill="#2150ac"/><path d="M3182 2652l35-4-31-26-34 4z" fill="#1e6a72"/><path d="M3434 2729l33-10-33-22-33 10z" fill="#1b418e"/><path d="M4047 2721l30-26-36-12-30 26z" fill="#235cae"/><path d="M4298 2631l29-33-37-7-29 33z" fill="#2fa092"/><path d="M2986 2562l36 1-29-29-36-1z" fill="#246a4b"/><path d="M2847 2481l36 5-28-31-37-5z" fill="#2a6634"/><path d="M3378 2718l33-9-32-23-33 9z" fill="#1c488a"/><path d="M4103 2708l30-28-36-10-30 27z" fill="#256bae"/><path d="M3126 2631l35-2-30-27-35 2z" fill="#206c67"/><path d="M3322 2704l33-7-31-24-34 7z" fill="#1d5185"/><path d="M4160 2693l29-29-36-10-30 29z" fill="#277faa"/><path d="M2930 2534l36 3-29-30-37-3z" fill="#26683f"/><path d="M3741 2768l31-18-34-16-31 17z" fill="#1c379a"/><path d="M3797 2767l31-20-34-15-32 19z" fill="#1c399d"/><path d="M3685 2768l32-17-34-17-32 16z" fill="#1b3697"/><path d="M2789 2448l38 7-28-32-38-7z" fill="#2c642d"/><path d="M3265 2689l35-6-32-25-34 6z" fill="#1d5d7e"/><path d="M3853 2763l31-21-35-14-31 20z" fill="#1d3ba1"/><path d="M3069 2609l36-1-30-28-36 1z" fill="#216c5b"/><path d="M4216 2676l29-31-36-8-29 30z" fill="#2992a5"/><path d="M3629 2765l32-15-33-18-32 14z" fill="#1b3694"/><path d="M3909 2758l31-23-36-14-30 22z" fill="#1d3fa5"/><path d="M3573 2761l33-14-34-19-32 13z" fill="#1a3692"/><path d="M3965 2750l30-24-35-13-30 24z" fill="#1f46a8"/><path d="M3517 2754l33-12-33-21-33 12z" fill="#1a3790"/><path d="M3209 2671l35-4-31-26-35 4z" fill="#1d6876"/><path d="M4273 2656l29-31-37-8-29 31z" fill="#2c999a"/><path d="M4021 2740l30-25-35-12-30 25z" fill="#2151aa"/><path d="M3461 2745l33-10-32-22-33 11z" fill="#1a3c8d"/><path d="M2872 2504l37 5-28-31-37-4z" fill="#286537"/><path d="M3013 2584l36 1-30-29-36-1z" fill="#226a4f"/><path d="M4078 2728l29-26-36-11-29 26z" fill="#235ead"/><path d="M2732 2413l38 8-28-32-38-9z" fill="#305f28"/><path d="M3405 2735l34-10-33-22-33 9z" fill="#1b4389"/><path d="M3153 2651l35-2-31-27-35 3z" fill="#1e696a"/><path d="M4134 2715l30-28-37-10-29 27z" fill="#256eac"/><path d="M3349 2722l34-8-32-23-34 7z" fill="#1c4a85"/><path d="M2956 2557l36 2-29-29-37-3z" fill="#246743"/><path d="M2815 2472l37 7-28-32-37-6z" fill="#2a632f"/><path d="M4191 2699l29-30-37-9-29 29z" fill="#2783a8"/><path d="M3096 2629l35-1-30-27-35 1z" fill="#1f6a5f"/><path d="M3293 2707l34-6-32-24-34 5z" fill="#1c557f"/><path d="M3770 2780l32-18-35-17-31 19z" fill="#1c3699"/><path d="M3714 2780l32-17-35-17-31 17z" fill="#1b3495"/><path d="M3826 2778l31-20-34-15-31 19z" fill="#1c389c"/><path d="M3658 2779l32-16-34-18-32 15z" fill="#1a3493"/><path d="M3883 2773l30-21-35-14-31 21z" fill="#1d3ba0"/><path d="M3602 2775l32-14-34-19-32 13z" fill="#1a3490"/><path d="M4248 2681l29-31-37-8-29 30z" fill="#2a92a1"/><path d="M3939 2767l30-23-35-13-31 22z" fill="#1d3fa4"/><path d="M3546 2769l32-13-33-20-33 12z" fill="#19358e"/><path d="M3236 2690l35-5-32-25-34 5z" fill="#1c6178"/><path d="M2898 2528l37 4-29-30-37-5z" fill="#26653a"/><path d="M3995 2759l31-25-36-12-30 24z" fill="#1f47a7"/><path d="M3039 2605l36 1-30-28-36-1z" fill="#216953"/><path d="M3489 2761l33-11-33-21-32 11z" fill="#19378c"/><path d="M2757 2438l38 8-28-32-38-8z" fill="#2d6029"/><path d="M4052 2748l30-26-36-11-30 25z" fill="#2152a9"/><path d="M3433 2751l33-10-32-22-33 10z" fill="#1a3d88"/><path d="M3180 2671l34-3-30-26-35 3z" fill="#1d666d"/><path d="M4108 2735l30-27-36-10-30 27z" fill="#2460ac"/><path d="M2982 2579l36 2-29-29-37-2z" fill="#236647"/><path d="M3377 2739l33-8-32-23-34 8z" fill="#1b4584"/><path d="M2841 2496l37 6-28-31-38-6z" fill="#286232"/><path d="M4165 2721l30-29-37-9-30 28z" fill="#2672aa"/><path d="M3123 2649l35-1-30-27-36 2z" fill="#1e6862"/><path d="M2699 2402l39 9-28-33-38-9z" fill="#315b25"/><path d="M3320 2724l34-6-32-24-34 7z" fill="#1b4d80"/><path d="M4222 2704l29-30-37-8-29 29z" fill="#2788a6"/><path d="M3743 2792l32-17-35-17-31 17z" fill="#1b3394"/><path d="M3800 2791l31-18-35-16-31 18z" fill="#1b3597"/><path d="M3687 2791l32-16-34-17-32 15z" fill="#1a3291"/><path d="M3856 2788l31-20-35-15-31 20z" fill="#1c379b"/><path d="M2925 2550l36 4-29-29-37-4z" fill="#24643c"/><path d="M3630 2788l33-14-34-19-32 14z" fill="#1a328e"/><path d="M3913 2783l30-22-35-13-31 21z" fill="#1d3b9f"/><path d="M3264 2708l34-5-32-24-34 4z" fill="#1c5979"/><path d="M3066 2626l36 0-31-27-35-1z" fill="#206857"/><path d="M2783 2463l38 7-28-31-38-8z" fill="#2a612b"/><path d="M3574 2783l33-13-34-19-32 12z" fill="#19338c"/><path d="M3969 2776l30-23-35-13-31 23z" fill="#1d3fa4"/><path d="M3518 2776l32-12-33-20-33 11z" fill="#19348a"/><path d="M4026 2767l30-25-36-12-30 24z" fill="#1f48a6"/><path d="M3207 2690l35-4-32-25-34 3z" fill="#1c6471"/><path d="M3461 2767l33-10-33-22-33 10z" fill="#193887"/><path d="M4082 2755l30-26-36-10-30 25z" fill="#2155a9"/><path d="M2867 2520l37 5-28-30-38-6z" fill="#266235"/><path d="M3009 2601l36 1-30-28-36-2z" fill="#21654b"/><path d="M3405 2755l33-8-32-22-34 8z" fill="#193f83"/><path d="M2725 2427l38 9-27-32-39-10z" fill="#2e5c26"/><path d="M4139 2742l30-27-37-10-29 27z" fill="#2463ab"/><path d="M3150 2669l35-1-31-27-35 2z" fill="#1d6566"/><path d="M3348 2742l34-7-32-23-34 6z" fill="#1a4780"/><path d="M4196 2726l30-28-37-9-30 28z" fill="#2677a7"/><path d="M2951 2573l37 3-30-29-36-4z" fill="#236340"/><path d="M2809 2487l38 7-28-31-38-7z" fill="#29602d"/><path d="M3093 2647l35-1-30-27-36 0z" fill="#1e665b"/><path d="M3773 2804l31-18-35-16-31 17z" fill="#1b3293"/><path d="M3291 2726l34-5-31-24-35 5z" fill="#1b527a"/><path d="M3716 2804l32-17-35-17-31 16z" fill="#1a3190"/><path d="M3829 2802l31-19-35-15-31 19z" fill="#1b3496"/><path d="M3659 2801l33-14-35-18-32 14z" fill="#19318d"/><path d="M3886 2798l31-20-36-15-31 21z" fill="#1c379a"/><path d="M3603 2797l32-13-34-19-32 13z" fill="#19318a"/><path d="M3943 2792l30-22-35-13-31 22z" fill="#1c3b9e"/><path d="M2666 2389l39 11-27-33-39-11z" fill="#325722"/><path d="M3546 2790l33-11-34-20-32 11z" fill="#183288"/><path d="M3999 2784l31-23-36-12-31 23z" fill="#1d3fa3"/><path d="M3234 2708l35-3-32-25-34 3z" fill="#1b5e73"/><path d="M2893 2543l37 5-28-30-38-5z" fill="#256137"/><path d="M3035 2622l36 1-30-28-36-1z" fill="#20654f"/><path d="M3489 2782l34-10-34-21-33 10z" fill="#183486"/><path d="M4056 2774l31-25-37-11-30 25z" fill="#1f4aa5"/><path d="M2751 2452l38 9-28-32-38-9z" fill="#2c5c27"/><path d="M3433 2771l33-9-33-21-33 8z" fill="#193b82"/><path d="M4114 2762l29-26-36-10-30 25z" fill="#2257a8"/><path d="M3177 2689l35-2-31-26-35 2z" fill="#1c6269"/><path d="M3376 2758l34-7-33-22-34 7z" fill="#19427f"/><path d="M4171 2748l29-28-37-9-29 27z" fill="#2467a9"/><path d="M2978 2595l36 3-29-29-37-3z" fill="#226244"/><path d="M2835 2511l38 7-29-31-37-7z" fill="#275f30"/><path d="M3120 2667l35-1-30-26-36 0z" fill="#1d645e"/><path d="M3319 2744l34-6-32-23-34 5z" fill="#1a4b7b"/><path d="M2692 2414l39 11-27-32-39-11z" fill="#305823"/><path d="M3802 2815l32-18-35-16-32 18z" fill="#1a3292"/><path d="M3745 2815l32-16-35-17-31 17z" fill="#1a308e"/><path d="M3859 2812l31-19-35-15-31 19z" fill="#1b3496"/><path d="M3689 2814l32-15-35-18-32 15z" fill="#19308b"/><path d="M3916 2808l31-21-36-14-31 21z" fill="#1c379a"/><path d="M3632 2810l32-13-34-19-32 13z" fill="#193089"/><path d="M2920 2566l37 4-29-29-38-5z" fill="#236039"/><path d="M3262 2727l34-4-31-25-35 4z" fill="#1b5774"/><path d="M3973 2801l31-22-36-13-31 22z" fill="#1c3b9e"/><path d="M3575 2804l33-12-34-19-33 12z" fill="#183186"/><path d="M3062 2643l36 1-30-28-36-1z" fill="#1f6453"/><path d="M2777 2476l38 9-28-31-38-9z" fill="#295d29"/><path d="M4030 2792l30-24-36-11-30 23z" fill="#1d41a2"/><path d="M3518 2797l33-11-33-20-34 10z" fill="#183284"/><path d="M4087 2781l30-25-36-11-30 25z" fill="#204da5"/><path d="M3204 2708l35-3-31-25-35 2z" fill="#1b606b"/><path d="M3461 2787l33-9-33-21-33 8z" fill="#183682"/><path d="M2861 2534l38 7-29-31-37-6z" fill="#255e32"/><path d="M3004 2616l37 3-30-28-37-3z" fill="#206147"/><path d="M4145 2768l30-26-38-10-29 26z" fill="#225ba7"/><path d="M3404 2775l34-8-33-22-34 7z" fill="#193d7e"/><path d="M2718 2440l39 10-28-32-39-11z" fill="#2d5824"/><path d="M3147 2686l35-1-31-26-35 1z" fill="#1c6161"/><path d="M3347 2761l34-6-33-23-34 5z" fill="#19457b"/><path d="M2946 2588l37 4-29-29-37-4z" fill="#225f3c"/><path d="M3775 2827l32-17-35-16-32 16z" fill="#1a308d"/><path d="M3832 2825l31-18-35-15-31 18z" fill="#1a3291"/><path d="M3718 2826l32-16-35-16-32 15z" fill="#192f8a"/><path d="M2803 2501l38 8-28-31-39-9z" fill="#275c2b"/><path d="M3889 2822l31-20-35-14-31 20z" fill="#1b3495"/><path d="M3089 2663l36 1-30-27-36-1z" fill="#1d6356"/><path d="M3289 2744l35-4-32-24-35 4z" fill="#1a5074"/><path d="M3661 2823l32-14-34-18-33 14z" fill="#182f87"/><path d="M3946 2817l31-22-36-13-31 21z" fill="#1b3899"/><path d="M3604 2818l32-12-34-19-32 12z" fill="#182f85"/><path d="M4004 2809l30-23-36-12-31 23z" fill="#1c3c9e"/><path d="M3547 2811l33-11-34-20-33 11z" fill="#173083"/><path d="M4061 2799l30-24-36-11-31 24z" fill="#1e44a1"/><path d="M3232 2726l35-3-32-24-35 2z" fill="#1a5c6d"/><path d="M2888 2557l38 6-29-29-38-7z" fill="#245d34"/><path d="M3489 2802l34-10-34-20-33 9z" fill="#173281"/><path d="M3031 2637l37 3-30-28-37-3z" fill="#1f614b"/><path d="M4119 2788l30-26-37-10-30 25z" fill="#2050a4"/><path d="M2744 2465l39 9-28-31-39-10z" fill="#2b5825"/><path d="M3432 2791l34-8-33-22-34 8z" fill="#18397d"/><path d="M3174 2706l36-2-32-25-35 1z" fill="#1b5f63"/><path d="M3375 2777l34-6-33-23-34 6z" fill="#19407a"/><path d="M2973 2610l37 4-30-29-37-4z" fill="#215f40"/><path d="M2829 2524l39 8-29-30-38-9z" fill="#265b2d"/><path d="M3116 2683l36 0-31-26-36-1z" fill="#1c6059"/><path d="M3317 2762l35-5-32-23-35 4z" fill="#194975"/><path d="M3805 2837l32-17-36-15-31 17z" fill="#1a2f8d"/><path d="M3748 2837l32-15-36-17-31 16z" fill="#192e89"/><path d="M3862 2835l32-18-36-15-31 19z" fill="#1a3190"/><path d="M3690 2835l33-14-35-17-32 14z" fill="#182e86"/><path d="M3920 2831l31-20-36-13-31 20z" fill="#1b3494"/><path d="M3633 2831l33-13-35-18-32 13z" fill="#182e83"/><path d="M3977 2825l31-22-37-12-30 21z" fill="#1b3899"/><path d="M2914 2580l38 5-29-29-38-6z" fill="#225c36"/><path d="M3576 2825l33-11-35-20-32 11z" fill="#172f81"/><path d="M3260 2744l35-3-32-24-35 3z" fill="#1a556e"/><path d="M4035 2817l30-23-37-12-30 23z" fill="#1c3d9e"/><path d="M3058 2658l37 2-31-27-36-2z" fill="#1e604e"/><path d="M2770 2489l39 10-28-32-39-10z" fill="#285927"/><path d="M3518 2816l33-9-33-20-34 9z" fill="#17307f"/><path d="M4092 2806l31-24-37-11-31 24z" fill="#1e47a0"/><path d="M3461 2806l33-8-33-21-34 8z" fill="#17357c"/><path d="M3202 2724l35-1-31-25-36 1z" fill="#1a5c66"/><path d="M3000 2631l37 4-30-28-37-4z" fill="#1f5e43"/><path d="M2856 2547l38 8-29-30-38-8z" fill="#245a2f"/><path d="M3403 2793l34-6-33-22-34 6z" fill="#183c79"/><path d="M3144 2702l36 0-31-25-36-1z" fill="#1b5e5b"/><path d="M3345 2779l35-6-33-22-34 4z" fill="#194476"/><path d="M3835 2848l32-18-36-15-32 18z" fill="#192f8c"/><path d="M3778 2849l31-17-35-15-32 15z" fill="#192e88"/><path d="M3893 2845l31-19-36-14-31 19z" fill="#1a3290"/><path d="M3720 2847l32-14-35-17-32 14z" fill="#182d85"/><path d="M2941 2602l38 5-30-29-37-5z" fill="#215c38"/><path d="M3950 2840l31-20-36-13-31 20z" fill="#1b3594"/><path d="M3662 2844l33-13-35-18-32 13z" fill="#182d82"/><path d="M2797 2513l38 9-28-31-39-9z" fill="#265928"/><path d="M3288 2762l34-4-32-24-35 4z" fill="#194f6f"/><path d="M3085 2678l37 2-31-27-36-2z" fill="#1c5f51"/><path d="M4008 2833l31-22-37-12-31 22z" fill="#1b3999"/><path d="M3605 2838l33-11-35-19-33 11z" fill="#172e80"/><path d="M4066 2824l30-24-37-10-30 23z" fill="#1c3f9d"/><path d="M3547 2831l33-10-34-20-33 10z" fill="#162f7e"/><path d="M3229 2743l36-2-32-25-35 2z" fill="#195a68"/><path d="M3489 2821l34-9-34-20-33 8z" fill="#16317c"/><path d="M2882 2570l38 7-29-29-38-8z" fill="#235a31"/><path d="M3027 2652l37 3-30-27-37-4z" fill="#1e5b45"/><path d="M3432 2809l34-7-34-21-34 6z" fill="#173878"/><path d="M3171 2721l36 0-31-25-36 0z" fill="#1a5a5c"/><path d="M3374 2795l34-5-33-23-34 5z" fill="#183f75"/><path d="M2968 2623l38 5-30-28-38-5z" fill="#1f593a"/><path d="M2823 2536l39 9-29-30-39-9z" fill="#25582a"/><path d="M3113 2698l36 1-31-26-36-2z" fill="#1b5a51"/><path d="M3808 2859l31-16-35-15-32 16z" fill="#192e88"/><path d="M3866 2858l31-18-36-14-32 17z" fill="#192f8b"/><path d="M3750 2859l32-15-35-17-33 15z" fill="#182d84"/><path d="M3316 2779l35-4-33-23-35 3z" fill="#18486e"/><path d="M3923 2854l32-19-37-14-31 19z" fill="#1a3290"/><path d="M3692 2856l32-13-35-18-32 13z" fill="#172c81"/><path d="M3981 2848l31-21-37-12-30 21z" fill="#1b3694"/><path d="M3634 2851l33-12-35-18-32 12z" fill="#172d7f"/><path d="M4040 2840l30-22-37-11-31 22z" fill="#1b3a99"/><path d="M3576 2844l34-10-35-19-33 10z" fill="#162e7c"/><path d="M3257 2761l36-3-32-24-36 2z" fill="#185265"/><path d="M2909 2593l38 6-29-29-38-7z" fill="#215632"/><path d="M3054 2672l37 3-30-27-37-3z" fill="#1c5846"/><path d="M3518 2835l34-9-34-20-33 9z" fill="#162f7a"/><path d="M3460 2824l34-7-33-21-34 7z" fill="#163477"/><path d="M3199 2740l36-1-32-25-36 1z" fill="#18555b"/><path d="M3402 2811l35-6-33-22-35 6z" fill="#173a72"/><path d="M2995 2645l38 4-30-28-38-5z" fill="#1d553b"/><path d="M2850 2560l39 8-29-30-39-9z" fill="#22542b"/><path d="M3140 2717l37 1-31-25-37-2z" fill="#195551"/><path d="M3344 2796l35-5-33-22-35 3z" fill="#17416c"/><path d="M3838 2869l32-16-36-15-32 16z" fill="#192e87"/><path d="M3780 2870l32-16-36-15-32 15z" fill="#182c84"/><path d="M3896 2867l32-18-37-14-31 18z" fill="#19308b"/><path d="M3722 2868l32-14-35-17-32 14z" fill="#172c80"/><path d="M3954 2863l32-20-37-13-31 20z" fill="#1a338f"/><path d="M3664 2864l33-13-35-17-33 12z" fill="#172c7e"/><path d="M2936 2615l38 6-29-29-38-6z" fill="#1e5332"/><path d="M4013 2856l31-21-38-12-30 21z" fill="#1b3794"/><path d="M3286 2778l35-3-32-23-36 2z" fill="#174a63"/><path d="M3606 2858l33-11-35-19-33 11z" fill="#162c7b"/><path d="M3082 2693l37 2-31-26-37-3z" fill="#1a5446"/><path d="M3548 2849l33-9-34-19-34 9z" fill="#162e79"/><path d="M3227 2758l36-1-32-24-36 0z" fill="#17515b"/><path d="M3489 2839l34-8-34-20-33 7z" fill="#153074"/><path d="M2877 2582l38 8-29-29-39-8z" fill="#20502b"/><path d="M3023 2665l37 5-30-28-38-4z" fill="#1b513c"/><path d="M3431 2826l34-6-33-21-34 6z" fill="#15356e"/><path d="M3168 2736l37 1-32-25-36-1z" fill="#175150"/><path d="M3373 2812l34-5-33-22-34 4z" fill="#163b69"/><path d="M2963 2636l38 6-29-28-39-6z" fill="#1c4f32"/><path d="M3811 2880l31-16-36-15-32 16z" fill="#182c83"/><path d="M3869 2879l32-17-37-14-32 17z" fill="#182e87"/><path d="M3752 2879l32-14-35-16-32 13z" fill="#172b80"/><path d="M3927 2876l32-19-37-13-31 18z" fill="#19308b"/><path d="M3109 2712l37 2-31-26-37-2z" fill="#185146"/><path d="M3314 2795l35-3-32-23-36 3z" fill="#164361"/><path d="M3694 2876l33-13-36-17-32 12z" fill="#172b7d"/><path d="M3986 2871l31-21-37-12-31 20z" fill="#1a348f"/><path d="M3636 2870l33-11-35-18-33 11z" fill="#162c7a"/><path d="M3577 2863l34-10-35-19-33 10z" fill="#152c76"/><path d="M3255 2776l36-1-32-24-36 1z" fill="#164c59"/><path d="M2904 2604l38 8-29-29-39-8z" fill="#1d4d2b"/><path d="M3519 2853l33-8-34-20-33 8z" fill="#142d71"/><path d="M3050 2686l37 4-30-27-37-4z" fill="#194e3c"/><path d="M3460 2841l34-6-33-21-35 6z" fill="#14316b"/><path d="M3196 2755l37 0-32-25-36 0z" fill="#164c4f"/><path d="M3402 2827l34-4-33-22-35 5z" fill="#153665"/><path d="M2991 2657l38 6-30-28-39-6z" fill="#1a4b33"/><path d="M3137 2731l37 2-31-25-37-3z" fill="#164c46"/><path d="M3343 2811l35-3-33-22-35 3z" fill="#153d5f"/><path d="M3841 2890l32-16-36-15-32 16z" fill="#182c83"/><path d="M3900 2888l31-17-36-14-32 17z" fill="#182e87"/><path d="M3783 2890l32-15-36-15-32 14z" fill="#172b7f"/><path d="M3959 2884l31-19-37-12-32 18z" fill="#19318b"/><path d="M3724 2887l33-13-36-16-33 12z" fill="#162b7c"/><path d="M3666 2882l32-11-35-17-33 11z" fill="#162b78"/><path d="M2931 2626l38 8-29-29-39-7z" fill="#1b492b"/><path d="M3607 2876l33-10-35-18-33 9z" fill="#142a72"/><path d="M3284 2793l35-2-32-23-36 1z" fill="#144557"/><path d="M3078 2706l37 3-31-26-37-4z" fill="#174b3c"/><path d="M3548 2867l34-8-35-20-33 8z" fill="#132a6d"/><path d="M3489 2856l35-7-35-20-34 6z" fill="#132e67"/><path d="M3225 2773l36 0-32-25-36 0z" fill="#15484e"/><path d="M3018 2678l38 5-30-27-38-6z" fill="#184833"/><path d="M3431 2843l34-5-34-22-34 5z" fill="#133262"/><path d="M3165 2750l37 2-32-26-36-1z" fill="#154845"/><path d="M3372 2827l35-3-34-22-35 3z" fill="#14375c"/><path d="M3872 2899l32-16-37-14-31 16z" fill="#182d83"/><path d="M3813 2900l33-15-37-15-32 15z" fill="#172b7f"/><path d="M3931 2897l32-18-37-13-32 17z" fill="#182f87"/><path d="M3755 2898l32-13-36-16-32 13z" fill="#162b7c"/><path d="M2958 2648l39 7-30-28-39-8z" fill="#19462b"/><path d="M3696 2894l33-12-36-16-33 11z" fill="#152975"/><path d="M3312 2810l36-2-33-23-35 2z" fill="#133f55"/><path d="M3106 2725l37 3-31-26-37-3z" fill="#16483c"/><path d="M3637 2888l33-10-35-18-33 10z" fill="#14296f"/><path d="M3578 2880l34-8-35-19-34 8z" fill="#13286a"/><path d="M3253 2790l36 0-32-24-36 0z" fill="#13454d"/><path d="M3519 2870l34-7-34-20-34 7z" fill="#122a64"/><path d="M3046 2698l38 5-31-27-38-5z" fill="#174533"/><path d="M3460 2858l34-6-34-21-34 6z" fill="#132f5f"/><path d="M3194 2768l36 2-32-25-36-2z" fill="#144444"/><path d="M3401 2843l35-4-34-22-35 4z" fill="#13335a"/><path d="M2986 2669l38 6-30-27-38-7z" fill="#17432b"/><path d="M3845 2909l32-15-37-14-32 15z" fill="#172c7f"/><path d="M3134 2744l37 3-31-25-38-4z" fill="#14443c"/><path d="M3904 2908l31-17-37-13-31 17z" fill="#182e83"/><path d="M3785 2909l33-14-37-15-32 13z" fill="#162a79"/><path d="M3341 2826l36-2-33-23-36 3z" fill="#133a53"/><path d="M3726 2906l33-13-36-16-33 12z" fill="#152872"/><path d="M3667 2900l33-10-35-17-33 10z" fill="#13276c"/><path d="M3608 2893l34-9-36-18-33 9z" fill="#122767"/><path d="M3282 2807l36 0-33-24-36 1z" fill="#12414c"/><path d="M3074 2718l38 4-31-26-38-5z" fill="#154233"/><path d="M3549 2884l34-8-35-19-34 7z" fill="#122861"/><path d="M3489 2872l35-6-35-20-34 6z" fill="#122b5c"/><path d="M3222 2786l37 1-33-24-36-1z" fill="#134143"/><path d="M3014 2689l38 6-30-27-39-6z" fill="#163f2b"/><path d="M3430 2858l35-4-34-21-35 4z" fill="#122f57"/><path d="M3162 2763l37 2-32-25-37-3z" fill="#13403b"/><path d="M3370 2842l36-3-34-22-35 3z" fill="#123551"/><path d="M3876 2919l32-16-37-14-32 16z" fill="#172c7f"/><path d="M3817 2919l32-14-37-15-32 13z" fill="#152a77"/><path d="M3757 2916l33-12-37-16-32 12z" fill="#142770"/><path d="M3698 2912l33-11-36-17-33 11z" fill="#132669"/><path d="M3311 2824l36-1-33-23-36 1z" fill="#113b4a"/><path d="M3102 2737l38 4-32-25-37-5z" fill="#143f33"/><path d="M3638 2905l34-9-36-18-33 9z" fill="#122564"/><path d="M3579 2897l34-8-35-19-34 8z" fill="#11265e"/><path d="M3251 2803l36 1-32-24-37 0z" fill="#113d42"/><path d="M3519 2886l35-6-35-20-34 6z" fill="#112959"/><path d="M3041 2709l39 6-31-26-38-7z" fill="#143c2b"/><path d="M3460 2873l34-5-34-20-35 4z" fill="#112c54"/><path d="M3191 2781l37 2-32-24-37-3z" fill="#123d3a"/><path d="M3400 2857l35-3-34-21-35 3z" fill="#11314e"/><path d="M3848 2928l32-14-37-14-32 14z" fill="#152975"/><path d="M3788 2927l33-13-37-15-33 12z" fill="#14276d"/><path d="M3130 2756l38 4-32-26-37-4z" fill="#123c32"/><path d="M3729 2923l32-11-36-16-33 11z" fill="#122567"/><path d="M3340 2840l36-1-34-23-35 1z" fill="#113648"/><path d="M3669 2917l33-10-36-17-33 10z" fill="#112461"/><path d="M3609 2909l34-8-36-18-33 8z" fill="#10245c"/><path d="M3280 2820l36 1-33-24-36 0z" fill="#103a41"/><path d="M3549 2899l34-6-35-19-34 6z" fill="#102656"/><path d="M3070 2729l38 5-31-26-38-6z" fill="#13392b"/><path d="M3489 2887l35-5-35-20-34 5z" fill="#102951"/><path d="M3219 2798l37 2-32-24-37-2z" fill="#113939"/><path d="M3429 2872l36-3-35-21-35 3z" fill="#102d4c"/><path d="M3159 2774l37 4-31-25-38-4z" fill="#113932"/><path d="M3369 2856l36-2-34-22-35 2z" fill="#103245"/><path d="M3820 2936l32-13-37-14-33 12z" fill="#13276b"/><path d="M3760 2934l32-12-36-16-33 12z" fill="#122564"/><path d="M3700 2929l33-11-36-16-34 10z" fill="#11235e"/><path d="M3640 2921l33-8-36-18-33 9z" fill="#102359"/><path d="M3309 2837l36 0-33-23-36 0z" fill="#10373f"/><path d="M3098 2748l38 5-31-26-38-5z" fill="#12372a"/><path d="M3580 2912l34-7-36-18-34 6z" fill="#102553"/><path d="M3248 2816l37 1-32-23-37-2z" fill="#103638"/><path d="M3520 2901l34-6-35-19-34 5z" fill="#0f274e"/><path d="M3459 2887l35-4-34-20-35 3z" fill="#0f2a4a"/><path d="M3188 2792l37 3-32-24-37-4z" fill="#103631"/><path d="M3399 2871l35-2-34-21-35 1z" fill="#0f2e43"/><path d="M3791 2944l33-12-37-15-33 11z" fill="#122462"/><path d="M3731 2939l33-10-37-16-33 10z" fill="#10235c"/><path d="M3338 2853l36-1-33-22-36 0z" fill="#0f333d"/><path d="M3127 2766l38 5-32-25-38-5z" fill="#10342a"/><path d="M3671 2933l33-9-36-17-34 9z" fill="#0f2257"/><path d="M3610 2924l34-7-36-18-34 7z" fill="#0f2351"/><path d="M3278 2832l36 1-33-23-36-1z" fill="#0f3336"/><path d="M3550 2914l34-6-35-19-34 6z" fill="#0f254c"/><path d="M3489 2901l35-4-35-20-34 4z" fill="#0f2847"/><path d="M3217 2810l37 2-32-23-38-4z" fill="#0f332f"/><path d="M3429 2886l35-3-34-21-36 3z" fill="#0e2b41"/><path d="M3155 2785l38 4-31-24-38-5z" fill="#0f3229"/><path d="M3368 2868l36-1-34-21-36 0z" fill="#0e303b"/><path d="M3762 2950l33-11-37-15-33 10z" fill="#10225a"/><path d="M3702 2944l33-9-36-16-34 8z" fill="#0f2154"/><path d="M3641 2936l34-7-36-18-34 8z" fill="#0f224e"/><path d="M3307 2848l37 1-34-22-36-1z" fill="#0e3135"/><path d="M3581 2926l34-6-36-18-34 6z" fill="#0e2349"/><path d="M3520 2914l35-4-36-19-34 4z" fill="#0e2544"/><path d="M3246 2826l37 3-33-23-37-3z" fill="#0e302e"/><path d="M3459 2900l35-3-34-20-36 2z" fill="#0e283f"/><path d="M3185 2802l37 5-32-25-38-4z" fill="#0e2f28"/><path d="M3398 2883l36-1-34-21-36 1z" fill="#0d2c39"/><path d="M3733 2955l34-10-38-16-33 10z" fill="#0f2052"/><path d="M3337 2864l36 1-33-22-37-1z" fill="#0d2e33"/><path d="M3672 2948l34-8-37-17-33 8z" fill="#0e214c"/><path d="M3612 2939l34-7-36-18-35 7z" fill="#0e2247"/><path d="M3275 2843l38 2-34-23-37-2z" fill="#0d2d2d"/><path d="M3551 2927l34-5-35-18-35 4z" fill="#0d2442"/><path d="M3489 2913l36-3-36-19-35 3z" fill="#0d263d"/><path d="M3214 2819l38 4-33-23-38-4z" fill="#0d2d27"/><path d="M3428 2898l36-2-35-20-35 1z" fill="#0d2937"/><path d="M3367 2879l36 1-34-22-36 0z" fill="#0c2c32"/><path d="M3704 2959l33-9-37-16-33 8z" fill="#0e204a"/><path d="M3643 2950l34-7-37-17-34 7z" fill="#0d2144"/><path d="M3305 2859l37 2-33-22-37-3z" fill="#0c2b2c"/><path d="M3582 2940l34-6-36-18-35 5z" fill="#0d2240"/><path d="M3520 2927l35-4-35-19-35 3z" fill="#0d243b"/><path d="M3243 2836l38 4-33-23-38-4z" fill="#0c2a26"/><path d="M3459 2912l35-2-35-20-35 1z" fill="#0c2735"/><path d="M3397 2894l36 0-34-21-36 0z" fill="#0c2a30"/><path d="M3674 2961l34-7-37-16-34 7z" fill="#0d2042"/><path d="M3335 2875l37 1-34-22-37-2z" fill="#0c282a"/><path d="M3613 2951l34-5-36-17-35 5z" fill="#0c213d"/><path d="M3273 2853l38 3-33-23-38-3z" fill="#0c2725"/><path d="M3551 2939l35-3-36-19-35 4z" fill="#0c2239"/><path d="M3489 2925l36-2-36-20-35 2z" fill="#0c2533"/><path d="M3428 2908l36 0-35-20-36 0z" fill="#0b272e"/><path d="M3366 2890l36 1-34-22-37-1z" fill="#0b2629"/><path d="M3644 2963l35-6-37-17-35 6z" fill="#0c203b"/><path d="M3303 2868l38 3-34-22-37-3z" fill="#0b2523"/><path d="M3582 2952l35-5-36-17-35 3z" fill="#0c2137"/><path d="M3521 2938l35-2-36-19-35 2z" fill="#0b2331"/><path d="M3458 2922l36-1-35-19-36 0z" fill="#0b252c"/><path d="M3396 2904l37 1-35-21-37-1z" fill="#0a2427"/><path d="M3334 2884l37 2-34-21-38-3z" fill="#0a2322"/><path d="M3614 2963l35-4-37-17-35 4z" fill="#0b2034"/><path d="M3552 2951l35-3-36-19-36 3z" fill="#0b212f"/><path d="M3489 2935l36-1-36-19-35 1z" fill="#0a232a"/><path d="M3427 2918l36 1-35-21-36 0z" fill="#0a2225"/><path d="M3364 2898l37 3-34-21-37-3z" fill="#0a2120"/><path d="M3583 2962l35-3-36-17-35 3z" fill="#0a202d"/><path d="M3521 2948l35-1-36-19-35 1z" fill="#0a2129"/><path d="M3458 2932l36 0-35-20-37 0z" fill="#092124"/><path d="M3395 2913l37 2-35-21-37-2z" fill="#091f1f"/><path d="M3553 2960l35-1-37-18-35 1z" fill="#091f27"/><path d="M3489 2945l37-1-37-19-36 0z" fill="#091f22"/><path d="M3426 2927l37 1-35-20-37-2z" fill="#081d1d"/><path d="M3521 2957l36 0-36-19-36 0z" fill="#081d20"/><path d="M3458 2940l36 1-36-19-36-2z" fill="#081b1c"/><path d="M3489 2953l37 0-37-18-36-1z" fill="#071a1a"/></g><text x="241.6" y="196.1" font-size="13.5" fill="#333" textLength="13.2" lengthAdjust="spacingAndGlyphs">(e)</text><text transform="translate(235.4 256.5) rotate(-90)" x="0" y="1.6" text-anchor="middle" font-size="4.7" fill="#555" textLength="54" lengthAdjust="spacingAndGlyphs">Average particle size (nm)</text><text x="265.4" y="284.5" text-anchor="end" font-size="3.6" font-weight="bold" fill="#666">0</text><text x="264.6" y="267.6" text-anchor="end" font-size="3.6" font-weight="bold" fill="#666">1000</text><text x="263.8" y="250.8" text-anchor="end" font-size="3.6" font-weight="bold" fill="#666">2000</text><text x="263" y="233.9" text-anchor="end" font-size="3.6" font-weight="bold" fill="#666">3000</text><text x="262.2" y="217.1" text-anchor="end" font-size="3.6" font-weight="bold" fill="#666">4000</text><text x="261.4" y="200.3" text-anchor="end" font-size="3.6" font-weight="bold" fill="#666">5000</text><text x="345" y="355" text-anchor="middle" font-size="3" fill="#777">275</text><text x="328.8" y="347.3" text-anchor="middle" font-size="3" fill="#777">250</text><text x="312.6" y="339.5" text-anchor="middle" font-size="3" fill="#777">225</text><text x="296.4" y="331.8" text-anchor="middle" font-size="3" fill="#777">200</text><text x="280.2" y="324.1" text-anchor="middle" font-size="3" fill="#777">175</text><text x="264" y="316.3" text-anchor="middle" font-size="3" fill="#777">150</text><text x="353.3" y="355" text-anchor="middle" font-size="3" fill="#777">308</text><text x="369.4" y="347.3" text-anchor="middle" font-size="3" fill="#777">310</text><text x="385.6" y="339.6" text-anchor="middle" font-size="3" fill="#777">312</text><text x="401.8" y="331.8" text-anchor="middle" font-size="3" fill="#777">314</text><text x="417.9" y="324.1" text-anchor="middle" font-size="3" fill="#777">316</text><text x="434.1" y="316.4" text-anchor="middle" font-size="3" fill="#777">318</text><path d="M348.4 351.2h1.2M332.2 343.5h1.2M316 335.7h1.2M299.8 328h1.2M283.6 320.3h1.2M267.4 312.5h1.2M348.4 351.2h1.2M364.5 343.5h1.2M380.7 335.8h1.2M396.9 328h1.2M413 320.3h1.2M429.2 312.6h1.2" stroke="#553" stroke-width="1"/><text x="277.2" y="347.5" text-anchor="middle" font-size="5.6" fill="#333" stroke="#333" stroke-width=".12" textLength="73.8" lengthAdjust="spacingAndGlyphs">D: Flow ratio of CO2/Solution (g/g)</text><text x="420.3" y="347.5" text-anchor="middle" font-size="5.6" fill="#333" stroke="#333" stroke-width=".12" textLength="64.3" lengthAdjust="spacingAndGlyphs">B: Crystallizer temperature (K)</text><circle cx="264.5" cy="237.8" r="1.5" fill="#d88090"/><circle cx="348.2" cy="220.3" r="1.5" fill="#a01c2c"/><circle cx="431.9" cy="255.4" r="1.5" fill="#a01c2c"/><circle cx="348.2" cy="271.8" r="1.5" fill="#a01c2c"/><circle cx="348.2" cy="269.8" r="1.5" fill="#a01c2c"/><circle cx="347.5" cy="301" r="1.5" fill="#d07030"/><path d="M493.7 286.1 489.7 201.9M510.2 280.5 506.9 198M526.6 274.9 524.2 194.2M543.1 269.4 541.4 190.3M559.5 263.8 558.6 186.5M575.9 258.3 575.9 182.6M575.9 258.3 575.9 182.6M592.4 263.9 593.1 186.5M608.8 269.4 610.3 190.4M625.2 275 627.5 194.3M641.6 280.6 644.7 198.2M658 286.1 662 202.1M493.7 286.1 575.9 258.3 658 286.1M492.9 269.2 575.9 243.1 658.8 269.3M492.1 252.4 575.9 228 659.6 252.5M491.3 235.5 575.9 212.9 660.4 235.7M490.5 218.7 575.9 197.7 661.2 218.9M489.7 201.9 575.9 182.6 662 202.1M493.7 286.1 495 312.5M658 286.1 656.8 312.6M575.9 258.3 576 282.3" fill="none" stroke="#b8b8b8" stroke-width=".7"/><path d="M576 351.2 656.8 312.6 576 282.3 495 312.5Z" fill="#ffff00" stroke="#b0a800" stroke-width=".45"/><path d="M631 324.6 629.4 323.2 627.7 321.9 625.9 320.5 623.9 319.2 621.8 317.8 619.5 316.4 617 315 614.3 313.7 611.4 312.4 608.3 311.1 604.9 309.9 601.3 308.7 597.5 307.8 593.5 306.9 589.4 306.3 585.1 305.9 580.9 305.8 576.6 305.9 572.4 306.2 568.4 306.9 564.6 307.8 561 308.9 557.7 310.2 554.7 311.6 552.1 313.1 549.7 314.7 547.6 316.4 545.8 318.1 544.2 319.8 542.8 321.4 541.6 323.1 540.5 324.7 539.7 326.4 538.9 327.9 538.3 329.5 537.8 331 537.4 332.5M581.8 285 575.1 284.8M515.9 305.5 513.4 308.1 511.2 310.6 509.3 313.1 507.6 315.7" fill="none" stroke="#d0ea24" stroke-width=".9"/><g transform="scale(.1)"><path d="M5759 2290l30-22-30-20-30 21z" fill="#4dc76e"/><path d="M5784 2306l30-22-30-20-30 22z" fill="#4bc772"/><path d="M5734 2307l30-21-30-22-30 21z" fill="#4bc571"/><path d="M5759 2323l30-22-30-21-30 22z" fill="#48c575"/><path d="M5810 2322l29-23-30-20-30 23z" fill="#49c675"/><path d="M5709 2322l30-20-30-22-30 20z" fill="#48c374"/><path d="M5784 2339l31-23-31-20-30 22z" fill="#46c479"/><path d="M5734 2339l30-21-30-21-30 20z" fill="#46c378"/><path d="M5835 2337l30-24-31-19-29 23z" fill="#47c578"/><path d="M5683 2337l31-19-30-23-30 20z" fill="#45c176"/><path d="M5759 2355l30-21-30-21-30 21z" fill="#44c27e"/><path d="M5810 2354l30-23-31-19-30 22z" fill="#45c37e"/><path d="M5709 2354l30-20-30-22-31 20z" fill="#43c07d"/><path d="M5861 2351l29-24-30-19-30 24z" fill="#46c47c"/><path d="M5658 2352l30-19-29-23-31 18z" fill="#43be79"/><path d="M5785 2371l30-22-31-20-30 21z" fill="#42c184"/><path d="M5734 2371l30-21-30-21-30 20z" fill="#42c083"/><path d="M5836 2369l30-23-31-19-30 22z" fill="#43c283"/><path d="M5683 2369l31-19-30-23-31 19z" fill="#41be80"/><path d="M5886 2365l30-25-31-18-29 24z" fill="#44c380"/><path d="M5632 2365l31-18-30-23-31 17z" fill="#41bb7c"/><path d="M5759 2387l31-21-31-21-30 21z" fill="#40bf89"/><path d="M5810 2386l30-22-30-20-30 22z" fill="#40c089"/><path d="M5708 2386l31-20-30-22-31 20z" fill="#3fbd87"/><path d="M5861 2383l30-23-31-19-30 23z" fill="#41c187"/><path d="M5657 2383l31-19-30-22-31 18z" fill="#3fbb83"/><path d="M5912 2378l30-25-31-17-30 25z" fill="#42c284"/><path d="M5606 2378l31-17-30-24-31 17z" fill="#3fb87e"/><path d="M5785 2403l30-22-30-20-31 21z" fill="#3ebe8e"/><path d="M5734 2403l30-21-30-21-31 20z" fill="#3dbc8d"/><path d="M5836 2401l30-23-31-19-30 22z" fill="#3fbf8e"/><path d="M5682 2401l31-20-30-22-31 19z" fill="#3dba8a"/><path d="M5887 2397l30-24-31-18-30 24z" fill="#40c08b"/><path d="M5631 2396l31-17-30-24-31 18z" fill="#3db885"/><path d="M5939 2391l29-25-31-17-30 25z" fill="#41c187"/><path d="M5580 2390l31-16-30-25-31 16z" fill="#3db57f"/><path d="M5811 2418l30-22-31-20-30 22z" fill="#3cbd93"/><path d="M5759 2419l31-21-31-21-30 21z" fill="#3cbc93"/><path d="M5862 2415l30-23-31-19-30 23z" fill="#3dbe92"/><path d="M5708 2418l31-20-31-22-31 19z" fill="#3bba91"/><path d="M5913 2411l30-25-31-18-30 25z" fill="#3ebf8f"/><path d="M5656 2414l31-18-30-23-31 18z" fill="#3bb88d"/><path d="M5965 2404l30-26-32-16-30 25z" fill="#40bf8a"/><path d="M5605 2409l31-17-30-24-31 17z" fill="#3bb587"/><path d="M5553 2402l32-16-30-25-31 15z" fill="#3bb280"/><path d="M5785 2434l31-21-31-20-31 21z" fill="#3abb98"/><path d="M5837 2433l30-23-31-19-30 22z" fill="#3bbc98"/><path d="M5733 2434l31-20-30-21-31 19z" fill="#39b997"/><path d="M5888 2429l30-24-31-18-30 24z" fill="#3cbd96"/><path d="M5682 2432l31-19-30-22-31 18z" fill="#39b793"/><path d="M5940 2424l30-26-32-17-30 25z" fill="#3dbe92"/><path d="M5630 2427l31-17-30-24-31 18z" fill="#39b58e"/><path d="M5991 2416l30-26-32-16-29 26z" fill="#3fbe8c"/><path d="M5579 2421l31-16-30-25-31 16z" fill="#39b287"/><path d="M5527 2413l32-15-30-26-32 15z" fill="#3aaf7f"/><path d="M5811 2450l31-22-31-20-31 22z" fill="#38ba9d"/><path d="M5759 2450l31-21-31-20-31 20z" fill="#38b99c"/><path d="M5863 2447l30-23-31-19-30 23z" fill="#39bb9c"/><path d="M5708 2449l30-20-30-21-31 18z" fill="#37b79a"/><path d="M5915 2443l30-25-32-17-30 24z" fill="#3abc99"/><path d="M5656 2445l31-18-30-23-32 18z" fill="#37b495"/><path d="M5966 2436l30-26-31-16-30 25z" fill="#3cbd94"/><path d="M5604 2440l31-17-30-24-31 16z" fill="#37b28f"/><path d="M6018 2428l30-27-32-16-30 27z" fill="#3dbd8e"/><path d="M5552 2432l32-15-30-25-32 15z" fill="#38af87"/><path d="M5500 2423l32-14-30-26-32 13z" fill="#38ab7f"/><path d="M5785 2466l31-21-31-21-31 21z" fill="#36b7a1"/><path d="M5837 2464l31-22-32-19-30 22z" fill="#37b9a1"/><path d="M5733 2465l31-20-30-21-31 19z" fill="#36b59f"/><path d="M5889 2461l30-24-31-18-30 24z" fill="#38baa0"/><path d="M5681 2463l32-19-31-22-31 18z" fill="#35b49c"/><path d="M5941 2456l30-25-32-17-30 24z" fill="#39bb9c"/><path d="M5629 2458l32-17-30-24-32 17z" fill="#35b196"/><path d="M5993 2448l30-26-32-16-30 26z" fill="#3bbb96"/><path d="M5577 2451l32-16-30-24-32 15z" fill="#36af8f"/><path d="M6045 2439l30-28-32-14-30 27z" fill="#3cbb8f"/><path d="M5525 2443l32-15-30-25-32 14z" fill="#36ab87"/><path d="M5473 2432l32-13-29-27-33 13z" fill="#37a87d"/><path d="M5811 2481l31-22-31-19-31 21z" fill="#35b3a5"/><path d="M5759 2481l31-20-31-21-31 20z" fill="#34b2a4"/><path d="M5864 2479l30-23-31-19-31 23z" fill="#36b6a5"/><path d="M5707 2480l31-20-30-21-32 18z" fill="#34b0a1"/><path d="M5916 2474l30-24-32-17-30 23z" fill="#37b8a2"/><path d="M5655 2476l31-18-30-23-31 18z" fill="#34af9d"/><path d="M5968 2468l30-26-32-16-30 25z" fill="#38ba9e"/><path d="M5603 2470l31-16-30-24-31 16z" fill="#34ae97"/><path d="M6020 2460l30-27-32-15-30 26z" fill="#3aba98"/><path d="M5551 2462l31-15-30-25-31 15z" fill="#34ab8f"/><path d="M6072 2449l30-28-32-14-30 28z" fill="#3cba90"/><path d="M5498 2453l32-14-29-26-33 13z" fill="#35a885"/><path d="M5446 2441l32-13-29-27-33 12z" fill="#36a57b"/><path d="M5785 2497l31-21-31-20-31 20z" fill="#33aea9"/><path d="M5838 2496l30-23-31-19-31 22z" fill="#34b0a9"/><path d="M5733 2496l31-20-31-21-31 19z" fill="#32ada6"/><path d="M5890 2492l30-23-31-18-31 23z" fill="#34b3a8"/><path d="M5681 2493l31-18-30-22-32 17z" fill="#32aca3"/><path d="M5942 2487l31-25-32-16-30 24z" fill="#35b5a5"/><path d="M5628 2488l32-17-30-23-32 17z" fill="#32ab9d"/><path d="M5995 2480l30-26-32-16-30 26z" fill="#37b8a0"/><path d="M5576 2481l32-15-30-25-32 16z" fill="#32aa96"/><path d="M6047 2471l30-28-32-14-30 27z" fill="#39b999"/><path d="M5524 2473l32-15-30-25-32 14z" fill="#33a88e"/><path d="M6100 2460l29-29-32-14-30 29z" fill="#3bb990"/><path d="M5471 2462l32-13-29-27-33 13z" fill="#34a583"/><path d="M5418 2449l33-12-30-27-32 11z" fill="#35a179"/><path d="M5812 2512l31-22-32-19-31 21z" fill="#32abac"/><path d="M5759 2512l31-20-31-21-31 20z" fill="#31aaab"/><path d="M5864 2510l31-23-32-18-30 22z" fill="#32adac"/><path d="M5707 2510l31-19-31-21-31 18z" fill="#31a8a8"/><path d="M5917 2506l30-24-32-18-30 24z" fill="#33b0aa"/><path d="M5654 2506l32-17-31-23-31 17z" fill="#31a7a3"/><path d="M5969 2500l30-26-32-16-30 25z" fill="#34b3a6"/><path d="M5602 2500l32-16-31-24-32 16z" fill="#31a69d"/><path d="M6022 2492l30-27-33-15-29 26z" fill="#36b6a1"/><path d="M5549 2492l32-15-30-25-32 15z" fill="#31a695"/><path d="M6075 2481l29-28-32-14-30 28z" fill="#38b799"/><path d="M5496 2482l33-13-30-26-33 13z" fill="#32a58c"/><path d="M6127 2469l30-29-33-13-29 29z" fill="#3ab790"/><path d="M5443 2470l33-12-30-27-32 12z" fill="#33a181"/><path d="M5786 2528l31-21-32-20-31 20z" fill="#30a6af"/><path d="M5391 2456l32-11-29-28-33 10z" fill="#349e75"/><path d="M5838 2527l31-22-31-19-31 21z" fill="#30a8b0"/><path d="M5733 2527l31-20-31-21-31 19z" fill="#2fa5ad"/><path d="M5891 2524l31-24-32-18-31 23z" fill="#31aaaf"/><path d="M5680 2523l32-18-31-22-32 18z" fill="#2fa4a9"/><path d="M5944 2519l30-25-32-17-30 24z" fill="#32adac"/><path d="M5628 2518l31-16-30-24-32 17z" fill="#2fa3a3"/><path d="M5996 2512l31-26-33-16-30 25z" fill="#34b0a7"/><path d="M5575 2511l32-15-31-25-32 15z" fill="#2fa29b"/><path d="M6049 2503l30-28-32-14-30 26z" fill="#35b4a1"/><path d="M5522 2502l32-14-30-25-32 13z" fill="#30a293"/><path d="M6102 2491l30-28-33-13-30 27z" fill="#37b69a"/><path d="M5469 2491l33-13-30-26-33 12z" fill="#31a189"/><path d="M6155 2478l30-29-33-13-30 29z" fill="#39b690"/><path d="M5416 2478l33-12-30-27-33 11z" fill="#329e7e"/><path d="M5812 2543l31-22-31-19-31 21z" fill="#2ea3b3"/><path d="M5759 2543l32-20-32-21-31 19z" fill="#2ea2b1"/><path d="M5865 2541l31-23-32-18-31 22z" fill="#2fa5b3"/><path d="M5706 2540l32-18-31-22-32 18z" fill="#2ea0ae"/><path d="M5918 2537l30-24-32-17-30 23z" fill="#30a8b1"/><path d="M5654 2536l31-17-30-23-32 17z" fill="#2ea0a8"/><path d="M5971 2531l30-25-32-16-30 24z" fill="#31abad"/><path d="M5363 2462l33-10-30-28-33 9z" fill="#339b72"/><path d="M5601 2530l32-16-31-24-32 16z" fill="#2e9fa2"/><path d="M6024 2523l30-26-33-15-30 25z" fill="#33aea8"/><path d="M5548 2522l32-15-30-25-33 14z" fill="#2e9f9a"/><path d="M6077 2513l30-28-33-14-30 28z" fill="#34b2a2"/><path d="M5494 2511l33-13-30-26-33 13z" fill="#2f9f91"/><path d="M6130 2501l30-29-33-13-30 29z" fill="#36b599"/><path d="M5441 2499l33-12-30-27-33 12z" fill="#309e86"/><path d="M6183 2487l30-30-34-12-29 30z" fill="#39b48f"/><path d="M5839 2557l31-21-32-19-31 21z" fill="#2da0b6"/><path d="M5786 2558l31-20-31-20-32 19z" fill="#2d9fb5"/><path d="M5388 2485l33-11-30-28-33 10z" fill="#319b7a"/><path d="M5892 2554l31-23-32-17-31 22z" fill="#2ea3b6"/><path d="M5733 2557l31-19-31-21-31 18z" fill="#2c9db3"/><path d="M5945 2550l31-25-33-16-30 23z" fill="#2fa5b3"/><path d="M5680 2553l31-17-31-23-31 18z" fill="#2c9cae"/><path d="M5998 2543l30-26-32-15-30 25z" fill="#30a8af"/><path d="M5627 2548l32-16-31-24-32 16z" fill="#2c9ba8"/><path d="M5334 2468l34-9-30-29-33 9z" fill="#32976e"/><path d="M6051 2534l30-27-32-14-30 26z" fill="#32aca9"/><path d="M5573 2541l33-15-31-25-32 15z" fill="#2d9ba0"/><path d="M6105 2523l29-28-33-14-29 28z" fill="#34b0a1"/><path d="M5520 2531l33-13-31-26-32 13z" fill="#2d9b97"/><path d="M6158 2510l30-29-34-13-29 29z" fill="#36b398"/><path d="M5467 2520l33-13-30-26-33 12z" fill="#2e9b8e"/><path d="M6212 2495l29-31-34-11-29 30z" fill="#39b38d"/><path d="M5413 2506l33-11-29-27-34 10z" fill="#2f9b83"/><path d="M5813 2573l31-21-32-19-31 20z" fill="#2c97b7"/><path d="M5866 2571l31-22-32-18-31 22z" fill="#2c9bb8"/><path d="M5759 2573l32-20-32-20-31 19z" fill="#2b96b6"/><path d="M5919 2568l31-24-32-17-31 23z" fill="#2da0b8"/><path d="M5706 2570l32-18-31-22-32 18z" fill="#2b97b2"/><path d="M5972 2562l31-25-33-16-30 24z" fill="#2ea3b4"/><path d="M5653 2566l32-17-31-23-32 17z" fill="#2b98ad"/><path d="M5360 2491l33-10-29-29-34 10z" fill="#309776"/><path d="M6026 2554l30-26-33-15-30 26z" fill="#30a6af"/><path d="M5599 2559l33-15-31-24-32 15z" fill="#2b98a6"/><path d="M6079 2544l30-27-33-14-30 27z" fill="#31aaa9"/><path d="M5546 2551l33-14-31-25-32 13z" fill="#2c989e"/><path d="M5306 2473l34-8-30-30-33 8z" fill="#32946a"/><path d="M6133 2532l29-28-33-13-30 28z" fill="#33aea1"/><path d="M5492 2540l33-13-30-26-33 13z" fill="#2c9894"/><path d="M6186 2519l30-30-34-12-29 29z" fill="#35b297"/><path d="M5439 2528l33-12-30-27-33 11z" fill="#2d988a"/><path d="M6240 2503l29-32-33-10-30 31z" fill="#38b28c"/><path d="M5839 2588l32-22-32-19-31 21z" fill="#2b8fb9"/><path d="M5786 2588l32-20-32-20-32 20z" fill="#2a8cb7"/><path d="M5893 2585l31-23-32-18-31 23z" fill="#2c93b9"/><path d="M5733 2587l31-19-31-21-32 18z" fill="#2a8cb4"/><path d="M5385 2513l34-10-30-28-34 9z" fill="#2e977f"/><path d="M5946 2580l31-24-32-16-31 23z" fill="#2c9bb8"/><path d="M5679 2583l32-17-31-23-32 17z" fill="#2a8fb1"/><path d="M6000 2574l30-26-32-15-31 25z" fill="#2da1b5"/><path d="M5626 2578l32-17-31-23-32 16z" fill="#2a94ac"/><path d="M6054 2565l30-27-33-14-30 26z" fill="#2fa4af"/><path d="M5331 2496l34-9-30-29-33 9z" fill="#309472"/><path d="M5572 2570l33-15-31-24-33 14z" fill="#2a94a4"/><path d="M6107 2554l30-28-33-13-30 27z" fill="#31a8a8"/><path d="M5518 2560l33-13-30-26-33 13z" fill="#2b949b"/><path d="M5277 2477l34-7-29-30-34 7z" fill="#319165"/><path d="M6161 2541l30-29-34-12-30 29z" fill="#33ada0"/><path d="M5465 2548l33-12-30-26-34 11z" fill="#2b9591"/><path d="M6215 2527l29-31-33-11-30 30z" fill="#35b096"/><path d="M5411 2535l33-11-30-28-33 11z" fill="#2c9686"/><path d="M5813 2603l31-20-32-20-31 20z" fill="#2a83b8"/><path d="M5867 2602l31-22-32-19-32 22z" fill="#2a87ba"/><path d="M5759 2603l32-20-32-20-31 19z" fill="#2982b6"/><path d="M5920 2598l31-23-32-17-31 22z" fill="#2b8db9"/><path d="M5706 2600l32-18-32-22-32 18z" fill="#2984b3"/><path d="M6269 2510l29-32-34-10-29 31z" fill="#38b089"/><path d="M5974 2593l31-25-33-16-31 24z" fill="#2c95b8"/><path d="M5652 2595l32-16-31-23-32 16z" fill="#2988af"/><path d="M5357 2519l33-10-29-28-34 9z" fill="#2d947a"/><path d="M6028 2585l30-26-33-15-30 26z" fill="#2d9fb5"/><path d="M5598 2589l33-16-31-24-33 15z" fill="#298ea9"/><path d="M6082 2575l30-27-34-14-30 27z" fill="#2ea2af"/><path d="M5544 2580l33-14-30-25-33 13z" fill="#2991a2"/><path d="M5302 2501l34-8-29-30-34 8z" fill="#2f916e"/><path d="M6135 2564l30-29-33-12-30 27z" fill="#30a7a7"/><path d="M5491 2569l33-13-31-26-33 12z" fill="#2a9198"/><path d="M6189 2550l30-30-34-11-29 29z" fill="#32ac9e"/><path d="M5248 2481l34-7-29-31-34 7z" fill="#318e60"/><path d="M5436 2556l34-11-30-27-34 10z" fill="#2b928d"/><path d="M6244 2534l29-31-34-10-29 30z" fill="#35af94"/><path d="M5840 2618l31-21-32-19-31 20z" fill="#297bba"/><path d="M5786 2618l32-20-32-20-32 20z" fill="#2879b8"/><path d="M5894 2615l31-22-32-18-32 22z" fill="#2980ba"/><path d="M5732 2616l32-18-31-21-32 18z" fill="#287ab5"/><path d="M5382 2541l34-10-30-28-34 9z" fill="#2c9382"/><path d="M5948 2611l31-24-33-17-31 24z" fill="#2a87ba"/><path d="M5679 2613l32-18-32-22-32 17z" fill="#287db1"/><path d="M6002 2604l30-25-33-15-30 24z" fill="#2b91b8"/><path d="M5625 2607l32-16-31-23-33 15z" fill="#2882ac"/><path d="M6298 2516l29-32-34-9-29 31z" fill="#38af87"/><path d="M6056 2596l30-26-33-15-31 26z" fill="#2c9db5"/><path d="M5328 2524l34-9-30-29-34 8z" fill="#2d9176"/><path d="M5571 2599l32-15-30-24-33 14z" fill="#2889a6"/><path d="M6110 2585l30-27-34-14-30 27z" fill="#2ea1ae"/><path d="M5517 2589l33-13-31-26-33 13z" fill="#288e9e"/><path d="M6164 2573l30-29-34-12-30 28z" fill="#30a5a6"/><path d="M5274 2505l34-7-30-31-34 7z" fill="#2f8e69"/><path d="M5462 2577l34-12-31-26-33 11z" fill="#298e94"/><path d="M6218 2558l30-30-34-11-30 29z" fill="#32ab9c"/><path d="M5408 2563l34-11-30-27-34 10z" fill="#2a8f89"/><path d="M5219 2483l34-5-29-32-34 6z" fill="#318b5b"/><path d="M5813 2633l32-20-32-20-32 20z" fill="#2871b9"/><path d="M5867 2632l32-22-33-18-31 21z" fill="#2874ba"/><path d="M5759 2632l32-19-32-20-32 18z" fill="#2770b7"/><path d="M5921 2628l32-22-33-18-31 23z" fill="#2979bb"/><path d="M6273 2541l29-31-34-10-30 31z" fill="#35ae91"/><path d="M5705 2629l32-17-31-22-32 17z" fill="#2772b3"/><path d="M5976 2623l30-24-33-16-30 24z" fill="#2a82b9"/><path d="M5651 2624l33-16-32-23-32 16z" fill="#2777af"/><path d="M6030 2616l30-26-33-15-31 25z" fill="#2b8db7"/><path d="M5354 2546l34-9-30-28-34 8z" fill="#2b917e"/><path d="M5597 2617l33-15-31-23-33 14z" fill="#277da9"/><path d="M6084 2606l30-27-33-14-31 27z" fill="#2c9ab4"/><path d="M6327 2522l30-33-35-8-29 32z" fill="#38ae84"/><path d="M5543 2608l33-13-31-25-33 13z" fill="#2786a3"/><path d="M5299 2528l34-7-29-30-35 7z" fill="#2d8e71"/><path d="M6138 2595l30-29-33-12-31 27z" fill="#2da0ad"/><path d="M5488 2597l34-12-31-26-33 12z" fill="#278b9b"/><path d="M6193 2581l30-29-35-12-29 29z" fill="#30a4a4"/><path d="M5244 2508l35-7-29-30-35 6z" fill="#2e8b64"/><path d="M5434 2584l34-11-31-27-33 10z" fill="#288c90"/><path d="M6247 2565l30-30-34-11-30 30z" fill="#32aa9a"/><path d="M5841 2648l31-21-32-19-32 20z" fill="#2769b9"/><path d="M5786 2648l32-20-32-20-32 19z" fill="#2668b7"/><path d="M5895 2645l31-22-32-18-32 22z" fill="#276dbb"/><path d="M5732 2646l32-19-32-21-32 18z" fill="#2668b5"/><path d="M5949 2641l31-23-33-17-31 23z" fill="#2874bb"/><path d="M5379 2569l34-10-30-28-34 9z" fill="#298d85"/><path d="M5678 2642l32-17-31-22-33 16z" fill="#266cb1"/><path d="M6004 2635l30-25-33-16-31 25z" fill="#297db9"/><path d="M5189 2485l35-5-29-31-35 4z" fill="#308856"/><path d="M6302 2547l29-32-34-9-30 32z" fill="#35ad8e"/><path d="M5624 2636l32-16-31-23-33 15z" fill="#2672ac"/><path d="M6058 2626l30-26-33-14-31 26z" fill="#2a89b7"/><path d="M5325 2551l34-8-30-29-34 8z" fill="#2b8e79"/><path d="M5569 2627l33-14-31-24-33 13z" fill="#267aa6"/><path d="M6112 2616l31-27-34-14-30 27z" fill="#2b98b3"/><path d="M6357 2527l29-33-35-8-29 33z" fill="#38ad81"/><path d="M5515 2617l33-13-31-25-33 12z" fill="#2683a0"/><path d="M6167 2603l30-28-34-12-30 28z" fill="#2d9eac"/><path d="M5270 2532l34-7-29-30-35 6z" fill="#2c8b6c"/><path d="M5460 2605l34-12-31-26-33 11z" fill="#278897"/><path d="M6222 2589l29-30-34-11-30 29z" fill="#2fa4a2"/><path d="M5405 2590l34-10-30-27-34 9z" fill="#28898b"/><path d="M5814 2663l32-21-33-19-32 20z" fill="#2561b6"/><path d="M5868 2662l32-22-33-18-31 21z" fill="#2664b8"/><path d="M5215 2510l35-5-30-32-35 5z" fill="#2e885e"/><path d="M5759 2662l32-19-32-21-32 18z" fill="#2561b4"/><path d="M5923 2658l31-22-33-18-31 23z" fill="#2768ba"/><path d="M6277 2572l29-31-35-10-29 31z" fill="#32a998"/><path d="M5705 2658l32-17-32-22-32 17z" fill="#2563b2"/><path d="M5977 2653l31-24-33-16-31 24z" fill="#286fba"/><path d="M5650 2653l33-16-32-23-32 16z" fill="#2567af"/><path d="M6032 2646l31-25-34-15-31 25z" fill="#297ab8"/><path d="M5351 2574l34-9-30-28-34 8z" fill="#298b80"/><path d="M5596 2646l33-15-32-24-32 15z" fill="#256ea9"/><path d="M6332 2553l29-32-35-9-29 32z" fill="#35ab8b"/><path d="M6086 2637l31-27-34-14-30 26z" fill="#2a87b6"/><path d="M5159 2486l36-4-29-32-36 3z" fill="#308651"/><path d="M5541 2637l33-14-31-25-33 13z" fill="#2577a3"/><path d="M6141 2625l30-28-34-12-30 27z" fill="#2b97b2"/><path d="M5296 2555l34-7-30-30-34 7z" fill="#2a8b73"/><path d="M6387 2532l29-33-35-8-29 33z" fill="#39ac7d"/><path d="M5486 2625l34-12-31-26-33 12z" fill="#25829c"/><path d="M6196 2612l30-29-34-12-30 29z" fill="#2d9eaa"/><path d="M5240 2534l35-6-29-30-35 5z" fill="#2c8866"/><path d="M5432 2612l33-11-30-27-34 10z" fill="#268692"/><path d="M6251 2596l30-30-35-11-30 30z" fill="#2fa3a0"/><path d="M5841 2677l32-21-32-18-32 20z" fill="#245cb5"/><path d="M5787 2677l32-19-33-20-32 18z" fill="#235ab3"/><path d="M5896 2675l32-22-33-18-32 22z" fill="#255fb7"/><path d="M5732 2675l32-18-32-21-32 17z" fill="#235bb1"/><path d="M5951 2671l31-23-33-17-31 23z" fill="#2664b8"/><path d="M5377 2596l34-9-30-28-35 8z" fill="#278787"/><path d="M5677 2670l33-16-32-22-32 16z" fill="#245eae"/><path d="M6005 2665l31-25-33-15-31 24z" fill="#276bba"/><path d="M6306 2578l30-31-35-9-30 31z" fill="#32a995"/><path d="M5185 2511l35-4-29-32-35 4z" fill="#2e8559"/><path d="M5623 2664l32-15-31-23-33 14z" fill="#2463ab"/><path d="M6060 2657l31-26-34-15-31 26z" fill="#2877b8"/><path d="M5568 2656l33-14-31-25-33 14z" fill="#246ba6"/><path d="M5321 2578l35-8-30-29-35 8z" fill="#29897b"/><path d="M6115 2646l31-27-34-13-31 27z" fill="#2986b4"/><path d="M6361 2559l30-33-36-8-29 32z" fill="#35aa88"/><path d="M5513 2645l33-12-31-26-33 12z" fill="#24759f"/><path d="M6170 2634l30-28-34-12-30 28z" fill="#2b96b1"/><path d="M5129 2486l36-3-29-32-36 2z" fill="#30834d"/><path d="M5266 2558l35-6-30-30-35 6z" fill="#2a886e"/><path d="M6417 2537l29-35-36-6-29 33z" fill="#39aa7a"/><path d="M5458 2632l34-11-31-26-34 10z" fill="#258198"/><path d="M6225 2620l30-30-34-11-30 29z" fill="#2d9da8"/><path d="M5403 2618l34-10-31-28-34 10z" fill="#26848d"/><path d="M5869 2691l32-21-33-18-32 20z" fill="#2356b4"/><path d="M5814 2692l32-20-32-19-32 19z" fill="#2254b2"/><path d="M6280 2603l30-31-35-10-29 31z" fill="#2fa39d"/><path d="M5924 2688l31-22-33-18-31 22z" fill="#245ab5"/><path d="M5759 2691l33-19-33-20-32 17z" fill="#2254b0"/><path d="M5210 2536l36-5-30-31-35 5z" fill="#2c8561"/><path d="M5979 2683l31-24-33-16-32 24z" fill="#2561b7"/><path d="M5704 2687l33-17-32-22-33 17z" fill="#2257ad"/><path d="M6034 2676l31-25-34-15-31 25z" fill="#2669b8"/><path d="M5650 2682l32-16-31-23-33 15z" fill="#225aab"/><path d="M5347 2601l35-8-30-29-35 8z" fill="#278581"/><path d="M6336 2584l29-32-35-9-29 32z" fill="#32a992"/><path d="M6089 2667l31-26-34-14-31 26z" fill="#2875b7"/><path d="M5595 2674l33-14-32-24-33 14z" fill="#2360a8"/><path d="M5155 2512l35-3-29-33-35 3z" fill="#2e8353"/><path d="M6144 2656l30-28-34-13-30 28z" fill="#2985b3"/><path d="M5540 2665l33-13-31-25-34 12z" fill="#2369a2"/><path d="M5292 2582l35-7-30-30-35 7z" fill="#288776"/><path d="M6391 2563l30-33-36-8-29 34z" fill="#36a984"/><path d="M6199 2642l30-29-34-11-30 28z" fill="#2a97af"/><path d="M5484 2653l34-12-31-26-34 11z" fill="#24749b"/><path d="M5099 2486l36-2-29-34-36 2z" fill="#318049"/><path d="M6255 2627l30-30-35-11-30 30z" fill="#2d9ca5"/><path d="M5429 2639l34-10-31-27-34 9z" fill="#248094"/><path d="M5236 2561l35-6-29-31-35 5z" fill="#2a8568"/><path d="M6447 2540l29-34-35-7-30 35z" fill="#3aa976"/><path d="M5842 2706l32-20-33-19-32 20z" fill="#214fb1"/><path d="M5897 2704l32-21-33-18-32 21z" fill="#2252b3"/><path d="M5787 2706l32-19-32-20-33 18z" fill="#214eaf"/><path d="M5952 2701l32-23-34-17-31 23z" fill="#2357b4"/><path d="M5732 2703l32-17-32-21-32 17z" fill="#214fac"/><path d="M6310 2609l30-31-35-9-30 31z" fill="#30a29a"/><path d="M6007 2695l31-25-33-15-31 24z" fill="#245eb6"/><path d="M5374 2623l34-9-30-28-35 8z" fill="#258288"/><path d="M5677 2699l33-16-32-23-33 16z" fill="#2153aa"/><path d="M6063 2687l30-26-34-14-30 25z" fill="#2667b7"/><path d="M5180 2537l36-4-29-31-36 3z" fill="#2c825b"/><path d="M5622 2692l33-15-32-23-33 14z" fill="#2257a7"/><path d="M6118 2677l30-27-34-14-30 27z" fill="#2774b5"/><path d="M6366 2590l29-33-35-8-30 32z" fill="#33a88e"/><path d="M5566 2684l34-14-32-24-33 13z" fill="#225ea4"/><path d="M5318 2605l35-8-30-29-35 7z" fill="#27847c"/><path d="M6173 2664l31-28-35-12-30 28z" fill="#2985b1"/><path d="M5511 2673l34-12-31-26-34 12z" fill="#23689e"/><path d="M5124 2512l36-3-29-33-36 3z" fill="#2e804e"/><path d="M6422 2568l29-34-36-7-29 33z" fill="#36a880"/><path d="M5262 2585l35-6-30-31-35 6z" fill="#288570"/><path d="M6229 2650l30-29-35-11-30 29z" fill="#2a97ad"/><path d="M5456 2660l34-11-31-27-34 11z" fill="#237497"/><path d="M6284 2634l30-31-35-10-30 30z" fill="#2d9ca2"/><path d="M5870 2720l32-21-33-18-32 20z" fill="#204ab0"/><path d="M5815 2721l32-20-33-19-32 19z" fill="#2048ae"/><path d="M5400 2645l34-10-30-27-35 9z" fill="#247e8e"/><path d="M5925 2717l32-22-33-17-32 22z" fill="#214eb1"/><path d="M5759 2719l33-18-33-20-32 17z" fill="#2049ab"/><path d="M6478 2544l29-36-36-5-29 35z" fill="#3aa871"/><path d="M5068 2484l36-1-29-34-36 1z" fill="#317e45"/><path d="M5206 2562l36-4-30-32-35 4z" fill="#2a8262"/><path d="M5981 2713l31-24-34-16-31 23z" fill="#2254b3"/><path d="M5704 2716l33-17-32-22-33 16z" fill="#204ba9"/><path d="M6036 2706l31-25-34-15-31 24z" fill="#245cb4"/><path d="M5649 2710l33-16-32-22-33 15z" fill="#204fa6"/><path d="M6340 2615l30-32-36-9-29 32z" fill="#30a297"/><path d="M5344 2627l35-7-30-29-35 7z" fill="#258083"/><path d="M6091 2697l31-26-34-14-31 26z" fill="#2666b6"/><path d="M5593 2702l34-14-32-24-33 14z" fill="#2155a3"/><path d="M6147 2686l31-28-35-12-31 27z" fill="#2774b4"/><path d="M5150 2538l36-4-30-32-35 3z" fill="#2c8055"/><path d="M5538 2692l33-13-31-24-34 12z" fill="#225da1"/><path d="M6396 2594l30-33-36-7-29 32z" fill="#33a78a"/><path d="M5288 2608l35-6-30-30-35 6z" fill="#268277"/><path d="M6203 2673l30-29-35-12-30 29z" fill="#2986b0"/><path d="M5482 2680l34-11-31-26-34 11z" fill="#22689a"/><path d="M6258 2657l31-30-36-10-30 29z" fill="#2a96aa"/><path d="M6453 2571l29-34-36-6-30 34z" fill="#37a77c"/><path d="M5093 2511l37-2-29-33-37 1z" fill="#2f7d4a"/><path d="M5426 2666l35-10-31-27-34 9z" fill="#237593"/><path d="M5232 2587l36-6-30-30-36 4z" fill="#28826a"/><path d="M5843 2735l32-20-33-19-32 20z" fill="#1f43ac"/><path d="M5898 2734l32-22-33-18-32 21z" fill="#1f46ae"/><path d="M5787 2734l33-18-33-20-33 18z" fill="#1e43aa"/><path d="M5954 2730l31-23-33-16-32 22z" fill="#204ab0"/><path d="M5732 2732l32-18-32-21-33 17z" fill="#1e44a8"/><path d="M6314 2640l30-32-35-9-30 31z" fill="#2d9c9f"/><path d="M6009 2724l32-24-34-15-32 23z" fill="#2251b2"/><path d="M5676 2727l33-16-32-22-33 15z" fill="#1f48a5"/><path d="M5371 2650l34-9-30-28-35 8z" fill="#237d89"/><path d="M6509 2546l29-36-36-5-29 36z" fill="#3ba86d"/><path d="M6065 2716l31-25-34-14-31 25z" fill="#235ab3"/><path d="M5620 2720l34-14-32-24-33 14z" fill="#1f4da3"/><path d="M5176 2563l36-4-30-32-36 4z" fill="#2a7f5c"/><path d="M5037 2482l36 0-28-35-37 0z" fill="#317b41"/><path d="M6121 2706l30-26-34-13-31 26z" fill="#2565b4"/><path d="M6371 2620l29-32-36-8-29 32z" fill="#30a394"/><path d="M5565 2711l33-13-31-24-34 12z" fill="#2054a0"/><path d="M5314 2631l35-7-30-29-35 7z" fill="#257f7d"/><path d="M6176 2694l31-28-35-12-30 28z" fill="#2775b2"/><path d="M5509 2700l34-12-31-25-34 11z" fill="#215d9d"/><path d="M5119 2537l36-2-29-33-36 2z" fill="#2d7d4f"/><path d="M6427 2598l29-34-36-6-29 33z" fill="#33a686"/><path d="M6232 2680l31-29-35-11-31 29z" fill="#2987ae"/><path d="M5258 2611l36-6-30-30-36 5z" fill="#268171"/><path d="M5453 2687l34-11-31-26-34 10z" fill="#226996"/><path d="M6289 2664l30-31-36-9-30 30z" fill="#2b96a7"/><path d="M5871 2749l32-21-33-18-32 20z" fill="#1e41aa"/><path d="M6484 2574l29-35-37-5-29 34z" fill="#37a677"/><path d="M5815 2749l33-19-33-19-33 18z" fill="#1e40a8"/><path d="M5927 2746l31-21-33-18-32 22z" fill="#1f43ad"/><path d="M5397 2671l35-9-31-27-35 8z" fill="#22778e"/><path d="M5759 2748l33-18-33-21-32 18z" fill="#1e40a6"/><path d="M5982 2742l32-23-34-16-32 22z" fill="#2048af"/><path d="M5062 2509l37-1-29-34-37 1z" fill="#2f7b45"/><path d="M5202 2588l36-4-30-32-36 4z" fill="#287f64"/><path d="M5704 2744l33-17-33-21-33 16z" fill="#1d41a5"/><path d="M6038 2735l31-24-34-15-31 24z" fill="#214fb0"/><path d="M6345 2645l30-31-36-9-30 31z" fill="#2d9c9c"/><path d="M5648 2738l33-15-32-23-33 14z" fill="#1e45a2"/><path d="M6094 2726l31-25-34-14-31 25z" fill="#2359b2"/><path d="M5341 2654l35-8-31-28-35 7z" fill="#237b83"/><path d="M5592 2730l34-14-32-24-34 13z" fill="#1f4c9f"/><path d="M6540 2548l29-36-37-4-28 35z" fill="#3ca768"/><path d="M6150 2715l31-27-35-12-31 26z" fill="#2565b3"/><path d="M5145 2563l36-3-29-32-36 2z" fill="#2b7d56"/><path d="M6401 2625l30-33-36-8-30 33z" fill="#30a390"/><path d="M5536 2719l34-12-32-25-34 12z" fill="#20539c"/><path d="M5005 2479l37 0-28-35-38-1z" fill="#32793c"/><path d="M6206 2702l31-28-35-11-31 28z" fill="#2776b0"/><path d="M5284 2634l36-6-30-30-36 6z" fill="#257e77"/><path d="M5480 2707l34-11-31-26-34 11z" fill="#215d99"/><path d="M6458 2602l29-35-36-6-29 34z" fill="#34a582"/><path d="M6262 2687l31-30-36-10-30 30z" fill="#298aac"/><path d="M5088 2536l37-2-29-33-37 1z" fill="#2d7b4a"/><path d="M5424 2693l34-10-31-27-34 9z" fill="#216b91"/><path d="M5228 2612l36-5-30-30-36 4z" fill="#267f6b"/><path d="M5843 2764l33-20-34-19-32 19z" fill="#1e3da6"/><path d="M5899 2762l32-21-33-17-32 20z" fill="#1e3fa8"/><path d="M5787 2763l33-19-33-20-33 18z" fill="#1d3da4"/><path d="M5955 2759l32-23-34-16-32 22z" fill="#1f41ab"/><path d="M6319 2670l30-31-36-9-30 30z" fill="#2b96a3"/><path d="M5731 2760l33-17-32-21-33 16z" fill="#1d3da2"/><path d="M6011 2753l32-23-34-16-32 23z" fill="#1f46ae"/><path d="M6515 2577l29-36-37-5-29 36z" fill="#38a573"/><path d="M5675 2755l34-16-33-22-33 15z" fill="#1d3ea1"/><path d="M5367 2676l35-8-30-28-35 7z" fill="#227889"/><path d="M6067 2746l32-25-35-15-31 25z" fill="#214eaf"/><path d="M5619 2748l34-15-32-23-34 14z" fill="#1d449e"/><path d="M5171 2588l36-3-29-32-37 3z" fill="#297d5d"/><path d="M6375 2650l30-32-36-8-30 32z" fill="#2e9d98"/><path d="M5031 2506l37 0-29-34-37-1z" fill="#307941"/><path d="M6123 2736l31-26-34-14-31 26z" fill="#2359b1"/><path d="M5563 2738l34-12-32-25-34 13z" fill="#1e4b9c"/><path d="M5311 2657l35-7-30-29-36 6z" fill="#237a7d"/><path d="M6180 2724l30-28-35-12-30 28z" fill="#2566b2"/><path d="M6572 2550l29-37-37-4-29 37z" fill="#3ca664"/><path d="M5507 2727l34-12-31-25-35 11z" fill="#1f5499"/><path d="M6432 2629l30-34-37-7-29 34z" fill="#31a38c"/><path d="M6236 2710l31-29-36-11-30 29z" fill="#2778ae"/><path d="M5114 2562l37-2-30-33-36 2z" fill="#2b7a50"/><path d="M5254 2636l36-5-30-30-36 4z" fill="#257d71"/><path d="M4973 2474l38 2-29-35-37-2z" fill="#327738"/><path d="M5451 2713l34-10-31-26-35 9z" fill="#205f94"/><path d="M6293 2694l30-31-36-9-30 30z" fill="#298daa"/><path d="M6489 2605l29-35-36-5-30 34z" fill="#35a47d"/><path d="M5872 2777l32-20-33-18-33 20z" fill="#1d3ba4"/><path d="M5816 2778l32-19-33-20-33 19z" fill="#1d3aa2"/><path d="M5928 2775l32-21-34-18-32 22z" fill="#1e3da6"/><path d="M5759 2776l33-18-33-20-33 17z" fill="#1d3aa0"/><path d="M5394 2698l35-9-31-28-35 9z" fill="#216d8d"/><path d="M5984 2771l32-23-34-16-32 22z" fill="#1e40a9"/><path d="M5057 2533l37 0-29-34-37 0z" fill="#2d7845"/><path d="M5703 2771l33-16-32-21-33 15z" fill="#1c3b9f"/><path d="M5197 2613l36-4-30-31-36 3z" fill="#277c65"/><path d="M6040 2764l32-24-35-15-31 24z" fill="#1f44ac"/><path d="M6349 2675l30-31-36-9-30 32z" fill="#2b97a0"/><path d="M5647 2765l34-15-33-22-33 14z" fill="#1c3d9e"/><path d="M6097 2756l31-26-35-14-31 26z" fill="#214eae"/><path d="M6546 2579l29-36-37-5-29 36z" fill="#39a46e"/><path d="M5337 2680l36-7-31-29-35 7z" fill="#227784"/><path d="M5591 2757l34-14-33-23-33 13z" fill="#1d439b"/><path d="M6153 2745l31-27-35-12-31 26z" fill="#2359af"/><path d="M6406 2655l30-33-36-7-30 32z" fill="#2e9d94"/><path d="M5140 2588l37-3-30-32-37 2z" fill="#297a57"/><path d="M5534 2746l34-12-31-25-35 12z" fill="#1e4b98"/><path d="M4999 2502l37 2-28-35-38-2z" fill="#30763d"/><path d="M6210 2732l30-28-35-11-31 27z" fill="#2567b1"/><path d="M5281 2660l35-6-30-30-36 5z" fill="#237978"/><path d="M5478 2734l34-11-31-26-35 10z" fill="#1f5496"/><path d="M6463 2632l30-34-37-6-29 34z" fill="#32a287"/><path d="M6266 2717l31-30-36-10-30 29z" fill="#277bac"/><path d="M5083 2560l37-1-30-33-37 0z" fill="#2b784a"/><path d="M5421 2719l35-9-31-27-35 8z" fill="#206190"/><path d="M5224 2637l36-4-30-31-37 4z" fill="#257c6c"/><path d="M5844 2792l33-20-34-18-32 19z" fill="#1d38a0"/><path d="M5900 2791l33-21-34-18-32 21z" fill="#1d3aa2"/><path d="M6323 2700l30-31-36-9-30 30z" fill="#2991a7"/><path d="M5788 2791l33-18-34-20-33 17z" fill="#1c389e"/><path d="M5957 2788l32-23-34-16-32 22z" fill="#1e3ca5"/><path d="M4941 2469l38 3-29-36-37-3z" fill="#337534"/><path d="M5731 2788l33-17-32-21-34 16z" fill="#1c389c"/><path d="M6013 2782l32-23-34-16-32 23z" fill="#1e3fa8"/><path d="M6521 2607l29-35-37-5-29 35z" fill="#36a378"/><path d="M5675 2782l33-15-32-22-34 15z" fill="#1c3a9b"/><path d="M6070 2775l31-25-35-14-31 24z" fill="#1f43ab"/><path d="M5364 2702l35-8-30-28-36 7z" fill="#207088"/><path d="M6380 2680l30-32-36-7-30 31z" fill="#2c979c"/><path d="M5618 2775l34-14-32-23-34 13z" fill="#1b3c9a"/><path d="M6126 2765l32-26-35-13-32 26z" fill="#214ead"/><path d="M5166 2613l37-3-30-32-37 3z" fill="#277a5e"/><path d="M5025 2530l37 1-29-35-37-1z" fill="#2e7641"/><path d="M5562 2765l34-12-32-25-34 12z" fill="#1c4398"/><path d="M6183 2753l31-27-35-12-31 27z" fill="#235bae"/><path d="M5307 2683l36-7-31-29-35 6z" fill="#22767e"/><path d="M6437 2659l30-34-37-6-29 33z" fill="#2f9e90"/><path d="M5505 2754l34-12-31-25-35 11z" fill="#1e4c95"/><path d="M6240 2740l31-29-36-11-31 28z" fill="#256aaf"/><path d="M5109 2586l37-1-30-33-37 1z" fill="#297851"/><path d="M5250 2661l36-4-30-31-36 5z" fill="#237872"/><path d="M4967 2498l38 2-29-35-38-3z" fill="#317438"/><path d="M5448 2740l35-10-31-27-35 10z" fill="#1f5692"/><path d="M6297 2723l30-30-36-9-30 29z" fill="#277eaa"/><path d="M6495 2635l29-35-37-5-29 34z" fill="#32a182"/><path d="M5873 2806l32-20-34-19-32 20z" fill="#1d369e"/><path d="M5816 2806l33-19-34-19-32 18z" fill="#1c369c"/><path d="M5929 2804l33-22-35-17-32 21z" fill="#1d38a0"/><path d="M5759 2803l34-17-34-20-33 16z" fill="#1c369a"/><path d="M5986 2799l32-22-34-16-32 22z" fill="#1d3ba3"/><path d="M5391 2724l35-9-31-27-35 8z" fill="#20648b"/><path d="M6354 2705l30-31-36-8-30 30z" fill="#2991a3"/><path d="M5703 2799l33-16-33-22-33 16z" fill="#1b3799"/><path d="M6043 2793l31-24-34-15-32 24z" fill="#1e3ea7"/><path d="M5051 2557l37 0-29-33-37-1z" fill="#2c7645"/><path d="M5193 2638l36-4-30-31-36 3z" fill="#257a65"/><path d="M5646 2792l34-14-33-23-33 14z" fill="#1b3998"/><path d="M6099 2785l32-26-35-13-32 25z" fill="#1e43aa"/><path d="M5334 2705l36-6-31-29-36 6z" fill="#207383"/><path d="M5589 2784l34-13-32-24-34 12z" fill="#1b3b97"/><path d="M6156 2774l31-27-35-12-31 26z" fill="#214fac"/><path d="M6411 2685l30-33-36-7-30 32z" fill="#2c9898"/><path d="M5135 2612l37-2-30-32-37 1z" fill="#277758"/><path d="M5532 2773l35-12-32-25-35 12z" fill="#1c4494"/><path d="M6213 2761l31-28-36-11-30 28z" fill="#235cad"/><path d="M4993 2526l37 2-28-35-38-2z" fill="#2e743d"/><path d="M5277 2685l36-5-31-30-36 5z" fill="#227577"/><path d="M6469 2662l30-34-37-6-30 34z" fill="#2f9f8c"/><path d="M5475 2760l35-10-31-26-35 10z" fill="#1d4d92"/><path d="M6270 2746l31-29-36-10-31 29z" fill="#256dac"/><path d="M5077 2584l37 0-29-34-37 0z" fill="#2a764b"/><path d="M5418 2745l35-9-31-27-35 8z" fill="#1f598e"/><path d="M6328 2729l30-30-36-9-31 30z" fill="#2783a8"/><path d="M5219 2662l36-4-30-30-36 3z" fill="#23786b"/><path d="M5902 2819l32-21-34-17-32 20z" fill="#1c359c"/><path d="M5845 2820l33-19-34-19-33 19z" fill="#1c349a"/><path d="M5958 2816l33-22-35-16-32 21z" fill="#1d379f"/><path d="M5788 2819l33-18-33-20-34 17z" fill="#1c3398"/><path d="M6015 2811l32-23-34-16-32 23z" fill="#1d3aa2"/><path d="M5731 2815l33-16-33-21-33 16z" fill="#1b3496"/><path d="M6072 2804l32-25-35-14-32 24z" fill="#1e3ea6"/><path d="M5674 2810l34-15-33-23-34 15z" fill="#1b3595"/><path d="M5361 2728l36-8-32-28-35 7z" fill="#1f6886"/><path d="M6385 2710l30-32-36-7-30 31z" fill="#2a929f"/><path d="M6129 2794l32-26-36-13-31 26z" fill="#1e44a9"/><path d="M5617 2802l34-14-32-23-34 13z" fill="#1b3895"/><path d="M5161 2637l37-2-30-32-37 2z" fill="#26775f"/><path d="M5019 2554l37 1-29-35-37-1z" fill="#2c7441"/><path d="M6187 2783l31-28-36-12-31 27z" fill="#2150ab"/><path d="M5560 2792l34-12-32-25-34 12z" fill="#1b3c94"/><path d="M5304 2708l35-6-30-29-36 5z" fill="#20727d"/><path d="M6443 2689l30-34-37-6-30 33z" fill="#2d9994"/><path d="M6244 2769l31-29-36-10-31 28z" fill="#235eac"/><path d="M5503 2780l35-11-32-25-35 10z" fill="#1c4591"/><path d="M5103 2610l37-1-29-33-37 1z" fill="#287551"/><path d="M5246 2686l36-4-30-30-37 4z" fill="#227571"/><path d="M6301 2753l31-30-37-9-30 29z" fill="#2571aa"/><path d="M5446 2766l35-10-32-26-35 9z" fill="#1d4f8f"/><path d="M5874 2834l32-20-34-18-32 19z" fill="#1c3297"/><path d="M5931 2832l32-21-34-17-33 20z" fill="#1c339a"/><path d="M5817 2833l33-18-34-19-33 17z" fill="#1b3195"/><path d="M5988 2828l32-23-35-16-32 22z" fill="#1d369e"/><path d="M5759 2831l34-17-34-21-33 17z" fill="#1b3194"/><path d="M6359 2735l30-31-37-9-30 31z" fill="#2788a5"/><path d="M5388 2749l36-8-32-27-35 7z" fill="#1e5c89"/><path d="M6045 2822l32-24-35-15-32 23z" fill="#1d39a1"/><path d="M5702 2826l34-15-33-22-34 15z" fill="#1b3393"/><path d="M5045 2581l38 0-30-33-37-2z" fill="#2a7345"/><path d="M5188 2662l37-3-31-31-36 3z" fill="#247765"/><path d="M6102 2813l32-25-35-13-32 24z" fill="#1d3ea5"/><path d="M5645 2819l34-14-33-23-34 14z" fill="#1a3592"/><path d="M6160 2803l31-26-36-13-31 26z" fill="#1f45a8"/><path d="M6417 2714l30-32-37-7-30 32z" fill="#2a939b"/><path d="M5331 2731l35-7-31-29-35 6z" fill="#1f6c82"/><path d="M5588 2810l34-12-32-24-35 12z" fill="#1a3792"/><path d="M6217 2790l31-27-36-12-31 28z" fill="#2152aa"/><path d="M5531 2799l34-11-32-25-35 11z" fill="#1b3d91"/><path d="M5130 2636l37-1-30-33-37 1z" fill="#267558"/><path d="M5273 2710l36-5-31-30-36 5z" fill="#217177"/><path d="M6275 2776l30-29-36-10-31 28z" fill="#2461ac"/><path d="M5473 2786l35-10-32-26-35 9z" fill="#1c478e"/><path d="M6332 2759l31-31-37-9-30 30z" fill="#2676a8"/><path d="M5071 2608l38 0-30-34-37 0z" fill="#28734b"/><path d="M5415 2770l36-8-32-27-35 8z" fill="#1e528c"/><path d="M5903 2847l32-20-34-18-33 20z" fill="#1c3095"/><path d="M5845 2847l33-18-34-19-33 18z" fill="#1b2f92"/><path d="M5215 2687l36-4-30-31-37 3z" fill="#22746b"/><path d="M5960 2844l32-22-34-16-33 21z" fill="#1c3298"/><path d="M5788 2846l33-18-33-19-34 17z" fill="#1b2f91"/><path d="M6017 2839l33-23-35-15-32 22z" fill="#1c359c"/><path d="M5731 2842l33-16-33-21-34 16z" fill="#1a3091"/><path d="M6075 2832l32-24-36-14-31 23z" fill="#1d39a0"/><path d="M5673 2836l34-14-33-22-34 14z" fill="#1a3290"/><path d="M6390 2739l31-31-37-8-31 31z" fill="#288da2"/><path d="M5358 2753l35-7-31-28-36 6z" fill="#1e6185"/><path d="M6132 2823l32-26-36-13-31 25z" fill="#1d3ea4"/><path d="M5616 2828l34-13-32-23-35 13z" fill="#1a348f"/><path d="M5156 2661l37-2-30-31-37 1z" fill="#24745e"/><path d="M6190 2811l31-27-36-11-31 26z" fill="#1f47a7"/><path d="M5558 2818l35-12-32-24-35 11z" fill="#1a378f"/><path d="M5300 2733l36-6-31-29-36 5z" fill="#1f6e7c"/><path d="M6248 2798l31-29-37-10-30 28z" fill="#2155a9"/><path d="M5501 2806l35-11-32-25-35 10z" fill="#1b3f8d"/><path d="M5098 2634l37-1-29-32-38 0z" fill="#267351"/><path d="M6306 2782l30-30-36-9-31 29z" fill="#2465aa"/><path d="M5242 2711l36-4-30-31-37 4z" fill="#217171"/><path d="M5443 2791l35-9-31-26-36 8z" fill="#1c498b"/><path d="M5875 2861l33-19-35-18-33 18z" fill="#1b2e90"/><path d="M5932 2860l33-21-35-17-32 20z" fill="#1b2f93"/><path d="M5817 2861l33-18-34-20-33 18z" fill="#1b2d8e"/><path d="M5990 2856l32-22-35-16-32 21z" fill="#1c3297"/><path d="M6364 2764l30-31-37-8-30 30z" fill="#267ba5"/><path d="M5759 2858l34-17-34-20-33 16z" fill="#1a2e8d"/><path d="M6047 2850l32-24-35-14-32 23z" fill="#1c359c"/><path d="M5385 2775l36-8-32-28-35 7z" fill="#1d5687"/><path d="M5702 2853l34-15-34-22-33 15z" fill="#1a2f8e"/><path d="M5183 2686l37-2-30-31-37 2z" fill="#227465"/><path d="M6105 2842l32-25-36-14-31 25z" fill="#1d399f"/><path d="M5644 2846l34-14-33-23-34 14z" fill="#1a318d"/><path d="M6163 2832l31-27-36-12-31 26z" fill="#1d3ea4"/><path d="M5586 2837l35-13-33-24-34 12z" fill="#19348d"/><path d="M5327 2756l36-7-31-28-36 5z" fill="#1e6580"/><path d="M6221 2819l31-27-36-12-31 27z" fill="#1f49a6"/><path d="M5529 2825l35-11-33-25-35 11z" fill="#19378d"/><path d="M5124 2660l38-1-30-33-38 1z" fill="#257258"/><path d="M6279 2804l31-28-37-10-31 28z" fill="#2258a8"/><path d="M5269 2734l36-4-31-30-36 4z" fill="#1f6e76"/><path d="M5471 2812l35-10-32-26-35 9z" fill="#1b418b"/><path d="M6337 2788l31-31-37-8-31 29z" fill="#246aa8"/><path d="M5904 2874l33-20-35-17-33 19z" fill="#1b2c8d"/><path d="M5846 2875l33-19-34-19-33 18z" fill="#1a2c8b"/><path d="M5413 2796l35-8-31-27-36 7z" fill="#1c4c88"/><path d="M5962 2872l32-22-35-16-32 21z" fill="#1b2e91"/><path d="M5788 2873l34-17-34-20-34 17z" fill="#1a2c8a"/><path d="M5210 2711l37-3-31-31-37 3z" fill="#21716a"/><path d="M6020 2867l32-23-35-15-33 22z" fill="#1c3196"/><path d="M5731 2869l33-16-33-21-34 15z" fill="#1a2d8a"/><path d="M6078 2860l32-24-36-14-32 24z" fill="#1c359b"/><path d="M5673 2863l34-14-33-23-35 14z" fill="#192e8b"/><path d="M6136 2851l31-25-36-13-31 25z" fill="#1d3a9f"/><path d="M5354 2778l36-7-31-28-36 6z" fill="#1d5a82"/><path d="M5615 2855l34-13-33-24-34 13z" fill="#19318b"/><path d="M6194 2840l31-27-36-12-32 27z" fill="#1d3fa4"/><path d="M5151 2685l38-1-31-32-37 1z" fill="#23725e"/><path d="M5557 2844l35-11-33-25-35 11z" fill="#19348b"/><path d="M5296 2757l36-5-31-29-36 5z" fill="#1e6b7b"/><path d="M6252 2826l31-28-37-10-31 27z" fill="#1f4ca6"/><path d="M5499 2831l35-10-32-25-36 9z" fill="#193a8a"/><path d="M6310 2811l31-30-37-9-31 29z" fill="#225ca8"/><path d="M5237 2735l37-4-31-30-37 3z" fill="#206d70"/><path d="M5440 2817l36-9-32-27-36 8z" fill="#1b4488"/><path d="M5876 2888l33-19-35-18-33 19z" fill="#1a2a89"/><path d="M5934 2887l32-20-34-17-33 20z" fill="#1b2b8c"/><path d="M5818 2888l33-18-34-19-34 17z" fill="#1a2a87"/><path d="M5992 2883l32-21-35-16-33 21z" fill="#1b2e90"/><path d="M5759 2885l34-17-34-20-33 16z" fill="#192a87"/><path d="M6050 2878l32-23-35-15-33 23z" fill="#1b3195"/><path d="M5382 2799l36-7-32-27-36 6z" fill="#1c5085"/><path d="M5701 2879l35-14-34-22-34 14z" fill="#192c87"/><path d="M6108 2870l32-25-36-13-32 24z" fill="#1c359a"/><path d="M5178 2710l38-2-31-31-37 1z" fill="#217164"/><path d="M5643 2872l35-13-33-23-35 13z" fill="#192e89"/><path d="M6166 2860l32-26-36-12-32 25z" fill="#1c3a9f"/><path d="M5585 2863l35-13-33-23-35 11z" fill="#193188"/><path d="M5323 2780l37-6-32-28-36 5z" fill="#1d607e"/><path d="M6225 2847l31-27-37-11-31 27z" fill="#1d41a3"/><path d="M5527 2851l35-11-33-25-35 10z" fill="#183489"/><path d="M6283 2833l31-29-37-9-31 28z" fill="#2050a5"/><path d="M5264 2758l37-4-31-30-37 4z" fill="#1e6a75"/><path d="M5468 2837l36-9-32-26-36 8z" fill="#193d87"/><path d="M5905 2902l33-20-34-18-34 19z" fill="#1a2987"/><path d="M5847 2902l33-19-34-18-34 17z" fill="#1a2885"/><path d="M5963 2899l33-21-35-16-33 20z" fill="#1a2b8a"/><path d="M5410 2821l36-8-32-27-36 7z" fill="#1b4785"/><path d="M5789 2900l33-17-34-20-34 16z" fill="#192884"/><path d="M6022 2895l32-23-35-15-33 22z" fill="#1b2d8f"/><path d="M5205 2735l38-3-31-31-37 2z" fill="#206d69"/><path d="M5730 2895l34-15-33-21-35 15z" fill="#192984"/><path d="M6080 2888l32-24-35-14-33 23z" fill="#1b3195"/><path d="M5672 2889l34-14-33-22-35 13z" fill="#192b85"/><path d="M6139 2879l32-25-37-13-31 25z" fill="#1c369a"/><path d="M5351 2802l36-6-31-28-37 6z" fill="#1c5580"/><path d="M5614 2880l34-12-33-23-35 12z" fill="#182e86"/><path d="M6197 2868l32-27-37-11-31 26z" fill="#1c3b9f"/><path d="M5555 2870l35-12-33-24-35 11z" fill="#183186"/><path d="M6256 2855l31-28-37-11-31 28z" fill="#1e44a2"/><path d="M5292 2782l37-5-32-29-36 4z" fill="#1d6579"/><path d="M5496 2857l36-10-33-26-35 10z" fill="#183586"/><path d="M5233 2759l37-4-31-30-37 3z" fill="#1f6a6e"/><path d="M5438 2841l36-8-33-26-36 7z" fill="#1a4084"/><path d="M5877 2915l33-19-35-18-33 19z" fill="#1a2783"/><path d="M5935 2914l33-20-35-17-33 20z" fill="#1a2885"/><path d="M5818 2914l34-17-35-19-33 16z" fill="#192781"/><path d="M5994 2911l32-22-35-16-33 22z" fill="#1a2a89"/><path d="M5759 2911l35-16-35-20-34 15z" fill="#192781"/><path d="M6052 2905l33-23-36-14-33 22z" fill="#1b2d8f"/><path d="M5701 2906l34-15-33-22-35 14z" fill="#182982"/><path d="M5379 2824l36-7-32-28-36 7z" fill="#1b4b82"/><path d="M6111 2898l32-25-36-13-32 24z" fill="#1b3195"/><path d="M5642 2898l35-13-33-23-35 13z" fill="#182b83"/><path d="M6170 2888l32-26-37-12-32 25z" fill="#1c369a"/><path d="M5584 2888l35-12-33-23-36 11z" fill="#182e84"/><path d="M5319 2804l37-5-31-29-37 5z" fill="#1c5b7c"/><path d="M6229 2875l31-27-37-10-31 26z" fill="#1c3c9f"/><path d="M5525 2876l35-10-33-25-35 10z" fill="#183284"/><path d="M5260 2782l37-4-31-29-37 3z" fill="#1d6773"/><path d="M5466 2862l36-9-33-26-36 8z" fill="#183984"/><path d="M5906 2928l34-19-35-17-34 18z" fill="#192681"/><path d="M5848 2928l33-18-34-18-34 17z" fill="#19257f"/><path d="M5965 2926l33-20-35-17-33 20z" fill="#1a2884"/><path d="M5789 2926l34-17-34-19-35 16z" fill="#19267e"/><path d="M5407 2845l36-7-32-27-37 7z" fill="#1a4482"/><path d="M6024 2922l33-22-36-15-33 21z" fill="#1a2a89"/><path d="M5730 2922l34-16-34-21-34 15z" fill="#18277e"/><path d="M6083 2915l32-23-36-14-32 23z" fill="#1b2e8f"/><path d="M5671 2915l35-14-34-22-35 13z" fill="#182980"/><path d="M6142 2907l32-25-36-13-33 24z" fill="#1b3295"/><path d="M5347 2826l37-5-32-29-37 6z" fill="#1b517e"/><path d="M5612 2906l35-12-33-24-35 12z" fill="#182b82"/><path d="M6201 2896l32-27-37-11-32 26z" fill="#1c379a"/><path d="M5553 2895l36-11-33-24-36 10z" fill="#172f82"/><path d="M5288 2805l37-4-32-29-37 4z" fill="#1c6177"/><path d="M5494 2882l36-10-33-25-36 9z" fill="#173283"/><path d="M5435 2866l36-8-32-27-37 8z" fill="#193c81"/><path d="M5937 2941l33-20-35-17-34 20z" fill="#192580"/><path d="M5878 2942l33-19-35-18-33 18z" fill="#19247d"/><path d="M5996 2938l33-21-36-16-33 21z" fill="#1a2784"/><path d="M5819 2941l34-18-35-19-34 17z" fill="#18247c"/><path d="M6055 2933l32-23-36-15-32 22z" fill="#1a2a89"/><path d="M5759 2937l35-16-35-20-34 15z" fill="#18257c"/><path d="M6114 2925l32-24-36-13-32 23z" fill="#1b2e8f"/><path d="M5700 2931l35-14-34-21-35 13z" fill="#18277d"/><path d="M5375 2848l37-6-32-28-37 6z" fill="#1a487f"/><path d="M6173 2915l32-25-37-12-32 25z" fill="#1b3396"/><path d="M5641 2923l35-12-33-23-35 12z" fill="#17297e"/><path d="M5582 2913l35-11-33-24-35 11z" fill="#172c80"/><path d="M5316 2828l37-5-32-29-37 5z" fill="#1b5779"/><path d="M5523 2901l35-10-33-25-35 9z" fill="#172f81"/><path d="M5463 2886l36-8-32-26-37 8z" fill="#173580"/><path d="M5908 2955l33-19-35-18-34 19z" fill="#19237c"/><path d="M5967 2953l33-20-35-17-34 20z" fill="#19257f"/><path d="M5848 2955l34-18-35-19-34 17z" fill="#18237a"/><path d="M6026 2949l33-22-36-15-33 21z" fill="#1a2783"/><path d="M5789 2952l34-16-34-20-34 16z" fill="#182379"/><path d="M5403 2869l37-7-32-27-37 7z" fill="#19407f"/><path d="M6086 2943l32-24-36-14-33 23z" fill="#1a2b89"/><path d="M5730 2947l34-14-34-21-34 14z" fill="#18257a"/><path d="M6145 2934l33-25-37-12-32 24z" fill="#1b2f90"/><path d="M5670 2940l35-13-34-22-35 13z" fill="#17277b"/><path d="M5344 2850l37-5-32-29-37 5z" fill="#1b4d7b"/><path d="M5611 2931l35-12-33-23-36 11z" fill="#17297e"/><path d="M5551 2920l36-11-33-24-36 10z" fill="#172d7f"/><path d="M5492 2906l36-9-33-25-36 8z" fill="#17317f"/><path d="M5432 2890l36-7-32-27-37 7z" fill="#183a7e"/><path d="M5938 2967l34-19-36-17-33 19z" fill="#19237b"/><path d="M5879 2968l34-18-36-18-34 18z" fill="#18237a"/><path d="M5998 2965l33-21-36-16-33 20z" fill="#19257f"/><path d="M5819 2967l34-17-35-19-34 16z" fill="#182277"/><path d="M6057 2959l33-22-36-14-33 21z" fill="#192883"/><path d="M5760 2963l34-16-35-20-34 15z" fill="#172377"/><path d="M6117 2952l33-24-37-13-33 23z" fill="#1a2b8a"/><path d="M5700 2957l35-14-34-22-35 14z" fill="#172578"/><path d="M5372 2872l37-6-32-28-37 6z" fill="#1a457c"/><path d="M5640 2949l36-13-34-23-36 12z" fill="#17277a"/><path d="M5580 2938l36-11-33-24-36 11z" fill="#172a7d"/><path d="M5521 2925l36-9-34-25-36 9z" fill="#162e7d"/><path d="M5460 2910l37-8-33-26-36 8z" fill="#17337d"/><path d="M5909 2981l34-19-36-17-34 18z" fill="#18237a"/><path d="M5969 2979l33-20-36-16-33 20z" fill="#19237b"/><path d="M5849 2981l34-18-35-18-34 16z" fill="#182277"/><path d="M6029 2976l33-22-36-15-34 21z" fill="#19257e"/><path d="M5789 2978l35-16-35-20-34 15z" fill="#172275"/><path d="M5400 2893l37-6-32-28-37 6z" fill="#183e7c"/><path d="M6089 2969l33-23-37-13-33 22z" fill="#192884"/><path d="M5730 2973l34-15-34-21-35 14z" fill="#172376"/><path d="M5670 2965l35-13-34-22-36 13z" fill="#172577"/><path d="M5610 2956l35-12-34-23-35 11z" fill="#16287a"/><path d="M5550 2944l36-10-34-24-36 9z" fill="#162b7b"/><path d="M5489 2930l37-8-33-26-37 8z" fill="#162f7c"/><path d="M5429 2914l37-7-33-27-37 7z" fill="#17377b"/><path d="M5940 2994l34-20-36-17-34 19z" fill="#182379"/><path d="M5880 2994l34-18-36-18-34 17z" fill="#182278"/><path d="M6000 2991l33-21-36-15-33 20z" fill="#19237b"/><path d="M5820 2992l34-16-35-19-35 15z" fill="#172175"/><path d="M6060 2986l33-22-37-15-33 22z" fill="#19257f"/><path d="M5760 2988l34-15-34-20-35 14z" fill="#172173"/><path d="M5699 2982l36-14-35-21-35 13z" fill="#172374"/><path d="M5639 2973l36-12-34-22-36 11z" fill="#162676"/><path d="M5579 2962l36-10-34-24-36 10z" fill="#162979"/><path d="M5518 2949l37-9-34-25-36 9z" fill="#162c7a"/><path d="M5458 2934l37-8-33-26-37 8z" fill="#16317a"/><path d="M5910 3007l34-19-35-17-34 18z" fill="#182277"/><path d="M5971 3005l34-19-37-17-34 20z" fill="#182379"/><path d="M5850 3006l35-17-36-18-34 16z" fill="#172175"/><path d="M6031 3002l34-21-37-15-33 20z" fill="#18237a"/><path d="M5790 3003l35-15-36-20-34 15z" fill="#172172"/><path d="M5729 2998l35-14-34-21-36 13z" fill="#162172"/><path d="M5669 2990l35-12-34-23-36 13z" fill="#162474"/><path d="M5608 2980l36-11-34-23-36 11z" fill="#162676"/><path d="M5548 2968l36-9-34-25-36 9z" fill="#162a78"/><path d="M5487 2954l37-8-34-26-37 8z" fill="#162e79"/><path d="M5941 3019l34-19-36-16-34 18z" fill="#182277"/><path d="M5881 3020l34-18-36-18-34 17z" fill="#172275"/><path d="M6002 3017l34-21-37-15-34 20z" fill="#182279"/><path d="M5820 3017l35-16-36-19-34 16z" fill="#172173"/><path d="M5760 3013l35-15-35-20-36 14z" fill="#162070"/><path d="M5699 3007l35-14-34-21-36 13z" fill="#162271"/><path d="M5638 2998l36-12-34-23-36 12z" fill="#162473"/><path d="M5577 2987l36-11-34-23-36 9z" fill="#162776"/><path d="M5516 2973l37-9-34-25-37 9z" fill="#152b77"/><path d="M5912 3032l34-18-36-17-34 18z" fill="#172275"/><path d="M5973 3031l34-19-37-16-34 19z" fill="#182277"/><path d="M5851 3031l35-16-36-19-35 16z" fill="#172173"/><path d="M5790 3028l35-15-35-20-35 15z" fill="#162070"/><path d="M5729 3022l35-13-35-21-35 13z" fill="#16206f"/><path d="M5668 3015l36-13-35-22-36 12z" fill="#162371"/><path d="M5607 3004l36-10-34-24-36 11z" fill="#152573"/><path d="M5546 2992l36-9-34-25-36 9z" fill="#152975"/><path d="M5943 3045l34-19-36-17-34 18z" fill="#172175"/><path d="M5882 3045l35-18-37-17-34 16z" fill="#172173"/><path d="M5821 3042l35-15-36-20-35 16z" fill="#162070"/><path d="M5760 3038l35-15-35-20-36 14z" fill="#161f6d"/><path d="M5698 3031l36-13-35-21-36 12z" fill="#16216e"/><path d="M5637 3022l36-12-35-22-36 11z" fill="#152471"/><path d="M5575 3010l37-10-34-23-37 9z" fill="#152774"/><path d="M5913 3058l35-18-37-18-34 18z" fill="#172173"/><path d="M5852 3056l35-16-36-19-35 16z" fill="#172071"/><path d="M5790 3053l36-15-36-20-35 14z" fill="#161f6e"/><path d="M5729 3047l36-14-36-21-36 13z" fill="#15206d"/><path d="M5667 3039l36-12-35-22-36 11z" fill="#15226e"/><path d="M5606 3028l36-10-34-24-37 10z" fill="#152571"/><path d="M5883 3070l35-17-37-18-34 16z" fill="#172071"/><path d="M5821 3067l36-16-36-19-36 15z" fill="#161f6e"/><path d="M5760 3062l35-14-35-20-36 13z" fill="#151f6b"/><path d="M5698 3055l36-13-35-21-37 12z" fill="#15216c"/><path d="M5636 3045l36-11-35-22-36 10z" fill="#15236f"/><path d="M5853 3081l35-16-37-19-35 16z" fill="#161f6e"/><path d="M5791 3077l35-15-36-19-35 14z" fill="#151f6b"/><path d="M5728 3071l37-13-36-21-36 12z" fill="#151f6b"/><path d="M5666 3062l37-11-35-22-37 11z" fill="#15226c"/><path d="M5822 3091l35-15-36-19-35 15z" fill="#151f6b"/><path d="M5760 3086l36-14-36-20-36 13z" fill="#151e69"/><path d="M5697 3078l37-12-36-21-36 11z" fill="#15206b"/><path d="M5791 3101l36-15-37-19-35 13z" fill="#151e69"/><path d="M5728 3094l37-12-36-21-37 12z" fill="#151f69"/><path d="M5760 3109l36-13-36-20-37 13z" fill="#151e68"/></g><text x="468.6" y="196.1" font-size="13.5" fill="#333" textLength="13.2" lengthAdjust="spacingAndGlyphs">(f)</text><text transform="translate(462.4 256.5) rotate(-90)" x="0" y="1.6" text-anchor="middle" font-size="4.7" fill="#555" textLength="54" lengthAdjust="spacingAndGlyphs">Average particle size (nm)</text><text x="492.4" y="284.5" text-anchor="end" font-size="3.6" font-weight="bold" fill="#666">0</text><text x="491.6" y="267.6" text-anchor="end" font-size="3.6" font-weight="bold" fill="#666">1000</text><text x="490.8" y="250.8" text-anchor="end" font-size="3.6" font-weight="bold" fill="#666">2000</text><text x="490" y="233.9" text-anchor="end" font-size="3.6" font-weight="bold" fill="#666">3000</text><text x="489.2" y="217.1" text-anchor="end" font-size="3.6" font-weight="bold" fill="#666">4000</text><text x="488.4" y="200.3" text-anchor="end" font-size="3.6" font-weight="bold" fill="#666">5000</text><text x="572" y="355" text-anchor="middle" font-size="3" fill="#777">275</text><text x="555.8" y="347.3" text-anchor="middle" font-size="3" fill="#777">250</text><text x="539.6" y="339.5" text-anchor="middle" font-size="3" fill="#777">225</text><text x="523.4" y="331.8" text-anchor="middle" font-size="3" fill="#777">200</text><text x="507.2" y="324.1" text-anchor="middle" font-size="3" fill="#777">175</text><text x="491" y="316.3" text-anchor="middle" font-size="3" fill="#777">150</text><text x="580.3" y="355" text-anchor="middle" font-size="3" fill="#777">1</text><text x="596.4" y="347.3" text-anchor="middle" font-size="3" fill="#777">1.2</text><text x="612.6" y="339.6" text-anchor="middle" font-size="3" fill="#777">1.4</text><text x="628.8" y="331.8" text-anchor="middle" font-size="3" fill="#777">1.6</text><text x="644.9" y="324.1" text-anchor="middle" font-size="3" fill="#777">1.8</text><text x="661.1" y="316.4" text-anchor="middle" font-size="3" fill="#777">2</text><path d="M575.4 351.2h1.2M559.2 343.5h1.2M543 335.7h1.2M526.8 328h1.2M510.6 320.3h1.2M494.4 312.5h1.2M575.4 351.2h1.2M591.5 343.5h1.2M607.7 335.8h1.2M623.9 328h1.2M640 320.3h1.2M656.2 312.6h1.2" stroke="#553" stroke-width="1"/><text x="504.2" y="347.5" text-anchor="middle" font-size="5.6" fill="#333" stroke="#333" stroke-width=".12" textLength="73.8" lengthAdjust="spacingAndGlyphs">D: Flow ratio of CO2/Solution (g/g)</text><text x="647.3" y="347.5" text-anchor="middle" font-size="5.6" fill="#333" stroke="#333" stroke-width=".12" textLength="71" lengthAdjust="spacingAndGlyphs">C: Solution concentration (mg/mL)</text><circle cx="489.6" cy="239.3" r="1.5" fill="#a01c2c"/><circle cx="658.6" cy="252.9" r="1.5" fill="#d88090"/><circle cx="574.1" cy="272.3" r="1.5" fill="#a01c2c"/><circle cx="574.1" cy="270.3" r="1.5" fill="#a01c2c"/><circle cx="574.6" cy="308" r="1.5" fill="#a01c2c"/></svg></body></html>
